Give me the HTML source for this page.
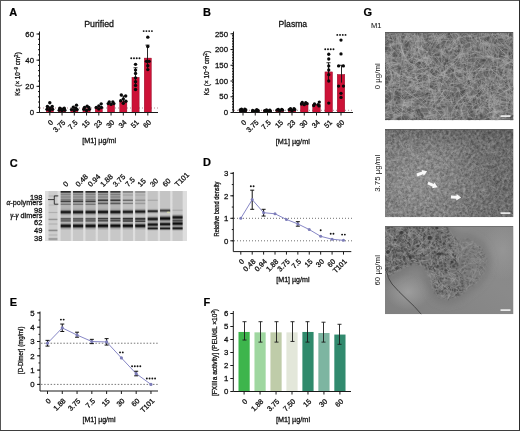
<!DOCTYPE html>
<html><head><meta charset="utf-8"><style>
html,body{margin:0;padding:0;background:#fff;}
svg{display:block;opacity:0.999;}
text{font-family:"Liberation Sans",sans-serif;}
</style></head><body>
<svg width="520" height="431" viewBox="0 0 520 431" font-family="Liberation Sans, sans-serif">
<defs>
<filter id="bl" x="-5%" y="-5%" width="110%" height="110%"><feGaussianBlur stdDeviation="0.65"/></filter>
<filter id="bl2"><feGaussianBlur stdDeviation="0.45"/></filter>
<filter id="turb1" x="0" y="0" width="100%" height="100%" color-interpolation-filters="sRGB"><feTurbulence type="fractalNoise" baseFrequency="0.12" numOctaves="2" seed="4"/><feColorMatrix type="matrix" values="1.6 0 0 0 -0.33  1.6 0 0 0 -0.33  1.6 0 0 0 -0.33  0 0 0 0 1"/></filter>
<filter id="turb2" x="0" y="0" width="100%" height="100%" color-interpolation-filters="sRGB"><feTurbulence type="fractalNoise" baseFrequency="0.35" numOctaves="2" seed="9"/><feColorMatrix type="matrix" values="1.6 0 0 0 -0.33  1.6 0 0 0 -0.33  1.6 0 0 0 -0.33  0 0 0 0 1"/></filter>
<filter id="bl5" x="-20%" y="-20%" width="140%" height="140%"><feGaussianBlur stdDeviation="3.5"/></filter>
<filter id="bl3"><feGaussianBlur stdDeviation="2"/></filter>
<filter id="bl4" x="-10%" y="-10%" width="120%" height="120%"><feGaussianBlur stdDeviation="1.3"/></filter>
</defs>
<rect width="520" height="431" fill="#fff"/>
<text x="9.30" y="15.80" font-size="11" text-anchor="start" fill="#000" stroke="#000" stroke-width="0.2" font-weight="bold">A</text>
<text x="203.00" y="15.60" font-size="11" text-anchor="start" fill="#000" stroke="#000" stroke-width="0.2" font-weight="bold">B</text>
<text x="9.70" y="166.70" font-size="11" text-anchor="start" fill="#000" stroke="#000" stroke-width="0.2" font-weight="bold">C</text>
<text x="203.00" y="166.40" font-size="11" text-anchor="start" fill="#000" stroke="#000" stroke-width="0.2" font-weight="bold">D</text>
<text x="9.70" y="305.80" font-size="11" text-anchor="start" fill="#000" stroke="#000" stroke-width="0.2" font-weight="bold">E</text>
<text x="203.40" y="305.80" font-size="11" text-anchor="start" fill="#000" stroke="#000" stroke-width="0.2" font-weight="bold">F</text>
<text x="363.50" y="15.80" font-size="11" text-anchor="start" fill="#000" stroke="#000" stroke-width="0.2" font-weight="bold">G</text>
<text x="99.10" y="26.50" font-size="8.8" text-anchor="middle" fill="#111" stroke="#111" stroke-width="0.28">Purified</text>
<line x1="40.00" y1="108.00" x2="159.00" y2="108.00" stroke="#a06a75" stroke-width="0.8" stroke-dasharray="1 2"/>
<rect x="46.20" y="107.92" width="7.20" height="4.58" fill="#cc1237" stroke="#8a0b25" stroke-width="0.4"/>
<circle cx="49.80" cy="102.82" r="1.7" fill="#0a0a0a" />
<circle cx="47.40" cy="106.48" r="1.7" fill="#0a0a0a" />
<circle cx="52.20" cy="106.48" r="1.7" fill="#0a0a0a" />
<circle cx="49.80" cy="107.92" r="1.7" fill="#0a0a0a" />
<circle cx="47.00" cy="109.36" r="1.7" fill="#0a0a0a" />
<circle cx="52.60" cy="109.36" r="1.7" fill="#0a0a0a" />
<circle cx="49.80" cy="110.41" r="1.7" fill="#0a0a0a" />
<rect x="58.45" y="109.23" width="7.20" height="3.27" fill="#cc1237" stroke="#8a0b25" stroke-width="0.4"/>
<circle cx="59.85" cy="108.18" r="1.7" fill="#0a0a0a" />
<circle cx="64.25" cy="108.18" r="1.7" fill="#0a0a0a" />
<circle cx="62.05" cy="109.10" r="1.7" fill="#0a0a0a" />
<circle cx="59.25" cy="110.14" r="1.7" fill="#0a0a0a" />
<circle cx="64.85" cy="110.14" r="1.7" fill="#0a0a0a" />
<circle cx="62.05" cy="110.54" r="1.7" fill="#0a0a0a" />
<rect x="70.70" y="109.23" width="7.20" height="3.27" fill="#cc1237" stroke="#8a0b25" stroke-width="0.4"/>
<circle cx="76.50" cy="105.17" r="1.7" fill="#0a0a0a" />
<circle cx="73.30" cy="107.27" r="1.7" fill="#0a0a0a" />
<circle cx="75.80" cy="108.31" r="1.7" fill="#0a0a0a" />
<circle cx="71.50" cy="109.62" r="1.7" fill="#0a0a0a" />
<circle cx="77.10" cy="109.62" r="1.7" fill="#0a0a0a" />
<circle cx="74.30" cy="110.54" r="1.7" fill="#0a0a0a" />
<rect x="82.95" y="108.58" width="7.20" height="3.92" fill="#cc1237" stroke="#8a0b25" stroke-width="0.4"/>
<circle cx="87.15" cy="106.22" r="1.7" fill="#0a0a0a" />
<circle cx="84.55" cy="107.53" r="1.7" fill="#0a0a0a" />
<circle cx="88.85" cy="107.53" r="1.7" fill="#0a0a0a" />
<circle cx="83.75" cy="109.36" r="1.7" fill="#0a0a0a" />
<circle cx="89.35" cy="109.36" r="1.7" fill="#0a0a0a" />
<circle cx="86.55" cy="110.41" r="1.7" fill="#0a0a0a" />
<rect x="95.20" y="107.27" width="7.20" height="5.23" fill="#cc1237" stroke="#8a0b25" stroke-width="0.4"/>
<circle cx="101.20" cy="103.86" r="1.7" fill="#0a0a0a" />
<circle cx="98.80" cy="105.96" r="1.7" fill="#0a0a0a" />
<circle cx="96.30" cy="107.53" r="1.7" fill="#0a0a0a" />
<circle cx="101.40" cy="107.53" r="1.7" fill="#0a0a0a" />
<circle cx="98.80" cy="109.10" r="1.7" fill="#0a0a0a" />
<rect x="107.45" y="104.65" width="7.20" height="7.85" fill="#cc1237" stroke="#8a0b25" stroke-width="0.4"/>
<circle cx="109.25" cy="102.03" r="1.7" fill="#0a0a0a" />
<circle cx="112.85" cy="102.03" r="1.7" fill="#0a0a0a" />
<circle cx="108.25" cy="103.60" r="1.7" fill="#0a0a0a" />
<circle cx="113.85" cy="103.60" r="1.7" fill="#0a0a0a" />
<circle cx="111.05" cy="104.39" r="1.7" fill="#0a0a0a" />
<rect x="119.70" y="101.25" width="7.20" height="11.25" fill="#cc1237" stroke="#8a0b25" stroke-width="0.4"/>
<line x1="123.50" y1="96.02" x2="123.50" y2="104.65" stroke="#111" stroke-width="0.9" />
<line x1="121.50" y1="96.02" x2="125.50" y2="96.02" stroke="#111" stroke-width="0.9" />
<circle cx="121.30" cy="94.97" r="1.7" fill="#0a0a0a" />
<circle cx="125.70" cy="96.02" r="1.7" fill="#0a0a0a" />
<circle cx="123.30" cy="99.02" r="1.7" fill="#0a0a0a" />
<circle cx="120.70" cy="100.72" r="1.7" fill="#0a0a0a" />
<circle cx="125.90" cy="101.25" r="1.7" fill="#0a0a0a" />
<circle cx="123.30" cy="103.34" r="1.7" fill="#0a0a0a" />
<rect x="131.95" y="77.31" width="7.20" height="35.19" fill="#cc1237" stroke="#8a0b25" stroke-width="0.4"/>
<line x1="135.50" y1="67.75" x2="135.50" y2="86.33" stroke="#111" stroke-width="0.9" />
<line x1="133.50" y1="67.75" x2="137.50" y2="67.75" stroke="#111" stroke-width="0.9" />
<circle cx="135.55" cy="64.35" r="1.7" fill="#0a0a0a" />
<circle cx="135.55" cy="70.11" r="1.7" fill="#0a0a0a" />
<circle cx="135.55" cy="73.38" r="1.7" fill="#0a0a0a" />
<circle cx="135.55" cy="77.83" r="1.7" fill="#0a0a0a" />
<circle cx="135.55" cy="81.75" r="1.7" fill="#0a0a0a" />
<circle cx="135.55" cy="85.42" r="1.7" fill="#0a0a0a" />
<circle cx="135.55" cy="89.47" r="1.7" fill="#0a0a0a" />
<rect x="144.20" y="58.07" width="7.20" height="54.43" fill="#cc1237" stroke="#8a0b25" stroke-width="0.4"/>
<line x1="147.50" y1="45.12" x2="147.50" y2="68.02" stroke="#111" stroke-width="0.9" />
<line x1="145.50" y1="45.12" x2="149.50" y2="45.12" stroke="#111" stroke-width="0.9" />
<circle cx="147.80" cy="37.14" r="1.7" fill="#0a0a0a" />
<circle cx="147.80" cy="46.43" r="1.7" fill="#0a0a0a" />
<circle cx="146.50" cy="61.34" r="1.7" fill="#0a0a0a" />
<circle cx="149.10" cy="61.34" r="1.7" fill="#0a0a0a" />
<circle cx="147.80" cy="65.79" r="1.7" fill="#0a0a0a" />
<circle cx="147.80" cy="69.59" r="1.7" fill="#0a0a0a" />
<line x1="39.50" y1="31.50" x2="39.50" y2="112.50" stroke="#1a1a1a" stroke-width="1" />
<line x1="36.50" y1="112.50" x2="39.50" y2="112.50" stroke="#1a1a1a" stroke-width="1" />
<text x="34.00" y="115.20" font-size="7.8" text-anchor="end" fill="#111" stroke="#111" stroke-width="0.28">0</text>
<line x1="36.50" y1="86.33" x2="39.50" y2="86.33" stroke="#1a1a1a" stroke-width="1" />
<text x="34.00" y="89.03" font-size="7.8" text-anchor="end" fill="#111" stroke="#111" stroke-width="0.28">20</text>
<line x1="36.50" y1="60.17" x2="39.50" y2="60.17" stroke="#1a1a1a" stroke-width="1" />
<text x="34.00" y="62.87" font-size="7.8" text-anchor="end" fill="#111" stroke="#111" stroke-width="0.28">40</text>
<line x1="36.50" y1="34.00" x2="39.50" y2="34.00" stroke="#1a1a1a" stroke-width="1" />
<text x="34.00" y="36.70" font-size="7.8" text-anchor="end" fill="#111" stroke="#111" stroke-width="0.28">60</text>
<line x1="38.00" y1="112.50" x2="39.50" y2="112.50" stroke="#1a1a1a" stroke-width="1" />
<line x1="38.00" y1="107.27" x2="39.50" y2="107.27" stroke="#1a1a1a" stroke-width="1" />
<line x1="38.00" y1="102.03" x2="39.50" y2="102.03" stroke="#1a1a1a" stroke-width="1" />
<line x1="38.00" y1="96.80" x2="39.50" y2="96.80" stroke="#1a1a1a" stroke-width="1" />
<line x1="38.00" y1="91.57" x2="39.50" y2="91.57" stroke="#1a1a1a" stroke-width="1" />
<line x1="38.00" y1="86.33" x2="39.50" y2="86.33" stroke="#1a1a1a" stroke-width="1" />
<line x1="38.00" y1="81.10" x2="39.50" y2="81.10" stroke="#1a1a1a" stroke-width="1" />
<line x1="38.00" y1="75.87" x2="39.50" y2="75.87" stroke="#1a1a1a" stroke-width="1" />
<line x1="38.00" y1="70.63" x2="39.50" y2="70.63" stroke="#1a1a1a" stroke-width="1" />
<line x1="38.00" y1="65.40" x2="39.50" y2="65.40" stroke="#1a1a1a" stroke-width="1" />
<line x1="38.00" y1="60.17" x2="39.50" y2="60.17" stroke="#1a1a1a" stroke-width="1" />
<line x1="38.00" y1="54.93" x2="39.50" y2="54.93" stroke="#1a1a1a" stroke-width="1" />
<line x1="38.00" y1="49.70" x2="39.50" y2="49.70" stroke="#1a1a1a" stroke-width="1" />
<line x1="38.00" y1="44.47" x2="39.50" y2="44.47" stroke="#1a1a1a" stroke-width="1" />
<line x1="38.00" y1="39.23" x2="39.50" y2="39.23" stroke="#1a1a1a" stroke-width="1" />
<line x1="38.00" y1="34.00" x2="39.50" y2="34.00" stroke="#1a1a1a" stroke-width="1" />
<line x1="39.50" y1="112.50" x2="158.00" y2="112.50" stroke="#1a1a1a" stroke-width="1" />
<line x1="49.80" y1="112.50" x2="49.80" y2="115.50" stroke="#1a1a1a" stroke-width="1" />
<text x="53.60" y="122.90" font-size="7.2" text-anchor="end" fill="#111" stroke="#111" stroke-width="0.28" transform="rotate(-45 53.60 122.90)">0</text>
<line x1="62.05" y1="112.50" x2="62.05" y2="115.50" stroke="#1a1a1a" stroke-width="1" />
<text x="65.85" y="122.90" font-size="7.2" text-anchor="end" fill="#111" stroke="#111" stroke-width="0.28" transform="rotate(-45 65.85 122.90)">3.75</text>
<line x1="74.30" y1="112.50" x2="74.30" y2="115.50" stroke="#1a1a1a" stroke-width="1" />
<text x="78.10" y="122.90" font-size="7.2" text-anchor="end" fill="#111" stroke="#111" stroke-width="0.28" transform="rotate(-45 78.10 122.90)">7.5</text>
<line x1="86.55" y1="112.50" x2="86.55" y2="115.50" stroke="#1a1a1a" stroke-width="1" />
<text x="90.35" y="122.90" font-size="7.2" text-anchor="end" fill="#111" stroke="#111" stroke-width="0.28" transform="rotate(-45 90.35 122.90)">15</text>
<line x1="98.80" y1="112.50" x2="98.80" y2="115.50" stroke="#1a1a1a" stroke-width="1" />
<text x="102.60" y="122.90" font-size="7.2" text-anchor="end" fill="#111" stroke="#111" stroke-width="0.28" transform="rotate(-45 102.60 122.90)">23</text>
<line x1="111.05" y1="112.50" x2="111.05" y2="115.50" stroke="#1a1a1a" stroke-width="1" />
<text x="114.85" y="122.90" font-size="7.2" text-anchor="end" fill="#111" stroke="#111" stroke-width="0.28" transform="rotate(-45 114.85 122.90)">30</text>
<line x1="123.30" y1="112.50" x2="123.30" y2="115.50" stroke="#1a1a1a" stroke-width="1" />
<text x="127.10" y="122.90" font-size="7.2" text-anchor="end" fill="#111" stroke="#111" stroke-width="0.28" transform="rotate(-45 127.10 122.90)">34</text>
<line x1="135.55" y1="112.50" x2="135.55" y2="115.50" stroke="#1a1a1a" stroke-width="1" />
<text x="139.35" y="122.90" font-size="7.2" text-anchor="end" fill="#111" stroke="#111" stroke-width="0.28" transform="rotate(-45 139.35 122.90)">51</text>
<line x1="147.80" y1="112.50" x2="147.80" y2="115.50" stroke="#1a1a1a" stroke-width="1" />
<text x="151.60" y="122.90" font-size="7.2" text-anchor="end" fill="#111" stroke="#111" stroke-width="0.28" transform="rotate(-45 151.60 122.90)">60</text>
<circle cx="131.23" cy="58.30" r="0.95" fill="#111" />
<circle cx="133.98" cy="58.30" r="0.95" fill="#111" />
<circle cx="136.73" cy="58.30" r="0.95" fill="#111" />
<circle cx="139.48" cy="58.30" r="0.95" fill="#111" />
<circle cx="143.68" cy="31.10" r="0.95" fill="#111" />
<circle cx="146.43" cy="31.10" r="0.95" fill="#111" />
<circle cx="149.18" cy="31.10" r="0.95" fill="#111" />
<circle cx="151.93" cy="31.10" r="0.95" fill="#111" />
<text x="20.30" y="74.00" font-size="6.8" text-anchor="middle" fill="#111" stroke="#111" stroke-width="0.28" textLength="43.5" lengthAdjust="spacingAndGlyphs" transform="rotate(-90 20.30 74.00)">Ks (× 10<tspan font-size="5" dy="-2.6">−9</tspan><tspan dy="2.6"> cm</tspan><tspan font-size="5" dy="-2.6">2</tspan><tspan dy="2.6">)</tspan></text>
<text x="99.20" y="143.30" font-size="7.6" text-anchor="middle" fill="#111" stroke="#111" stroke-width="0.28" textLength="34" lengthAdjust="spacingAndGlyphs">[M1] µg/ml</text>
<text x="292.80" y="26.50" font-size="8.6" text-anchor="middle" fill="#111" stroke="#111" stroke-width="0.28">Plasma</text>
<line x1="234.00" y1="110.30" x2="352.00" y2="110.30" stroke="#9a6a78" stroke-width="0.8" stroke-dasharray="1 2"/>
<rect x="239.20" y="109.98" width="7.60" height="2.52" fill="#cc1237" stroke="#8a0b25" stroke-width="0.4"/>
<circle cx="241.50" cy="109.04" r="1.65" fill="#0a0a0a" />
<circle cx="244.80" cy="109.04" r="1.65" fill="#0a0a0a" />
<circle cx="240.20" cy="109.98" r="1.65" fill="#0a0a0a" />
<circle cx="245.80" cy="109.98" r="1.65" fill="#0a0a0a" />
<circle cx="243.00" cy="110.61" r="1.65" fill="#0a0a0a" />
<circle cx="241.00" cy="110.93" r="1.65" fill="#0a0a0a" />
<circle cx="245.00" cy="110.93" r="1.65" fill="#0a0a0a" />
<rect x="251.45" y="110.61" width="7.60" height="1.89" fill="#cc1237" stroke="#8a0b25" stroke-width="0.4"/>
<circle cx="256.75" cy="109.67" r="1.65" fill="#0a0a0a" />
<circle cx="252.65" cy="110.30" r="1.65" fill="#0a0a0a" />
<circle cx="258.05" cy="110.45" r="1.65" fill="#0a0a0a" />
<circle cx="255.25" cy="110.93" r="1.65" fill="#0a0a0a" />
<circle cx="252.65" cy="111.24" r="1.65" fill="#0a0a0a" />
<circle cx="257.85" cy="111.24" r="1.65" fill="#0a0a0a" />
<rect x="263.70" y="110.61" width="7.60" height="1.89" fill="#cc1237" stroke="#8a0b25" stroke-width="0.4"/>
<circle cx="266.50" cy="109.82" r="1.65" fill="#0a0a0a" />
<circle cx="269.90" cy="110.14" r="1.65" fill="#0a0a0a" />
<circle cx="264.70" cy="110.61" r="1.65" fill="#0a0a0a" />
<circle cx="268.50" cy="110.93" r="1.65" fill="#0a0a0a" />
<circle cx="270.30" cy="111.24" r="1.65" fill="#0a0a0a" />
<circle cx="266.00" cy="111.40" r="1.65" fill="#0a0a0a" />
<rect x="275.95" y="110.30" width="7.60" height="2.20" fill="#cc1237" stroke="#8a0b25" stroke-width="0.4"/>
<circle cx="278.25" cy="109.35" r="1.65" fill="#0a0a0a" />
<circle cx="281.75" cy="109.35" r="1.65" fill="#0a0a0a" />
<circle cx="276.95" cy="110.14" r="1.65" fill="#0a0a0a" />
<circle cx="282.55" cy="110.14" r="1.65" fill="#0a0a0a" />
<circle cx="279.75" cy="110.61" r="1.65" fill="#0a0a0a" />
<circle cx="279.75" cy="111.08" r="1.65" fill="#0a0a0a" />
<rect x="288.20" y="109.67" width="7.60" height="2.83" fill="#cc1237" stroke="#8a0b25" stroke-width="0.4"/>
<circle cx="290.50" cy="108.56" r="1.65" fill="#0a0a0a" />
<circle cx="294.00" cy="108.72" r="1.65" fill="#0a0a0a" />
<circle cx="289.20" cy="109.67" r="1.65" fill="#0a0a0a" />
<circle cx="294.80" cy="109.67" r="1.65" fill="#0a0a0a" />
<circle cx="292.00" cy="110.30" r="1.65" fill="#0a0a0a" />
<circle cx="292.00" cy="110.93" r="1.65" fill="#0a0a0a" />
<rect x="300.45" y="103.06" width="7.60" height="9.44" fill="#cc1237" stroke="#8a0b25" stroke-width="0.4"/>
<circle cx="302.25" cy="102.43" r="1.65" fill="#0a0a0a" />
<circle cx="305.75" cy="102.74" r="1.65" fill="#0a0a0a" />
<circle cx="307.05" cy="103.69" r="1.65" fill="#0a0a0a" />
<circle cx="301.45" cy="104.00" r="1.65" fill="#0a0a0a" />
<circle cx="304.25" cy="104.63" r="1.65" fill="#0a0a0a" />
<rect x="312.70" y="104.32" width="7.60" height="8.18" fill="#cc1237" stroke="#8a0b25" stroke-width="0.4"/>
<circle cx="319.30" cy="102.11" r="1.65" fill="#0a0a0a" />
<circle cx="314.50" cy="104.00" r="1.65" fill="#0a0a0a" />
<circle cx="318.00" cy="104.63" r="1.65" fill="#0a0a0a" />
<circle cx="313.70" cy="105.57" r="1.65" fill="#0a0a0a" />
<circle cx="319.00" cy="105.89" r="1.65" fill="#0a0a0a" />
<rect x="324.95" y="71.89" width="7.60" height="40.61" fill="#cc1237" stroke="#8a0b25" stroke-width="0.4"/>
<line x1="328.50" y1="62.76" x2="328.50" y2="81.02" stroke="#111" stroke-width="0.9" />
<line x1="326.50" y1="62.76" x2="330.50" y2="62.76" stroke="#111" stroke-width="0.9" />
<circle cx="328.75" cy="54.26" r="1.65" fill="#0a0a0a" />
<circle cx="328.75" cy="58.98" r="1.65" fill="#0a0a0a" />
<circle cx="328.75" cy="65.91" r="1.65" fill="#0a0a0a" />
<circle cx="328.75" cy="70.00" r="1.65" fill="#0a0a0a" />
<circle cx="328.75" cy="74.72" r="1.65" fill="#0a0a0a" />
<circle cx="328.75" cy="81.02" r="1.65" fill="#0a0a0a" />
<circle cx="328.75" cy="103.06" r="1.65" fill="#0a0a0a" />
<rect x="337.20" y="74.41" width="7.60" height="38.09" fill="#cc1237" stroke="#8a0b25" stroke-width="0.4"/>
<line x1="341.50" y1="65.28" x2="341.50" y2="82.59" stroke="#111" stroke-width="0.9" />
<line x1="339.50" y1="65.28" x2="343.50" y2="65.28" stroke="#111" stroke-width="0.9" />
<circle cx="341.00" cy="40.10" r="1.65" fill="#0a0a0a" />
<circle cx="341.00" cy="53.95" r="1.65" fill="#0a0a0a" />
<circle cx="338.60" cy="65.91" r="1.65" fill="#0a0a0a" />
<circle cx="343.40" cy="65.91" r="1.65" fill="#0a0a0a" />
<circle cx="338.60" cy="86.06" r="1.65" fill="#0a0a0a" />
<circle cx="343.40" cy="86.06" r="1.65" fill="#0a0a0a" />
<circle cx="341.00" cy="93.30" r="1.65" fill="#0a0a0a" />
<circle cx="341.00" cy="97.39" r="1.65" fill="#0a0a0a" />
<line x1="233.50" y1="31.50" x2="233.50" y2="112.50" stroke="#1a1a1a" stroke-width="1" />
<line x1="230.50" y1="112.50" x2="233.50" y2="112.50" stroke="#1a1a1a" stroke-width="1" />
<text x="228.00" y="115.20" font-size="7.8" text-anchor="end" fill="#111" stroke="#111" stroke-width="0.28">0</text>
<line x1="230.50" y1="96.76" x2="233.50" y2="96.76" stroke="#1a1a1a" stroke-width="1" />
<text x="228.00" y="99.46" font-size="7.8" text-anchor="end" fill="#111" stroke="#111" stroke-width="0.28">50</text>
<line x1="230.50" y1="81.02" x2="233.50" y2="81.02" stroke="#1a1a1a" stroke-width="1" />
<text x="228.00" y="83.72" font-size="7.8" text-anchor="end" fill="#111" stroke="#111" stroke-width="0.28">100</text>
<line x1="230.50" y1="65.28" x2="233.50" y2="65.28" stroke="#1a1a1a" stroke-width="1" />
<text x="228.00" y="67.98" font-size="7.8" text-anchor="end" fill="#111" stroke="#111" stroke-width="0.28">150</text>
<line x1="230.50" y1="49.54" x2="233.50" y2="49.54" stroke="#1a1a1a" stroke-width="1" />
<text x="228.00" y="52.24" font-size="7.8" text-anchor="end" fill="#111" stroke="#111" stroke-width="0.28">200</text>
<line x1="230.50" y1="33.80" x2="233.50" y2="33.80" stroke="#1a1a1a" stroke-width="1" />
<text x="228.00" y="36.50" font-size="7.8" text-anchor="end" fill="#111" stroke="#111" stroke-width="0.28">250</text>
<line x1="232.00" y1="112.50" x2="233.50" y2="112.50" stroke="#1a1a1a" stroke-width="1" />
<line x1="232.00" y1="110.93" x2="233.50" y2="110.93" stroke="#1a1a1a" stroke-width="1" />
<line x1="232.00" y1="109.35" x2="233.50" y2="109.35" stroke="#1a1a1a" stroke-width="1" />
<line x1="232.00" y1="107.78" x2="233.50" y2="107.78" stroke="#1a1a1a" stroke-width="1" />
<line x1="232.00" y1="106.20" x2="233.50" y2="106.20" stroke="#1a1a1a" stroke-width="1" />
<line x1="232.00" y1="104.63" x2="233.50" y2="104.63" stroke="#1a1a1a" stroke-width="1" />
<line x1="232.00" y1="103.06" x2="233.50" y2="103.06" stroke="#1a1a1a" stroke-width="1" />
<line x1="232.00" y1="101.48" x2="233.50" y2="101.48" stroke="#1a1a1a" stroke-width="1" />
<line x1="232.00" y1="99.91" x2="233.50" y2="99.91" stroke="#1a1a1a" stroke-width="1" />
<line x1="232.00" y1="98.33" x2="233.50" y2="98.33" stroke="#1a1a1a" stroke-width="1" />
<line x1="232.00" y1="96.76" x2="233.50" y2="96.76" stroke="#1a1a1a" stroke-width="1" />
<line x1="232.00" y1="95.19" x2="233.50" y2="95.19" stroke="#1a1a1a" stroke-width="1" />
<line x1="232.00" y1="93.61" x2="233.50" y2="93.61" stroke="#1a1a1a" stroke-width="1" />
<line x1="232.00" y1="92.04" x2="233.50" y2="92.04" stroke="#1a1a1a" stroke-width="1" />
<line x1="232.00" y1="90.46" x2="233.50" y2="90.46" stroke="#1a1a1a" stroke-width="1" />
<line x1="232.00" y1="88.89" x2="233.50" y2="88.89" stroke="#1a1a1a" stroke-width="1" />
<line x1="232.00" y1="87.32" x2="233.50" y2="87.32" stroke="#1a1a1a" stroke-width="1" />
<line x1="232.00" y1="85.74" x2="233.50" y2="85.74" stroke="#1a1a1a" stroke-width="1" />
<line x1="232.00" y1="84.17" x2="233.50" y2="84.17" stroke="#1a1a1a" stroke-width="1" />
<line x1="232.00" y1="82.59" x2="233.50" y2="82.59" stroke="#1a1a1a" stroke-width="1" />
<line x1="232.00" y1="81.02" x2="233.50" y2="81.02" stroke="#1a1a1a" stroke-width="1" />
<line x1="232.00" y1="79.45" x2="233.50" y2="79.45" stroke="#1a1a1a" stroke-width="1" />
<line x1="232.00" y1="77.87" x2="233.50" y2="77.87" stroke="#1a1a1a" stroke-width="1" />
<line x1="232.00" y1="76.30" x2="233.50" y2="76.30" stroke="#1a1a1a" stroke-width="1" />
<line x1="232.00" y1="74.72" x2="233.50" y2="74.72" stroke="#1a1a1a" stroke-width="1" />
<line x1="232.00" y1="73.15" x2="233.50" y2="73.15" stroke="#1a1a1a" stroke-width="1" />
<line x1="232.00" y1="71.58" x2="233.50" y2="71.58" stroke="#1a1a1a" stroke-width="1" />
<line x1="232.00" y1="70.00" x2="233.50" y2="70.00" stroke="#1a1a1a" stroke-width="1" />
<line x1="232.00" y1="68.43" x2="233.50" y2="68.43" stroke="#1a1a1a" stroke-width="1" />
<line x1="232.00" y1="66.85" x2="233.50" y2="66.85" stroke="#1a1a1a" stroke-width="1" />
<line x1="232.00" y1="65.28" x2="233.50" y2="65.28" stroke="#1a1a1a" stroke-width="1" />
<line x1="232.00" y1="63.71" x2="233.50" y2="63.71" stroke="#1a1a1a" stroke-width="1" />
<line x1="232.00" y1="62.13" x2="233.50" y2="62.13" stroke="#1a1a1a" stroke-width="1" />
<line x1="232.00" y1="60.56" x2="233.50" y2="60.56" stroke="#1a1a1a" stroke-width="1" />
<line x1="232.00" y1="58.98" x2="233.50" y2="58.98" stroke="#1a1a1a" stroke-width="1" />
<line x1="232.00" y1="57.41" x2="233.50" y2="57.41" stroke="#1a1a1a" stroke-width="1" />
<line x1="232.00" y1="55.84" x2="233.50" y2="55.84" stroke="#1a1a1a" stroke-width="1" />
<line x1="232.00" y1="54.26" x2="233.50" y2="54.26" stroke="#1a1a1a" stroke-width="1" />
<line x1="232.00" y1="52.69" x2="233.50" y2="52.69" stroke="#1a1a1a" stroke-width="1" />
<line x1="232.00" y1="51.11" x2="233.50" y2="51.11" stroke="#1a1a1a" stroke-width="1" />
<line x1="232.00" y1="49.54" x2="233.50" y2="49.54" stroke="#1a1a1a" stroke-width="1" />
<line x1="232.00" y1="47.97" x2="233.50" y2="47.97" stroke="#1a1a1a" stroke-width="1" />
<line x1="232.00" y1="46.39" x2="233.50" y2="46.39" stroke="#1a1a1a" stroke-width="1" />
<line x1="232.00" y1="44.82" x2="233.50" y2="44.82" stroke="#1a1a1a" stroke-width="1" />
<line x1="232.00" y1="43.24" x2="233.50" y2="43.24" stroke="#1a1a1a" stroke-width="1" />
<line x1="232.00" y1="41.67" x2="233.50" y2="41.67" stroke="#1a1a1a" stroke-width="1" />
<line x1="232.00" y1="40.10" x2="233.50" y2="40.10" stroke="#1a1a1a" stroke-width="1" />
<line x1="232.00" y1="38.52" x2="233.50" y2="38.52" stroke="#1a1a1a" stroke-width="1" />
<line x1="232.00" y1="36.95" x2="233.50" y2="36.95" stroke="#1a1a1a" stroke-width="1" />
<line x1="232.00" y1="35.37" x2="233.50" y2="35.37" stroke="#1a1a1a" stroke-width="1" />
<line x1="232.00" y1="33.80" x2="233.50" y2="33.80" stroke="#1a1a1a" stroke-width="1" />
<line x1="233.50" y1="112.50" x2="353.00" y2="112.50" stroke="#1a1a1a" stroke-width="1" />
<line x1="243.00" y1="112.50" x2="243.00" y2="115.50" stroke="#1a1a1a" stroke-width="1" />
<text x="246.80" y="122.90" font-size="7.2" text-anchor="end" fill="#111" stroke="#111" stroke-width="0.28" transform="rotate(-45 246.80 122.90)">0</text>
<line x1="255.25" y1="112.50" x2="255.25" y2="115.50" stroke="#1a1a1a" stroke-width="1" />
<text x="259.05" y="122.90" font-size="7.2" text-anchor="end" fill="#111" stroke="#111" stroke-width="0.28" transform="rotate(-45 259.05 122.90)">3.75</text>
<line x1="267.50" y1="112.50" x2="267.50" y2="115.50" stroke="#1a1a1a" stroke-width="1" />
<text x="271.30" y="122.90" font-size="7.2" text-anchor="end" fill="#111" stroke="#111" stroke-width="0.28" transform="rotate(-45 271.30 122.90)">7.5</text>
<line x1="279.75" y1="112.50" x2="279.75" y2="115.50" stroke="#1a1a1a" stroke-width="1" />
<text x="283.55" y="122.90" font-size="7.2" text-anchor="end" fill="#111" stroke="#111" stroke-width="0.28" transform="rotate(-45 283.55 122.90)">15</text>
<line x1="292.00" y1="112.50" x2="292.00" y2="115.50" stroke="#1a1a1a" stroke-width="1" />
<text x="295.80" y="122.90" font-size="7.2" text-anchor="end" fill="#111" stroke="#111" stroke-width="0.28" transform="rotate(-45 295.80 122.90)">23</text>
<line x1="304.25" y1="112.50" x2="304.25" y2="115.50" stroke="#1a1a1a" stroke-width="1" />
<text x="308.05" y="122.90" font-size="7.2" text-anchor="end" fill="#111" stroke="#111" stroke-width="0.28" transform="rotate(-45 308.05 122.90)">30</text>
<line x1="316.50" y1="112.50" x2="316.50" y2="115.50" stroke="#1a1a1a" stroke-width="1" />
<text x="320.30" y="122.90" font-size="7.2" text-anchor="end" fill="#111" stroke="#111" stroke-width="0.28" transform="rotate(-45 320.30 122.90)">34</text>
<line x1="328.75" y1="112.50" x2="328.75" y2="115.50" stroke="#1a1a1a" stroke-width="1" />
<text x="332.55" y="122.90" font-size="7.2" text-anchor="end" fill="#111" stroke="#111" stroke-width="0.28" transform="rotate(-45 332.55 122.90)">51</text>
<line x1="341.00" y1="112.50" x2="341.00" y2="115.50" stroke="#1a1a1a" stroke-width="1" />
<text x="344.80" y="122.90" font-size="7.2" text-anchor="end" fill="#111" stroke="#111" stroke-width="0.28" transform="rotate(-45 344.80 122.90)">60</text>
<circle cx="325.23" cy="49.20" r="0.95" fill="#111" />
<circle cx="327.98" cy="49.20" r="0.95" fill="#111" />
<circle cx="330.73" cy="49.20" r="0.95" fill="#111" />
<circle cx="333.48" cy="49.20" r="0.95" fill="#111" />
<circle cx="337.27" cy="34.90" r="0.95" fill="#111" />
<circle cx="340.02" cy="34.90" r="0.95" fill="#111" />
<circle cx="342.77" cy="34.90" r="0.95" fill="#111" />
<circle cx="345.52" cy="34.90" r="0.95" fill="#111" />
<text x="209.50" y="73.20" font-size="6.8" text-anchor="middle" fill="#111" stroke="#111" stroke-width="0.28" textLength="44.5" lengthAdjust="spacingAndGlyphs" transform="rotate(-90 209.50 73.20)">Ks (× 10<tspan font-size="5" dy="-2.6">−9</tspan><tspan dy="2.6"> cm</tspan><tspan font-size="5" dy="-2.6">2</tspan><tspan dy="2.6">)</tspan></text>
<text x="292.80" y="143.60" font-size="7.6" text-anchor="middle" fill="#111" stroke="#111" stroke-width="0.28" textLength="34" lengthAdjust="spacingAndGlyphs">[M1] µg/ml</text>
<rect x="45.00" y="191.00" width="142.00" height="50.00" fill="#dedede" />
<linearGradient id="ln0" x1="0" y1="0" x2="0" y2="1"><stop offset="0.000" stop-color="#464646"/><stop offset="0.010" stop-color="#2b2b2b"/><stop offset="0.020" stop-color="#2e2e2e"/><stop offset="0.030" stop-color="#4d4d4d"/><stop offset="0.040" stop-color="#898989"/><stop offset="0.050" stop-color="#989898"/><stop offset="0.060" stop-color="#8f8f8f"/><stop offset="0.070" stop-color="#828282"/><stop offset="0.080" stop-color="#8f8f8f"/><stop offset="0.090" stop-color="#9d9d9d"/><stop offset="0.100" stop-color="#9d9d9d"/><stop offset="0.110" stop-color="#8f8f8f"/><stop offset="0.120" stop-color="#828282"/><stop offset="0.130" stop-color="#8f8f8f"/><stop offset="0.140" stop-color="#9d9d9d"/><stop offset="0.150" stop-color="#9c9c9c"/><stop offset="0.160" stop-color="#8d8d8d"/><stop offset="0.170" stop-color="#7d7d7d"/><stop offset="0.180" stop-color="#868686"/><stop offset="0.190" stop-color="#777777"/><stop offset="0.200" stop-color="#484848"/><stop offset="0.210" stop-color="#414141"/><stop offset="0.220" stop-color="#6f6f6f"/><stop offset="0.230" stop-color="#949494"/><stop offset="0.240" stop-color="#a0a0a0"/><stop offset="0.250" stop-color="#969696"/><stop offset="0.260" stop-color="#7b7b7b"/><stop offset="0.270" stop-color="#777777"/><stop offset="0.280" stop-color="#929292"/><stop offset="0.290" stop-color="#b2b2b2"/><stop offset="0.300" stop-color="#b4b4b4"/><stop offset="0.310" stop-color="#b4b4b4"/><stop offset="0.320" stop-color="#b4b4b4"/><stop offset="0.330" stop-color="#b4b4b4"/><stop offset="0.340" stop-color="#b4b4b4"/><stop offset="0.350" stop-color="#b0b0b0"/><stop offset="0.360" stop-color="#b4b4b4"/><stop offset="0.370" stop-color="#a7a7a7"/><stop offset="0.380" stop-color="#909090"/><stop offset="0.390" stop-color="#6f6f6f"/><stop offset="0.400" stop-color="#474747"/><stop offset="0.410" stop-color="#252525"/><stop offset="0.420" stop-color="#141414"/><stop offset="0.430" stop-color="#1b1b1b"/><stop offset="0.440" stop-color="#383838"/><stop offset="0.450" stop-color="#5f5f5f"/><stop offset="0.460" stop-color="#848484"/><stop offset="0.470" stop-color="#9f9f9f"/><stop offset="0.480" stop-color="#b0b0b0"/><stop offset="0.490" stop-color="#b8b8b8"/><stop offset="0.500" stop-color="#bebebe"/><stop offset="0.510" stop-color="#bebebe"/><stop offset="0.520" stop-color="#bababa"/><stop offset="0.530" stop-color="#adadad"/><stop offset="0.540" stop-color="#8a8a8a"/><stop offset="0.550" stop-color="#5b5b5b"/><stop offset="0.560" stop-color="#4c4c4c"/><stop offset="0.570" stop-color="#6b6b6b"/><stop offset="0.580" stop-color="#808080"/><stop offset="0.590" stop-color="#656565"/><stop offset="0.600" stop-color="#565656"/><stop offset="0.610" stop-color="#797979"/><stop offset="0.620" stop-color="#a5a5a5"/><stop offset="0.630" stop-color="#b1b1b1"/><stop offset="0.640" stop-color="#ababab"/><stop offset="0.650" stop-color="#989898"/><stop offset="0.660" stop-color="#7b7b7b"/><stop offset="0.670" stop-color="#555555"/><stop offset="0.680" stop-color="#2f2f2f"/><stop offset="0.690" stop-color="#131313"/><stop offset="0.700" stop-color="#0c0c0c"/><stop offset="0.710" stop-color="#1c1c1c"/><stop offset="0.720" stop-color="#3d3d3d"/><stop offset="0.730" stop-color="#656565"/><stop offset="0.740" stop-color="#888888"/><stop offset="0.750" stop-color="#a1a1a1"/><stop offset="0.760" stop-color="#b0b0b0"/><stop offset="0.770" stop-color="#b8b8b8"/><stop offset="0.780" stop-color="#c8c8c8"/><stop offset="0.790" stop-color="#c8c8c8"/><stop offset="0.800" stop-color="#c8c8c8"/><stop offset="0.810" stop-color="#c8c8c8"/><stop offset="0.820" stop-color="#c8c8c8"/><stop offset="0.830" stop-color="#c8c8c8"/><stop offset="0.840" stop-color="#c8c8c8"/><stop offset="0.850" stop-color="#c8c8c8"/><stop offset="0.860" stop-color="#c8c8c8"/><stop offset="0.870" stop-color="#c8c8c8"/><stop offset="0.880" stop-color="#c8c8c8"/><stop offset="0.890" stop-color="#c8c8c8"/><stop offset="0.900" stop-color="#c8c8c8"/><stop offset="0.910" stop-color="#c8c8c8"/><stop offset="0.920" stop-color="#c8c8c8"/><stop offset="0.930" stop-color="#c8c8c8"/><stop offset="0.940" stop-color="#c8c8c8"/><stop offset="0.950" stop-color="#c8c8c8"/><stop offset="0.960" stop-color="#c8c8c8"/><stop offset="0.970" stop-color="#c8c8c8"/><stop offset="0.980" stop-color="#c8c8c8"/><stop offset="0.990" stop-color="#c8c8c8"/><stop offset="1.000" stop-color="#c8c8c8"/></linearGradient>
<linearGradient id="ln1" x1="0" y1="0" x2="0" y2="1"><stop offset="0.000" stop-color="#464646"/><stop offset="0.010" stop-color="#2b2b2b"/><stop offset="0.020" stop-color="#2e2e2e"/><stop offset="0.030" stop-color="#4d4d4d"/><stop offset="0.040" stop-color="#898989"/><stop offset="0.050" stop-color="#989898"/><stop offset="0.060" stop-color="#8f8f8f"/><stop offset="0.070" stop-color="#828282"/><stop offset="0.080" stop-color="#8f8f8f"/><stop offset="0.090" stop-color="#9d9d9d"/><stop offset="0.100" stop-color="#9d9d9d"/><stop offset="0.110" stop-color="#8f8f8f"/><stop offset="0.120" stop-color="#828282"/><stop offset="0.130" stop-color="#8f8f8f"/><stop offset="0.140" stop-color="#9d9d9d"/><stop offset="0.150" stop-color="#9c9c9c"/><stop offset="0.160" stop-color="#8d8d8d"/><stop offset="0.170" stop-color="#7d7d7d"/><stop offset="0.180" stop-color="#868686"/><stop offset="0.190" stop-color="#777777"/><stop offset="0.200" stop-color="#484848"/><stop offset="0.210" stop-color="#414141"/><stop offset="0.220" stop-color="#6f6f6f"/><stop offset="0.230" stop-color="#949494"/><stop offset="0.240" stop-color="#a0a0a0"/><stop offset="0.250" stop-color="#969696"/><stop offset="0.260" stop-color="#7b7b7b"/><stop offset="0.270" stop-color="#777777"/><stop offset="0.280" stop-color="#929292"/><stop offset="0.290" stop-color="#b2b2b2"/><stop offset="0.300" stop-color="#b4b4b4"/><stop offset="0.310" stop-color="#b4b4b4"/><stop offset="0.320" stop-color="#b4b4b4"/><stop offset="0.330" stop-color="#b4b4b4"/><stop offset="0.340" stop-color="#b4b4b4"/><stop offset="0.350" stop-color="#b0b0b0"/><stop offset="0.360" stop-color="#b4b4b4"/><stop offset="0.370" stop-color="#a7a7a7"/><stop offset="0.380" stop-color="#909090"/><stop offset="0.390" stop-color="#6f6f6f"/><stop offset="0.400" stop-color="#474747"/><stop offset="0.410" stop-color="#252525"/><stop offset="0.420" stop-color="#141414"/><stop offset="0.430" stop-color="#1b1b1b"/><stop offset="0.440" stop-color="#383838"/><stop offset="0.450" stop-color="#5f5f5f"/><stop offset="0.460" stop-color="#848484"/><stop offset="0.470" stop-color="#9f9f9f"/><stop offset="0.480" stop-color="#b0b0b0"/><stop offset="0.490" stop-color="#b8b8b8"/><stop offset="0.500" stop-color="#bebebe"/><stop offset="0.510" stop-color="#bebebe"/><stop offset="0.520" stop-color="#bababa"/><stop offset="0.530" stop-color="#adadad"/><stop offset="0.540" stop-color="#8a8a8a"/><stop offset="0.550" stop-color="#5b5b5b"/><stop offset="0.560" stop-color="#4c4c4c"/><stop offset="0.570" stop-color="#6b6b6b"/><stop offset="0.580" stop-color="#808080"/><stop offset="0.590" stop-color="#656565"/><stop offset="0.600" stop-color="#565656"/><stop offset="0.610" stop-color="#797979"/><stop offset="0.620" stop-color="#a5a5a5"/><stop offset="0.630" stop-color="#b1b1b1"/><stop offset="0.640" stop-color="#ababab"/><stop offset="0.650" stop-color="#989898"/><stop offset="0.660" stop-color="#7b7b7b"/><stop offset="0.670" stop-color="#555555"/><stop offset="0.680" stop-color="#2f2f2f"/><stop offset="0.690" stop-color="#131313"/><stop offset="0.700" stop-color="#0c0c0c"/><stop offset="0.710" stop-color="#1c1c1c"/><stop offset="0.720" stop-color="#3d3d3d"/><stop offset="0.730" stop-color="#656565"/><stop offset="0.740" stop-color="#888888"/><stop offset="0.750" stop-color="#a1a1a1"/><stop offset="0.760" stop-color="#b0b0b0"/><stop offset="0.770" stop-color="#b8b8b8"/><stop offset="0.780" stop-color="#c8c8c8"/><stop offset="0.790" stop-color="#c8c8c8"/><stop offset="0.800" stop-color="#c8c8c8"/><stop offset="0.810" stop-color="#c8c8c8"/><stop offset="0.820" stop-color="#c8c8c8"/><stop offset="0.830" stop-color="#c8c8c8"/><stop offset="0.840" stop-color="#c8c8c8"/><stop offset="0.850" stop-color="#c8c8c8"/><stop offset="0.860" stop-color="#c8c8c8"/><stop offset="0.870" stop-color="#c8c8c8"/><stop offset="0.880" stop-color="#c8c8c8"/><stop offset="0.890" stop-color="#c8c8c8"/><stop offset="0.900" stop-color="#c8c8c8"/><stop offset="0.910" stop-color="#c8c8c8"/><stop offset="0.920" stop-color="#c8c8c8"/><stop offset="0.930" stop-color="#c8c8c8"/><stop offset="0.940" stop-color="#c8c8c8"/><stop offset="0.950" stop-color="#c8c8c8"/><stop offset="0.960" stop-color="#c8c8c8"/><stop offset="0.970" stop-color="#c8c8c8"/><stop offset="0.980" stop-color="#c8c8c8"/><stop offset="0.990" stop-color="#c8c8c8"/><stop offset="1.000" stop-color="#c8c8c8"/></linearGradient>
<linearGradient id="ln2" x1="0" y1="0" x2="0" y2="1"><stop offset="0.000" stop-color="#464646"/><stop offset="0.010" stop-color="#2b2b2b"/><stop offset="0.020" stop-color="#2e2e2e"/><stop offset="0.030" stop-color="#4d4d4d"/><stop offset="0.040" stop-color="#898989"/><stop offset="0.050" stop-color="#989898"/><stop offset="0.060" stop-color="#8f8f8f"/><stop offset="0.070" stop-color="#828282"/><stop offset="0.080" stop-color="#8f8f8f"/><stop offset="0.090" stop-color="#9d9d9d"/><stop offset="0.100" stop-color="#9d9d9d"/><stop offset="0.110" stop-color="#8f8f8f"/><stop offset="0.120" stop-color="#828282"/><stop offset="0.130" stop-color="#8f8f8f"/><stop offset="0.140" stop-color="#9d9d9d"/><stop offset="0.150" stop-color="#9c9c9c"/><stop offset="0.160" stop-color="#8d8d8d"/><stop offset="0.170" stop-color="#7d7d7d"/><stop offset="0.180" stop-color="#868686"/><stop offset="0.190" stop-color="#777777"/><stop offset="0.200" stop-color="#484848"/><stop offset="0.210" stop-color="#414141"/><stop offset="0.220" stop-color="#6f6f6f"/><stop offset="0.230" stop-color="#949494"/><stop offset="0.240" stop-color="#a0a0a0"/><stop offset="0.250" stop-color="#969696"/><stop offset="0.260" stop-color="#7b7b7b"/><stop offset="0.270" stop-color="#777777"/><stop offset="0.280" stop-color="#929292"/><stop offset="0.290" stop-color="#b2b2b2"/><stop offset="0.300" stop-color="#b4b4b4"/><stop offset="0.310" stop-color="#b4b4b4"/><stop offset="0.320" stop-color="#b4b4b4"/><stop offset="0.330" stop-color="#b4b4b4"/><stop offset="0.340" stop-color="#b4b4b4"/><stop offset="0.350" stop-color="#b0b0b0"/><stop offset="0.360" stop-color="#b4b4b4"/><stop offset="0.370" stop-color="#a7a7a7"/><stop offset="0.380" stop-color="#909090"/><stop offset="0.390" stop-color="#6f6f6f"/><stop offset="0.400" stop-color="#474747"/><stop offset="0.410" stop-color="#252525"/><stop offset="0.420" stop-color="#141414"/><stop offset="0.430" stop-color="#1b1b1b"/><stop offset="0.440" stop-color="#383838"/><stop offset="0.450" stop-color="#5f5f5f"/><stop offset="0.460" stop-color="#848484"/><stop offset="0.470" stop-color="#9f9f9f"/><stop offset="0.480" stop-color="#b0b0b0"/><stop offset="0.490" stop-color="#b8b8b8"/><stop offset="0.500" stop-color="#bebebe"/><stop offset="0.510" stop-color="#bebebe"/><stop offset="0.520" stop-color="#bababa"/><stop offset="0.530" stop-color="#adadad"/><stop offset="0.540" stop-color="#8a8a8a"/><stop offset="0.550" stop-color="#5b5b5b"/><stop offset="0.560" stop-color="#4c4c4c"/><stop offset="0.570" stop-color="#6b6b6b"/><stop offset="0.580" stop-color="#808080"/><stop offset="0.590" stop-color="#656565"/><stop offset="0.600" stop-color="#565656"/><stop offset="0.610" stop-color="#797979"/><stop offset="0.620" stop-color="#a5a5a5"/><stop offset="0.630" stop-color="#b1b1b1"/><stop offset="0.640" stop-color="#ababab"/><stop offset="0.650" stop-color="#989898"/><stop offset="0.660" stop-color="#7b7b7b"/><stop offset="0.670" stop-color="#555555"/><stop offset="0.680" stop-color="#2f2f2f"/><stop offset="0.690" stop-color="#131313"/><stop offset="0.700" stop-color="#0c0c0c"/><stop offset="0.710" stop-color="#1c1c1c"/><stop offset="0.720" stop-color="#3d3d3d"/><stop offset="0.730" stop-color="#656565"/><stop offset="0.740" stop-color="#888888"/><stop offset="0.750" stop-color="#a1a1a1"/><stop offset="0.760" stop-color="#b0b0b0"/><stop offset="0.770" stop-color="#b8b8b8"/><stop offset="0.780" stop-color="#c8c8c8"/><stop offset="0.790" stop-color="#c8c8c8"/><stop offset="0.800" stop-color="#c8c8c8"/><stop offset="0.810" stop-color="#c8c8c8"/><stop offset="0.820" stop-color="#c8c8c8"/><stop offset="0.830" stop-color="#c8c8c8"/><stop offset="0.840" stop-color="#c8c8c8"/><stop offset="0.850" stop-color="#c8c8c8"/><stop offset="0.860" stop-color="#c8c8c8"/><stop offset="0.870" stop-color="#c8c8c8"/><stop offset="0.880" stop-color="#c8c8c8"/><stop offset="0.890" stop-color="#c8c8c8"/><stop offset="0.900" stop-color="#c8c8c8"/><stop offset="0.910" stop-color="#c8c8c8"/><stop offset="0.920" stop-color="#c8c8c8"/><stop offset="0.930" stop-color="#c8c8c8"/><stop offset="0.940" stop-color="#c8c8c8"/><stop offset="0.950" stop-color="#c8c8c8"/><stop offset="0.960" stop-color="#c8c8c8"/><stop offset="0.970" stop-color="#c8c8c8"/><stop offset="0.980" stop-color="#c8c8c8"/><stop offset="0.990" stop-color="#c8c8c8"/><stop offset="1.000" stop-color="#c8c8c8"/></linearGradient>
<linearGradient id="ln3" x1="0" y1="0" x2="0" y2="1"><stop offset="0.000" stop-color="#464646"/><stop offset="0.010" stop-color="#2b2b2b"/><stop offset="0.020" stop-color="#2e2e2e"/><stop offset="0.030" stop-color="#4d4d4d"/><stop offset="0.040" stop-color="#898989"/><stop offset="0.050" stop-color="#989898"/><stop offset="0.060" stop-color="#8d8d8d"/><stop offset="0.070" stop-color="#7d7d7d"/><stop offset="0.080" stop-color="#8d8d8d"/><stop offset="0.090" stop-color="#9c9c9c"/><stop offset="0.100" stop-color="#9c9c9c"/><stop offset="0.110" stop-color="#8d8d8d"/><stop offset="0.120" stop-color="#7d7d7d"/><stop offset="0.130" stop-color="#8d8d8d"/><stop offset="0.140" stop-color="#9c9c9c"/><stop offset="0.150" stop-color="#a0a0a0"/><stop offset="0.160" stop-color="#929292"/><stop offset="0.170" stop-color="#686868"/><stop offset="0.180" stop-color="#333333"/><stop offset="0.190" stop-color="#3b3b3b"/><stop offset="0.200" stop-color="#737373"/><stop offset="0.210" stop-color="#969696"/><stop offset="0.220" stop-color="#9c9c9c"/><stop offset="0.230" stop-color="#898989"/><stop offset="0.240" stop-color="#606060"/><stop offset="0.250" stop-color="#5a5a5a"/><stop offset="0.260" stop-color="#828282"/><stop offset="0.270" stop-color="#9a9a9a"/><stop offset="0.280" stop-color="#a0a0a0"/><stop offset="0.290" stop-color="#b4b4b4"/><stop offset="0.300" stop-color="#b4b4b4"/><stop offset="0.310" stop-color="#b4b4b4"/><stop offset="0.320" stop-color="#b4b4b4"/><stop offset="0.330" stop-color="#b4b4b4"/><stop offset="0.340" stop-color="#b4b4b4"/><stop offset="0.350" stop-color="#afafaf"/><stop offset="0.360" stop-color="#b2b2b2"/><stop offset="0.370" stop-color="#a3a3a3"/><stop offset="0.380" stop-color="#8a8a8a"/><stop offset="0.390" stop-color="#666666"/><stop offset="0.400" stop-color="#3e3e3e"/><stop offset="0.410" stop-color="#1e1e1e"/><stop offset="0.420" stop-color="#121212"/><stop offset="0.430" stop-color="#1e1e1e"/><stop offset="0.440" stop-color="#3e3e3e"/><stop offset="0.450" stop-color="#666666"/><stop offset="0.460" stop-color="#8a8a8a"/><stop offset="0.470" stop-color="#a3a3a3"/><stop offset="0.480" stop-color="#b2b2b2"/><stop offset="0.490" stop-color="#b9b9b9"/><stop offset="0.500" stop-color="#bebebe"/><stop offset="0.510" stop-color="#bebebe"/><stop offset="0.520" stop-color="#b6b6b6"/><stop offset="0.530" stop-color="#9d9d9d"/><stop offset="0.540" stop-color="#6a6a6a"/><stop offset="0.550" stop-color="#3c3c3c"/><stop offset="0.560" stop-color="#424242"/><stop offset="0.570" stop-color="#6f6f6f"/><stop offset="0.580" stop-color="#767676"/><stop offset="0.590" stop-color="#4d4d4d"/><stop offset="0.600" stop-color="#464646"/><stop offset="0.610" stop-color="#787878"/><stop offset="0.620" stop-color="#a7a7a7"/><stop offset="0.630" stop-color="#b1b1b1"/><stop offset="0.640" stop-color="#a8a8a8"/><stop offset="0.650" stop-color="#939393"/><stop offset="0.660" stop-color="#737373"/><stop offset="0.670" stop-color="#4c4c4c"/><stop offset="0.680" stop-color="#262626"/><stop offset="0.690" stop-color="#0e0e0e"/><stop offset="0.700" stop-color="#0b0b0b"/><stop offset="0.710" stop-color="#202020"/><stop offset="0.720" stop-color="#444444"/><stop offset="0.730" stop-color="#6c6c6c"/><stop offset="0.740" stop-color="#8d8d8d"/><stop offset="0.750" stop-color="#a5a5a5"/><stop offset="0.760" stop-color="#b2b2b2"/><stop offset="0.770" stop-color="#b9b9b9"/><stop offset="0.780" stop-color="#c8c8c8"/><stop offset="0.790" stop-color="#c8c8c8"/><stop offset="0.800" stop-color="#c8c8c8"/><stop offset="0.810" stop-color="#c8c8c8"/><stop offset="0.820" stop-color="#c8c8c8"/><stop offset="0.830" stop-color="#c8c8c8"/><stop offset="0.840" stop-color="#c8c8c8"/><stop offset="0.850" stop-color="#c8c8c8"/><stop offset="0.860" stop-color="#c8c8c8"/><stop offset="0.870" stop-color="#c8c8c8"/><stop offset="0.880" stop-color="#c8c8c8"/><stop offset="0.890" stop-color="#c8c8c8"/><stop offset="0.900" stop-color="#c8c8c8"/><stop offset="0.910" stop-color="#c8c8c8"/><stop offset="0.920" stop-color="#c8c8c8"/><stop offset="0.930" stop-color="#c8c8c8"/><stop offset="0.940" stop-color="#c8c8c8"/><stop offset="0.950" stop-color="#c8c8c8"/><stop offset="0.960" stop-color="#c8c8c8"/><stop offset="0.970" stop-color="#c8c8c8"/><stop offset="0.980" stop-color="#c8c8c8"/><stop offset="0.990" stop-color="#c8c8c8"/><stop offset="1.000" stop-color="#c8c8c8"/></linearGradient>
<linearGradient id="ln4" x1="0" y1="0" x2="0" y2="1"><stop offset="0.000" stop-color="#565656"/><stop offset="0.010" stop-color="#3e3e3e"/><stop offset="0.020" stop-color="#424242"/><stop offset="0.030" stop-color="#5c5c5c"/><stop offset="0.040" stop-color="#929292"/><stop offset="0.050" stop-color="#9c9c9c"/><stop offset="0.060" stop-color="#8d8d8d"/><stop offset="0.070" stop-color="#7d7d7d"/><stop offset="0.080" stop-color="#8d8d8d"/><stop offset="0.090" stop-color="#9c9c9c"/><stop offset="0.100" stop-color="#9c9c9c"/><stop offset="0.110" stop-color="#8d8d8d"/><stop offset="0.120" stop-color="#7d7d7d"/><stop offset="0.130" stop-color="#8d8d8d"/><stop offset="0.140" stop-color="#9c9c9c"/><stop offset="0.150" stop-color="#a0a0a0"/><stop offset="0.160" stop-color="#929292"/><stop offset="0.170" stop-color="#686868"/><stop offset="0.180" stop-color="#333333"/><stop offset="0.190" stop-color="#3b3b3b"/><stop offset="0.200" stop-color="#737373"/><stop offset="0.210" stop-color="#969696"/><stop offset="0.220" stop-color="#9c9c9c"/><stop offset="0.230" stop-color="#898989"/><stop offset="0.240" stop-color="#606060"/><stop offset="0.250" stop-color="#5a5a5a"/><stop offset="0.260" stop-color="#828282"/><stop offset="0.270" stop-color="#9a9a9a"/><stop offset="0.280" stop-color="#a0a0a0"/><stop offset="0.290" stop-color="#b4b4b4"/><stop offset="0.300" stop-color="#b4b4b4"/><stop offset="0.310" stop-color="#b4b4b4"/><stop offset="0.320" stop-color="#b4b4b4"/><stop offset="0.330" stop-color="#b4b4b4"/><stop offset="0.340" stop-color="#b4b4b4"/><stop offset="0.350" stop-color="#afafaf"/><stop offset="0.360" stop-color="#b2b2b2"/><stop offset="0.370" stop-color="#a3a3a3"/><stop offset="0.380" stop-color="#8a8a8a"/><stop offset="0.390" stop-color="#666666"/><stop offset="0.400" stop-color="#3e3e3e"/><stop offset="0.410" stop-color="#1e1e1e"/><stop offset="0.420" stop-color="#121212"/><stop offset="0.430" stop-color="#1e1e1e"/><stop offset="0.440" stop-color="#3e3e3e"/><stop offset="0.450" stop-color="#666666"/><stop offset="0.460" stop-color="#8a8a8a"/><stop offset="0.470" stop-color="#a3a3a3"/><stop offset="0.480" stop-color="#b2b2b2"/><stop offset="0.490" stop-color="#b9b9b9"/><stop offset="0.500" stop-color="#bebebe"/><stop offset="0.510" stop-color="#bebebe"/><stop offset="0.520" stop-color="#b6b6b6"/><stop offset="0.530" stop-color="#9d9d9d"/><stop offset="0.540" stop-color="#6a6a6a"/><stop offset="0.550" stop-color="#3c3c3c"/><stop offset="0.560" stop-color="#424242"/><stop offset="0.570" stop-color="#6f6f6f"/><stop offset="0.580" stop-color="#767676"/><stop offset="0.590" stop-color="#4d4d4d"/><stop offset="0.600" stop-color="#464646"/><stop offset="0.610" stop-color="#787878"/><stop offset="0.620" stop-color="#a7a7a7"/><stop offset="0.630" stop-color="#b1b1b1"/><stop offset="0.640" stop-color="#a8a8a8"/><stop offset="0.650" stop-color="#939393"/><stop offset="0.660" stop-color="#737373"/><stop offset="0.670" stop-color="#4c4c4c"/><stop offset="0.680" stop-color="#262626"/><stop offset="0.690" stop-color="#0e0e0e"/><stop offset="0.700" stop-color="#0b0b0b"/><stop offset="0.710" stop-color="#202020"/><stop offset="0.720" stop-color="#444444"/><stop offset="0.730" stop-color="#6c6c6c"/><stop offset="0.740" stop-color="#8d8d8d"/><stop offset="0.750" stop-color="#a5a5a5"/><stop offset="0.760" stop-color="#b2b2b2"/><stop offset="0.770" stop-color="#b9b9b9"/><stop offset="0.780" stop-color="#c8c8c8"/><stop offset="0.790" stop-color="#c8c8c8"/><stop offset="0.800" stop-color="#c8c8c8"/><stop offset="0.810" stop-color="#c8c8c8"/><stop offset="0.820" stop-color="#c8c8c8"/><stop offset="0.830" stop-color="#c8c8c8"/><stop offset="0.840" stop-color="#c8c8c8"/><stop offset="0.850" stop-color="#c8c8c8"/><stop offset="0.860" stop-color="#c8c8c8"/><stop offset="0.870" stop-color="#c8c8c8"/><stop offset="0.880" stop-color="#c8c8c8"/><stop offset="0.890" stop-color="#c8c8c8"/><stop offset="0.900" stop-color="#c8c8c8"/><stop offset="0.910" stop-color="#c8c8c8"/><stop offset="0.920" stop-color="#c8c8c8"/><stop offset="0.930" stop-color="#c8c8c8"/><stop offset="0.940" stop-color="#c8c8c8"/><stop offset="0.950" stop-color="#c8c8c8"/><stop offset="0.960" stop-color="#c8c8c8"/><stop offset="0.970" stop-color="#c8c8c8"/><stop offset="0.980" stop-color="#c8c8c8"/><stop offset="0.990" stop-color="#c8c8c8"/><stop offset="1.000" stop-color="#c8c8c8"/></linearGradient>
<linearGradient id="ln5" x1="0" y1="0" x2="0" y2="1"><stop offset="0.000" stop-color="#979797"/><stop offset="0.010" stop-color="#828282"/><stop offset="0.020" stop-color="#787878"/><stop offset="0.030" stop-color="#8b8b8b"/><stop offset="0.040" stop-color="#b2b2b2"/><stop offset="0.050" stop-color="#b9b9b9"/><stop offset="0.060" stop-color="#b6b6b6"/><stop offset="0.070" stop-color="#ababab"/><stop offset="0.080" stop-color="#a0a0a0"/><stop offset="0.090" stop-color="#ababab"/><stop offset="0.100" stop-color="#b6b6b6"/><stop offset="0.110" stop-color="#b9b9b9"/><stop offset="0.120" stop-color="#b9b9b9"/><stop offset="0.130" stop-color="#b9b9b9"/><stop offset="0.140" stop-color="#b9b9b9"/><stop offset="0.150" stop-color="#b9b9b9"/><stop offset="0.160" stop-color="#b2b2b2"/><stop offset="0.170" stop-color="#959595"/><stop offset="0.180" stop-color="#656565"/><stop offset="0.190" stop-color="#6c6c6c"/><stop offset="0.200" stop-color="#9d9d9d"/><stop offset="0.210" stop-color="#b5b5b5"/><stop offset="0.220" stop-color="#b9b9b9"/><stop offset="0.230" stop-color="#acacac"/><stop offset="0.240" stop-color="#888888"/><stop offset="0.250" stop-color="#828282"/><stop offset="0.260" stop-color="#a6a6a6"/><stop offset="0.270" stop-color="#b7b7b7"/><stop offset="0.280" stop-color="#b9b9b9"/><stop offset="0.290" stop-color="#c0c0c0"/><stop offset="0.300" stop-color="#c0c0c0"/><stop offset="0.310" stop-color="#c0c0c0"/><stop offset="0.320" stop-color="#c0c0c0"/><stop offset="0.330" stop-color="#c0c0c0"/><stop offset="0.340" stop-color="#c0c0c0"/><stop offset="0.350" stop-color="#bcbcbc"/><stop offset="0.360" stop-color="#b5b5b5"/><stop offset="0.370" stop-color="#a7a7a7"/><stop offset="0.380" stop-color="#8e8e8e"/><stop offset="0.390" stop-color="#696969"/><stop offset="0.400" stop-color="#414141"/><stop offset="0.410" stop-color="#222222"/><stop offset="0.420" stop-color="#1a1a1a"/><stop offset="0.430" stop-color="#2c2c2c"/><stop offset="0.440" stop-color="#505050"/><stop offset="0.450" stop-color="#797979"/><stop offset="0.460" stop-color="#999999"/><stop offset="0.470" stop-color="#aeaeae"/><stop offset="0.480" stop-color="#b9b9b9"/><stop offset="0.490" stop-color="#c0c0c0"/><stop offset="0.500" stop-color="#c0c0c0"/><stop offset="0.510" stop-color="#c0c0c0"/><stop offset="0.520" stop-color="#b5b5b5"/><stop offset="0.530" stop-color="#9a9a9a"/><stop offset="0.540" stop-color="#656565"/><stop offset="0.550" stop-color="#313131"/><stop offset="0.560" stop-color="#2b2b2b"/><stop offset="0.570" stop-color="#565656"/><stop offset="0.580" stop-color="#747474"/><stop offset="0.590" stop-color="#515151"/><stop offset="0.600" stop-color="#303030"/><stop offset="0.610" stop-color="#555555"/><stop offset="0.620" stop-color="#949494"/><stop offset="0.630" stop-color="#adadad"/><stop offset="0.640" stop-color="#aaaaaa"/><stop offset="0.650" stop-color="#959595"/><stop offset="0.660" stop-color="#757575"/><stop offset="0.670" stop-color="#4e4e4e"/><stop offset="0.680" stop-color="#282828"/><stop offset="0.690" stop-color="#101010"/><stop offset="0.700" stop-color="#0d0d0d"/><stop offset="0.710" stop-color="#222222"/><stop offset="0.720" stop-color="#464646"/><stop offset="0.730" stop-color="#6e6e6e"/><stop offset="0.740" stop-color="#8f8f8f"/><stop offset="0.750" stop-color="#a7a7a7"/><stop offset="0.760" stop-color="#b4b4b4"/><stop offset="0.770" stop-color="#bbbbbb"/><stop offset="0.780" stop-color="#c8c8c8"/><stop offset="0.790" stop-color="#c8c8c8"/><stop offset="0.800" stop-color="#c8c8c8"/><stop offset="0.810" stop-color="#c8c8c8"/><stop offset="0.820" stop-color="#c8c8c8"/><stop offset="0.830" stop-color="#c8c8c8"/><stop offset="0.840" stop-color="#c8c8c8"/><stop offset="0.850" stop-color="#c8c8c8"/><stop offset="0.860" stop-color="#c8c8c8"/><stop offset="0.870" stop-color="#c8c8c8"/><stop offset="0.880" stop-color="#c8c8c8"/><stop offset="0.890" stop-color="#c8c8c8"/><stop offset="0.900" stop-color="#c8c8c8"/><stop offset="0.910" stop-color="#c8c8c8"/><stop offset="0.920" stop-color="#c8c8c8"/><stop offset="0.930" stop-color="#c8c8c8"/><stop offset="0.940" stop-color="#c8c8c8"/><stop offset="0.950" stop-color="#c8c8c8"/><stop offset="0.960" stop-color="#c8c8c8"/><stop offset="0.970" stop-color="#c8c8c8"/><stop offset="0.980" stop-color="#c8c8c8"/><stop offset="0.990" stop-color="#c8c8c8"/><stop offset="1.000" stop-color="#c8c8c8"/></linearGradient>
<linearGradient id="ln6" x1="0" y1="0" x2="0" y2="1"><stop offset="0.000" stop-color="#9b9b9b"/><stop offset="0.010" stop-color="#919191"/><stop offset="0.020" stop-color="#8c8c8c"/><stop offset="0.030" stop-color="#959595"/><stop offset="0.040" stop-color="#b4b4b4"/><stop offset="0.050" stop-color="#b9b9b9"/><stop offset="0.060" stop-color="#b7b7b7"/><stop offset="0.070" stop-color="#b0b0b0"/><stop offset="0.080" stop-color="#aaaaaa"/><stop offset="0.090" stop-color="#b0b0b0"/><stop offset="0.100" stop-color="#b7b7b7"/><stop offset="0.110" stop-color="#b9b9b9"/><stop offset="0.120" stop-color="#b9b9b9"/><stop offset="0.130" stop-color="#b9b9b9"/><stop offset="0.140" stop-color="#b9b9b9"/><stop offset="0.150" stop-color="#b9b9b9"/><stop offset="0.160" stop-color="#b5b5b5"/><stop offset="0.170" stop-color="#a7a7a7"/><stop offset="0.180" stop-color="#8f8f8f"/><stop offset="0.190" stop-color="#929292"/><stop offset="0.200" stop-color="#ababab"/><stop offset="0.210" stop-color="#b7b7b7"/><stop offset="0.220" stop-color="#b9b9b9"/><stop offset="0.230" stop-color="#b2b2b2"/><stop offset="0.240" stop-color="#a0a0a0"/><stop offset="0.250" stop-color="#9d9d9d"/><stop offset="0.260" stop-color="#afafaf"/><stop offset="0.270" stop-color="#b8b8b8"/><stop offset="0.280" stop-color="#b9b9b9"/><stop offset="0.290" stop-color="#c0c0c0"/><stop offset="0.300" stop-color="#c0c0c0"/><stop offset="0.310" stop-color="#c0c0c0"/><stop offset="0.320" stop-color="#c0c0c0"/><stop offset="0.330" stop-color="#c0c0c0"/><stop offset="0.340" stop-color="#c0c0c0"/><stop offset="0.350" stop-color="#b9b9b9"/><stop offset="0.360" stop-color="#aeaeae"/><stop offset="0.370" stop-color="#9a9a9a"/><stop offset="0.380" stop-color="#797979"/><stop offset="0.390" stop-color="#525252"/><stop offset="0.400" stop-color="#2e2e2e"/><stop offset="0.410" stop-color="#1c1c1c"/><stop offset="0.420" stop-color="#242424"/><stop offset="0.430" stop-color="#424242"/><stop offset="0.440" stop-color="#6a6a6a"/><stop offset="0.450" stop-color="#8e8e8e"/><stop offset="0.460" stop-color="#a7a7a7"/><stop offset="0.470" stop-color="#b5b5b5"/><stop offset="0.480" stop-color="#bcbcbc"/><stop offset="0.490" stop-color="#c0c0c0"/><stop offset="0.500" stop-color="#c0c0c0"/><stop offset="0.510" stop-color="#c0c0c0"/><stop offset="0.520" stop-color="#b4b4b4"/><stop offset="0.530" stop-color="#999999"/><stop offset="0.540" stop-color="#696969"/><stop offset="0.550" stop-color="#363636"/><stop offset="0.560" stop-color="#272727"/><stop offset="0.570" stop-color="#484848"/><stop offset="0.580" stop-color="#717171"/><stop offset="0.590" stop-color="#676767"/><stop offset="0.600" stop-color="#3a3a3a"/><stop offset="0.610" stop-color="#424242"/><stop offset="0.620" stop-color="#7f7f7f"/><stop offset="0.630" stop-color="#a5a5a5"/><stop offset="0.640" stop-color="#aaaaaa"/><stop offset="0.650" stop-color="#959595"/><stop offset="0.660" stop-color="#767676"/><stop offset="0.670" stop-color="#4f4f4f"/><stop offset="0.680" stop-color="#2a2a2a"/><stop offset="0.690" stop-color="#121212"/><stop offset="0.700" stop-color="#0f0f0f"/><stop offset="0.710" stop-color="#242424"/><stop offset="0.720" stop-color="#474747"/><stop offset="0.730" stop-color="#6e6e6e"/><stop offset="0.740" stop-color="#909090"/><stop offset="0.750" stop-color="#a7a7a7"/><stop offset="0.760" stop-color="#b5b5b5"/><stop offset="0.770" stop-color="#bbbbbb"/><stop offset="0.780" stop-color="#c8c8c8"/><stop offset="0.790" stop-color="#c8c8c8"/><stop offset="0.800" stop-color="#c8c8c8"/><stop offset="0.810" stop-color="#c8c8c8"/><stop offset="0.820" stop-color="#c8c8c8"/><stop offset="0.830" stop-color="#c8c8c8"/><stop offset="0.840" stop-color="#c8c8c8"/><stop offset="0.850" stop-color="#c8c8c8"/><stop offset="0.860" stop-color="#c8c8c8"/><stop offset="0.870" stop-color="#c8c8c8"/><stop offset="0.880" stop-color="#c8c8c8"/><stop offset="0.890" stop-color="#c8c8c8"/><stop offset="0.900" stop-color="#c8c8c8"/><stop offset="0.910" stop-color="#c8c8c8"/><stop offset="0.920" stop-color="#c8c8c8"/><stop offset="0.930" stop-color="#c8c8c8"/><stop offset="0.940" stop-color="#c8c8c8"/><stop offset="0.950" stop-color="#c8c8c8"/><stop offset="0.960" stop-color="#c8c8c8"/><stop offset="0.970" stop-color="#c8c8c8"/><stop offset="0.980" stop-color="#c8c8c8"/><stop offset="0.990" stop-color="#c8c8c8"/><stop offset="1.000" stop-color="#c8c8c8"/></linearGradient>
<linearGradient id="ln7" x1="0" y1="0" x2="0" y2="1"><stop offset="0.000" stop-color="#c4c4c4"/><stop offset="0.010" stop-color="#c4c4c4"/><stop offset="0.020" stop-color="#c4c4c4"/><stop offset="0.030" stop-color="#c4c4c4"/><stop offset="0.040" stop-color="#c4c4c4"/><stop offset="0.050" stop-color="#c4c4c4"/><stop offset="0.060" stop-color="#c4c4c4"/><stop offset="0.070" stop-color="#c4c4c4"/><stop offset="0.080" stop-color="#c4c4c4"/><stop offset="0.090" stop-color="#c4c4c4"/><stop offset="0.100" stop-color="#c4c4c4"/><stop offset="0.110" stop-color="#c4c4c4"/><stop offset="0.120" stop-color="#c4c4c4"/><stop offset="0.130" stop-color="#c4c4c4"/><stop offset="0.140" stop-color="#c4c4c4"/><stop offset="0.150" stop-color="#c4c4c4"/><stop offset="0.160" stop-color="#c3c3c3"/><stop offset="0.170" stop-color="#bababa"/><stop offset="0.180" stop-color="#a7a7a7"/><stop offset="0.190" stop-color="#ababab"/><stop offset="0.200" stop-color="#bdbdbd"/><stop offset="0.210" stop-color="#c4c4c4"/><stop offset="0.220" stop-color="#c4c4c4"/><stop offset="0.230" stop-color="#c4c4c4"/><stop offset="0.240" stop-color="#c4c4c4"/><stop offset="0.250" stop-color="#c4c4c4"/><stop offset="0.260" stop-color="#c4c4c4"/><stop offset="0.270" stop-color="#c4c4c4"/><stop offset="0.280" stop-color="#c4c4c4"/><stop offset="0.290" stop-color="#c4c4c4"/><stop offset="0.300" stop-color="#c4c4c4"/><stop offset="0.310" stop-color="#c4c4c4"/><stop offset="0.320" stop-color="#c4c4c4"/><stop offset="0.330" stop-color="#c4c4c4"/><stop offset="0.340" stop-color="#c4c4c4"/><stop offset="0.350" stop-color="#c0c0c0"/><stop offset="0.360" stop-color="#b8b8b8"/><stop offset="0.370" stop-color="#a2a2a2"/><stop offset="0.380" stop-color="#7a7a7a"/><stop offset="0.390" stop-color="#4a4a4a"/><stop offset="0.400" stop-color="#292929"/><stop offset="0.410" stop-color="#2d2d2d"/><stop offset="0.420" stop-color="#535353"/><stop offset="0.430" stop-color="#838383"/><stop offset="0.440" stop-color="#a7a7a7"/><stop offset="0.450" stop-color="#bababa"/><stop offset="0.460" stop-color="#c4c4c4"/><stop offset="0.470" stop-color="#c4c4c4"/><stop offset="0.480" stop-color="#c4c4c4"/><stop offset="0.490" stop-color="#bfbfbf"/><stop offset="0.500" stop-color="#b8b8b8"/><stop offset="0.510" stop-color="#a9a9a9"/><stop offset="0.520" stop-color="#8e8e8e"/><stop offset="0.530" stop-color="#6a6a6a"/><stop offset="0.540" stop-color="#414141"/><stop offset="0.550" stop-color="#202020"/><stop offset="0.560" stop-color="#141414"/><stop offset="0.570" stop-color="#202020"/><stop offset="0.580" stop-color="#414141"/><stop offset="0.590" stop-color="#6a6a6a"/><stop offset="0.600" stop-color="#8e8e8e"/><stop offset="0.610" stop-color="#a2a2a2"/><stop offset="0.620" stop-color="#a6a6a6"/><stop offset="0.630" stop-color="#979797"/><stop offset="0.640" stop-color="#777777"/><stop offset="0.650" stop-color="#4c4c4c"/><stop offset="0.660" stop-color="#262626"/><stop offset="0.670" stop-color="#121212"/><stop offset="0.680" stop-color="#1b1b1b"/><stop offset="0.690" stop-color="#3c3c3c"/><stop offset="0.700" stop-color="#656565"/><stop offset="0.710" stop-color="#818181"/><stop offset="0.720" stop-color="#7f7f7f"/><stop offset="0.730" stop-color="#595959"/><stop offset="0.740" stop-color="#2b2b2b"/><stop offset="0.750" stop-color="#1d1d1d"/><stop offset="0.760" stop-color="#3d3d3d"/><stop offset="0.770" stop-color="#737373"/><stop offset="0.780" stop-color="#a5a5a5"/><stop offset="0.790" stop-color="#bebebe"/><stop offset="0.800" stop-color="#cacaca"/><stop offset="0.810" stop-color="#cacaca"/><stop offset="0.820" stop-color="#cacaca"/><stop offset="0.830" stop-color="#cacaca"/><stop offset="0.840" stop-color="#cacaca"/><stop offset="0.850" stop-color="#cacaca"/><stop offset="0.860" stop-color="#cacaca"/><stop offset="0.870" stop-color="#cacaca"/><stop offset="0.880" stop-color="#cacaca"/><stop offset="0.890" stop-color="#cacaca"/><stop offset="0.900" stop-color="#cacaca"/><stop offset="0.910" stop-color="#cacaca"/><stop offset="0.920" stop-color="#cacaca"/><stop offset="0.930" stop-color="#cacaca"/><stop offset="0.940" stop-color="#cacaca"/><stop offset="0.950" stop-color="#cacaca"/><stop offset="0.960" stop-color="#cacaca"/><stop offset="0.970" stop-color="#cacaca"/><stop offset="0.980" stop-color="#cacaca"/><stop offset="0.990" stop-color="#cacaca"/><stop offset="1.000" stop-color="#cacaca"/></linearGradient>
<linearGradient id="ln8" x1="0" y1="0" x2="0" y2="1"><stop offset="0.000" stop-color="#c4c4c4"/><stop offset="0.010" stop-color="#c4c4c4"/><stop offset="0.020" stop-color="#c4c4c4"/><stop offset="0.030" stop-color="#c4c4c4"/><stop offset="0.040" stop-color="#c4c4c4"/><stop offset="0.050" stop-color="#c4c4c4"/><stop offset="0.060" stop-color="#c4c4c4"/><stop offset="0.070" stop-color="#c4c4c4"/><stop offset="0.080" stop-color="#c4c4c4"/><stop offset="0.090" stop-color="#c4c4c4"/><stop offset="0.100" stop-color="#c4c4c4"/><stop offset="0.110" stop-color="#c4c4c4"/><stop offset="0.120" stop-color="#c4c4c4"/><stop offset="0.130" stop-color="#c4c4c4"/><stop offset="0.140" stop-color="#c4c4c4"/><stop offset="0.150" stop-color="#c4c4c4"/><stop offset="0.160" stop-color="#c4c4c4"/><stop offset="0.170" stop-color="#c4c4c4"/><stop offset="0.180" stop-color="#c4c4c4"/><stop offset="0.190" stop-color="#c4c4c4"/><stop offset="0.200" stop-color="#c4c4c4"/><stop offset="0.210" stop-color="#c4c4c4"/><stop offset="0.220" stop-color="#c4c4c4"/><stop offset="0.230" stop-color="#c4c4c4"/><stop offset="0.240" stop-color="#c4c4c4"/><stop offset="0.250" stop-color="#c4c4c4"/><stop offset="0.260" stop-color="#c4c4c4"/><stop offset="0.270" stop-color="#c4c4c4"/><stop offset="0.280" stop-color="#c4c4c4"/><stop offset="0.290" stop-color="#c4c4c4"/><stop offset="0.300" stop-color="#c4c4c4"/><stop offset="0.310" stop-color="#c4c4c4"/><stop offset="0.320" stop-color="#c4c4c4"/><stop offset="0.330" stop-color="#c4c4c4"/><stop offset="0.340" stop-color="#bebebe"/><stop offset="0.350" stop-color="#b3b3b3"/><stop offset="0.360" stop-color="#9c9c9c"/><stop offset="0.370" stop-color="#797979"/><stop offset="0.380" stop-color="#555555"/><stop offset="0.390" stop-color="#414141"/><stop offset="0.400" stop-color="#4a4a4a"/><stop offset="0.410" stop-color="#6a6a6a"/><stop offset="0.420" stop-color="#8f8f8f"/><stop offset="0.430" stop-color="#ababab"/><stop offset="0.440" stop-color="#bbbbbb"/><stop offset="0.450" stop-color="#c4c4c4"/><stop offset="0.460" stop-color="#c4c4c4"/><stop offset="0.470" stop-color="#c4c4c4"/><stop offset="0.480" stop-color="#bbbbbb"/><stop offset="0.490" stop-color="#b0b0b0"/><stop offset="0.500" stop-color="#9c9c9c"/><stop offset="0.510" stop-color="#7f7f7f"/><stop offset="0.520" stop-color="#5a5a5a"/><stop offset="0.530" stop-color="#343434"/><stop offset="0.540" stop-color="#171717"/><stop offset="0.550" stop-color="#0c0c0c"/><stop offset="0.560" stop-color="#171717"/><stop offset="0.570" stop-color="#343434"/><stop offset="0.580" stop-color="#5a5a5a"/><stop offset="0.590" stop-color="#7f7f7f"/><stop offset="0.600" stop-color="#989898"/><stop offset="0.610" stop-color="#a2a2a2"/><stop offset="0.620" stop-color="#989898"/><stop offset="0.630" stop-color="#7f7f7f"/><stop offset="0.640" stop-color="#545454"/><stop offset="0.650" stop-color="#2b2b2b"/><stop offset="0.660" stop-color="#121212"/><stop offset="0.670" stop-color="#151515"/><stop offset="0.680" stop-color="#323232"/><stop offset="0.690" stop-color="#5d5d5d"/><stop offset="0.700" stop-color="#838383"/><stop offset="0.710" stop-color="#959595"/><stop offset="0.720" stop-color="#878787"/><stop offset="0.730" stop-color="#5a5a5a"/><stop offset="0.740" stop-color="#292929"/><stop offset="0.750" stop-color="#1b1b1b"/><stop offset="0.760" stop-color="#3b3b3b"/><stop offset="0.770" stop-color="#727272"/><stop offset="0.780" stop-color="#a5a5a5"/><stop offset="0.790" stop-color="#bebebe"/><stop offset="0.800" stop-color="#cacaca"/><stop offset="0.810" stop-color="#cacaca"/><stop offset="0.820" stop-color="#cacaca"/><stop offset="0.830" stop-color="#cacaca"/><stop offset="0.840" stop-color="#cacaca"/><stop offset="0.850" stop-color="#cacaca"/><stop offset="0.860" stop-color="#cacaca"/><stop offset="0.870" stop-color="#cacaca"/><stop offset="0.880" stop-color="#cacaca"/><stop offset="0.890" stop-color="#cacaca"/><stop offset="0.900" stop-color="#cacaca"/><stop offset="0.910" stop-color="#cacaca"/><stop offset="0.920" stop-color="#cacaca"/><stop offset="0.930" stop-color="#cacaca"/><stop offset="0.940" stop-color="#cacaca"/><stop offset="0.950" stop-color="#cacaca"/><stop offset="0.960" stop-color="#cacaca"/><stop offset="0.970" stop-color="#cacaca"/><stop offset="0.980" stop-color="#cacaca"/><stop offset="0.990" stop-color="#cacaca"/><stop offset="1.000" stop-color="#cacaca"/></linearGradient>
<linearGradient id="ln9" x1="0" y1="0" x2="0" y2="1"><stop offset="0.000" stop-color="#c4c4c4"/><stop offset="0.010" stop-color="#c4c4c4"/><stop offset="0.020" stop-color="#c4c4c4"/><stop offset="0.030" stop-color="#c4c4c4"/><stop offset="0.040" stop-color="#c4c4c4"/><stop offset="0.050" stop-color="#c4c4c4"/><stop offset="0.060" stop-color="#c4c4c4"/><stop offset="0.070" stop-color="#c4c4c4"/><stop offset="0.080" stop-color="#c4c4c4"/><stop offset="0.090" stop-color="#c4c4c4"/><stop offset="0.100" stop-color="#c4c4c4"/><stop offset="0.110" stop-color="#c4c4c4"/><stop offset="0.120" stop-color="#c4c4c4"/><stop offset="0.130" stop-color="#c4c4c4"/><stop offset="0.140" stop-color="#c4c4c4"/><stop offset="0.150" stop-color="#c4c4c4"/><stop offset="0.160" stop-color="#c4c4c4"/><stop offset="0.170" stop-color="#c4c4c4"/><stop offset="0.180" stop-color="#c4c4c4"/><stop offset="0.190" stop-color="#c4c4c4"/><stop offset="0.200" stop-color="#c4c4c4"/><stop offset="0.210" stop-color="#c4c4c4"/><stop offset="0.220" stop-color="#c4c4c4"/><stop offset="0.230" stop-color="#c4c4c4"/><stop offset="0.240" stop-color="#c4c4c4"/><stop offset="0.250" stop-color="#c4c4c4"/><stop offset="0.260" stop-color="#c4c4c4"/><stop offset="0.270" stop-color="#c4c4c4"/><stop offset="0.280" stop-color="#c4c4c4"/><stop offset="0.290" stop-color="#c4c4c4"/><stop offset="0.300" stop-color="#c4c4c4"/><stop offset="0.310" stop-color="#c4c4c4"/><stop offset="0.320" stop-color="#c4c4c4"/><stop offset="0.330" stop-color="#c4c4c4"/><stop offset="0.340" stop-color="#c4c4c4"/><stop offset="0.350" stop-color="#c4c4c4"/><stop offset="0.360" stop-color="#c2c2c2"/><stop offset="0.370" stop-color="#b9b9b9"/><stop offset="0.380" stop-color="#ababab"/><stop offset="0.390" stop-color="#aeaeae"/><stop offset="0.400" stop-color="#bcbcbc"/><stop offset="0.410" stop-color="#c2c2c2"/><stop offset="0.420" stop-color="#c4c4c4"/><stop offset="0.430" stop-color="#c4c4c4"/><stop offset="0.440" stop-color="#c4c4c4"/><stop offset="0.450" stop-color="#c4c4c4"/><stop offset="0.460" stop-color="#bcbcbc"/><stop offset="0.470" stop-color="#b1b1b1"/><stop offset="0.480" stop-color="#9e9e9e"/><stop offset="0.490" stop-color="#818181"/><stop offset="0.500" stop-color="#5b5b5b"/><stop offset="0.510" stop-color="#353535"/><stop offset="0.520" stop-color="#191919"/><stop offset="0.530" stop-color="#121212"/><stop offset="0.540" stop-color="#222222"/><stop offset="0.550" stop-color="#434343"/><stop offset="0.560" stop-color="#686868"/><stop offset="0.570" stop-color="#777777"/><stop offset="0.580" stop-color="#646464"/><stop offset="0.590" stop-color="#4c4c4c"/><stop offset="0.600" stop-color="#515151"/><stop offset="0.610" stop-color="#646464"/><stop offset="0.620" stop-color="#5e5e5e"/><stop offset="0.630" stop-color="#404040"/><stop offset="0.640" stop-color="#202020"/><stop offset="0.650" stop-color="#101010"/><stop offset="0.660" stop-color="#171717"/><stop offset="0.670" stop-color="#333333"/><stop offset="0.680" stop-color="#5a5a5a"/><stop offset="0.690" stop-color="#7d7d7d"/><stop offset="0.700" stop-color="#939393"/><stop offset="0.710" stop-color="#909090"/><stop offset="0.720" stop-color="#717171"/><stop offset="0.730" stop-color="#444444"/><stop offset="0.740" stop-color="#1f1f1f"/><stop offset="0.750" stop-color="#1b1b1b"/><stop offset="0.760" stop-color="#3b3b3b"/><stop offset="0.770" stop-color="#6c6c6c"/><stop offset="0.780" stop-color="#9c9c9c"/><stop offset="0.790" stop-color="#b7b7b7"/><stop offset="0.800" stop-color="#c4c4c4"/><stop offset="0.810" stop-color="#cacaca"/><stop offset="0.820" stop-color="#cacaca"/><stop offset="0.830" stop-color="#cacaca"/><stop offset="0.840" stop-color="#cacaca"/><stop offset="0.850" stop-color="#cacaca"/><stop offset="0.860" stop-color="#cacaca"/><stop offset="0.870" stop-color="#cacaca"/><stop offset="0.880" stop-color="#cacaca"/><stop offset="0.890" stop-color="#cacaca"/><stop offset="0.900" stop-color="#cacaca"/><stop offset="0.910" stop-color="#cacaca"/><stop offset="0.920" stop-color="#cacaca"/><stop offset="0.930" stop-color="#cacaca"/><stop offset="0.940" stop-color="#cacaca"/><stop offset="0.950" stop-color="#cacaca"/><stop offset="0.960" stop-color="#cacaca"/><stop offset="0.970" stop-color="#cacaca"/><stop offset="0.980" stop-color="#cacaca"/><stop offset="0.990" stop-color="#cacaca"/><stop offset="1.000" stop-color="#cacaca"/></linearGradient>
<g filter="url(#bl)">
<rect x="60.60" y="191.00" width="10.20" height="50.00" fill="url(#ln0)" />
<rect x="73.03" y="191.00" width="10.20" height="50.00" fill="url(#ln1)" />
<rect x="85.46" y="191.00" width="10.20" height="50.00" fill="url(#ln2)" />
<rect x="97.89" y="191.00" width="10.20" height="50.00" fill="url(#ln3)" />
<rect x="110.32" y="191.00" width="10.20" height="50.00" fill="url(#ln4)" />
<rect x="122.75" y="191.00" width="10.20" height="50.00" fill="url(#ln5)" />
<rect x="135.18" y="191.00" width="10.20" height="50.00" fill="url(#ln6)" />
<rect x="147.61" y="191.00" width="10.20" height="50.00" fill="url(#ln7)" />
<rect x="160.04" y="191.00" width="10.20" height="50.00" fill="url(#ln8)" />
<rect x="172.47" y="191.00" width="10.20" height="50.00" fill="url(#ln9)" />
<linearGradient id="lnm" x1="0" y1="0" x2="0" y2="1"><stop offset="0.000" stop-color="#cdcdcd"/><stop offset="0.010" stop-color="#cdcdcd"/><stop offset="0.020" stop-color="#cdcdcd"/><stop offset="0.030" stop-color="#cdcdcd"/><stop offset="0.040" stop-color="#cdcdcd"/><stop offset="0.050" stop-color="#cdcdcd"/><stop offset="0.060" stop-color="#cdcdcd"/><stop offset="0.070" stop-color="#cdcdcd"/><stop offset="0.080" stop-color="#cbcbcb"/><stop offset="0.090" stop-color="#bfbfbf"/><stop offset="0.100" stop-color="#afafaf"/><stop offset="0.110" stop-color="#bfbfbf"/><stop offset="0.120" stop-color="#cbcbcb"/><stop offset="0.130" stop-color="#cdcdcd"/><stop offset="0.140" stop-color="#cdcdcd"/><stop offset="0.150" stop-color="#cdcdcd"/><stop offset="0.160" stop-color="#cdcdcd"/><stop offset="0.170" stop-color="#cdcdcd"/><stop offset="0.180" stop-color="#cdcdcd"/><stop offset="0.190" stop-color="#cdcdcd"/><stop offset="0.200" stop-color="#cdcdcd"/><stop offset="0.210" stop-color="#cdcdcd"/><stop offset="0.220" stop-color="#cdcdcd"/><stop offset="0.230" stop-color="#cdcdcd"/><stop offset="0.240" stop-color="#cdcdcd"/><stop offset="0.250" stop-color="#cdcdcd"/><stop offset="0.260" stop-color="#cccccc"/><stop offset="0.270" stop-color="#c2c2c2"/><stop offset="0.280" stop-color="#b4b4b4"/><stop offset="0.290" stop-color="#c2c2c2"/><stop offset="0.300" stop-color="#cccccc"/><stop offset="0.310" stop-color="#cdcdcd"/><stop offset="0.320" stop-color="#cdcdcd"/><stop offset="0.330" stop-color="#cdcdcd"/><stop offset="0.340" stop-color="#cdcdcd"/><stop offset="0.350" stop-color="#cdcdcd"/><stop offset="0.360" stop-color="#cdcdcd"/><stop offset="0.370" stop-color="#cdcdcd"/><stop offset="0.380" stop-color="#cdcdcd"/><stop offset="0.390" stop-color="#cdcdcd"/><stop offset="0.400" stop-color="#cdcdcd"/><stop offset="0.410" stop-color="#cacaca"/><stop offset="0.420" stop-color="#bcbcbc"/><stop offset="0.430" stop-color="#afafaf"/><stop offset="0.440" stop-color="#bcbcbc"/><stop offset="0.450" stop-color="#cacaca"/><stop offset="0.460" stop-color="#cdcdcd"/><stop offset="0.470" stop-color="#cdcdcd"/><stop offset="0.480" stop-color="#cdcdcd"/><stop offset="0.490" stop-color="#cdcdcd"/><stop offset="0.500" stop-color="#cdcdcd"/><stop offset="0.510" stop-color="#cdcdcd"/><stop offset="0.520" stop-color="#cdcdcd"/><stop offset="0.530" stop-color="#cdcdcd"/><stop offset="0.540" stop-color="#c9c9c9"/><stop offset="0.550" stop-color="#bcbcbc"/><stop offset="0.560" stop-color="#a1a1a1"/><stop offset="0.570" stop-color="#969696"/><stop offset="0.580" stop-color="#acacac"/><stop offset="0.590" stop-color="#c3c3c3"/><stop offset="0.600" stop-color="#cbcbcb"/><stop offset="0.610" stop-color="#cdcdcd"/><stop offset="0.620" stop-color="#cdcdcd"/><stop offset="0.630" stop-color="#cdcdcd"/><stop offset="0.640" stop-color="#cbcbcb"/><stop offset="0.650" stop-color="#bdbdbd"/><stop offset="0.660" stop-color="#aaaaaa"/><stop offset="0.670" stop-color="#bdbdbd"/><stop offset="0.680" stop-color="#cbcbcb"/><stop offset="0.690" stop-color="#cdcdcd"/><stop offset="0.700" stop-color="#cdcdcd"/><stop offset="0.710" stop-color="#cdcdcd"/><stop offset="0.720" stop-color="#cdcdcd"/><stop offset="0.730" stop-color="#cdcdcd"/><stop offset="0.740" stop-color="#cdcdcd"/><stop offset="0.750" stop-color="#cdcdcd"/><stop offset="0.760" stop-color="#c6c6c6"/><stop offset="0.770" stop-color="#b4b4b4"/><stop offset="0.780" stop-color="#979797"/><stop offset="0.790" stop-color="#8c8c8c"/><stop offset="0.800" stop-color="#a2a2a2"/><stop offset="0.810" stop-color="#bdbdbd"/><stop offset="0.820" stop-color="#c9c9c9"/><stop offset="0.830" stop-color="#cdcdcd"/><stop offset="0.840" stop-color="#cdcdcd"/><stop offset="0.850" stop-color="#cdcdcd"/><stop offset="0.860" stop-color="#cbcbcb"/><stop offset="0.870" stop-color="#bfbfbf"/><stop offset="0.880" stop-color="#afafaf"/><stop offset="0.890" stop-color="#bfbfbf"/><stop offset="0.900" stop-color="#cbcbcb"/><stop offset="0.910" stop-color="#cdcdcd"/><stop offset="0.920" stop-color="#cdcdcd"/><stop offset="0.930" stop-color="#c8c8c8"/><stop offset="0.940" stop-color="#bababa"/><stop offset="0.950" stop-color="#a0a0a0"/><stop offset="0.960" stop-color="#919191"/><stop offset="0.970" stop-color="#a0a0a0"/><stop offset="0.980" stop-color="#bababa"/><stop offset="0.990" stop-color="#c8c8c8"/><stop offset="1.000" stop-color="#cdcdcd"/></linearGradient>
<rect x="48.50" y="191.00" width="9.00" height="50.00" fill="url(#lnm)" />
</g>
<ellipse cx="168.5" cy="212.3" rx="1.8" ry="0.9" fill="#e8f0b0" fill-opacity="0.6" filter="url(#bl)"/>
<line x1="48.00" y1="199.60" x2="54.00" y2="199.60" stroke="#111" stroke-width="0.8" />
<path d="M58.3,195.9 H54.3 V204.2 H58.3" fill="none" stroke="#111" stroke-width="0.8"/>
<text x="42.40" y="200.00" font-size="7.5" text-anchor="end" fill="#111" stroke="#111" stroke-width="0.28">198</text>
<text x="42.40" y="205.40" font-size="7.3" text-anchor="end" fill="#111" stroke="#111" stroke-width="0.28"><tspan font-family="Liberation Serif" font-style="italic">α</tspan>-polymers</text>
<text x="42.40" y="212.50" font-size="7.5" text-anchor="end" fill="#111" stroke="#111" stroke-width="0.28">98</text>
<text x="42.40" y="217.60" font-size="7.3" text-anchor="end" fill="#111" stroke="#111" stroke-width="0.28"><tspan font-family="Liberation Serif" font-style="italic">γ</tspan>-<tspan font-family="Liberation Serif" font-style="italic">γ</tspan> dimers</text>
<text x="42.40" y="225.00" font-size="7.5" text-anchor="end" fill="#111" stroke="#111" stroke-width="0.28">62</text>
<text x="42.40" y="233.00" font-size="7.5" text-anchor="end" fill="#111" stroke="#111" stroke-width="0.28">49</text>
<text x="42.40" y="241.10" font-size="7.5" text-anchor="end" fill="#111" stroke="#111" stroke-width="0.28">38</text>
<text x="66.00" y="187.20" font-size="7.3" text-anchor="start" fill="#111" stroke="#111" stroke-width="0.28" transform="rotate(-45 66.00 187.20)">0</text>
<text x="78.43" y="187.20" font-size="7.3" text-anchor="start" fill="#111" stroke="#111" stroke-width="0.28" transform="rotate(-45 78.43 187.20)">0.48</text>
<text x="90.86" y="187.20" font-size="7.3" text-anchor="start" fill="#111" stroke="#111" stroke-width="0.28" transform="rotate(-45 90.86 187.20)">0.94</text>
<text x="103.29" y="187.20" font-size="7.3" text-anchor="start" fill="#111" stroke="#111" stroke-width="0.28" transform="rotate(-45 103.29 187.20)">1.88</text>
<text x="115.72" y="187.20" font-size="7.3" text-anchor="start" fill="#111" stroke="#111" stroke-width="0.28" transform="rotate(-45 115.72 187.20)">3.75</text>
<text x="128.15" y="187.20" font-size="7.3" text-anchor="start" fill="#111" stroke="#111" stroke-width="0.28" transform="rotate(-45 128.15 187.20)">7.5</text>
<text x="140.58" y="187.20" font-size="7.3" text-anchor="start" fill="#111" stroke="#111" stroke-width="0.28" transform="rotate(-45 140.58 187.20)">15</text>
<text x="153.01" y="187.20" font-size="7.3" text-anchor="start" fill="#111" stroke="#111" stroke-width="0.28" transform="rotate(-45 153.01 187.20)">30</text>
<text x="165.44" y="187.20" font-size="7.3" text-anchor="start" fill="#111" stroke="#111" stroke-width="0.28" transform="rotate(-45 165.44 187.20)">60</text>
<text x="177.87" y="187.20" font-size="7.3" text-anchor="start" fill="#111" stroke="#111" stroke-width="0.28" transform="rotate(-45 177.87 187.20)">T101</text>
<line x1="234.00" y1="240.80" x2="352.00" y2="240.80" stroke="#333" stroke-width="0.8" stroke-dasharray="0.9 2.1"/>
<line x1="234.00" y1="218.30" x2="352.00" y2="218.30" stroke="#333" stroke-width="0.8" stroke-dasharray="0.9 2.1"/>
<polyline points="240.80,218.30 252.21,199.62 263.62,212.68 275.03,213.80 286.44,219.43 297.85,223.93 309.26,229.55 320.67,236.30 332.08,239.23 343.49,240.35" fill="none" stroke="#8787c6" stroke-width="1"/>
<line x1="252.21" y1="190.18" x2="252.21" y2="209.30" stroke="#111" stroke-width="1.0" />
<line x1="250.21" y1="190.18" x2="254.21" y2="190.18" stroke="#111" stroke-width="1.0" />
<line x1="250.21" y1="209.30" x2="254.21" y2="209.30" stroke="#111" stroke-width="1.0" />
<line x1="263.62" y1="209.30" x2="263.62" y2="216.05" stroke="#111" stroke-width="1.0" />
<line x1="261.62" y1="209.30" x2="265.62" y2="209.30" stroke="#111" stroke-width="1.0" />
<line x1="261.62" y1="216.05" x2="265.62" y2="216.05" stroke="#111" stroke-width="1.0" />
<line x1="297.85" y1="221.68" x2="297.85" y2="226.18" stroke="#111" stroke-width="1.0" />
<line x1="295.85" y1="221.68" x2="299.85" y2="221.68" stroke="#111" stroke-width="1.0" />
<line x1="295.85" y1="226.18" x2="299.85" y2="226.18" stroke="#111" stroke-width="1.0" />
<circle cx="240.80" cy="218.30" r="1.5" fill="#7d7db8" />
<circle cx="252.21" cy="199.62" r="1.5" fill="#7d7db8" />
<circle cx="263.62" cy="212.68" r="1.5" fill="#7d7db8" />
<circle cx="275.03" cy="213.80" r="1.5" fill="#7d7db8" />
<circle cx="286.44" cy="219.43" r="1.5" fill="#7d7db8" />
<circle cx="297.85" cy="223.93" r="1.5" fill="#7d7db8" />
<circle cx="309.26" cy="229.55" r="1.5" fill="#7d7db8" />
<circle cx="320.67" cy="236.30" r="1.5" fill="#7d7db8" />
<circle cx="332.08" cy="239.23" r="1.5" fill="#7d7db8" />
<circle cx="343.49" cy="240.35" r="1.5" fill="#7d7db8" />
<line x1="233.30" y1="172.00" x2="233.30" y2="251.60" stroke="#1a1a1a" stroke-width="1" />
<line x1="230.30" y1="240.80" x2="233.30" y2="240.80" stroke="#1a1a1a" stroke-width="1" />
<text x="228.30" y="243.50" font-size="7.8" text-anchor="end" fill="#111" stroke="#111" stroke-width="0.28">0</text>
<line x1="230.30" y1="218.30" x2="233.30" y2="218.30" stroke="#1a1a1a" stroke-width="1" />
<text x="228.30" y="221.00" font-size="7.8" text-anchor="end" fill="#111" stroke="#111" stroke-width="0.28">1</text>
<line x1="230.30" y1="195.80" x2="233.30" y2="195.80" stroke="#1a1a1a" stroke-width="1" />
<text x="228.30" y="198.50" font-size="7.8" text-anchor="end" fill="#111" stroke="#111" stroke-width="0.28">2</text>
<line x1="230.30" y1="173.30" x2="233.30" y2="173.30" stroke="#1a1a1a" stroke-width="1" />
<text x="228.30" y="176.00" font-size="7.8" text-anchor="end" fill="#111" stroke="#111" stroke-width="0.28">3</text>
<line x1="231.80" y1="240.80" x2="233.30" y2="240.80" stroke="#1a1a1a" stroke-width="1" />
<line x1="231.80" y1="229.55" x2="233.30" y2="229.55" stroke="#1a1a1a" stroke-width="1" />
<line x1="231.80" y1="218.30" x2="233.30" y2="218.30" stroke="#1a1a1a" stroke-width="1" />
<line x1="231.80" y1="207.05" x2="233.30" y2="207.05" stroke="#1a1a1a" stroke-width="1" />
<line x1="231.80" y1="195.80" x2="233.30" y2="195.80" stroke="#1a1a1a" stroke-width="1" />
<line x1="231.80" y1="184.55" x2="233.30" y2="184.55" stroke="#1a1a1a" stroke-width="1" />
<line x1="231.80" y1="173.30" x2="233.30" y2="173.30" stroke="#1a1a1a" stroke-width="1" />
<line x1="233.30" y1="251.60" x2="351.30" y2="251.60" stroke="#1a1a1a" stroke-width="1" />
<line x1="240.80" y1="251.60" x2="240.80" y2="254.60" stroke="#1a1a1a" stroke-width="1" />
<text x="244.60" y="262.00" font-size="7.2" text-anchor="end" fill="#111" stroke="#111" stroke-width="0.28" transform="rotate(-45 244.60 262.00)">0</text>
<line x1="252.21" y1="251.60" x2="252.21" y2="254.60" stroke="#1a1a1a" stroke-width="1" />
<text x="256.01" y="262.00" font-size="7.2" text-anchor="end" fill="#111" stroke="#111" stroke-width="0.28" transform="rotate(-45 256.01 262.00)">0.48</text>
<line x1="263.62" y1="251.60" x2="263.62" y2="254.60" stroke="#1a1a1a" stroke-width="1" />
<text x="267.42" y="262.00" font-size="7.2" text-anchor="end" fill="#111" stroke="#111" stroke-width="0.28" transform="rotate(-45 267.42 262.00)">0.94</text>
<line x1="275.03" y1="251.60" x2="275.03" y2="254.60" stroke="#1a1a1a" stroke-width="1" />
<text x="278.83" y="262.00" font-size="7.2" text-anchor="end" fill="#111" stroke="#111" stroke-width="0.28" transform="rotate(-45 278.83 262.00)">1.88</text>
<line x1="286.44" y1="251.60" x2="286.44" y2="254.60" stroke="#1a1a1a" stroke-width="1" />
<text x="290.24" y="262.00" font-size="7.2" text-anchor="end" fill="#111" stroke="#111" stroke-width="0.28" transform="rotate(-45 290.24 262.00)">3.75</text>
<line x1="297.85" y1="251.60" x2="297.85" y2="254.60" stroke="#1a1a1a" stroke-width="1" />
<text x="301.65" y="262.00" font-size="7.2" text-anchor="end" fill="#111" stroke="#111" stroke-width="0.28" transform="rotate(-45 301.65 262.00)">7.5</text>
<line x1="309.26" y1="251.60" x2="309.26" y2="254.60" stroke="#1a1a1a" stroke-width="1" />
<text x="313.06" y="262.00" font-size="7.2" text-anchor="end" fill="#111" stroke="#111" stroke-width="0.28" transform="rotate(-45 313.06 262.00)">15</text>
<line x1="320.67" y1="251.60" x2="320.67" y2="254.60" stroke="#1a1a1a" stroke-width="1" />
<text x="324.47" y="262.00" font-size="7.2" text-anchor="end" fill="#111" stroke="#111" stroke-width="0.28" transform="rotate(-45 324.47 262.00)">30</text>
<line x1="332.08" y1="251.60" x2="332.08" y2="254.60" stroke="#1a1a1a" stroke-width="1" />
<text x="335.88" y="262.00" font-size="7.2" text-anchor="end" fill="#111" stroke="#111" stroke-width="0.28" transform="rotate(-45 335.88 262.00)">60</text>
<line x1="343.49" y1="251.60" x2="343.49" y2="254.60" stroke="#1a1a1a" stroke-width="1" />
<text x="347.29" y="262.00" font-size="7.2" text-anchor="end" fill="#111" stroke="#111" stroke-width="0.28" transform="rotate(-45 347.29 262.00)">T101</text>
<circle cx="250.84" cy="186.20" r="0.95" fill="#111" />
<circle cx="253.59" cy="186.20" r="0.95" fill="#111" />
<circle cx="320.67" cy="230.20" r="0.95" fill="#111" />
<circle cx="330.71" cy="233.70" r="0.95" fill="#111" />
<circle cx="333.46" cy="233.70" r="0.95" fill="#111" />
<circle cx="342.12" cy="234.60" r="0.95" fill="#111" />
<circle cx="344.87" cy="234.60" r="0.95" fill="#111" />
<text x="218.60" y="209.00" font-size="6.5" text-anchor="middle" fill="#111" stroke="#111" stroke-width="0.28" textLength="55" lengthAdjust="spacingAndGlyphs" transform="rotate(-90 218.60 209.00)">Relative band density</text>
<text x="292.90" y="282.00" font-size="7.3" text-anchor="middle" fill="#111" stroke="#111" stroke-width="0.28" textLength="33.3" lengthAdjust="spacingAndGlyphs">[M1] µg/ml</text>
<line x1="41.00" y1="384.40" x2="159.00" y2="384.40" stroke="#6a6a6a" stroke-width="0.9" stroke-dasharray="1.5 1.7"/>
<line x1="41.00" y1="343.22" x2="159.00" y2="343.22" stroke="#6a6a6a" stroke-width="0.9" stroke-dasharray="1.5 1.7"/>
<polyline points="47.50,343.22 62.28,327.91 77.06,335.06 91.84,341.50 106.62,341.93 121.40,357.94 136.18,373.67 150.96,384.40" fill="none" stroke="#8787c6" stroke-width="1"/>
<line x1="47.50" y1="340.36" x2="47.50" y2="346.08" stroke="#111" stroke-width="1.0" />
<line x1="45.50" y1="340.36" x2="49.50" y2="340.36" stroke="#111" stroke-width="1.0" />
<line x1="45.50" y1="346.08" x2="49.50" y2="346.08" stroke="#111" stroke-width="1.0" />
<line x1="62.28" y1="324.05" x2="62.28" y2="331.49" stroke="#111" stroke-width="1.0" />
<line x1="60.28" y1="324.05" x2="64.28" y2="324.05" stroke="#111" stroke-width="1.0" />
<line x1="60.28" y1="331.49" x2="64.28" y2="331.49" stroke="#111" stroke-width="1.0" />
<line x1="77.06" y1="332.20" x2="77.06" y2="337.21" stroke="#111" stroke-width="1.0" />
<line x1="75.06" y1="332.20" x2="79.06" y2="332.20" stroke="#111" stroke-width="1.0" />
<line x1="75.06" y1="337.21" x2="79.06" y2="337.21" stroke="#111" stroke-width="1.0" />
<line x1="91.84" y1="339.35" x2="91.84" y2="343.64" stroke="#111" stroke-width="1.0" />
<line x1="89.84" y1="339.35" x2="93.84" y2="339.35" stroke="#111" stroke-width="1.0" />
<line x1="89.84" y1="343.64" x2="93.84" y2="343.64" stroke="#111" stroke-width="1.0" />
<line x1="106.62" y1="338.64" x2="106.62" y2="345.07" stroke="#111" stroke-width="1.0" />
<line x1="104.62" y1="338.64" x2="108.62" y2="338.64" stroke="#111" stroke-width="1.0" />
<line x1="104.62" y1="345.07" x2="108.62" y2="345.07" stroke="#111" stroke-width="1.0" />
<line x1="136.18" y1="371.24" x2="136.18" y2="375.82" stroke="#111" stroke-width="1.0" />
<line x1="134.18" y1="371.24" x2="138.18" y2="371.24" stroke="#111" stroke-width="1.0" />
<line x1="134.18" y1="375.82" x2="138.18" y2="375.82" stroke="#111" stroke-width="1.0" />
<circle cx="47.50" cy="343.22" r="1.6" fill="#7d7db8" />
<circle cx="62.28" cy="327.91" r="1.6" fill="#7d7db8" />
<circle cx="77.06" cy="335.06" r="1.6" fill="#7d7db8" />
<circle cx="91.84" cy="341.50" r="1.6" fill="#7d7db8" />
<circle cx="106.62" cy="341.93" r="1.6" fill="#7d7db8" />
<circle cx="121.40" cy="357.94" r="1.6" fill="#7d7db8" />
<circle cx="136.18" cy="373.67" r="1.6" fill="#7d7db8" />
<circle cx="150.96" cy="384.40" r="1.6" fill="#7d7db8" />
<line x1="40.00" y1="311.50" x2="40.00" y2="391.00" stroke="#1a1a1a" stroke-width="1" />
<line x1="37.00" y1="384.40" x2="40.00" y2="384.40" stroke="#1a1a1a" stroke-width="1" />
<text x="34.50" y="387.10" font-size="7.8" text-anchor="end" fill="#111" stroke="#111" stroke-width="0.28">0</text>
<line x1="37.00" y1="370.10" x2="40.00" y2="370.10" stroke="#1a1a1a" stroke-width="1" />
<text x="34.50" y="372.80" font-size="7.8" text-anchor="end" fill="#111" stroke="#111" stroke-width="0.28">1</text>
<line x1="37.00" y1="355.80" x2="40.00" y2="355.80" stroke="#1a1a1a" stroke-width="1" />
<text x="34.50" y="358.50" font-size="7.8" text-anchor="end" fill="#111" stroke="#111" stroke-width="0.28">2</text>
<line x1="37.00" y1="341.50" x2="40.00" y2="341.50" stroke="#1a1a1a" stroke-width="1" />
<text x="34.50" y="344.20" font-size="7.8" text-anchor="end" fill="#111" stroke="#111" stroke-width="0.28">3</text>
<line x1="37.00" y1="327.20" x2="40.00" y2="327.20" stroke="#1a1a1a" stroke-width="1" />
<text x="34.50" y="329.90" font-size="7.8" text-anchor="end" fill="#111" stroke="#111" stroke-width="0.28">4</text>
<line x1="37.00" y1="312.90" x2="40.00" y2="312.90" stroke="#1a1a1a" stroke-width="1" />
<text x="34.50" y="315.60" font-size="7.8" text-anchor="end" fill="#111" stroke="#111" stroke-width="0.28">5</text>
<line x1="38.50" y1="384.40" x2="40.00" y2="384.40" stroke="#1a1a1a" stroke-width="1" />
<line x1="38.50" y1="377.25" x2="40.00" y2="377.25" stroke="#1a1a1a" stroke-width="1" />
<line x1="38.50" y1="370.10" x2="40.00" y2="370.10" stroke="#1a1a1a" stroke-width="1" />
<line x1="38.50" y1="362.95" x2="40.00" y2="362.95" stroke="#1a1a1a" stroke-width="1" />
<line x1="38.50" y1="355.80" x2="40.00" y2="355.80" stroke="#1a1a1a" stroke-width="1" />
<line x1="38.50" y1="348.65" x2="40.00" y2="348.65" stroke="#1a1a1a" stroke-width="1" />
<line x1="38.50" y1="341.50" x2="40.00" y2="341.50" stroke="#1a1a1a" stroke-width="1" />
<line x1="38.50" y1="334.35" x2="40.00" y2="334.35" stroke="#1a1a1a" stroke-width="1" />
<line x1="38.50" y1="327.20" x2="40.00" y2="327.20" stroke="#1a1a1a" stroke-width="1" />
<line x1="38.50" y1="320.05" x2="40.00" y2="320.05" stroke="#1a1a1a" stroke-width="1" />
<line x1="38.50" y1="312.90" x2="40.00" y2="312.90" stroke="#1a1a1a" stroke-width="1" />
<line x1="40.00" y1="391.00" x2="158.00" y2="391.00" stroke="#1a1a1a" stroke-width="1" />
<line x1="47.50" y1="391.00" x2="47.50" y2="394.00" stroke="#1a1a1a" stroke-width="1" />
<text x="51.30" y="401.40" font-size="7.2" text-anchor="end" fill="#111" stroke="#111" stroke-width="0.28" transform="rotate(-45 51.30 401.40)">0</text>
<line x1="62.28" y1="391.00" x2="62.28" y2="394.00" stroke="#1a1a1a" stroke-width="1" />
<text x="66.08" y="401.40" font-size="7.2" text-anchor="end" fill="#111" stroke="#111" stroke-width="0.28" transform="rotate(-45 66.08 401.40)">1.88</text>
<line x1="77.06" y1="391.00" x2="77.06" y2="394.00" stroke="#1a1a1a" stroke-width="1" />
<text x="80.86" y="401.40" font-size="7.2" text-anchor="end" fill="#111" stroke="#111" stroke-width="0.28" transform="rotate(-45 80.86 401.40)">3.75</text>
<line x1="91.84" y1="391.00" x2="91.84" y2="394.00" stroke="#1a1a1a" stroke-width="1" />
<text x="95.64" y="401.40" font-size="7.2" text-anchor="end" fill="#111" stroke="#111" stroke-width="0.28" transform="rotate(-45 95.64 401.40)">7.5</text>
<line x1="106.62" y1="391.00" x2="106.62" y2="394.00" stroke="#1a1a1a" stroke-width="1" />
<text x="110.42" y="401.40" font-size="7.2" text-anchor="end" fill="#111" stroke="#111" stroke-width="0.28" transform="rotate(-45 110.42 401.40)">15</text>
<line x1="121.40" y1="391.00" x2="121.40" y2="394.00" stroke="#1a1a1a" stroke-width="1" />
<text x="125.20" y="401.40" font-size="7.2" text-anchor="end" fill="#111" stroke="#111" stroke-width="0.28" transform="rotate(-45 125.20 401.40)">30</text>
<line x1="136.18" y1="391.00" x2="136.18" y2="394.00" stroke="#1a1a1a" stroke-width="1" />
<text x="139.98" y="401.40" font-size="7.2" text-anchor="end" fill="#111" stroke="#111" stroke-width="0.28" transform="rotate(-45 139.98 401.40)">60</text>
<line x1="150.96" y1="391.00" x2="150.96" y2="394.00" stroke="#1a1a1a" stroke-width="1" />
<text x="154.76" y="401.40" font-size="7.2" text-anchor="end" fill="#111" stroke="#111" stroke-width="0.28" transform="rotate(-45 154.76 401.40)">T101</text>
<circle cx="60.91" cy="319.60" r="0.95" fill="#111" />
<circle cx="63.66" cy="319.60" r="0.95" fill="#111" />
<circle cx="120.02" cy="352.40" r="0.95" fill="#111" />
<circle cx="122.77" cy="352.40" r="0.95" fill="#111" />
<circle cx="132.06" cy="366.20" r="0.95" fill="#111" />
<circle cx="134.81" cy="366.20" r="0.95" fill="#111" />
<circle cx="137.56" cy="366.20" r="0.95" fill="#111" />
<circle cx="140.31" cy="366.20" r="0.95" fill="#111" />
<circle cx="146.83" cy="378.50" r="0.95" fill="#111" />
<circle cx="149.58" cy="378.50" r="0.95" fill="#111" />
<circle cx="152.33" cy="378.50" r="0.95" fill="#111" />
<circle cx="155.08" cy="378.50" r="0.95" fill="#111" />
<text x="23.20" y="350.30" font-size="6.8" text-anchor="middle" fill="#111" stroke="#111" stroke-width="0.28" textLength="47.4" lengthAdjust="spacingAndGlyphs" transform="rotate(-90 23.20 350.30)">[D-Dimer] (mg/ml)</text>
<text x="99.00" y="421.50" font-size="7.3" text-anchor="middle" fill="#111" stroke="#111" stroke-width="0.28" textLength="33" lengthAdjust="spacingAndGlyphs">[M1] µg/ml</text>
<rect x="238.50" y="331.96" width="11.20" height="59.54" fill="#3db54c" />
<line x1="244.50" y1="321.69" x2="244.50" y2="340.02" stroke="#1a1a1a" stroke-width="0.9" />
<line x1="242.50" y1="321.69" x2="246.50" y2="321.69" stroke="#1a1a1a" stroke-width="0.9" />
<line x1="242.50" y1="340.02" x2="246.50" y2="340.02" stroke="#1a1a1a" stroke-width="0.9" />
<rect x="254.47" y="332.35" width="11.20" height="59.15" fill="#9fd7a0" />
<line x1="260.50" y1="321.69" x2="260.50" y2="342.10" stroke="#1a1a1a" stroke-width="0.9" />
<line x1="258.50" y1="321.69" x2="262.50" y2="321.69" stroke="#1a1a1a" stroke-width="0.9" />
<line x1="258.50" y1="342.10" x2="262.50" y2="342.10" stroke="#1a1a1a" stroke-width="0.9" />
<rect x="270.44" y="332.35" width="11.20" height="59.15" fill="#bfcca9" />
<line x1="276.50" y1="321.69" x2="276.50" y2="342.10" stroke="#1a1a1a" stroke-width="0.9" />
<line x1="274.50" y1="321.69" x2="278.50" y2="321.69" stroke="#1a1a1a" stroke-width="0.9" />
<line x1="274.50" y1="342.10" x2="278.50" y2="342.10" stroke="#1a1a1a" stroke-width="0.9" />
<rect x="286.41" y="332.35" width="11.20" height="59.15" fill="#e3e7da" />
<line x1="292.50" y1="321.69" x2="292.50" y2="341.45" stroke="#1a1a1a" stroke-width="0.9" />
<line x1="290.50" y1="321.69" x2="294.50" y2="321.69" stroke="#1a1a1a" stroke-width="0.9" />
<line x1="290.50" y1="341.45" x2="294.50" y2="341.45" stroke="#1a1a1a" stroke-width="0.9" />
<rect x="302.38" y="331.96" width="11.20" height="59.54" fill="#2f8a6c" />
<line x1="307.50" y1="321.69" x2="307.50" y2="342.10" stroke="#1a1a1a" stroke-width="0.9" />
<line x1="305.50" y1="321.69" x2="309.50" y2="321.69" stroke="#1a1a1a" stroke-width="0.9" />
<line x1="305.50" y1="342.10" x2="309.50" y2="342.10" stroke="#1a1a1a" stroke-width="0.9" />
<rect x="318.35" y="333.00" width="11.20" height="58.50" fill="#7db5a1" />
<line x1="323.50" y1="322.21" x2="323.50" y2="342.10" stroke="#1a1a1a" stroke-width="0.9" />
<line x1="321.50" y1="322.21" x2="325.50" y2="322.21" stroke="#1a1a1a" stroke-width="0.9" />
<line x1="321.50" y1="342.10" x2="325.50" y2="342.10" stroke="#1a1a1a" stroke-width="0.9" />
<rect x="334.32" y="334.56" width="11.20" height="56.94" fill="#318a6e" />
<line x1="339.50" y1="324.29" x2="339.50" y2="344.31" stroke="#1a1a1a" stroke-width="0.9" />
<line x1="337.50" y1="324.29" x2="341.50" y2="324.29" stroke="#1a1a1a" stroke-width="0.9" />
<line x1="337.50" y1="344.31" x2="341.50" y2="344.31" stroke="#1a1a1a" stroke-width="0.9" />
<line x1="233.30" y1="311.00" x2="233.30" y2="391.50" stroke="#1a1a1a" stroke-width="1" />
<line x1="230.30" y1="391.50" x2="233.30" y2="391.50" stroke="#1a1a1a" stroke-width="1" />
<text x="228.30" y="394.20" font-size="7.8" text-anchor="end" fill="#111" stroke="#111" stroke-width="0.28">0</text>
<line x1="230.30" y1="378.50" x2="233.30" y2="378.50" stroke="#1a1a1a" stroke-width="1" />
<text x="228.30" y="381.20" font-size="7.8" text-anchor="end" fill="#111" stroke="#111" stroke-width="0.28">1</text>
<line x1="230.30" y1="365.50" x2="233.30" y2="365.50" stroke="#1a1a1a" stroke-width="1" />
<text x="228.30" y="368.20" font-size="7.8" text-anchor="end" fill="#111" stroke="#111" stroke-width="0.28">2</text>
<line x1="230.30" y1="352.50" x2="233.30" y2="352.50" stroke="#1a1a1a" stroke-width="1" />
<text x="228.30" y="355.20" font-size="7.8" text-anchor="end" fill="#111" stroke="#111" stroke-width="0.28">3</text>
<line x1="230.30" y1="339.50" x2="233.30" y2="339.50" stroke="#1a1a1a" stroke-width="1" />
<text x="228.30" y="342.20" font-size="7.8" text-anchor="end" fill="#111" stroke="#111" stroke-width="0.28">4</text>
<line x1="230.30" y1="326.50" x2="233.30" y2="326.50" stroke="#1a1a1a" stroke-width="1" />
<text x="228.30" y="329.20" font-size="7.8" text-anchor="end" fill="#111" stroke="#111" stroke-width="0.28">5</text>
<line x1="230.30" y1="313.50" x2="233.30" y2="313.50" stroke="#1a1a1a" stroke-width="1" />
<text x="228.30" y="316.20" font-size="7.8" text-anchor="end" fill="#111" stroke="#111" stroke-width="0.28">6</text>
<line x1="233.30" y1="391.50" x2="351.00" y2="391.50" stroke="#1a1a1a" stroke-width="1" />
<line x1="244.10" y1="391.50" x2="244.10" y2="394.50" stroke="#1a1a1a" stroke-width="1" />
<text x="247.90" y="401.90" font-size="7.2" text-anchor="end" fill="#111" stroke="#111" stroke-width="0.28" transform="rotate(-45 247.90 401.90)">0</text>
<line x1="260.07" y1="391.50" x2="260.07" y2="394.50" stroke="#1a1a1a" stroke-width="1" />
<text x="263.87" y="401.90" font-size="7.2" text-anchor="end" fill="#111" stroke="#111" stroke-width="0.28" transform="rotate(-45 263.87 401.90)">1.88</text>
<line x1="276.04" y1="391.50" x2="276.04" y2="394.50" stroke="#1a1a1a" stroke-width="1" />
<text x="279.84" y="401.90" font-size="7.2" text-anchor="end" fill="#111" stroke="#111" stroke-width="0.28" transform="rotate(-45 279.84 401.90)">3.75</text>
<line x1="292.01" y1="391.50" x2="292.01" y2="394.50" stroke="#1a1a1a" stroke-width="1" />
<text x="295.81" y="401.90" font-size="7.2" text-anchor="end" fill="#111" stroke="#111" stroke-width="0.28" transform="rotate(-45 295.81 401.90)">7.50</text>
<line x1="307.98" y1="391.50" x2="307.98" y2="394.50" stroke="#1a1a1a" stroke-width="1" />
<text x="311.78" y="401.90" font-size="7.2" text-anchor="end" fill="#111" stroke="#111" stroke-width="0.28" transform="rotate(-45 311.78 401.90)">15</text>
<line x1="323.95" y1="391.50" x2="323.95" y2="394.50" stroke="#1a1a1a" stroke-width="1" />
<text x="327.75" y="401.90" font-size="7.2" text-anchor="end" fill="#111" stroke="#111" stroke-width="0.28" transform="rotate(-45 327.75 401.90)">30</text>
<line x1="339.92" y1="391.50" x2="339.92" y2="394.50" stroke="#1a1a1a" stroke-width="1" />
<text x="343.72" y="401.90" font-size="7.2" text-anchor="end" fill="#111" stroke="#111" stroke-width="0.28" transform="rotate(-45 343.72 401.90)">60</text>
<text x="217.00" y="352.50" font-size="6.8" text-anchor="middle" fill="#111" stroke="#111" stroke-width="0.28" textLength="87" lengthAdjust="spacingAndGlyphs" transform="rotate(-90 217.00 352.50)">[FXIIIa activity] (PEU/dL ×10<tspan font-size="4.5" dy="-2.5">3</tspan><tspan dy="2.5">)</tspan></text>
<text x="293.00" y="421.50" font-size="7.3" text-anchor="middle" fill="#111" stroke="#111" stroke-width="0.28" textLength="34" lengthAdjust="spacingAndGlyphs">[M1] µg/ml</text>
<text x="371.00" y="27.60" font-size="7.5" text-anchor="start" fill="#111" stroke="#111" stroke-width="0.05">M1</text>
<text x="380.20" y="76.30" font-size="7.9" text-anchor="middle" fill="#111" transform="rotate(-90 380.20 76.30)">0 µg/ml</text>
<text x="380.20" y="173.30" font-size="7.9" text-anchor="middle" fill="#111" transform="rotate(-90 380.20 173.30)">3.75 µg/ml</text>
<text x="380.20" y="270.30" font-size="7.9" text-anchor="middle" fill="#111" transform="rotate(-90 380.20 270.30)">60 µg/ml</text>
<clipPath id="c1"><rect x="385" y="32" width="128.5" height="88.2"/></clipPath>
<g clip-path="url(#c1)">
<rect x="385.00" y="32.00" width="128.50" height="88.20" fill="#6a6a6a" />
<rect x="385" y="32" width="128" height="88" filter="url(#turb1)" opacity="0.2"/>
<g filter="url(#bl2)">
<path d="M442.9 81.3l-1.1 0.3M450.0 83.7l1.1 0.7M465.6 101.8l0.7 0.2M396.6 103.2l-0.1 0.1M510.7 116.9l-0.7 1.4M405.2 33.3l-0.0 0.1M409.3 53.3l1.2 0.1M441.4 106.1l-0.1 1.6M449.0 90.3l0.1 0.7M512.7 119.6l-1.6 0.9M425.4 52.2l0.1 0.1M483.1 67.2l-0.9 0.4M507.6 106.6l0.5 0.0M501.5 73.4l-1.0 0.1M394.3 87.4l-0.5 0.4M396.2 61.3l-1.9 0.2M400.1 53.7l0.1 0.0M487.0 47.6l-0.2 1.1M409.4 96.4l1.5 0.6M399.9 69.0l0.5 0.4M509.3 102.7l1.3 1.8M412.0 66.7l-1.4 0.7M397.8 119.1l0.5 0.4M483.9 60.9l0.1 0.1M396.5 83.3l1.1 1.0M432.6 71.9l-1.2 0.2M458.5 108.3l0.3 0.2M501.3 104.0l0.3 0.3M479.6 114.8l1.9 1.4M497.9 85.1l0.1 0.3M390.0 116.7l1.3 1.2M417.9 104.5l-0.2 0.7M407.5 95.4l0.6 0.1M456.6 107.0l-0.2 0.7M502.4 50.0l0.7 0.0M442.1 37.3l0.8 0.5M458.2 43.6l0.9 2.0M510.5 89.8l-0.8 1.2M403.0 35.1l2.3 0.1M474.7 116.7l1.6 0.1M446.7 96.3l1.3 2.1M394.6 80.1l-1.5 1.7M479.3 93.9l-1.8 1.4M430.0 92.3l-2.1 0.7M438.4 101.6l-1.3 0.6M465.0 65.6l-0.4 1.5M395.3 88.3l-2.2 0.0M478.2 66.2l-1.0 1.1M441.4 105.8l1.8 0.5M388.8 84.9l0.0 0.6M474.4 75.8l-0.8 2.2M417.7 33.0l1.0 1.4M410.9 46.9l-1.6 0.5M441.6 110.5l0.9 1.4M410.4 69.9l-1.9 1.3M497.7 65.8l-0.2 0.8M402.4 75.7l-1.8 1.0M476.0 115.6l0.3 0.3M442.7 56.2l0.8 0.6M465.1 75.5l1.1 1.8M510.7 71.8l0.1 0.0M496.7 35.7l-0.9 1.1M424.6 101.7l0.3 0.0M443.2 34.2l-0.5 0.3M403.0 36.1l-0.4 1.0M465.6 89.6l-2.0 1.4M472.6 49.5l0.0 0.4M386.4 73.6l-0.3 0.4M419.9 62.4l-0.8 1.1M463.6 98.5l0.7 1.9M501.0 39.7l-1.8 0.4M401.6 71.9l-0.9 2.1M433.2 82.1l-1.9 0.7M505.9 72.8l-0.2 0.5M477.4 104.0l-0.8 1.6M412.3 111.2l-2.4 0.1M453.7 101.6l1.2 1.9M494.5 62.7l1.1 0.3M455.4 99.6l0.0 0.1M488.6 37.6l-0.3 0.3M427.9 101.3l0.3 0.2M451.1 95.7l-1.5 0.8M506.1 75.3l-0.2 0.0M413.3 78.3l1.1 1.4M466.8 78.0l-1.2 0.7M424.9 65.5l-2.0 1.1M411.7 106.9l-1.3 0.1M458.3 49.7l-0.1 1.2M462.5 34.4l-1.3 0.1M436.3 102.5l-0.2 1.2M473.4 37.8l-0.1 1.0M507.5 113.3l0.8 0.9M401.3 70.2l-1.9 1.2M446.0 59.9l1.3 0.9M503.4 43.4l-0.0 0.0M409.8 52.0l-0.4 0.7M430.5 86.5l1.7 0.6M400.7 76.9l0.3 0.4M452.9 70.4l0.4 1.0M452.8 46.1l1.3 0.9M466.7 78.6l-1.4 0.7M494.7 52.5l-1.4 1.5M500.5 59.8l1.3 1.9M412.9 119.9l-0.3 0.1M415.6 95.9l0.2 0.2M491.5 69.1l-0.2 0.2M436.6 92.3l0.5 0.0M472.3 112.2l-0.3 0.0M449.7 98.7l-0.0 1.7M409.2 38.2l0.1 0.0M455.6 77.3l-0.1 0.4M408.6 49.9l-2.2 1.2M503.6 40.4l2.3 0.5M444.1 99.3l0.6 1.0M451.0 69.8l-0.0 0.0M474.7 106.3l1.0 0.6M479.6 67.7l0.3 0.2M450.6 33.4l-1.9 0.7M475.2 107.7l-0.4 0.9M461.7 76.4l-2.0 0.1M418.1 112.2l-1.4 1.4M489.3 67.7l-2.1 0.7M473.9 99.5l-0.8 0.7M477.5 38.2l0.6 1.0M386.4 63.3l-0.7 1.4M414.7 115.1l-0.4 0.7M469.4 82.1l-0.1 1.0M513.0 88.5l-1.1 1.5M510.5 34.0l-0.7 1.7M417.8 67.3l0.5 0.1M433.1 40.7l1.6 1.6M455.4 76.7l-1.4 0.1M512.4 88.1l-0.2 0.1M461.5 98.8l2.3 0.3M405.5 73.5l1.1 0.6M463.2 37.2l-1.0 0.2M452.4 84.6l0.3 0.7M468.9 81.3l1.1 1.4M422.9 33.2l0.1 0.1M405.0 98.4l0.8 2.1M480.8 36.4l-2.4 0.1M394.4 111.7l0.3 1.2M509.6 53.4l-0.2 2.3M477.5 73.2l-2.0 0.1M462.3 42.1l-0.4 1.1M411.1 36.6l-0.0 0.3M441.7 90.8l0.1 0.6M459.5 68.9l-1.0 0.9M512.7 115.8l-0.4 0.4M399.6 110.6l-1.2 1.0M431.0 55.9l-0.8 1.2M460.7 87.7l-0.3 0.3M416.9 118.2l-2.1 0.6M390.1 37.3l0.7 0.8M464.8 41.0l-0.0 0.2M396.1 91.5l-0.2 1.6M432.8 74.1l0.7 0.5M480.3 105.8l0.3 0.1M488.6 86.9l-0.4 0.4M439.3 54.7l-0.8 0.5M468.7 119.0l0.7 1.2M480.5 113.0l0.2 0.9M397.4 109.0l0.2 0.1M457.2 74.7l-0.4 0.6M484.3 38.7l1.3 1.0M395.5 58.7l-1.1 1.3M421.2 44.6l0.8 1.6M431.9 42.3l-0.9 1.1M502.6 114.7l-1.1 0.3M487.8 58.8l0.5 0.8M504.6 110.7l0.6 0.6M431.8 64.0l0.3 0.9M410.0 81.6l-1.1 0.8M492.1 81.5l1.6 1.0M497.8 56.8l1.3 0.1M454.7 81.9l-1.6 0.2M488.0 37.6l-0.3 1.9M395.8 39.2l-1.5 1.7M395.8 87.8l1.7 0.8M468.1 53.6l1.5 1.2M451.8 99.3l0.3 0.8M508.9 91.2l0.0 1.3M477.3 94.3l-1.0 0.3M490.8 90.7l-1.8 0.9M491.7 110.2l-1.6 0.2M452.1 94.5l-0.9 0.6M438.8 44.9l-1.7 1.8M433.1 46.8l0.9 0.6M422.4 117.3l0.8 0.1M399.7 89.0l-0.3 0.3M393.0 72.4l-0.6 2.2M389.7 41.6l0.5 0.3M415.1 95.1l-0.2 0.5M408.7 56.7l1.6 1.0M424.9 80.2l-1.0 0.7M418.3 110.1l-0.8 0.2M455.1 116.2l0.0 0.6M391.4 115.4l-0.8 0.6M452.5 77.4l1.6 1.9M469.2 52.9l1.2 0.0M432.6 102.1l-0.9 1.2M405.1 45.8l0.3 0.5M496.3 77.4l-1.0 2.3M419.1 79.0l1.7 0.9M385.2 104.3l-1.8 1.0M395.6 55.8l-0.2 0.2M446.5 73.2l-1.5 0.2M494.7 58.7l-0.8 0.6M502.3 40.0l-0.4 0.3M454.6 78.3l1.8 1.0M424.9 59.3l0.7 0.2M444.8 94.9l0.7 1.6M398.5 66.7l0.3 2.4M491.2 89.5l0.9 0.0M475.9 52.9l-0.2 1.1M386.3 119.3l-0.4 0.3M463.9 57.6l0.5 1.2M423.2 61.7l0.6 1.6M417.8 49.6l-0.5 0.6M506.0 81.5l-0.5 0.6" fill="none" stroke="#3a3a3a" stroke-opacity="0.5" stroke-width="2.2" stroke-linecap="round"/>
<path d="M490.8 40.1l0.1 0.1M471.7 94.3l0.5 0.3M492.1 84.2l0.3 0.1M405.1 42.9l0.0 0.1M502.8 69.6l-0.0 1.0M483.2 104.3l0.2 0.5M437.8 33.4l0.3 1.0M510.7 101.5l-0.4 0.8M387.4 61.1l0.5 0.9M398.6 65.2l-0.0 1.2M490.6 85.8l1.0 0.5M500.6 80.2l0.3 0.7M403.1 94.8l-0.8 0.0M476.6 105.5l1.2 0.8M465.3 49.4l0.4 0.1M458.8 93.3l0.7 1.2M431.2 72.7l1.4 0.6M402.4 111.6l-0.1 0.8M456.7 55.3l-1.4 0.4M489.6 84.9l1.1 0.5M421.9 110.9l0.6 0.6M491.3 48.3l-0.0 0.1M389.1 47.8l-1.4 0.1M469.3 59.1l-0.6 1.0M433.9 84.1l-0.0 0.0M410.5 73.2l0.5 0.3M457.9 47.3l-0.0 0.4M457.7 61.2l-0.0 0.1M470.9 44.7l-0.9 0.1M445.1 68.2l-0.4 1.0M482.0 98.2l0.1 1.5M492.3 107.2l0.2 0.6M457.4 111.7l-0.1 0.8M440.3 111.6l0.0 0.1M477.9 111.2l-0.6 0.7M481.2 58.8l-0.0 0.1M400.9 71.3l-0.0 0.6M391.7 93.2l-0.0 0.4M424.2 66.8l0.1 0.1M501.6 117.0l-0.6 1.1M438.9 102.9l0.9 0.7M457.6 111.5l1.1 0.4M400.8 79.3l-0.0 0.0M416.2 58.3l0.0 0.1M499.6 103.8l0.2 0.5M459.9 36.0l1.3 0.1M424.4 75.9l-1.4 0.3M445.5 50.2l0.8 1.1M499.8 49.2l-0.5 0.3M445.5 47.1l-1.4 0.6M410.9 87.7l1.1 0.7M391.4 41.3l-0.3 0.4M500.2 108.5l-0.1 0.2M474.1 114.5l0.0 0.1M413.6 59.0l-0.2 0.2M408.2 52.7l-0.6 1.0M432.7 90.3l-0.8 0.3M414.3 58.5l-1.0 0.2M420.4 88.3l1.4 0.4M441.4 78.5l-0.0 0.1M461.8 57.0l0.8 0.9M396.2 57.1l-0.3 0.3M420.7 80.2l1.1 0.7M511.4 35.0l0.1 1.1M434.2 113.8l0.0 0.3M456.2 88.8l0.4 0.9M485.2 77.5l-0.0 1.3M472.6 77.8l-0.3 0.0M484.8 46.5l-0.1 0.3M441.4 100.0l-0.9 0.7M415.2 75.0l0.7 0.6M448.9 35.1l-0.3 1.0M458.3 108.8l0.2 0.1M387.3 75.7l0.1 0.6M418.7 102.3l1.3 0.3M457.8 79.8l-0.3 0.2M403.7 59.4l0.5 0.1M464.5 78.2l0.6 0.7M396.3 104.2l0.3 0.2M405.5 92.8l-1.0 0.6M392.8 68.1l0.1 0.3M509.2 35.7l0.0 1.1M511.2 44.7l0.2 1.1M390.0 53.2l-0.2 0.1M435.3 58.2l0.0 0.1M389.4 119.7l-0.8 0.7M414.4 54.3l-0.1 0.4M444.1 114.1l0.2 0.5M510.6 85.8l0.6 0.1M468.2 37.1l0.5 0.9M495.6 84.0l-0.7 0.2M435.3 106.2l0.4 1.1M412.6 62.6l0.7 0.4M406.0 49.9l0.5 0.4M424.5 71.3l-1.0 0.0M495.4 50.0l0.0 0.1M473.5 63.9l0.0 0.0M408.3 55.1l0.5 1.3M476.5 55.6l0.1 0.2M504.9 63.7l-0.8 0.7M501.1 33.8l0.3 0.5M395.6 109.7l0.6 1.0M451.5 36.8l0.1 0.3M390.2 45.3l-0.0 0.0M425.0 69.3l-0.0 0.2M475.4 54.9l-0.7 0.8M403.8 50.0l0.7 0.8M436.9 66.0l-0.3 0.1M422.4 62.4l0.0 0.0M388.1 87.5l-0.2 1.2M509.9 58.2l-0.7 1.2M412.7 92.7l-0.7 1.2M496.2 52.6l-0.1 0.1M439.7 66.5l0.6 0.1M427.0 75.7l0.2 0.2M436.5 73.8l0.9 0.5M415.7 40.2l0.3 0.6M404.3 83.3l-0.5 0.7M474.6 34.0l0.2 0.5M393.1 67.6l0.7 0.1M460.0 73.3l0.2 0.3M388.0 62.5l-0.8 0.3M418.5 90.8l0.6 0.4M463.8 116.0l0.4 0.8M505.6 99.9l-0.4 0.9M437.6 68.6l0.8 0.9M497.6 65.6l-0.1 0.0M402.4 76.6l0.3 0.4M510.1 45.2l0.3 0.2M472.1 52.6l0.8 0.0M435.4 53.1l0.0 1.0M455.2 86.9l-0.2 1.2M509.0 61.3l0.6 1.2M425.1 95.0l-0.6 0.8M508.4 104.5l0.8 0.4M447.8 81.6l0.2 0.4M480.9 79.0l0.3 0.3M426.6 47.6l-0.0 0.2M393.1 38.0l1.0 0.3M399.4 71.7l-0.5 0.5M405.8 108.2l-0.1 0.0M417.5 76.7l-0.5 0.4M476.6 54.2l-0.3 0.4M427.7 98.8l-1.1 0.6M457.6 69.0l-0.6 0.7M491.4 102.5l0.5 0.2M470.7 52.3l0.0 0.0M459.9 114.8l-0.2 0.0M473.0 68.9l-0.2 0.5M504.5 119.0l1.1 0.2M400.2 35.7l0.7 0.9M512.2 42.6l0.0 0.0M454.4 74.5l0.2 0.4M487.5 105.8l0.4 0.5M464.1 99.4l-0.6 0.0M473.8 80.0l-0.2 0.1M407.4 41.4l-0.4 0.1M447.5 42.6l0.0 0.0M457.4 44.6l-0.2 0.4M414.1 74.4l0.2 0.4M391.6 37.7l-0.4 0.2M395.0 48.1l0.1 1.5M410.9 108.3l0.0 0.6M488.3 66.8l0.8 0.1M469.1 86.8l0.9 1.1M495.7 119.5l0.2 1.2M477.8 47.5l0.3 0.0M400.2 38.6l0.5 1.0M424.7 77.3l0.3 0.0M507.8 33.0l-0.1 1.2M486.4 96.7l0.4 1.1M490.9 99.6l-0.2 0.0M506.6 67.4l-0.2 0.3M501.4 34.1l-0.1 0.3M434.7 64.5l-0.6 1.1M431.7 88.1l0.2 0.4M500.9 60.3l0.5 0.1M479.9 50.6l-0.6 0.6M472.1 47.6l0.2 0.1M429.8 69.9l0.8 0.0M436.6 60.3l-0.2 1.4M411.2 109.5l0.6 1.0M398.9 118.9l0.3 1.4M413.1 67.9l-0.2 0.2M420.0 91.6l-0.5 0.1M408.5 63.4l-0.2 0.0M466.2 65.3l-0.1 0.3M463.9 110.1l-0.8 0.4M449.6 82.0l1.2 0.4M473.3 71.9l-0.3 0.5M434.2 52.2l-0.3 0.8M450.9 34.8l-0.3 0.6M461.0 84.3l-0.2 0.0M445.0 119.4l-0.3 0.3M479.3 119.1l0.4 1.2M401.2 119.1l0.0 0.4M492.5 89.1l-1.2 0.2M487.1 77.0l-0.1 0.0M496.4 94.6l0.9 0.9M443.1 79.2l-0.3 0.1M420.8 88.6l0.8 0.2M485.8 75.2l0.9 0.8M494.4 99.8l-0.2 1.3M487.0 45.4l0.1 0.1M389.7 62.4l-1.1 0.5M400.0 48.0l0.4 1.2M464.0 111.4l1.4 0.3M411.5 87.4l-1.0 0.4M410.2 90.8l0.0 0.0M428.5 59.7l-0.2 0.4M462.2 93.1l0.2 0.1M473.8 73.0l0.2 0.1M505.5 85.7l0.1 0.3M512.3 92.9l-0.4 0.4M424.7 67.9l0.8 0.4M439.4 104.2l0.2 0.7M449.8 114.9l0.5 0.9M415.1 83.0l0.8 1.0M421.7 107.2l-0.4 0.6M504.5 66.1l-0.6 0.7M442.4 37.6l0.1 0.4M441.4 116.0l0.6 0.8M471.0 53.5l0.1 0.2M499.6 54.1l0.1 0.5M490.0 106.8l-0.2 0.8M397.7 110.9l0.5 0.1M432.9 95.6l-0.3 0.4M499.9 115.6l0.9 0.1M445.1 63.8l0.1 0.5M470.9 85.3l-1.5 0.1M512.1 66.8l-0.8 0.5M474.7 119.8l0.7 0.1M436.4 89.7l1.1 0.9M411.8 64.6l0.5 0.3M480.0 39.4l0.8 0.5M464.7 97.3l0.9 0.9M478.6 100.3l0.7 0.3M387.0 107.7l-1.3 0.2M388.1 62.9l-0.1 0.8M399.2 101.5l0.4 0.6M400.9 82.0l0.1 0.1M450.6 57.9l-0.3 0.2M438.0 36.8l0.5 0.4M456.4 72.4l-0.1 0.1M493.8 45.6l-0.8 0.1M437.0 85.9l-1.3 0.6M437.9 32.9l1.1 0.6M479.0 94.7l0.7 0.4M388.7 41.7l0.8 1.2M467.3 106.6l0.6 0.1M395.0 55.0l1.3 0.5M427.1 75.0l-0.6 1.2M506.1 82.0l-0.0 1.4M435.5 58.3l-0.3 0.3M432.1 69.8l0.0 0.5M440.1 71.7l1.2 0.2M392.9 78.5l-0.1 0.6M413.5 40.7l0.2 0.4M447.0 52.3l-0.5 0.5M386.1 67.8l-0.0 0.0M461.0 116.6l0.4 0.8M432.2 58.5l-0.3 0.8M425.3 75.8l-0.1 1.1M391.8 40.2l0.3 0.3M486.8 69.4l-0.5 0.3M421.6 91.8l1.4 0.4M491.4 60.9l0.7 1.0M485.9 88.5l1.1 0.2M391.1 87.0l-0.2 1.4M466.8 34.0l-1.1 0.2M459.2 32.5l-0.4 0.5M472.0 118.6l-0.1 0.0M485.0 70.8l-0.4 0.4M442.3 70.4l0.4 0.2M479.0 38.3l1.2 0.4M470.3 80.2l0.2 0.1M424.7 115.9l-0.3 1.4M412.0 68.5l-0.1 1.3M400.8 108.9l0.0 0.0M440.3 65.2l-0.7 1.2M448.2 92.7l0.4 1.1M398.5 97.3l0.8 0.4M410.9 62.5l0.5 0.3M460.7 77.8l0.3 0.8M492.8 63.5l-0.2 0.7M510.5 60.9l-0.2 0.3M418.4 96.3l-0.1 0.4M393.2 104.6l0.4 1.0M440.4 86.4l-0.3 1.4M501.4 72.1l0.0 0.3M481.4 41.0l0.7 1.0M389.5 93.5l-0.2 0.8M427.6 45.3l-1.1 0.2M488.1 40.6l-0.3 0.2M410.5 79.1l-0.1 0.2M482.9 83.3l-1.3 0.4M473.2 64.0l-1.1 0.2M422.2 107.5l-0.3 0.3M416.9 33.8l-0.0 0.4M422.5 54.3l0.7 0.3M419.9 57.1l0.5 0.6M496.8 46.1l-1.2 0.5M463.0 79.9l-0.5 0.6M469.5 112.9l-0.3 0.3M392.0 114.4l0.5 1.1M414.9 71.8l0.4 1.0M505.8 76.5l-0.1 0.5M414.7 115.6l1.3 0.5M469.1 38.3l-0.1 0.0M457.4 42.5l-0.5 0.0M496.6 37.4l-0.1 0.1M388.8 82.2l-1.0 0.1M494.5 101.1l-0.0 0.1M452.5 48.2l-0.0 0.5M448.9 49.4l-0.4 0.5M447.2 38.9l0.0 0.8M509.5 81.4l0.4 0.2M428.0 93.8l-1.4 0.3M506.6 113.4l-1.3 0.6M387.6 75.1l-0.3 1.0M463.4 86.0l-0.1 0.0M451.5 116.4l0.2 0.0M496.2 116.2l0.0 0.0M491.2 92.6l-0.1 0.9M481.9 103.1l0.1 0.0M486.7 117.8l-0.5 0.3M427.9 62.5l1.2 0.1M418.6 83.5l-0.0 0.5M471.4 72.0l1.0 0.9M407.5 45.2l0.5 0.5M485.3 61.3l0.7 0.7M418.3 78.0l0.9 0.9M408.6 52.4l0.3 0.4M478.0 91.3l-0.6 0.5M395.1 99.2l0.2 0.2M438.0 119.1l0.2 0.5M501.6 119.2l0.1 0.2M486.1 100.8l0.6 1.0M433.6 57.3l-0.3 1.1M445.9 104.0l0.7 0.0M433.7 37.7l-0.2 0.1M411.3 109.3l-1.4 0.2M428.8 113.9l1.0 0.5M506.0 49.0l0.9 0.4M498.0 95.9l-0.7 0.1M432.7 42.6l0.9 1.1M394.2 48.3l0.0 0.1M424.3 48.1l0.7 0.3M454.2 82.0l-0.6 0.5M506.2 39.2l0.1 0.1M424.6 98.9l-0.7 0.2M405.5 61.1l-0.1 0.4M486.5 117.6l0.1 0.9M493.3 72.9l1.2 0.8M510.2 34.1l-0.4 0.4M391.6 46.3l0.9 0.6M412.1 33.7l0.9 0.8M448.9 89.4l0.0 0.3M386.9 58.8l0.4 0.1M464.2 64.5l0.1 0.9M425.6 63.4l-0.8 0.3M438.4 79.5l0.1 0.5M502.0 52.5l-1.3 0.3M497.9 46.3l-0.0 1.5M421.9 47.0l-0.2 0.3M459.7 45.9l-0.4 0.1M397.4 92.5l0.4 0.7M448.6 113.2l-0.0 0.6M385.2 75.7l0.6 0.6M465.9 72.7l0.7 0.2M446.7 88.4l-0.4 0.0M441.7 39.4l-0.3 0.2M491.1 102.2l0.9 1.0M449.5 69.5l-0.2 1.4M447.7 74.4l0.8 1.0M449.4 62.1l0.3 0.2M491.8 102.7l-1.4 0.1M472.7 102.2l-0.7 1.0M487.6 47.5l-0.4 0.3M416.2 112.9l0.8 0.1M428.9 101.7l-0.5 1.3M504.4 88.7l1.0 0.2M399.0 118.4l-0.4 0.2M408.8 93.1l-1.1 1.0M464.7 43.0l-0.1 0.1M496.1 99.6l-1.0 0.8M457.9 115.0l-0.3 0.7M434.2 63.1l0.2 0.0M486.8 52.1l-0.5 1.0M473.9 77.4l0.2 0.3M409.0 89.0l-0.8 1.2M427.3 113.6l-0.4 0.1M506.9 86.5l-1.2 0.1M427.7 56.6l-0.1 0.7M389.5 107.9l-0.1 0.7M480.3 54.0l0.7 0.5M415.9 60.8l0.1 0.0M430.5 78.4l-0.9 0.2M438.0 67.8l0.5 0.5M507.8 42.7l0.2 1.0M482.6 80.8l-0.6 1.3M500.5 54.1l-0.2 1.5M452.5 48.7l-0.1 0.1M404.2 80.5l0.7 0.8M478.0 60.1l-0.7 0.6M475.4 72.2l0.0 0.2M445.8 116.0l-0.1 0.0M394.1 55.7l-0.4 0.5M401.4 69.5l-0.3 1.1M436.6 89.2l-0.5 0.8M390.9 94.5l0.1 0.0M445.6 33.5l0.6 0.1M445.0 41.3l-1.3 0.2M447.3 83.7l0.8 1.2M400.3 58.8l1.0 0.8M450.1 68.1l0.4 1.3M417.9 101.6l-0.4 0.5M431.8 70.4l0.1 0.5M464.9 68.2l0.7 0.9M443.3 73.7l-0.6 0.3M433.1 111.0l-1.2 0.1M436.4 91.1l-0.3 0.3M477.7 115.6l-0.5 0.9M440.7 89.5l0.9 0.8M454.0 118.2l0.5 0.9M387.1 68.6l-0.3 0.3M463.5 51.4l0.5 1.4M410.2 112.3l0.9 0.2M490.1 105.7l0.3 0.8M476.2 99.0l-0.6 0.6M417.2 94.1l-0.2 0.8M511.3 44.0l-0.4 0.3M478.0 115.6l0.6 0.6M452.6 75.6l0.8 0.5M499.4 90.4l0.7 1.0M438.8 44.8l-0.2 0.7M452.8 119.2l-0.3 1.4M430.1 98.8l0.4 0.1M473.6 92.7l-0.5 0.3M420.0 63.5l-0.0 0.0M432.9 89.8l0.4 0.2M496.7 114.2l0.2 0.2M400.1 39.5l-0.9 0.7M418.8 75.0l-0.0 0.0M489.8 107.6l0.8 0.7M474.5 61.7l-0.3 0.1M445.7 59.6l0.2 1.2M458.0 85.6l-0.3 0.0M413.5 86.5l1.3 0.7M428.7 70.7l0.3 1.2M502.2 91.6l0.5 0.3M475.4 51.0l-1.2 0.5M414.0 64.1l0.8 0.7M391.0 93.2l1.2 0.2M454.5 83.3l0.1 0.0M430.2 118.7l-0.4 1.2M393.0 41.0l1.0 0.1M407.6 56.0l-0.5 0.9M426.3 73.1l0.5 0.7M430.6 63.7l0.3 0.3M418.4 33.4l0.5 0.7M419.4 41.9l-0.6 0.3M450.5 59.4l-1.1 0.4M464.7 90.0l-0.4 0.6M437.9 66.3l-0.0 0.7M452.7 78.9l-1.1 0.8M413.7 34.0l0.0 0.0M486.9 86.6l0.2 0.2M496.2 105.6l-0.6 0.9M480.3 72.0l0.3 0.8M497.7 119.2l-1.2 0.3M394.5 53.7l-0.8 0.1M450.9 59.3l-0.7 0.3M511.8 38.6l-0.0 0.0M404.0 66.3l-0.1 0.2M457.0 114.7l0.2 1.1M460.8 83.3l0.6 0.4M500.2 91.3l0.5 0.4M454.6 61.6l-0.2 0.9M387.3 51.4l-0.2 0.3M394.3 99.0l0.7 1.2M456.5 40.9l-0.2 0.4M489.2 95.7l-0.1 0.1M389.4 102.2l0.3 0.1M388.8 46.4l0.1 1.4M426.1 54.8l-0.2 0.1M466.3 86.1l-0.1 0.0M457.1 65.7l-0.3 0.2M476.5 48.3l0.0 1.5M415.7 56.5l-1.0 0.3M393.4 48.4l0.3 0.3M493.1 93.6l-1.0 0.1M465.4 65.7l-0.5 0.6M392.5 75.3l0.3 0.7M391.2 34.5l-0.6 0.0M427.2 45.1l-0.4 1.3M408.1 76.0l0.0 1.1M457.3 53.0l0.9 0.6M395.0 108.1l0.3 0.0M444.9 106.3l-0.4 1.0" fill="none" stroke="#454545" stroke-opacity="0.5" stroke-width="1.3" stroke-linecap="round"/>
<path d="M476.3 94.6Q481.4 94.6 488.5 96.6M393.7 32.9Q388.6 33.1 385.9 36.1M495.9 84.2Q492.2 84.3 490.8 85.6M405.1 38.7Q408.5 40.9 413.8 45.0M449.0 62.8Q453.6 64.7 458.1 67.3M446.9 32.3Q445.2 34.0 444.5 38.7M497.0 79.1Q499.9 82.6 500.3 88.4M431.9 89.1Q435.3 92.9 436.3 99.5M425.7 53.5Q422.0 59.0 417.2 62.0M414.1 64.0Q407.6 68.1 403.4 69.3M477.6 103.5Q481.2 109.4 482.0 112.9M465.1 110.3Q459.3 111.7 452.6 110.3M404.0 64.5Q404.2 66.2 402.8 70.6M462.7 52.2Q464.6 56.5 468.2 61.1M491.9 115.8Q495.3 117.9 497.5 121.9M494.4 45.5Q492.2 48.0 493.0 53.4M380.7 55.6Q385.7 59.6 389.8 66.2M476.3 46.7Q477.7 53.8 477.0 58.2M437.6 56.3Q439.6 59.8 440.1 63.7M478.1 41.1Q471.9 45.7 467.4 49.7M404.9 31.9Q406.4 35.3 406.6 38.3M468.4 116.6Q469.9 117.1 474.2 117.7M491.5 85.9Q490.1 91.0 489.6 98.5M465.1 32.5Q466.1 32.9 469.1 36.0M455.0 37.4Q452.6 42.1 451.1 49.2M475.6 94.3Q471.2 97.2 466.3 97.9M468.0 113.1Q472.1 117.7 475.4 122.5M382.9 70.1Q386.4 74.0 389.9 77.8M394.4 38.3Q394.0 44.5 390.7 48.8M422.2 66.0Q421.8 73.4 422.0 78.2M446.7 62.9Q448.4 65.7 447.2 71.1M437.8 36.3Q435.1 38.8 434.5 41.7M461.4 95.4Q461.7 100.4 462.7 103.0M416.7 31.4Q411.2 31.9 407.9 34.6M493.5 96.8Q498.1 97.8 504.4 99.0M466.4 35.7Q461.4 37.3 458.5 37.3M401.1 31.2Q400.2 36.1 396.8 39.4M412.9 31.6Q410.8 37.2 410.0 40.4M405.2 87.1Q413.0 89.0 418.2 90.1M431.8 93.9Q424.6 95.7 420.2 97.5M409.2 79.1Q402.2 80.2 396.6 81.1M429.7 42.6Q425.1 46.6 421.5 51.1M473.8 93.0Q472.9 95.0 474.5 99.0M492.6 72.0Q490.4 74.7 489.0 79.4M504.5 83.1Q510.0 85.6 515.0 87.5M489.9 82.9Q483.3 86.0 477.2 88.1M430.7 63.2Q432.5 67.7 435.1 73.1M496.7 97.0Q493.0 102.8 490.1 107.7M411.4 57.9Q418.4 59.2 422.9 61.6M428.6 40.0Q434.6 41.1 438.3 44.6M412.7 94.6Q417.1 98.7 422.5 103.0M409.9 53.9Q411.5 56.2 411.7 61.2M465.0 99.8Q465.6 101.4 468.5 105.5M481.9 84.9Q486.7 84.5 490.9 85.3M386.4 62.9Q389.0 70.3 392.5 75.2M490.4 80.2Q494.9 82.7 501.8 84.9M396.6 37.1Q398.9 40.4 398.3 43.2M503.8 112.4Q499.8 117.0 495.9 119.9M471.1 41.6Q470.7 46.5 470.3 50.2M478.1 78.3Q472.0 81.1 468.3 86.0M394.9 45.6Q390.9 46.0 387.2 46.6M460.3 54.0Q458.3 57.5 454.2 59.2M378.9 78.3Q383.9 79.5 391.3 82.1M485.6 80.2Q483.5 83.1 481.2 87.8M445.7 52.1Q443.1 53.7 442.6 57.2M446.3 83.1Q454.2 82.8 460.2 83.3M408.6 104.4Q406.1 105.6 402.0 104.9M502.0 49.2Q504.2 51.6 508.0 51.6M497.7 72.1Q500.7 74.1 505.2 75.3M476.3 95.8Q477.1 99.9 478.1 104.8M445.7 89.2Q443.5 91.2 440.8 95.4M389.7 63.7Q389.5 65.8 391.9 68.4M501.7 105.3Q505.2 105.1 509.5 106.1M406.2 81.9Q401.6 82.8 398.9 86.0M382.6 95.5Q387.8 98.1 391.2 103.2M413.5 55.9Q408.6 59.6 404.8 63.6M433.4 71.3Q431.4 74.8 427.5 75.7M465.1 115.8Q463.4 115.5 458.7 117.0M485.4 39.0Q489.0 43.2 490.6 46.3M415.5 109.0Q409.7 110.4 406.7 113.0M427.5 67.9Q423.4 67.6 417.3 69.8M414.7 93.3Q415.1 95.0 418.1 99.4M436.2 75.3Q437.2 78.6 439.3 84.9M471.2 57.3Q470.6 60.2 471.4 65.7M420.5 57.3Q422.9 56.8 425.4 59.2M496.6 58.9Q496.1 62.5 498.4 68.5M485.4 76.9Q486.3 81.0 485.6 85.0M491.9 103.7Q486.9 105.4 481.0 107.4M453.8 76.8Q454.3 81.6 452.8 89.1M483.3 80.0Q479.9 86.2 479.3 92.5M428.7 113.0Q432.0 116.2 437.4 117.9M443.9 91.4Q446.1 95.9 451.3 102.0M481.7 106.9Q477.6 110.0 476.0 111.7M483.4 36.3Q477.2 37.3 473.9 38.3M434.6 38.8Q427.2 41.0 422.0 43.5M416.2 89.8Q419.7 91.1 423.8 92.5M447.3 83.2Q441.9 85.4 434.1 85.7M413.5 48.2Q414.5 53.1 414.9 58.9M509.0 59.3Q511.1 60.2 514.9 59.7M490.0 33.2Q493.5 36.9 495.3 38.1M425.5 40.3Q419.4 40.9 411.9 41.7M480.7 95.8Q480.7 100.0 480.5 103.2M420.4 85.2Q425.6 87.4 432.7 91.3M514.0 114.1Q509.0 116.6 501.8 117.1M461.7 33.9Q458.5 37.2 453.4 43.2M392.6 89.8Q394.3 96.1 393.1 102.8M473.8 87.1Q471.9 89.2 469.1 93.9M503.9 93.0Q499.3 95.5 496.5 98.3M469.7 79.4Q471.8 79.5 474.5 81.1M412.6 46.1Q415.3 52.0 415.5 56.9M389.6 102.9Q388.0 107.9 385.7 113.8M429.8 35.9Q429.0 39.5 427.1 40.7M476.1 81.5Q471.4 86.8 464.9 89.2M445.7 28.3Q444.9 33.6 441.9 38.3M436.1 29.7Q433.0 32.7 426.9 35.1M498.7 99.8Q495.3 99.7 489.6 100.1M383.3 54.5Q386.1 60.0 389.6 66.9M471.0 37.1Q472.3 40.9 475.9 44.1M435.8 96.5Q438.2 102.7 442.5 108.6M410.2 28.0Q413.3 33.2 417.8 38.6M452.4 52.6Q451.6 54.8 451.8 58.2M492.4 95.6Q490.5 100.5 486.3 103.9M396.5 39.0Q393.5 44.3 387.7 47.9M407.2 77.1Q404.1 83.3 403.2 86.7M454.6 55.4Q449.0 56.2 446.1 55.9M415.2 46.9Q417.7 51.7 421.3 55.5M507.1 116.9Q500.1 120.2 494.6 121.5M393.6 82.5Q397.8 82.1 399.4 83.9M470.7 78.4Q475.5 79.5 482.9 78.4M489.3 73.1Q490.4 74.3 490.2 78.3M453.9 110.9Q453.0 114.0 450.7 116.0M428.2 95.7Q427.2 99.2 426.1 104.1M419.0 104.9Q421.4 109.3 424.5 115.5M390.1 111.9Q385.4 115.5 380.3 121.7M407.7 31.4Q407.3 35.7 404.1 41.3M412.5 50.3Q414.8 51.2 417.2 52.6M428.7 110.5Q432.2 114.5 435.5 120.9M391.3 84.6Q389.4 84.8 386.3 86.7M475.3 102.6Q471.9 106.7 470.6 108.0M502.6 110.6Q501.8 114.5 501.9 116.0M387.2 57.1Q393.1 56.7 400.0 58.8M429.5 44.8Q431.1 48.7 431.7 55.1M452.3 30.9Q452.7 37.9 454.5 43.0M418.2 65.1Q416.4 66.7 414.2 68.1M478.5 112.5Q475.6 115.4 474.5 118.3M415.6 79.1Q420.8 79.3 426.4 82.2M406.2 111.3Q400.1 115.7 394.7 117.2M410.1 95.3Q405.3 94.8 403.4 96.5M397.2 98.3Q394.5 103.1 394.2 107.1M404.1 38.6Q403.4 44.7 401.0 48.9M398.3 56.7Q401.1 59.9 406.8 60.8M472.0 96.5Q473.3 104.1 472.5 109.7M486.9 48.6Q488.9 50.9 489.4 53.4M509.9 51.2Q512.7 58.3 512.6 63.7M494.5 109.3Q496.7 113.8 501.4 117.3M502.4 74.3Q505.6 76.4 511.5 78.7M400.2 65.6Q396.3 68.6 390.4 71.9M445.5 33.7Q441.2 35.8 437.5 40.0M441.0 36.5Q443.5 36.4 446.3 38.6M495.5 83.7Q489.9 85.0 486.3 87.7M494.8 78.7Q491.1 82.6 490.1 88.3M445.3 105.4Q439.5 104.9 435.2 107.2M459.9 67.3Q455.6 66.5 453.2 68.7M391.6 101.8Q387.2 103.3 385.7 104.3M422.2 84.5Q415.9 86.4 410.9 87.7M417.6 94.2Q422.6 100.0 426.5 103.5M430.2 112.4Q429.7 115.4 428.3 119.5M400.7 32.1Q398.3 36.3 398.3 38.9M400.5 95.3Q404.5 99.4 405.9 101.6M494.0 111.9Q492.2 118.5 489.7 124.6M427.2 61.8Q426.9 66.5 425.7 68.9M473.1 51.4Q477.0 52.8 481.3 52.2M456.6 72.9Q455.6 77.7 453.4 82.3M451.6 51.1Q456.9 54.1 459.9 54.5M422.8 78.0Q421.6 83.4 422.3 87.1M393.7 49.4Q395.0 50.8 398.1 54.7M454.3 42.4Q452.4 47.1 449.8 51.8M462.8 52.5Q462.5 58.7 464.0 63.6M461.7 113.1Q460.7 117.1 458.2 122.4M436.5 65.8Q431.7 71.4 428.8 74.3M516.0 75.5Q510.4 74.4 505.4 75.7M390.6 80.0Q388.1 83.8 383.9 88.1M482.0 80.6Q480.5 85.3 477.9 89.7M399.2 87.8Q398.0 91.3 393.9 94.9M404.9 74.1Q407.5 76.0 407.7 79.9M476.5 40.0Q474.9 48.0 475.8 53.9M390.1 116.7Q386.2 117.9 381.4 119.3M404.8 57.0Q404.8 63.4 407.1 69.6M449.5 77.5Q444.8 82.0 441.2 83.8M462.6 49.5Q460.3 56.3 460.7 62.2M444.3 55.6Q447.2 57.1 450.5 59.0M463.7 51.5Q462.9 56.7 460.3 60.1M415.9 114.0Q414.6 118.6 414.8 121.9M436.5 87.6Q440.2 93.3 445.3 96.8M442.3 62.6Q441.3 67.5 440.0 72.0M499.9 95.4Q505.1 96.0 513.3 99.4M486.5 55.9Q489.7 57.3 493.0 56.6M384.8 46.4Q387.0 46.5 390.3 46.7M513.6 86.8Q510.2 89.6 504.4 91.3M415.5 61.8Q417.0 64.7 415.9 67.8M413.7 73.1Q410.9 74.0 407.6 77.4M416.0 42.9Q415.1 49.1 415.8 54.1M464.0 98.0Q461.5 97.9 456.0 98.1M445.0 46.2Q449.0 46.2 455.4 49.1M392.8 77.6Q396.6 79.6 398.8 81.9M409.1 91.7Q403.7 91.9 398.5 91.9M477.8 103.5Q475.8 104.6 472.1 108.0M397.2 73.9Q400.8 78.0 405.6 79.4M444.9 103.0Q441.3 103.8 436.0 104.6M439.3 37.1Q436.7 42.4 432.9 48.8M450.2 57.7Q450.7 63.3 454.2 69.0M452.9 42.2Q450.2 44.2 448.1 47.7M463.9 66.2Q462.3 70.1 459.1 73.6M395.7 72.6Q399.8 75.2 401.1 78.0M480.8 42.9Q478.7 44.6 478.4 48.5M392.3 111.4Q386.7 112.6 384.0 112.3M471.9 34.1Q469.0 36.8 467.8 37.9M483.4 46.5Q483.5 52.7 483.0 58.7M404.6 35.3Q409.0 37.9 412.7 40.7M468.3 77.7Q467.4 81.7 464.5 85.5M502.8 115.7Q498.3 118.9 492.6 121.8M418.4 37.8Q417.0 41.2 414.9 44.2M459.9 67.1Q463.3 70.9 465.5 72.4M425.1 55.2Q426.2 60.4 426.5 64.0M487.7 98.0Q483.1 103.0 478.8 108.4M472.1 57.4Q468.6 59.7 464.6 61.9M428.6 29.4Q433.0 31.8 434.6 36.5M503.5 115.3Q499.1 118.7 497.6 119.9M399.2 57.2Q394.7 59.3 388.3 59.3M403.8 75.2Q407.8 77.3 411.8 77.6M418.7 89.1Q420.7 90.9 425.3 92.2M458.4 88.2Q460.7 94.9 461.7 101.2M493.8 43.9Q497.1 49.2 499.8 51.8M476.5 35.3Q471.0 36.9 467.4 36.9M466.0 103.6Q465.3 107.1 464.8 110.8M426.8 81.5Q428.9 81.7 433.3 84.7M450.3 90.6Q452.6 97.4 454.2 103.2M418.7 105.5Q420.9 112.5 424.5 116.7M474.6 45.3Q472.1 47.3 470.3 50.1M424.1 61.8Q426.6 64.7 431.6 65.9M428.7 88.0Q431.4 95.3 431.8 101.4M496.9 111.4Q492.9 111.1 488.4 113.3M432.6 58.5Q432.4 59.6 430.7 63.2M443.8 72.1Q438.1 75.2 434.4 77.2M413.3 79.8Q414.9 85.6 416.9 92.9M423.0 113.1Q424.8 116.8 426.3 119.5M502.5 34.1Q505.4 39.6 508.3 44.0M468.1 39.6Q470.7 39.2 474.6 40.6M416.9 41.7Q422.5 41.0 426.6 42.5M394.0 95.3Q397.0 95.5 400.1 96.9M485.8 72.4Q484.1 77.5 485.2 80.7M430.7 103.3Q435.0 103.7 439.1 106.2M401.4 113.0Q394.6 115.0 387.6 115.7M457.3 71.3Q461.8 74.6 466.6 76.8M384.8 55.8Q390.3 57.2 395.9 59.9M482.4 74.4Q483.5 76.5 487.6 81.2M394.3 114.8Q391.0 116.8 385.1 118.5M471.2 36.1Q472.0 41.7 473.3 46.4M425.2 86.8Q428.7 89.7 432.7 92.5M394.1 50.8Q392.0 54.8 390.0 55.9M468.2 92.1Q462.7 96.3 457.9 101.1M481.3 30.5Q481.8 34.9 482.0 37.9M496.8 74.3Q495.7 77.9 493.6 79.0M463.9 70.8Q462.8 74.2 463.6 79.5M481.5 76.8Q487.7 77.8 491.9 78.0M404.0 113.2Q408.0 114.8 412.1 118.4M416.8 47.0Q419.6 48.9 421.5 49.7M416.1 111.3Q418.5 116.2 418.3 120.2M447.3 94.9Q443.3 98.4 442.0 100.6M475.3 82.7Q479.8 85.7 486.2 86.9M460.6 87.1Q465.3 86.9 468.6 89.0M394.7 66.0Q389.1 67.1 385.2 70.8M494.1 103.4Q492.9 104.7 490.1 108.9M409.7 59.8Q406.0 60.9 404.4 60.5M476.4 54.1Q484.0 56.8 488.7 57.1M461.2 35.5Q458.4 40.3 453.7 43.4M448.8 113.5Q449.8 118.8 449.9 122.4M455.9 109.9Q461.3 114.3 464.5 119.7M391.2 78.6Q388.8 85.6 386.2 91.3M484.5 43.0Q481.4 46.2 480.0 50.7M432.1 92.8Q430.1 97.5 430.8 100.5M483.7 103.9Q480.8 105.5 479.3 107.3M421.0 103.0Q422.9 103.2 425.1 106.0M390.3 80.7Q387.4 85.5 387.1 90.0M449.5 56.7Q451.9 58.4 454.4 60.9M456.6 87.3Q459.2 92.1 463.3 95.3M415.2 79.8Q411.2 85.5 407.0 88.8M509.6 98.4Q511.6 100.6 512.8 105.1M409.6 36.5Q408.9 41.2 405.7 44.1M451.6 59.7Q451.9 63.1 454.5 64.3M427.4 32.5Q424.0 32.6 419.0 33.0M508.5 33.7Q507.5 40.3 509.4 44.5M425.5 91.0Q427.1 92.5 431.1 92.4M505.9 109.7Q506.4 112.6 505.3 115.5M485.8 84.6Q484.1 86.6 484.5 91.0M443.0 57.0Q441.1 56.3 437.6 57.8M394.2 109.9Q398.5 112.9 402.2 116.5M432.2 41.0Q430.1 45.3 427.4 47.8M391.7 63.3Q395.1 68.3 397.7 75.2M443.8 30.5Q442.6 33.3 443.6 36.1M454.9 47.0Q454.5 49.4 452.9 54.5M489.4 69.5Q493.1 70.3 496.0 73.5M501.0 48.7Q501.6 52.8 502.6 54.2M409.7 42.4Q407.8 46.8 408.1 53.0M456.7 52.6Q463.4 54.0 467.9 53.6M491.5 46.4Q494.8 51.1 497.4 55.0M453.7 50.6Q454.5 52.8 457.9 54.5M399.2 108.7Q397.4 109.5 392.9 109.5M384.1 62.2Q384.4 65.0 387.4 69.3M387.0 67.9Q388.5 72.6 387.4 75.0M446.3 97.3Q449.8 102.1 451.6 107.8M476.0 60.6Q478.6 63.6 483.5 65.2M421.5 72.9Q418.4 76.5 412.9 78.7M477.4 91.7Q473.9 97.7 469.9 102.7M459.2 78.3Q454.5 79.0 451.6 79.7M425.9 92.6Q424.0 95.2 423.9 97.1M435.4 88.9Q436.3 93.3 436.0 94.8M398.6 81.3Q396.8 86.2 394.9 91.1M510.4 102.7Q512.1 109.7 512.9 114.8M510.0 36.1Q513.7 39.6 515.5 40.5M419.4 72.8Q414.2 75.9 408.6 76.7M507.0 39.6Q503.6 40.8 499.4 40.4M428.4 57.2Q424.0 57.7 416.8 60.7M470.9 96.3Q464.5 95.9 459.5 97.9M408.0 50.9Q406.1 53.6 406.3 58.6M468.3 101.9Q474.2 103.3 477.2 105.5M447.0 102.9Q454.3 104.1 459.8 103.8M431.6 74.8Q427.7 75.7 426.2 75.8M503.1 42.6Q507.8 45.3 510.7 47.7M465.3 33.6Q470.1 35.3 473.6 39.6M395.5 55.8Q395.6 58.4 397.7 63.5M470.3 109.9Q466.5 116.3 464.9 122.0M433.3 101.5Q432.9 107.9 430.1 111.6M397.7 69.2Q401.7 71.1 407.4 71.8M433.4 31.6Q429.8 32.7 427.6 33.7M394.2 97.6Q392.7 98.8 390.4 102.3M450.0 36.7Q453.0 40.7 455.8 43.7M502.1 58.4Q504.4 61.1 505.2 64.6M410.6 42.8Q411.9 49.9 413.7 55.0M442.3 80.1Q446.0 81.9 448.4 86.3M440.7 51.1Q442.2 54.5 445.6 57.4M387.9 50.5Q391.2 53.5 392.4 55.4M495.4 41.5Q498.7 44.7 501.9 45.9M489.2 107.5Q491.3 107.5 494.4 107.8M379.9 60.3Q384.9 62.3 391.7 65.3M403.2 105.1Q406.5 105.9 411.6 108.2M515.1 91.8Q513.7 96.3 509.5 97.9M461.5 51.2Q466.3 53.1 471.2 52.7M507.8 99.1Q513.1 102.5 517.8 108.7M416.3 112.9Q412.1 114.9 406.9 119.9M508.6 55.0Q504.9 58.3 501.2 61.5M500.5 99.5Q501.6 105.0 504.6 111.5M425.3 33.8Q427.5 37.1 426.8 38.5M442.3 33.0Q445.7 36.2 450.4 41.8M435.8 81.3Q439.8 83.6 443.5 84.5M433.0 115.0Q435.8 120.5 441.2 123.5M460.2 43.7Q453.6 48.4 449.3 50.8M512.3 59.8Q507.9 63.0 503.2 66.8M430.3 99.5Q423.8 104.0 419.8 108.1M468.8 50.7Q476.2 51.8 481.8 51.6M430.0 68.9Q428.2 71.2 425.2 72.2M446.9 109.9Q443.3 115.6 441.7 121.8M427.4 71.0Q423.6 76.9 417.4 80.7M511.8 94.4Q509.6 96.5 507.9 98.7M397.1 108.0Q397.2 111.4 399.9 114.6M429.9 111.4Q427.1 114.1 426.3 119.5M473.0 81.1Q472.8 87.1 473.2 90.6M395.2 50.0Q391.6 52.2 389.0 54.7M418.1 97.4Q423.5 98.4 427.7 100.3M479.5 60.5Q477.8 63.4 477.3 66.0M458.4 72.2Q464.4 72.1 468.2 73.4M409.5 84.7Q410.4 87.0 413.9 88.6M499.7 93.7Q498.9 99.2 496.1 106.1M439.1 116.7Q434.2 117.2 428.5 118.7M392.6 57.4Q397.1 61.4 400.6 64.5M499.3 30.3Q501.2 33.3 504.0 33.8M441.4 100.1Q445.8 101.7 448.3 104.6M479.7 82.4Q478.1 86.2 477.2 87.1M438.2 56.5Q433.6 56.5 427.9 56.5M462.3 63.4Q464.0 66.9 467.3 69.2M396.4 35.4Q397.1 42.8 396.1 49.3M480.0 47.6Q480.0 48.8 479.8 52.7M397.6 38.5Q398.9 41.4 402.0 46.7M407.2 115.3Q399.5 114.7 394.0 115.9M492.7 30.9Q498.9 34.6 502.3 35.8M497.6 55.0Q494.3 61.4 488.6 64.9M485.2 97.7Q482.8 102.5 479.9 104.8M457.1 27.9Q458.8 34.2 459.2 40.6M500.3 94.9Q505.7 97.1 508.9 102.2M507.2 68.8Q504.4 69.4 502.7 71.2M417.2 86.6Q414.1 88.7 408.5 93.1M426.3 63.8Q423.2 68.4 417.1 70.8M457.0 94.5Q453.4 98.1 448.8 99.7M485.8 45.3Q492.4 44.9 497.1 46.4M491.1 97.0Q494.4 99.0 496.7 100.2M400.6 108.0Q406.8 110.8 410.3 115.8M479.0 79.2Q474.4 79.6 470.4 81.6M495.9 59.4Q494.5 58.7 490.8 60.9M474.9 111.2Q477.3 114.3 480.4 120.0M494.6 73.9Q491.4 74.6 490.2 77.0M485.3 33.8Q489.2 35.1 493.7 34.3M497.8 50.1Q495.7 53.6 492.1 56.1M392.9 68.9Q394.2 73.9 395.1 77.8M441.2 74.8Q435.6 76.6 431.7 80.6M417.5 109.7Q421.2 116.3 422.0 121.8M432.3 90.8Q432.2 98.0 432.2 104.3M468.4 84.7Q472.4 88.0 476.9 90.1M482.7 46.8Q485.5 50.1 485.6 53.5M447.5 112.9Q442.6 115.8 437.7 120.9M431.2 35.1Q432.6 40.8 434.0 43.7M448.5 43.6Q453.2 46.3 457.9 49.6M450.9 63.7Q446.8 68.0 445.4 72.4M416.3 77.4Q418.4 84.0 417.7 89.2M458.7 74.7Q463.2 76.3 469.5 78.7M464.3 53.2Q461.2 53.9 455.2 57.4M445.7 55.1Q444.7 61.7 443.2 65.7M445.0 61.1Q440.7 65.9 437.9 68.1M414.7 32.0Q414.9 39.5 413.1 45.1M461.2 74.4Q463.0 78.0 465.1 79.5M459.9 115.5Q456.2 118.1 451.9 121.3M495.5 101.8Q501.6 104.9 506.7 108.8M483.1 65.2Q480.7 70.4 477.6 73.0M497.0 68.9Q499.5 73.1 501.0 79.6M451.7 53.7Q449.6 55.8 448.8 59.5M425.8 79.5Q421.3 82.6 416.0 84.0M436.6 66.6Q435.8 70.9 433.5 72.7M501.1 36.8Q496.6 38.1 494.4 38.7M431.0 43.1Q429.5 47.8 427.7 52.4M467.6 96.0Q464.9 100.3 460.3 104.8M462.5 40.8Q467.4 41.1 471.3 43.1M507.7 52.9Q509.2 56.4 507.9 62.1M415.5 84.1Q416.1 89.1 418.9 91.5M436.8 78.2Q440.4 83.5 446.4 87.6M389.9 73.0Q393.2 79.8 396.9 84.5M392.9 52.6Q387.4 52.0 384.6 52.9M430.0 74.8Q431.4 78.3 432.8 82.0M409.6 72.7Q409.1 77.5 407.2 82.5M408.7 113.6Q412.0 114.7 415.9 116.4M409.1 103.7Q412.3 106.6 414.9 111.8M441.0 37.9Q441.3 45.0 439.4 49.4M401.6 68.7Q400.8 72.4 397.4 76.0M494.4 32.6Q497.3 37.9 498.2 43.2M493.4 93.4Q494.9 97.7 496.4 104.3M503.5 105.1Q501.0 104.9 496.8 107.5M449.0 54.4Q449.1 58.4 448.9 62.8M480.0 87.3Q481.4 89.4 484.3 92.5M444.5 71.7Q438.7 75.8 434.3 81.0M452.4 30.2Q451.6 32.9 450.2 35.0M432.6 117.0Q432.8 118.4 435.4 121.3M476.6 91.3Q478.4 96.3 482.3 102.9M461.2 76.5Q459.3 79.3 455.0 81.3M469.3 79.4Q474.6 81.1 477.2 85.6M423.1 54.8Q427.7 58.0 431.4 63.4M472.7 108.8Q475.5 110.4 477.7 109.8M454.0 71.7Q456.7 76.8 456.9 81.4M486.1 70.9Q480.5 72.4 474.9 75.1M424.7 115.6Q423.5 117.9 422.3 120.7M466.1 55.6Q462.6 56.2 457.2 58.3M499.2 75.7Q499.9 80.3 498.0 84.5M452.9 60.3Q453.3 63.3 453.9 67.7M389.4 63.7Q393.6 65.4 400.3 64.6M426.2 52.1Q426.2 55.3 425.0 59.7M496.5 34.5Q503.5 35.0 509.3 36.8M467.4 60.0Q467.4 64.2 467.2 67.4M494.4 49.6Q494.4 54.5 492.2 59.5M494.4 109.2Q497.1 113.6 496.9 117.5M454.5 95.9Q453.4 99.7 451.4 105.0M437.3 28.0Q434.1 34.2 429.4 37.5M478.2 35.8Q480.5 42.6 485.3 47.1M482.4 41.4Q487.4 43.6 491.6 48.5M457.2 46.5Q451.3 48.3 448.4 50.7M391.7 109.7Q384.8 113.0 380.9 113.7M422.5 85.9Q417.6 88.5 415.1 92.7M476.0 36.7Q478.3 41.8 481.1 49.1M471.5 60.2Q469.2 63.7 465.0 65.3M407.3 77.1Q409.0 79.6 408.3 83.1M470.1 36.2Q463.8 36.2 456.5 38.4M469.6 69.8Q468.8 74.3 470.1 76.7M465.3 94.6Q462.5 97.1 459.4 100.9M471.8 67.5Q468.5 68.7 465.9 72.3M385.6 50.6Q389.6 52.0 394.4 51.1M384.5 116.9Q390.0 117.9 396.4 120.5M460.1 63.2Q463.7 64.0 466.2 63.5M515.2 51.6Q512.2 53.6 509.1 56.9M434.6 109.3Q438.9 112.3 440.8 115.6M486.5 73.9Q489.5 78.6 491.7 84.1M517.9 37.5Q513.4 40.0 507.6 42.7M484.1 30.4Q480.6 36.6 477.6 41.4M477.6 73.1Q472.9 76.2 470.5 79.2M480.6 40.2Q479.9 47.5 482.2 52.7M432.9 59.8Q429.3 62.9 427.0 68.1M444.6 110.2Q439.4 110.9 433.1 110.4M496.3 43.4Q500.5 46.2 507.6 48.9M437.9 109.6Q435.3 112.7 435.2 116.1M456.3 70.4Q455.2 74.1 454.9 75.8M416.3 45.0Q423.1 48.3 427.7 52.2M433.3 62.0Q428.5 65.5 421.0 66.8M475.2 41.7Q472.8 41.9 468.8 42.9M385.2 85.2Q388.7 90.4 394.2 94.6M438.4 33.2Q441.7 37.0 443.3 39.2M501.4 44.0Q504.2 45.7 508.0 49.2M481.7 29.4Q480.8 31.9 481.0 35.6M447.2 111.4Q445.7 113.9 441.2 117.9M413.4 84.2Q409.1 88.7 404.8 91.8M431.8 111.0Q427.7 116.7 423.4 119.9M443.9 109.0Q444.6 115.7 446.3 122.4M462.3 77.4Q455.8 81.0 451.2 83.4M446.1 65.2Q453.8 68.3 458.5 69.9M456.0 35.9Q456.9 38.9 460.2 42.7M428.9 67.7Q433.3 68.5 434.9 69.0M412.8 67.3Q413.8 72.3 416.8 75.8M510.5 86.5Q504.5 87.4 498.3 88.1M469.0 63.2Q474.4 64.8 477.8 65.4M385.3 104.0Q389.1 104.1 394.9 105.4M418.6 81.0Q414.6 84.8 410.6 91.2M386.8 38.2Q389.3 38.4 392.9 40.8M493.5 57.6Q492.9 63.6 494.3 69.7M395.2 73.5Q389.7 75.1 385.3 75.8M451.6 70.6Q450.4 77.2 446.9 81.0M511.4 98.2Q507.1 102.4 504.7 108.4M487.0 70.0Q491.8 69.7 498.7 70.7M506.1 46.8Q503.8 48.3 499.8 50.6M459.1 89.5Q457.5 91.2 454.8 94.8M412.5 98.5Q415.2 100.7 420.2 102.5M411.9 63.5Q407.5 62.4 403.0 64.1M419.8 38.4Q417.7 40.3 417.5 44.3M477.4 86.3Q479.1 89.5 482.2 92.5M453.2 41.2Q457.3 44.2 462.6 46.1M401.3 39.2Q407.6 39.2 413.7 42.0M425.8 83.6Q429.1 87.6 435.4 91.5M463.5 48.4Q457.4 49.4 453.6 48.8M393.3 89.3Q387.2 90.7 383.9 94.7M486.8 101.5Q492.2 105.3 495.7 111.5M496.5 30.3Q497.4 33.2 500.1 36.1M386.5 113.6Q390.4 118.2 395.3 120.4M460.4 72.2Q456.6 74.7 453.1 79.1M486.6 80.4Q487.3 88.0 488.2 94.2M407.4 60.3Q407.4 65.1 404.5 67.0M463.6 90.8Q468.7 95.2 471.5 99.8M455.5 87.7Q456.4 89.7 459.3 91.5M464.3 104.9Q466.3 106.3 468.7 109.7M419.8 72.5Q417.2 74.9 416.5 77.5M454.1 43.1Q453.1 48.8 449.3 51.9M465.6 36.1Q464.7 38.5 465.1 43.5M471.2 87.1Q474.9 89.9 475.8 92.5M479.9 52.6Q474.3 52.5 468.6 54.7M436.1 30.5Q439.7 33.3 445.6 37.9M424.9 115.0Q428.8 115.8 432.5 119.3M455.0 34.8Q458.6 38.0 459.2 41.5M421.4 58.4Q422.7 61.5 425.2 63.6M424.1 51.5Q429.5 51.5 436.1 52.9M494.0 114.5Q494.6 118.1 493.1 120.1M391.3 55.0Q386.3 58.8 383.2 59.6M416.1 42.2Q412.8 46.4 408.2 53.6M391.0 45.0Q386.5 51.4 384.2 56.8M475.1 33.4Q471.0 35.5 467.7 35.8M449.3 86.1Q453.5 88.1 459.8 88.1M487.1 82.9Q485.1 89.8 481.1 95.3M433.9 33.1Q429.7 33.4 428.3 33.1M510.0 69.6Q511.0 70.8 514.1 72.8M436.2 53.1Q431.1 54.8 423.2 58.3M473.7 41.7Q473.7 47.3 474.8 51.1M417.1 99.1Q411.8 101.5 409.2 106.2M484.2 112.6Q489.0 117.5 492.2 120.1M396.9 48.9Q402.0 50.6 407.9 51.1M403.2 84.8Q406.4 89.5 409.0 91.6M406.3 100.4Q410.1 99.7 412.8 101.4M488.3 106.6Q493.1 111.6 497.0 113.8M451.8 63.0Q449.7 64.0 445.0 65.8M439.5 103.2Q437.6 107.0 434.7 107.8M438.9 76.0Q435.9 80.7 433.5 86.2M404.6 81.9Q406.3 87.9 410.7 92.3M409.0 106.3Q404.3 107.6 402.0 110.6M413.7 116.6Q410.1 118.3 409.4 119.6M448.7 77.6Q442.1 82.0 437.7 83.6M440.6 71.7Q442.8 72.7 446.9 75.0M452.7 52.4Q453.4 55.9 456.6 56.9M434.8 69.0Q439.7 72.7 447.5 74.6M390.4 52.8Q391.2 57.6 390.8 61.9M472.6 34.9Q474.8 37.6 477.1 40.9M396.1 42.8Q399.3 44.7 401.5 43.8M462.6 44.9Q460.3 50.3 459.4 53.8M415.1 58.4Q419.9 58.9 422.2 59.4M475.6 72.1Q478.3 74.5 481.1 78.1M449.9 31.4Q450.9 34.3 452.0 37.0M505.9 107.3Q501.0 109.8 497.4 110.3M394.2 64.2Q401.0 66.7 406.3 66.6M411.7 101.6Q408.6 106.5 405.9 109.6M449.6 114.3Q445.6 115.0 441.5 116.2M499.1 103.2Q499.8 107.6 501.7 111.1M470.5 81.1Q468.7 86.6 469.8 92.1M476.7 94.3Q475.0 97.6 470.8 98.1M461.7 102.3Q463.6 104.3 467.1 106.2M505.4 61.5Q498.0 61.4 493.2 64.1M517.6 71.9Q512.1 74.5 507.8 80.1M494.2 108.8Q494.5 115.3 497.6 119.2M465.5 114.6Q462.3 118.1 461.0 121.5M496.1 75.5Q494.6 78.2 495.2 82.5M427.6 72.9Q423.1 74.2 420.3 74.2M502.5 49.2Q503.7 51.5 507.6 56.3M451.0 49.5Q455.5 53.8 460.1 57.7M475.6 95.7Q467.8 98.1 462.3 99.0M386.0 40.3Q387.1 41.7 390.3 44.7M489.0 96.2Q489.7 101.5 489.0 106.2M391.2 69.7Q396.3 71.5 398.6 75.2M428.2 79.8Q426.0 83.2 424.4 86.6M508.7 34.7Q505.3 36.0 499.3 38.1M464.1 30.6Q467.7 34.1 472.4 37.5M513.4 77.0Q510.1 82.8 508.3 85.7M432.7 29.9Q432.8 33.9 434.7 38.3M394.6 111.0Q394.4 115.1 394.1 118.6M433.9 96.6Q435.6 103.8 435.8 109.8M412.0 93.6Q404.5 93.3 399.7 94.4M390.5 88.6Q385.7 90.6 380.0 92.5M481.0 78.2Q478.4 80.5 475.9 82.0M396.6 80.7Q394.5 82.1 391.0 82.2M501.1 112.3Q498.8 116.9 496.7 121.8M466.0 58.8Q461.8 61.8 458.0 64.7M480.5 102.5Q475.0 104.1 471.0 108.7M400.5 36.6Q400.4 40.2 400.4 42.3M439.4 104.6Q440.7 107.7 443.4 113.1M455.6 41.2Q459.6 44.3 462.4 44.6M417.9 52.7Q413.7 54.7 407.7 53.7M475.9 53.4Q467.9 55.2 462.9 54.1M467.7 48.6Q468.8 52.1 468.3 56.3M394.3 107.4Q396.6 109.2 397.6 113.1M456.1 68.6Q463.0 69.8 468.8 73.6M505.2 85.6Q499.2 88.2 495.1 91.9M412.1 102.5Q407.6 104.8 402.1 104.2M447.3 65.4Q450.5 69.9 456.1 76.1M490.0 31.5Q493.2 34.0 497.9 37.2M384.5 90.0Q387.0 91.4 391.9 91.7M407.8 80.3Q412.4 82.0 417.8 81.3M412.3 57.0Q409.8 58.0 407.3 59.2M422.2 44.2Q420.8 46.2 422.3 49.4M436.0 51.3Q433.7 55.0 430.7 58.2M477.1 108.5Q476.2 112.7 474.9 119.5M486.0 77.8Q491.8 79.9 497.6 79.3M444.7 71.3Q439.2 73.3 432.1 75.6M444.5 95.3Q440.8 96.9 435.9 98.2M453.3 48.0Q457.1 49.4 457.9 53.6M417.7 46.9Q412.5 48.7 408.4 52.9M473.6 92.5Q471.4 96.3 468.7 102.9M483.1 106.5Q488.2 110.1 490.4 110.8M483.9 103.1Q490.5 105.3 495.2 109.2M508.1 101.9Q500.5 102.6 495.4 105.3M485.4 41.9Q489.1 46.9 490.9 52.6M443.2 93.2Q437.4 92.5 432.5 93.3M411.2 83.1Q409.7 86.1 406.7 88.5M457.6 75.8Q458.4 78.8 459.0 80.8M500.0 114.7Q499.7 117.4 497.2 120.5M505.7 114.3Q507.0 115.6 510.9 115.9M445.3 82.5Q446.8 86.0 450.7 91.3M473.8 50.2Q480.4 53.4 484.0 54.0M494.7 94.7Q498.1 94.9 501.1 94.9M493.2 32.1Q492.9 33.5 491.1 37.3M453.4 99.7Q448.2 99.3 441.2 100.2M466.7 74.5Q466.6 79.3 466.8 84.8M489.3 88.4Q483.6 87.7 476.0 89.4M454.7 71.7Q448.5 74.3 444.2 79.8M493.8 113.3Q496.0 117.5 498.9 122.4M470.5 91.6Q466.5 92.7 462.6 94.2M517.8 75.8Q509.8 78.3 504.6 79.3M400.4 73.2Q399.6 76.4 398.2 78.4M428.5 76.4Q428.8 80.8 430.6 82.5M471.6 76.0Q467.3 79.3 461.4 83.2M447.6 59.0Q452.9 60.0 460.7 61.7M496.5 58.6Q493.0 59.1 491.5 60.0M472.2 99.8Q465.4 103.3 460.5 103.8M389.7 70.7Q390.0 74.5 392.1 75.4M515.0 62.3Q507.8 62.6 503.3 62.3M413.4 53.8Q410.8 55.0 409.1 59.1M423.4 57.7Q425.8 57.5 428.9 59.7M503.7 52.1Q505.8 53.8 506.0 57.2M401.2 62.8Q394.7 64.9 388.4 66.4M396.9 109.0Q395.4 110.4 391.8 114.0M447.6 53.7Q446.9 56.5 446.0 60.7M390.6 39.2Q387.0 42.5 383.4 44.8M416.0 42.9Q418.4 48.4 419.4 54.2M468.0 53.6Q463.6 54.0 457.4 55.3M459.7 88.6Q458.4 95.4 458.5 100.4M421.8 75.5Q426.9 75.9 429.6 79.2M411.7 74.8Q409.7 80.4 406.4 84.6M462.7 41.8Q460.6 45.5 461.6 49.2M513.6 69.4Q508.4 73.2 505.9 76.7M507.6 84.2Q512.0 90.8 515.4 94.8M493.1 78.5Q493.0 84.4 494.1 88.2M399.2 115.1Q401.6 118.5 403.5 123.0M465.6 35.6Q463.9 37.9 460.1 38.0M481.5 95.2Q484.4 98.8 489.9 100.8M485.3 47.7Q486.4 51.1 486.4 53.4M395.7 84.7Q393.9 85.2 389.6 87.1M389.5 37.0Q388.2 39.2 384.7 41.7M394.0 101.2Q394.1 103.3 397.2 106.5M444.8 72.9Q442.6 76.8 443.4 78.4M444.3 94.0Q440.1 94.8 434.5 97.3M419.0 76.9Q411.3 77.6 405.2 77.5M417.7 58.2Q421.8 63.5 426.5 69.0M390.0 105.0Q395.3 105.8 402.1 108.3M394.5 62.5Q389.9 63.9 386.3 63.7M420.8 98.0Q413.1 99.5 408.1 99.3M486.7 99.0Q486.5 102.2 485.3 104.8M443.6 97.2Q447.6 100.7 450.7 101.8M508.8 106.8Q511.9 109.9 514.8 113.3M399.2 63.3Q396.3 65.4 391.0 65.1M453.4 112.5Q451.1 114.0 448.3 112.9M419.0 61.0Q424.9 64.2 430.5 66.9M461.7 106.0Q461.2 110.5 461.1 115.9M509.0 86.0Q509.5 87.5 509.1 91.8M444.2 47.3Q444.5 50.4 446.5 53.9M402.2 51.9Q401.4 53.9 398.5 56.4M410.6 96.1Q410.7 99.0 413.7 103.8M503.9 70.4Q503.7 74.4 506.0 80.5M491.9 82.2Q494.7 87.4 498.8 92.9M481.1 101.6Q484.6 106.3 489.9 112.3M451.4 76.9Q451.7 80.7 450.2 86.0M444.1 90.2Q440.3 91.4 437.3 92.7M422.8 76.4Q420.3 78.2 415.8 77.7M443.0 61.1Q448.6 62.5 452.2 64.7M413.2 102.5Q418.4 105.0 422.1 107.3M419.8 79.9Q423.4 85.6 425.2 89.5M480.4 38.8Q484.4 44.1 487.7 47.0M438.7 36.7Q441.5 36.8 444.0 37.9M385.8 111.1Q390.6 112.5 393.8 112.8M412.0 110.6Q412.7 117.1 414.0 122.8M508.5 32.2Q508.8 37.5 506.3 42.2M419.1 41.0Q418.1 45.6 418.0 47.4M410.8 45.9Q409.6 49.5 406.0 54.1M488.7 68.4Q481.1 68.1 475.4 68.6M447.3 68.0Q444.6 73.8 444.1 78.8M488.0 65.4Q490.7 67.0 492.8 70.9M415.3 53.7Q412.2 57.4 408.8 63.3M434.9 37.3Q431.3 36.6 425.7 37.4M418.4 39.4Q420.5 44.1 422.3 49.9M403.9 53.8Q402.9 57.0 399.0 58.2M408.9 30.8Q407.2 32.3 404.3 33.7M431.9 82.9Q438.8 81.8 443.6 83.5M418.5 104.1Q422.0 107.4 423.6 107.7M509.1 48.0Q510.3 48.5 513.8 50.1M504.3 96.2Q508.1 97.5 511.5 100.8M390.8 46.7Q393.8 50.2 394.0 51.0M446.5 64.0Q445.2 71.4 444.4 76.3M509.1 49.8Q506.9 57.9 505.8 63.0M445.0 89.8Q449.6 90.2 453.2 92.3M510.5 61.0Q508.7 67.5 508.0 72.8M476.6 96.9Q479.0 100.1 481.0 103.6M447.8 79.7Q444.6 80.7 443.2 84.0M454.7 49.4Q451.2 51.0 448.0 50.9M417.0 35.3Q420.8 40.4 425.5 42.8M404.8 54.7Q404.3 57.5 404.9 62.7M446.9 91.5Q450.1 97.5 452.5 104.3M427.4 55.1Q431.9 57.4 436.3 57.8M399.0 33.5Q395.7 35.8 391.1 35.8M423.9 45.2Q420.9 46.1 417.9 50.1M456.9 68.7Q460.9 72.0 462.3 72.8M422.8 56.4Q424.4 61.3 426.7 63.5M387.9 58.8Q386.6 64.6 386.3 69.1M443.1 44.3Q440.4 46.5 436.5 46.2M409.8 95.9Q408.0 97.5 403.6 101.1M451.9 111.7Q451.1 118.6 450.9 124.6M451.0 90.2Q448.0 93.6 443.3 98.7M470.9 99.5Q468.7 100.4 466.3 104.3M505.5 85.4Q508.7 89.2 513.0 92.7M491.1 107.2Q485.8 107.6 480.2 107.8M410.9 32.6Q405.4 34.0 397.9 37.3M461.9 44.1Q466.4 47.7 468.3 54.3M486.6 92.0Q484.3 95.3 482.9 97.1M410.9 43.7Q410.4 45.9 411.3 50.2M411.0 37.1Q411.1 40.0 413.2 44.8M435.0 36.1Q437.3 37.1 438.2 40.4M448.8 38.2Q445.7 42.8 441.3 49.8M412.7 45.5Q410.8 47.4 407.3 47.6M490.7 65.5Q492.2 69.4 492.8 73.4M479.9 68.0Q474.7 70.3 470.8 73.0M410.5 112.0Q414.5 113.0 419.0 113.3M394.8 89.6Q397.7 89.8 401.6 92.6M518.2 35.7Q514.1 37.6 507.5 39.0M455.7 67.3Q454.1 71.5 454.5 75.2M491.6 116.5Q485.7 118.2 481.6 119.5M408.8 104.7Q405.3 108.8 402.8 110.6M443.0 35.0Q439.7 39.9 438.6 42.6M412.2 45.2Q411.4 48.7 411.5 52.4M502.7 77.9Q505.3 85.2 505.4 90.1M392.6 99.2Q388.9 103.3 383.9 106.6M414.4 111.8Q411.6 113.0 408.6 116.1M412.8 86.0Q415.5 87.4 417.4 88.2M499.5 31.9Q502.5 35.3 502.9 36.9M407.5 69.1Q404.5 73.6 401.6 77.9M407.7 35.2Q410.9 38.6 416.1 39.7M424.9 28.2Q423.2 33.0 420.0 38.1M508.1 90.3Q501.5 91.3 496.2 92.8M409.9 83.3Q411.0 86.6 413.0 91.9M459.1 93.1Q460.8 96.2 461.9 98.6M461.1 103.8Q455.5 106.2 449.4 106.0M454.0 75.2Q456.7 76.8 460.3 79.9M415.3 46.5Q419.9 49.0 424.8 49.7M480.7 113.0Q478.3 115.1 474.9 114.6M392.3 43.9Q396.9 45.3 398.9 44.4M397.2 30.3Q402.7 32.6 409.3 34.5M433.8 62.9Q429.7 68.8 428.2 75.2M477.8 97.8Q474.9 100.4 474.9 104.7M458.1 105.7Q456.3 111.5 455.3 115.7M511.3 69.3Q508.4 75.0 507.0 78.1M399.5 67.8Q394.2 68.1 389.6 70.2M435.5 93.4Q434.0 97.4 429.8 102.3M426.9 85.5Q422.5 87.7 415.9 88.0M383.9 84.3Q388.7 89.1 391.8 92.0M404.0 61.8Q410.0 64.9 414.9 67.7M454.7 93.5Q456.6 97.6 455.7 100.1M445.6 79.3Q447.1 82.0 451.2 83.6M485.4 52.5Q488.4 55.8 492.7 57.6M414.8 48.8Q417.3 53.7 418.5 60.9M405.7 31.8Q401.9 35.9 400.2 41.2M498.2 31.7Q494.5 35.8 489.9 41.0M480.6 107.9Q480.0 114.4 478.7 118.4M509.5 87.4Q509.6 90.2 509.8 93.5M469.5 72.4Q472.7 75.0 474.5 77.1M483.0 46.0Q482.5 48.5 484.0 52.0M415.6 114.3Q418.9 117.1 424.7 117.5M396.0 103.9Q397.0 107.7 400.5 110.8M394.6 87.1Q394.7 91.4 393.9 94.5M399.0 110.0Q394.6 111.9 387.7 114.7M406.9 68.5Q400.3 70.7 396.1 71.4M491.3 66.8Q488.2 73.4 485.5 78.3M460.8 99.7Q457.0 101.4 455.2 102.6M425.0 58.2Q431.0 57.9 434.0 58.2M413.4 62.3Q411.6 64.9 411.7 67.3M429.1 92.1Q432.9 93.9 434.2 94.3M464.8 83.3Q467.2 85.6 470.0 86.9M437.7 74.4Q443.4 75.7 450.8 77.7M486.2 111.2Q489.1 115.3 489.9 119.4M399.0 48.9Q398.9 52.3 401.4 53.3M489.4 101.6Q493.0 103.6 494.1 108.2M444.3 60.0Q441.9 65.4 436.5 68.0M463.7 109.5Q462.7 112.1 461.6 116.0M496.2 100.8Q501.8 103.3 506.5 104.2M399.6 81.8Q403.3 82.8 407.9 84.7M432.7 75.6Q436.0 77.9 441.9 79.0M383.6 74.5Q390.9 75.3 395.6 74.7M445.4 70.7Q442.9 72.6 441.3 74.7M405.7 69.5Q407.4 72.1 408.6 75.1M397.2 75.8Q400.5 79.7 404.9 82.4M458.7 27.1Q461.1 33.0 464.5 37.4M498.5 110.4Q495.3 112.2 492.2 116.6M427.5 51.5Q423.1 55.8 417.8 58.6M439.0 86.0Q440.2 89.4 441.2 90.6M447.4 108.0Q447.7 111.2 449.9 114.8M420.9 36.0Q425.5 41.4 428.4 47.3M412.4 71.1Q414.4 76.1 417.7 80.3M479.3 53.4Q483.4 57.8 487.0 59.9M488.9 66.6Q489.3 71.5 489.1 78.7M436.9 37.0Q434.3 40.8 430.8 47.3M440.1 28.6Q436.0 34.2 433.7 38.5M394.7 43.9Q391.8 46.0 387.9 45.5M482.2 67.9Q482.1 73.0 484.1 76.3M451.4 95.6Q450.9 98.1 451.8 102.8M474.7 69.6Q476.7 75.6 479.5 82.5M410.1 53.1Q413.2 56.4 416.9 59.8M493.5 58.3Q493.3 63.2 490.4 67.4M501.3 61.8Q505.1 62.6 507.0 65.7M416.6 105.5Q421.9 105.8 427.7 107.7M503.6 105.7Q506.2 106.4 508.5 109.6M504.6 58.5Q506.0 61.0 507.6 63.1M401.5 87.5Q402.5 94.8 401.0 99.8M443.0 58.6Q441.0 61.8 439.4 66.5M406.8 35.0Q405.5 40.3 401.4 47.1M405.4 37.6Q410.8 39.2 417.1 41.6M404.5 89.8Q408.6 94.9 415.7 97.5M437.5 67.5Q438.7 71.1 437.4 74.6M457.7 103.2Q453.6 108.1 451.7 114.2M407.7 72.3Q411.3 76.7 416.6 81.9M439.7 56.2Q437.7 59.5 433.9 63.7M490.0 99.0Q493.3 104.6 494.1 111.8M450.7 104.4Q454.9 109.6 460.4 112.9M437.2 113.5Q431.8 115.4 429.4 116.7M461.7 56.9Q457.6 57.2 453.3 59.2M472.5 76.1Q477.9 78.0 484.6 82.1M481.1 66.4Q477.7 69.6 473.9 71.5M492.5 44.8Q495.9 47.3 501.3 48.0M425.0 62.4Q428.2 62.7 432.2 64.3M414.0 54.5Q412.0 57.2 410.1 59.1M390.4 101.6Q386.5 102.8 385.2 106.6M498.6 30.9Q497.4 35.5 495.2 40.5M444.9 70.8Q442.0 72.8 440.6 74.9M435.9 79.4Q437.3 87.1 440.5 92.3M383.5 102.4Q386.9 104.8 390.8 104.8M405.7 73.9Q402.6 78.3 398.2 79.7M485.1 49.8Q488.5 55.5 490.3 58.3M495.4 95.3Q494.6 101.6 491.6 106.1M405.0 45.3Q406.4 52.8 408.9 58.4M429.1 91.6Q422.9 94.6 416.3 97.0M404.1 105.0Q407.6 106.9 409.0 108.8M449.5 47.5Q445.2 48.5 438.7 50.2M444.1 76.3Q446.8 76.6 449.0 77.7M495.4 94.8Q492.0 99.4 490.2 103.5M470.0 51.8Q470.8 54.4 470.6 57.4M415.7 92.4Q411.4 94.7 410.1 96.6M511.1 36.7Q507.5 38.2 502.6 42.7M442.6 34.6Q436.4 36.1 428.9 36.9M488.4 43.3Q483.9 42.1 479.9 43.7M391.4 110.8Q396.0 114.2 399.2 116.3M444.5 91.1Q441.2 93.1 438.6 94.5M470.1 81.6Q473.2 83.1 477.2 82.3M464.7 52.1Q465.3 56.4 463.1 59.6M492.0 64.0Q496.6 67.5 503.1 68.8M484.5 102.8Q481.9 107.4 482.1 113.3M400.7 34.8Q400.4 36.5 400.1 40.3M414.4 102.3Q409.4 101.5 403.8 102.7M435.3 109.4Q438.6 109.5 443.4 111.3M400.9 90.4Q403.7 97.1 407.6 102.6M424.8 98.5Q430.9 100.5 438.4 101.1M426.7 30.5Q427.2 32.7 426.0 36.6M392.8 74.2Q392.0 78.1 389.9 84.6M502.6 101.3Q500.2 102.2 499.1 104.9M496.8 52.5Q498.6 54.6 499.0 59.0M443.1 95.1Q444.6 97.4 446.1 101.5M476.1 101.8Q477.7 102.1 480.1 105.4M495.1 111.2Q493.9 115.5 492.3 120.5M457.6 84.3Q453.1 85.9 450.8 87.8M391.5 53.1Q391.5 60.9 391.1 65.8M489.2 117.2Q484.5 119.3 481.8 120.1M484.2 65.0Q480.6 66.4 475.1 70.7M487.8 105.1Q491.7 110.4 497.1 113.6M488.4 104.1Q491.8 104.3 494.9 106.1M436.8 115.5Q432.7 117.3 430.6 117.3M461.1 32.4Q456.5 33.9 454.5 33.2M492.4 34.3Q492.3 42.1 489.2 47.4M490.6 109.0Q493.5 115.4 494.2 119.8M466.3 101.3Q462.7 107.0 456.6 110.5M408.7 59.4Q408.1 63.0 408.8 64.4M510.0 72.2Q510.0 76.5 509.7 78.2M428.3 87.3Q424.3 90.4 420.7 92.2M405.6 59.9Q406.9 62.8 409.8 63.6M476.3 65.8Q480.2 67.9 485.3 69.2M491.4 58.4Q495.7 64.3 497.8 69.1M421.1 112.1Q428.6 112.2 434.7 114.9M409.6 101.5Q407.0 103.1 403.8 102.7M473.4 112.4Q469.1 114.8 467.3 114.9M420.7 108.5Q417.3 108.3 412.3 109.7M451.7 39.9Q450.2 41.4 449.2 45.7M508.5 83.1Q511.0 86.1 511.9 89.2M455.6 31.5Q458.5 34.8 459.4 39.9M389.2 77.7Q390.1 79.3 393.4 81.0M441.3 53.1Q439.1 55.3 438.0 57.5M414.1 113.1Q417.6 117.1 418.5 121.0M421.1 73.7Q414.3 72.6 408.6 74.1M499.2 57.3Q504.2 58.0 507.7 59.5M491.1 109.0Q488.1 113.3 484.5 120.1M477.1 50.8Q471.6 55.1 466.3 58.2M394.4 76.8Q390.0 81.7 388.1 88.4M481.3 79.1Q481.1 87.0 483.5 92.7M400.7 50.9Q400.2 52.7 398.1 55.7M482.7 80.5Q488.2 85.7 491.1 89.2M392.6 70.0Q396.3 71.0 401.4 71.9M498.3 95.9Q496.0 97.3 493.9 99.2M471.5 109.9Q477.4 108.6 484.2 110.2M470.4 78.3Q464.2 79.9 458.2 79.8M496.0 72.9Q500.0 78.1 501.9 82.0M467.6 42.5Q464.8 46.3 460.7 50.3M390.8 51.3Q389.4 54.1 389.0 57.5M402.2 50.2Q403.9 55.6 404.3 63.3M429.4 103.2Q435.7 102.5 440.8 103.2M383.9 54.5Q385.5 58.2 389.6 63.9M478.6 31.5Q476.9 35.2 476.1 39.5M433.5 100.6Q429.2 102.9 423.7 103.2M393.0 72.7Q400.1 72.2 404.8 73.7M439.4 84.0Q438.8 86.2 438.8 89.4M457.3 109.4Q462.0 110.2 466.9 111.8M404.5 69.7Q409.0 72.8 414.8 73.7M411.4 47.4Q417.2 51.7 420.9 53.8M448.9 83.7Q449.9 89.3 453.2 92.6M434.9 72.8Q438.5 75.7 444.0 75.8M391.2 62.3Q394.5 61.9 397.8 64.0M469.1 82.1Q466.5 84.3 463.1 87.5M468.3 115.9Q473.9 118.1 477.7 121.9M391.5 71.8Q392.2 76.5 391.2 82.3M485.7 92.2Q488.1 95.8 490.8 97.2M497.4 74.1Q497.7 77.3 496.6 83.5M476.9 71.2Q474.5 77.4 474.4 83.6M508.1 50.1Q507.6 54.0 505.4 57.1M400.7 40.2Q403.7 45.6 404.9 48.2M454.9 33.2Q454.5 39.8 456.6 46.6M417.0 87.2Q418.2 88.9 421.2 90.5M434.7 102.9Q440.2 104.8 443.2 109.6M446.6 46.9Q448.7 49.6 449.2 53.7M507.6 45.9Q509.7 49.2 514.1 54.5M432.1 87.6Q427.1 90.6 423.4 93.1M508.2 63.5Q510.6 65.8 513.2 65.4M502.3 90.4Q504.6 93.0 508.6 96.0M483.9 31.3Q484.1 35.6 483.5 38.2M485.4 61.7Q482.4 61.5 480.6 63.4M473.4 71.9Q471.3 75.3 471.6 77.2M466.9 107.9Q467.8 114.1 469.1 118.0M426.1 72.7Q422.6 74.1 419.5 77.9M507.8 72.9Q507.8 75.7 508.4 79.3M406.5 59.1Q407.6 65.4 411.2 68.7M492.1 27.2Q491.6 34.1 493.8 38.6M505.3 32.3Q508.3 38.8 512.6 43.9M487.4 28.4Q488.6 31.1 487.9 36.3M472.3 29.8Q472.0 35.6 469.2 38.5M488.3 88.7Q490.1 94.2 492.2 98.3M505.5 87.8Q510.0 91.2 514.4 92.2M429.1 62.6Q426.1 67.2 423.1 71.2M413.3 35.1Q415.0 39.6 415.3 44.7M431.2 115.4Q429.0 115.9 424.6 117.3M392.2 95.4Q391.4 100.7 391.0 108.8M431.1 89.6Q434.3 93.8 439.2 96.9M383.1 91.8Q387.9 93.1 389.9 96.8M398.9 114.5Q394.7 117.2 390.5 120.1M463.7 102.2Q467.4 102.9 471.2 105.6M405.0 88.4Q398.3 88.2 392.7 89.0M512.3 101.6Q510.3 105.0 510.6 107.0M427.2 87.4Q432.1 89.0 436.9 92.9M399.8 49.3Q402.8 53.0 403.0 58.6M407.9 77.1Q409.9 78.4 411.8 80.3M464.0 75.8Q467.2 75.6 472.7 77.9M500.6 111.0Q495.2 111.8 489.1 112.6M456.2 58.2Q453.2 59.6 447.8 61.8M419.8 84.4Q416.1 86.9 414.1 91.9M469.9 41.7Q466.5 43.1 461.8 46.0M503.9 53.1Q501.8 52.6 498.3 53.3M508.5 81.5Q506.0 84.5 501.8 88.8M429.7 89.6Q432.5 89.4 437.2 91.1M418.2 29.9Q418.2 35.6 416.7 38.6M467.9 87.7Q461.3 91.0 455.0 92.1M435.5 68.3Q438.8 72.0 443.6 76.7M444.0 32.1Q440.8 34.6 439.8 34.8M480.7 31.1Q482.7 33.1 487.5 36.7M423.6 117.4Q428.3 118.7 434.7 119.2M389.2 97.6Q387.9 99.4 383.8 98.9M421.2 74.5Q423.2 74.1 427.8 74.6M413.8 37.4Q415.8 37.0 420.3 38.8M486.1 67.7Q491.2 68.6 498.4 71.2M389.7 100.7Q390.6 106.8 391.4 110.7M501.0 96.9Q499.6 103.6 499.9 108.1M447.7 28.4Q450.6 33.1 454.6 40.1M512.1 65.6Q510.4 69.1 510.2 73.7M507.7 70.9Q503.7 76.2 501.2 79.2M496.7 43.4Q501.4 45.4 508.1 45.1M444.1 73.6Q446.8 76.0 450.6 81.2M455.8 104.8Q454.5 107.4 451.2 112.8M409.4 64.2Q413.2 64.3 415.2 64.6M475.2 46.3Q468.3 47.3 462.4 50.1M427.2 51.8Q430.0 58.2 431.2 62.3M465.0 101.8Q462.7 103.5 462.4 106.9M401.7 49.8Q398.6 55.0 395.8 59.9M466.2 88.2Q467.2 92.5 468.0 96.2M402.5 66.5Q401.8 73.8 402.4 78.4M477.5 83.5Q477.1 86.2 477.5 90.0M439.0 38.0Q444.5 37.8 452.9 38.9M434.8 115.5Q436.6 119.3 438.4 122.2M490.7 91.1Q498.3 91.5 503.5 94.2M495.8 109.2Q489.4 112.9 484.1 115.6M486.7 99.1Q485.1 104.9 482.6 111.4M499.9 66.0Q505.7 69.0 512.4 70.3M500.7 97.5Q498.5 100.5 496.3 104.1M487.4 53.7Q487.3 60.5 489.6 65.5M457.8 88.6Q457.1 92.0 454.0 94.7M428.6 39.8Q430.1 40.3 432.8 43.0M385.6 35.5Q387.7 36.1 392.2 37.7M399.7 41.8Q399.2 45.1 397.6 49.9M467.6 53.2Q467.1 58.2 469.2 60.3M419.0 29.7Q416.9 31.4 417.1 34.8M409.0 61.5Q411.7 64.5 412.8 68.2M504.3 92.2Q499.7 94.0 496.0 95.3M516.2 33.7Q513.0 37.8 509.5 44.2M517.3 59.7Q511.6 60.9 508.3 61.9M428.9 57.0Q423.0 59.7 416.6 61.4M474.0 68.0Q471.6 72.4 466.2 75.0M498.2 32.1Q497.9 34.0 498.8 38.4M497.3 66.0Q497.0 73.2 495.1 78.2M389.2 35.8Q391.1 40.5 390.1 46.0M397.3 51.3Q402.8 52.8 408.1 55.8M479.5 64.0Q482.7 66.7 484.1 67.3M478.4 116.1Q474.8 116.4 473.4 116.7M448.2 60.8Q452.5 63.1 454.0 65.4M443.0 92.6Q439.8 96.6 434.8 101.7M418.9 73.5Q417.6 75.0 413.8 78.9M412.2 64.3Q414.2 64.4 417.4 67.5M456.7 77.7Q461.7 80.4 467.2 82.8M494.4 74.7Q497.2 77.2 502.0 77.4M414.8 34.3Q416.3 36.8 416.0 42.2M409.0 58.1Q414.7 61.0 418.1 61.3M461.4 30.1Q460.1 33.3 458.7 35.8M504.1 79.9Q506.9 81.5 508.2 84.0M427.7 75.3Q423.6 80.7 422.4 84.2M472.4 103.8Q469.0 108.1 466.9 113.2M508.0 58.7Q504.4 61.1 501.0 60.7M462.7 77.7Q465.8 78.0 471.2 77.9M516.7 53.4Q509.2 56.1 503.7 56.4M471.3 44.4Q477.1 46.1 480.7 49.0M478.4 86.2Q483.0 87.4 488.8 90.6M446.1 34.1Q445.1 36.5 441.2 36.1M501.7 84.3Q498.6 84.4 496.3 84.5M409.6 90.0Q404.4 92.0 402.0 94.9M493.9 116.5Q495.9 119.5 495.7 121.3M387.3 69.8Q390.4 77.4 393.1 82.4M438.7 59.6Q438.1 61.9 438.2 65.4M408.9 100.1Q407.9 104.8 406.3 111.2M422.2 44.7Q419.6 49.2 419.1 51.8" fill="none" stroke="#adadad" stroke-opacity="0.5" stroke-width="0.65" stroke-linecap="round"/>
<path d="M395.4 107.5Q405.5 115.8 407.8 128.2M498.6 51.2Q497.8 62.7 496.4 71.2M491.2 54.0Q483.3 65.1 475.2 76.8M447.1 40.2Q443.3 51.6 441.6 56.0M427.4 51.2Q424.7 58.3 416.5 71.4M409.9 43.3Q420.6 50.1 427.1 51.6M401.9 88.8Q407.3 92.3 418.7 100.0M489.0 81.2Q486.1 93.5 489.5 109.2M469.8 33.7Q468.8 41.6 473.0 53.1M413.0 70.1Q417.1 81.6 423.8 89.5M506.2 81.2Q494.0 89.4 488.5 91.3M415.1 33.7Q410.4 38.0 405.6 43.5M380.1 67.6Q394.4 71.3 403.1 76.2M461.0 52.5Q454.4 67.3 452.1 80.6M377.0 110.9Q385.7 113.0 396.4 114.4M418.2 34.6Q420.8 47.2 415.9 61.2M403.3 55.3Q418.7 57.4 429.2 65.3M505.0 64.5Q503.7 73.4 498.3 86.9M435.4 68.9Q428.3 78.0 425.5 91.9M485.9 68.3Q475.1 73.3 456.8 70.6M485.4 99.8Q501.1 99.3 511.4 104.1M393.7 108.1Q398.0 110.2 404.7 114.8M421.9 35.0Q420.0 48.3 425.6 61.9M494.1 102.2Q502.8 100.4 516.3 104.1M502.0 112.4Q492.0 111.2 489.7 112.6M442.7 38.8Q436.7 37.9 423.0 44.2M458.9 40.0Q441.8 40.0 430.9 42.5M505.9 73.4Q509.2 87.0 513.0 95.2M402.6 80.9Q395.1 81.9 390.6 84.3M462.5 98.5Q465.2 102.7 460.7 111.9M477.0 37.9Q487.5 44.6 499.6 45.7M383.0 38.8Q390.0 38.6 402.4 43.9M450.7 94.5Q441.9 98.5 435.5 106.3M477.7 59.1Q471.3 65.1 469.3 70.4M394.4 106.2Q382.5 110.0 377.0 115.7M427.9 56.0Q425.8 59.8 430.7 70.3M401.3 42.2Q400.3 49.9 405.1 56.3M463.9 47.9Q455.1 59.4 451.0 65.1M457.9 38.0Q456.4 47.5 457.9 50.8M425.3 74.9Q438.2 79.2 445.1 77.0M450.9 118.2Q446.5 116.7 436.9 119.2M456.4 69.0Q466.2 76.9 468.3 78.9M443.2 96.3Q440.3 106.7 432.3 111.5M425.1 105.4Q431.6 115.0 432.0 119.8M401.8 72.2Q410.1 82.3 424.6 84.5M510.5 61.2Q501.7 67.2 491.1 66.7M381.8 23.6Q389.7 30.2 393.9 41.6M386.1 32.1Q397.6 31.6 401.9 32.3M417.4 40.1Q416.6 47.8 420.5 56.2M437.0 111.5Q435.1 119.4 440.1 123.9M461.1 83.0Q450.0 83.5 443.9 85.3M509.7 98.1Q505.6 110.2 504.5 123.0M420.6 77.8Q414.9 82.7 403.4 91.7M496.1 89.8Q484.5 93.4 476.1 98.8M489.3 56.6Q481.0 57.0 464.7 58.7M457.4 99.4Q453.6 103.5 443.6 100.7M421.0 60.1Q431.9 62.9 443.9 67.8M396.6 104.5Q407.9 105.7 425.0 108.0M412.1 35.8Q415.1 35.2 425.8 38.8M435.2 78.0Q428.0 80.3 414.9 84.1M489.5 45.4Q491.5 52.9 495.4 60.4M508.4 90.2Q512.8 99.4 513.4 106.5M495.6 109.9Q506.0 111.6 523.0 116.3M421.3 45.3Q423.9 50.9 426.9 60.1M445.6 117.2Q449.7 116.0 459.2 119.5M506.9 88.8Q504.5 100.1 509.4 118.7M415.4 97.7Q411.0 101.8 400.2 107.6M469.3 92.8Q459.9 97.8 453.2 108.0M452.2 116.2Q440.1 112.6 424.4 116.8M447.6 106.8Q448.1 119.1 446.9 130.5M464.9 61.4Q467.7 76.5 472.4 89.5M501.4 55.3Q503.9 55.6 512.6 60.2M457.9 30.8Q448.5 37.9 436.7 37.5M437.1 67.3Q425.4 67.2 409.0 70.7M490.0 29.9Q496.5 30.6 510.4 37.6M497.4 57.0Q507.4 65.4 522.6 68.3M440.2 50.9Q437.1 51.8 426.5 59.5M401.0 43.3Q390.6 43.5 384.4 45.9M385.0 71.5Q391.2 84.7 391.9 97.7M456.5 102.1Q462.8 111.8 468.6 128.3M413.4 99.0Q404.3 101.3 401.0 99.2M488.8 34.6Q493.5 44.5 496.9 55.8M467.3 111.9Q463.0 113.0 451.0 117.5M432.2 67.6Q429.9 73.0 420.9 73.6M456.8 61.3Q448.2 66.9 438.1 79.8M441.2 45.2Q440.3 62.8 444.4 73.1M442.2 84.2Q437.4 93.1 428.5 106.1M475.5 63.2Q465.2 61.1 461.4 64.9M386.0 30.5Q388.7 38.0 392.2 52.5M404.1 26.6Q401.5 33.4 398.2 42.7M485.8 64.5Q495.7 73.8 505.9 81.4M498.7 30.4Q501.4 34.8 507.3 46.5M445.1 96.7Q434.3 95.1 417.7 98.3M398.7 83.4Q392.0 82.9 386.1 84.5M495.2 93.2Q481.7 103.8 475.9 111.0M480.7 58.4Q497.2 56.1 507.5 61.5M463.1 50.2Q459.5 61.0 450.2 66.7M404.0 82.0Q411.7 84.5 416.5 88.4M508.1 107.3Q496.6 111.5 490.9 118.5M391.3 73.1Q389.9 72.9 381.2 80.7M499.9 48.9Q509.5 59.1 519.5 69.9M491.8 117.1Q500.4 118.7 515.6 119.2M444.3 90.1Q439.4 98.8 429.2 108.4M421.3 25.6Q420.8 36.0 427.9 50.0M524.5 62.2Q509.7 61.7 499.8 65.2M481.2 85.4Q489.5 95.0 494.5 101.9M502.3 65.5Q491.5 71.7 479.5 70.4M454.0 76.7Q463.6 77.8 466.9 78.7M426.0 41.8Q434.1 47.7 442.6 51.2M400.3 45.0Q403.5 53.9 405.4 57.3M489.6 78.1Q501.1 89.9 511.2 96.6M401.8 34.7Q407.9 37.3 413.3 39.7M496.6 82.1Q499.8 87.9 496.5 94.4M395.9 83.3Q391.0 85.7 383.4 87.1M375.4 50.7Q384.8 52.9 394.6 58.1M464.7 105.1Q472.0 105.9 483.6 106.3M430.0 88.0Q434.6 93.3 434.8 102.1M433.1 93.9Q435.2 97.6 438.7 107.4M443.8 26.3Q455.8 32.9 466.6 40.3M493.6 36.4Q501.4 41.6 505.1 48.7M382.4 59.7Q388.6 64.2 396.3 62.2M427.7 74.0Q430.9 81.9 428.7 95.0M399.0 44.1Q400.6 49.4 406.6 59.5M465.2 56.7Q460.9 61.3 459.1 70.7M486.8 50.2Q491.5 54.1 495.1 61.7M475.5 56.4Q475.6 64.6 468.8 76.8M496.2 36.6Q490.3 47.0 492.1 60.5M442.2 40.8Q436.6 43.2 432.3 50.6M484.2 86.6Q476.5 96.4 467.2 99.7M432.3 107.7Q441.3 112.1 444.2 123.1M443.6 89.4Q441.0 98.0 440.3 101.4M432.1 51.8Q437.5 62.9 450.1 69.8M432.6 67.8Q423.4 71.8 409.8 81.1M404.6 100.3Q402.1 107.8 401.3 117.1M490.1 86.6Q495.0 97.3 495.1 111.6M397.3 75.3Q408.4 76.8 421.9 79.8M485.4 47.0Q494.4 55.5 511.3 57.3M465.3 31.1Q457.7 39.8 452.4 41.9M406.2 59.8Q396.7 58.4 386.0 64.4M518.5 85.1Q509.3 86.2 505.8 90.9M498.5 33.9Q483.8 36.0 471.2 39.8M456.2 77.3Q461.5 86.3 473.0 87.5M412.2 97.2Q410.7 110.5 411.2 117.9M437.8 39.0Q438.5 43.5 442.3 51.8M511.9 68.2Q506.0 74.9 503.0 76.8M459.7 103.5Q461.5 117.0 468.7 129.8M464.8 67.7Q451.6 75.1 436.8 75.5M431.7 61.5Q426.7 58.7 414.0 62.8M428.1 85.1Q420.0 83.6 416.6 89.8M403.1 72.9Q409.7 74.8 413.5 82.5M522.8 103.0Q512.6 110.7 495.7 112.3M413.7 31.0Q418.3 32.2 425.2 34.5M466.8 64.5Q477.5 67.9 485.4 69.6M393.1 63.2Q387.1 71.3 383.5 74.9M485.1 55.2Q495.1 59.0 500.8 58.9M400.8 51.3Q402.1 57.8 405.9 71.5M440.8 78.4Q437.4 79.2 429.1 81.5M403.4 102.2Q410.9 100.9 419.2 102.6M481.5 27.8Q477.3 32.4 480.7 41.6M392.3 29.0Q402.0 40.8 403.9 56.6M405.4 59.5Q415.7 67.6 426.3 73.8M433.5 47.9Q439.3 50.9 447.0 54.2M380.2 60.9Q392.8 68.5 398.4 77.2M395.9 73.1Q393.6 85.1 390.3 91.8M420.1 59.2Q417.0 61.3 410.9 68.7M428.6 96.5Q423.2 100.3 413.9 109.3M476.0 78.6Q462.8 79.4 449.2 84.4M399.4 112.9Q407.9 112.0 415.4 118.3M513.6 88.5Q505.9 88.9 495.5 97.2M490.5 95.4Q488.5 105.7 490.9 119.3M443.6 98.3Q439.6 100.5 428.4 100.1M399.2 96.4Q402.3 98.3 406.8 106.5M495.0 44.3Q499.7 49.0 504.7 53.5M421.7 93.0Q412.6 92.2 407.3 96.3M433.7 60.2Q441.9 70.6 443.5 79.8M402.0 65.7Q398.8 75.1 399.5 86.5M436.7 83.3Q425.5 80.1 416.7 83.9M404.8 42.2Q401.9 56.3 400.8 65.3M520.5 58.6Q508.9 60.6 501.6 68.4M443.0 80.4Q449.1 87.9 451.7 102.7M438.2 84.1Q433.6 86.8 426.5 92.3M520.0 78.7Q507.2 78.4 493.8 81.0M404.9 50.6Q421.7 56.7 433.2 60.2M403.4 103.8Q400.5 118.6 402.1 126.9M386.5 54.0Q390.3 68.5 393.0 82.3M426.6 89.6Q443.7 90.3 454.2 91.6M445.7 64.8Q444.9 76.5 439.8 90.6M401.2 108.1Q412.6 112.4 423.6 120.5M419.7 34.0Q413.6 44.9 414.0 55.0M407.5 112.1Q401.5 115.0 392.9 119.2M414.7 85.3Q406.0 87.9 390.2 88.7M477.3 40.9Q486.5 45.7 491.5 44.2M418.8 66.5Q407.1 75.1 396.8 76.7M487.4 26.4Q485.1 37.2 481.4 47.0M473.2 96.0Q486.4 102.6 500.0 104.9M409.7 49.6Q416.2 66.0 415.6 79.0M414.4 60.3Q425.7 70.8 435.0 77.1M433.3 26.1Q436.2 32.3 440.9 41.3M420.2 106.9Q429.6 106.4 438.1 109.1M463.8 86.5Q467.5 97.0 474.4 108.6" fill="none" stroke="#b8b8b8" stroke-opacity="0.4" stroke-width="0.8" stroke-linecap="round"/>
</g>
<rect x="385.00" y="32.00" width="128.00" height="0.80" fill="#555" />
<rect x="500.50" y="115.30" width="10.00" height="1.60" fill="#f4f4f4" />
</g>
<clipPath id="c2"><rect x="385" y="129" width="128.5" height="88.2"/></clipPath>
<g clip-path="url(#c2)">
<rect x="385.00" y="129.00" width="128.50" height="88.20" fill="#777" />
<radialGradient id="g2" cx="0.25" cy="0.6" r="0.6"><stop offset="0" stop-color="#fff" stop-opacity="0.16"/><stop offset="1" stop-color="#fff" stop-opacity="0"/></radialGradient>
<linearGradient id="g2b" x1="0" y1="0" x2="1" y2="0"><stop offset="0.4" stop-color="#000" stop-opacity="0"/><stop offset="1" stop-color="#000" stop-opacity="0.12"/></linearGradient>
<linearGradient id="g2c" x1="0" y1="0" x2="0" y2="1"><stop offset="0" stop-color="#000" stop-opacity="0.12"/><stop offset="0.2" stop-color="#000" stop-opacity="0"/></linearGradient>
<rect x="385" y="129" width="128" height="88" filter="url(#turb2)" opacity="0.22"/>
<g filter="url(#bl2)">
<path d="M488.8 138.3l-0.1 0.4M482.6 149.0l-0.2 0.4M496.3 206.2l-0.4 0.2M421.0 201.3l0.1 0.2M428.2 207.4l0.6 0.3M471.8 196.6l-0.3 0.6M389.8 174.2l-0.1 0.2M501.9 139.5l0.0 0.1M468.3 199.3l0.6 0.3M443.4 205.5l-0.1 0.6M425.0 164.8l0.3 0.7M417.3 195.3l-0.4 0.6M493.7 179.4l0.8 0.1M496.8 187.4l0.0 0.0M462.0 211.0l0.1 0.1M422.0 206.4l-0.7 0.3M470.9 180.6l-0.1 0.4M445.5 205.7l0.6 0.3M445.8 198.0l-0.1 0.1M392.5 201.9l0.5 0.0M403.4 164.5l-0.3 0.6M481.5 163.9l-0.5 0.2M488.1 183.4l0.7 0.0M449.1 176.0l-0.6 0.5M443.2 174.9l-0.1 0.3M399.4 202.6l0.1 0.0M389.8 194.7l0.0 0.6M460.3 189.1l-0.0 0.0M420.2 152.1l0.0 0.0M500.5 156.8l-0.0 0.1M461.4 186.5l0.1 0.0M439.9 195.3l0.4 0.2M387.2 175.8l-0.1 0.0M450.7 167.2l0.1 0.0M465.6 162.1l-0.1 0.2M428.5 144.7l-0.5 0.5M501.1 155.9l0.7 0.3M508.6 164.1l-0.4 0.4M506.6 189.1l0.3 0.1M387.1 202.6l-0.1 0.1M443.8 198.6l0.2 0.4M389.8 176.0l0.7 0.1M498.3 169.1l-0.2 0.0M512.3 186.4l0.1 0.7M496.5 194.7l0.0 0.0M495.5 175.3l-0.1 0.3M466.6 151.8l-0.4 0.3M488.9 165.7l-0.1 0.2M389.4 153.4l0.0 0.2M444.6 167.2l0.0 0.0M443.5 182.3l0.2 0.0M426.0 170.7l0.7 0.2M413.7 196.5l-0.4 0.6M462.1 169.0l-0.0 0.2M496.9 136.7l-0.1 0.4M490.1 168.2l-0.1 0.5M419.3 216.6l-0.1 0.1M470.7 149.0l0.6 0.4M494.4 148.6l0.6 0.5M461.3 169.5l-0.1 0.1M457.4 213.9l0.1 0.2M465.9 189.6l-0.3 0.4M448.7 203.7l-0.1 0.0M403.3 146.1l-0.2 0.0M495.8 150.7l0.2 0.2M390.0 198.3l-0.1 0.2M437.1 184.6l-0.5 0.1M455.7 138.9l-0.2 0.6M494.4 155.2l0.2 0.0M503.9 189.6l-0.5 0.1M416.8 178.3l-0.2 0.4M504.2 150.6l0.2 0.7M431.9 166.3l-0.1 0.2M482.4 182.5l-0.5 0.2M416.7 212.2l-0.0 0.0M431.7 206.3l0.0 0.0M454.4 189.3l-0.0 0.1M474.9 210.8l0.4 0.6M409.0 158.6l0.2 0.6M461.0 145.1l-0.0 0.0M491.8 176.1l-0.3 0.3M501.1 215.2l0.6 0.2M460.7 132.8l0.1 0.1M398.9 148.9l0.2 0.0M436.8 168.0l-0.2 0.4M501.5 136.0l0.1 0.8M417.4 137.1l-0.0 0.5M451.4 145.6l-0.5 0.2M464.6 141.8l-0.5 0.4M497.5 157.0l0.6 0.2M471.0 148.9l-0.1 0.2M407.7 208.1l-0.2 0.5M406.5 131.6l-0.4 0.3M504.5 155.8l-0.1 0.0M437.6 195.5l-0.1 0.1M454.9 186.3l0.6 0.2M498.9 157.8l0.0 0.0M460.1 149.0l-0.2 0.2M476.0 171.5l-0.1 0.2M405.1 146.3l0.0 0.2M493.0 214.1l-0.4 0.4M392.5 179.1l0.1 0.0M436.6 205.8l-0.0 0.0M448.2 188.7l-0.3 0.7M510.8 211.5l0.7 0.2M492.6 211.6l0.6 0.0M422.7 208.6l0.4 0.2M454.8 170.6l-0.1 0.0M447.2 204.3l-0.0 0.0M491.9 143.8l-0.7 0.3M436.1 159.7l0.6 0.3M495.4 191.2l-0.3 0.1M397.4 196.4l-0.0 0.3M483.8 174.8l-0.1 0.6M407.3 191.9l0.1 0.0M423.2 184.8l0.1 0.5M403.7 198.2l-0.2 0.4M426.3 157.2l-0.1 0.0M512.2 158.8l0.4 0.5M435.3 138.9l0.1 0.2M431.4 160.6l-0.0 0.0M390.7 212.2l-0.3 0.1M425.1 156.4l0.3 0.1M490.8 212.3l0.3 0.3M406.6 180.7l0.1 0.3M471.4 198.5l0.7 0.1M504.8 195.5l-0.1 0.1M504.6 182.2l-0.0 0.2M467.5 153.5l-0.7 0.2M469.1 192.9l-0.5 0.2M407.2 193.0l0.5 0.4M421.8 213.7l-0.5 0.3M502.1 149.1l-0.6 0.2M492.6 199.0l-0.5 0.4M445.4 213.5l0.2 0.6M484.0 145.3l0.6 0.4M469.6 154.2l-0.3 0.3M473.5 169.6l-0.6 0.2M398.7 197.5l-0.0 0.0M428.4 201.3l0.0 0.1M448.5 138.2l0.2 0.1M385.6 169.0l-0.5 0.3M476.7 202.4l-0.3 0.0M458.1 186.7l0.4 0.3M437.0 146.2l0.4 0.7M437.2 185.7l-0.1 0.2M405.7 211.4l0.3 0.0M501.9 174.1l-0.2 0.3M461.3 141.2l-0.2 0.1M476.9 214.7l0.6 0.2M391.1 140.7l-0.2 0.6M467.9 146.2l-0.2 0.1M443.2 213.3l0.1 0.2M422.2 148.9l-0.2 0.1M389.7 131.8l-0.3 0.3M449.7 147.3l-0.5 0.5M512.6 151.4l-0.2 0.2M449.1 152.7l0.6 0.2M416.4 129.3l0.2 0.1M398.7 181.5l0.2 0.2M459.5 210.1l0.2 0.1M431.4 175.9l-0.0 0.0M477.1 138.5l-0.4 0.1M432.7 165.7l-0.0 0.4M452.4 155.2l-0.1 0.6M446.4 196.7l-0.2 0.2M460.0 196.6l0.3 0.5M496.7 165.8l0.2 0.0M467.9 206.6l-0.3 0.5M462.3 164.3l-0.5 0.4M507.5 205.0l-0.2 0.5M432.6 189.0l-0.4 0.6M438.0 162.1l-0.0 0.4M396.3 190.2l0.1 0.5M479.4 135.9l-0.7 0.1M500.5 153.6l-0.3 0.5M394.1 139.6l-0.6 0.2M504.9 183.1l0.0 0.5M505.9 158.9l0.6 0.3M387.6 190.8l0.3 0.6M492.8 139.9l0.1 0.4M390.7 202.5l0.0 0.3M432.5 142.7l-0.7 0.3M493.3 138.7l-0.1 0.0M429.7 195.9l-0.1 0.1M397.4 179.4l-0.4 0.1M426.0 151.0l-0.2 0.4M460.8 174.2l-0.1 0.6M428.6 163.6l-0.0 0.4M470.6 164.7l-0.0 0.4M512.0 144.0l0.2 0.6M485.8 130.0l-0.1 0.6M387.8 200.5l0.5 0.5M507.5 175.3l-0.2 0.5M475.6 148.7l-0.3 0.2M494.5 192.6l0.2 0.7M445.3 165.3l0.1 0.0M395.3 181.4l-0.0 0.0M512.6 181.0l0.4 0.1M434.9 154.0l-0.8 0.1M489.2 209.7l-0.1 0.1M390.7 140.1l-0.2 0.6M477.6 148.8l0.0 0.0M417.5 183.9l0.1 0.0M428.0 191.8l0.4 0.0M426.0 137.3l0.5 0.2M430.2 167.0l-0.1 0.1M425.3 154.1l-0.7 0.1M445.6 140.5l-0.3 0.4M499.1 191.7l0.0 0.0M423.2 151.2l-0.3 0.6M503.7 132.5l0.1 0.5M483.8 194.8l0.1 0.1M496.2 164.9l-0.0 0.0M492.5 159.5l-0.0 0.0M477.2 154.6l0.3 0.2M511.1 181.3l0.0 0.0M487.5 171.7l0.2 0.7M507.4 214.6l0.3 0.0M499.0 196.0l0.5 0.5M503.5 213.0l-0.0 0.0M393.1 208.0l0.1 0.3M479.1 181.4l0.2 0.3M436.2 213.8l0.3 0.2M443.2 205.5l-0.3 0.5M442.1 154.9l0.5 0.6M403.2 200.9l0.2 0.0M416.2 213.6l-0.2 0.3M510.4 138.5l-0.3 0.3M452.8 153.3l0.0 0.1M390.1 187.6l-0.1 0.0M444.3 184.9l-0.1 0.1M433.3 167.5l-0.1 0.0M490.9 197.7l0.3 0.4M436.2 136.4l0.0 0.1M468.8 198.7l0.3 0.1M497.2 181.7l-0.0 0.0M460.8 213.4l0.5 0.4M423.1 197.2l0.1 0.4M475.3 174.7l-0.3 0.1M407.0 163.2l-0.1 0.3M463.9 130.1l0.7 0.1M444.8 145.9l-0.0 0.0M395.5 167.9l0.1 0.2M395.3 170.5l0.3 0.5M502.5 196.8l0.4 0.1M404.1 157.5l-0.0 0.0M400.2 217.0l0.4 0.7M387.0 151.0l0.5 0.3M411.4 139.1l-0.6 0.2M442.3 189.7l-0.6 0.1M496.8 144.4l-0.0 0.0M499.8 214.8l-0.3 0.4M413.8 207.2l-0.4 0.7M509.1 144.9l0.0 0.0M480.5 133.8l0.0 0.1M462.2 148.0l0.3 0.1M402.2 188.5l0.5 0.4M393.2 142.3l0.2 0.7M507.0 138.0l-0.1 0.6M451.5 164.1l-0.0 0.0M465.8 131.2l-0.7 0.2M493.2 167.2l0.2 0.3M450.4 164.5l0.3 0.6M408.1 154.0l0.2 0.3M440.7 183.7l0.2 0.7M462.5 151.2l-0.5 0.0M498.2 151.2l0.2 0.3M463.3 155.8l-0.2 0.0M451.7 189.7l-0.6 0.1M438.4 197.9l-0.1 0.2M386.3 207.7l0.1 0.4M420.0 215.2l-0.1 0.0M453.5 139.0l0.1 0.3M497.5 215.1l0.1 0.1M417.1 165.3l0.3 0.0M428.3 173.4l-0.1 0.3M434.3 132.9l-0.0 0.1M413.1 171.1l-0.2 0.3M453.0 182.6l0.1 0.1M474.3 180.4l0.2 0.5M402.5 165.1l0.3 0.0M472.2 172.9l-0.0 0.0M459.3 178.6l0.1 0.5M415.1 181.7l-0.0 0.0M392.8 153.3l-0.0 0.7M464.6 203.5l0.2 0.5M508.1 198.9l0.3 0.1M413.7 203.7l-0.1 0.1M460.9 193.2l-0.5 0.5M492.1 205.6l-0.1 0.5M463.8 144.8l0.4 0.5M428.8 154.3l0.3 0.6M431.8 132.6l-0.2 0.5M480.8 183.9l0.1 0.0M447.8 216.1l-0.4 0.2M412.7 195.8l-0.0 0.0M389.4 193.3l-0.6 0.2M422.6 140.8l0.3 0.2M506.3 160.8l-0.0 0.1M402.3 169.4l0.1 0.2M470.9 147.5l0.2 0.2M473.4 161.7l0.7 0.3M458.0 159.9l0.0 0.0M460.9 134.1l-0.4 0.3M426.3 193.2l0.2 0.3M470.2 144.6l0.1 0.4M482.9 215.7l0.3 0.5M397.2 169.4l0.0 0.3M451.3 155.3l0.4 0.2M437.2 204.4l-0.7 0.2M416.3 161.2l0.2 0.2M414.7 149.9l0.8 0.2M476.6 151.0l-0.3 0.2M457.5 187.2l-0.1 0.0M484.8 163.4l0.3 0.0M477.4 159.3l-0.0 0.1M477.6 185.2l0.2 0.0M396.2 204.1l-0.1 0.5M397.5 142.5l-0.0 0.0M407.6 182.8l-0.0 0.4M466.6 199.5l0.2 0.4M401.9 207.8l-0.0 0.0M419.5 137.6l-0.0 0.1M458.9 162.1l0.0 0.0M409.5 181.1l0.3 0.1M430.3 174.1l-0.7 0.1M463.5 215.5l0.5 0.2M488.6 130.5l-0.5 0.1M506.1 149.9l0.5 0.3M405.4 179.9l0.1 0.1M410.1 206.7l0.1 0.0M436.1 148.3l-0.0 0.6M504.3 188.2l0.1 0.2M440.8 154.5l-0.1 0.3M496.5 197.4l-0.3 0.7M499.6 153.1l-0.7 0.3M483.9 209.3l0.7 0.1M469.0 145.4l-0.5 0.5M460.3 212.5l-0.3 0.4M492.3 214.2l-0.4 0.2M473.3 150.8l0.1 0.0M432.7 197.6l-0.3 0.6M421.5 156.8l-0.1 0.0M499.7 201.3l0.3 0.6M505.7 180.0l-0.1 0.1M506.7 132.6l-0.3 0.5M478.0 150.4l-0.1 0.2M418.8 195.3l-0.1 0.1M487.5 179.7l0.0 0.3M465.9 180.8l0.7 0.3M495.1 186.1l-0.2 0.7M460.9 189.9l0.0 0.1M504.4 212.1l-0.4 0.4M396.5 196.9l-0.2 0.1M427.9 133.5l0.0 0.7M490.6 171.3l-0.5 0.1M405.8 163.7l-0.4 0.3M407.3 147.3l-0.2 0.4M414.7 147.7l0.6 0.3M485.8 200.2l-0.0 0.0M394.7 191.6l-0.3 0.6M483.8 166.5l-0.3 0.7M390.7 183.6l-0.0 0.4M469.0 164.8l0.5 0.3M505.7 171.4l-0.6 0.3M456.4 205.4l0.1 0.3M447.7 169.6l0.1 0.0M462.7 147.6l-0.0 0.3M437.8 160.5l-0.0 0.0M400.3 130.1l0.4 0.2M437.1 210.4l0.2 0.2M505.3 172.5l0.2 0.4M507.2 201.9l0.2 0.6M509.7 159.1l0.3 0.6M437.1 135.5l0.3 0.5M411.7 178.6l0.3 0.1M469.7 135.7l-0.0 0.2M441.1 188.9l0.4 0.0M454.9 215.5l-0.1 0.7M497.9 205.5l-0.0 0.1M420.7 137.0l0.3 0.1M476.4 191.1l-0.1 0.1M402.5 131.8l-0.0 0.2M480.3 195.6l0.1 0.2M449.5 204.7l-0.6 0.2M476.0 187.7l0.6 0.0M386.7 130.7l0.2 0.2M483.0 190.7l0.6 0.5M387.8 175.4l-0.1 0.0M466.7 153.2l-0.0 0.0M480.0 180.4l0.0 0.1M401.3 162.3l0.1 0.3M416.4 169.5l0.3 0.4M434.2 130.9l0.0 0.0M436.8 170.0l0.3 0.4M478.6 169.6l-0.2 0.7M385.4 151.8l0.4 0.1M490.5 182.0l-0.2 0.2M505.4 189.4l-0.1 0.1M412.1 191.1l0.4 0.4M455.5 214.8l0.0 0.4M428.9 207.0l0.1 0.0M506.6 213.7l0.1 0.1M435.8 149.3l0.1 0.5M441.3 178.6l0.2 0.5M436.7 153.5l0.1 0.4M469.4 217.0l0.2 0.4M407.2 197.2l-0.3 0.3M415.7 140.1l0.1 0.2M495.2 166.7l-0.6 0.2M453.8 137.3l-0.2 0.2M512.9 184.9l-0.2 0.3M393.3 139.6l0.0 0.2M385.1 203.0l0.1 0.5M511.2 192.5l0.1 0.3M423.1 161.9l0.1 0.0M426.3 158.9l-0.1 0.1M494.1 148.2l0.5 0.0M419.6 148.5l-0.1 0.2M407.2 197.3l-0.6 0.4M418.6 163.3l0.0 0.2M421.5 173.0l0.4 0.1M435.3 215.8l0.0 0.0M458.8 183.8l-0.5 0.2M412.4 156.9l0.4 0.4M455.4 166.1l-0.5 0.4M436.7 143.5l0.2 0.2M427.3 147.9l0.5 0.1M443.2 177.6l-0.7 0.1M434.2 159.5l-0.2 0.2M414.0 182.0l0.3 0.3M480.7 153.0l0.3 0.0M398.5 188.7l0.1 0.0M478.5 212.7l-0.0 0.0M425.0 156.0l-0.2 0.2M493.5 179.2l0.3 0.1M406.6 198.7l0.5 0.1M417.1 207.2l0.0 0.0M470.3 143.0l0.6 0.3M494.6 200.0l-0.5 0.3M433.3 207.3l0.5 0.5M498.2 210.0l0.3 0.7M454.9 161.0l0.4 0.3M492.0 186.3l0.0 0.0M506.0 189.9l0.6 0.2M481.2 131.6l0.7 0.3M469.6 208.3l0.1 0.1M476.8 192.1l0.1 0.3M432.7 187.9l-0.0 0.0M464.8 215.5l0.1 0.1M408.0 197.0l-0.0 0.0M411.0 188.9l0.3 0.4M487.9 216.7l0.5 0.4M415.6 179.2l0.1 0.1M436.4 131.6l-0.2 0.6M430.9 188.3l0.4 0.1M494.0 180.0l0.1 0.2M470.1 204.9l0.2 0.7M431.5 129.4l0.4 0.3M461.5 193.3l0.5 0.6M464.7 204.2l-0.1 0.1M388.7 173.8l0.4 0.4M462.5 211.4l-0.6 0.3M463.3 145.7l0.7 0.1M409.9 169.0l0.2 0.5M484.4 212.1l-0.2 0.5M396.9 153.9l0.6 0.1M465.9 212.7l0.0 0.3M461.4 210.7l-0.3 0.3M413.1 129.5l0.1 0.6M508.6 165.1l0.0 0.0M486.1 199.8l-0.2 0.2M473.5 191.3l-0.3 0.4M503.8 196.7l0.1 0.4M507.0 177.5l-0.1 0.0M438.0 132.4l0.2 0.0M481.2 136.8l0.6 0.2M445.7 160.6l-0.3 0.0M416.6 200.3l-0.3 0.2M470.1 161.8l0.0 0.0M495.5 136.1l-0.2 0.6M512.6 147.4l-0.0 0.0M511.3 195.5l-0.1 0.1M494.1 177.6l0.2 0.1M464.2 136.5l0.6 0.5M511.9 187.2l-0.6 0.2M413.6 178.6l0.1 0.1M507.5 167.3l-0.6 0.4M421.6 134.2l-0.2 0.4M438.3 131.7l0.0 0.0M451.7 216.4l0.2 0.1M402.8 179.8l-0.7 0.0M388.5 217.0l-0.3 0.3M417.5 175.3l0.7 0.1M433.1 167.9l-0.3 0.6M505.9 198.8l-0.6 0.1M486.0 172.2l0.6 0.3M484.4 134.3l-0.3 0.6M505.0 184.9l0.2 0.4M428.6 135.1l0.1 0.4M447.4 197.0l0.1 0.1M447.2 167.2l0.8 0.1M462.7 210.9l-0.4 0.1M422.8 134.6l0.1 0.1M437.4 176.1l-0.6 0.2M463.3 172.9l-0.7 0.3M475.7 183.6l0.2 0.1M498.6 189.2l0.3 0.5M401.5 133.2l-0.1 0.7M449.7 215.1l0.1 0.1M419.0 164.5l-0.4 0.0M407.8 196.8l-0.7 0.2M406.4 193.8l-0.5 0.2M386.1 133.0l-0.0 0.0M451.7 176.6l0.2 0.1M387.2 173.1l-0.2 0.1M420.8 129.2l0.2 0.6M425.9 205.2l0.5 0.0M390.0 139.7l-0.5 0.5M478.8 173.3l-0.2 0.0M438.4 169.5l-0.4 0.0M440.4 194.3l0.5 0.1M506.6 212.3l0.1 0.4M443.2 169.0l0.2 0.2M386.5 143.3l-0.1 0.3M392.5 149.7l-0.0 0.0M428.0 170.8l0.2 0.3M387.0 193.6l0.0 0.1M467.5 200.6l0.5 0.1M417.9 180.1l-0.4 0.3M477.8 138.3l-0.4 0.1M419.0 157.0l-0.0 0.2M392.7 170.5l-0.1 0.0M447.0 174.0l-0.6 0.3M419.0 142.6l0.0 0.0M408.0 194.0l-0.1 0.2M498.0 176.6l0.5 0.6M497.3 195.0l0.2 0.2M396.7 191.6l-0.1 0.3M386.9 163.8l0.1 0.3M489.1 163.6l0.0 0.1M390.2 155.0l-0.4 0.6M469.7 189.5l-0.2 0.3M486.2 186.6l0.4 0.3M477.4 164.7l0.5 0.5M474.4 179.1l-0.4 0.0M458.3 191.8l-0.6 0.3M428.5 187.7l-0.3 0.4M418.7 169.3l0.2 0.7M406.5 139.7l-0.2 0.0M449.5 203.2l0.6 0.4M471.4 176.3l-0.5 0.2M471.3 153.0l-0.1 0.2M479.4 193.0l0.1 0.3M480.3 165.0l0.1 0.3M484.6 211.3l0.4 0.2M430.6 146.2l0.6 0.5M478.5 216.1l0.0 0.0M450.4 214.9l0.2 0.0M473.0 144.1l0.1 0.2M385.4 165.7l-0.0 0.2M450.9 171.4l-0.3 0.0M489.3 204.5l0.8 0.1M453.3 152.4l0.0 0.4M428.3 194.2l0.3 0.1M470.9 163.4l0.3 0.5M446.0 180.4l0.0 0.1M405.2 163.0l0.2 0.0M466.9 174.3l0.0 0.2M390.7 157.7l0.3 0.0M464.6 174.9l0.5 0.1M494.6 133.9l0.1 0.0M448.5 140.9l-0.1 0.2M483.2 166.4l-0.2 0.1M496.1 182.9l0.4 0.6M388.9 188.8l0.6 0.1M398.0 142.6l0.6 0.2M446.4 173.5l-0.1 0.6M423.0 151.5l-0.3 0.1M416.4 173.9l-0.1 0.1M419.9 188.2l0.0 0.0M416.4 139.7l0.3 0.3M389.5 187.1l0.2 0.6M391.8 131.7l0.1 0.7M483.9 216.2l0.6 0.5M390.1 193.8l-0.1 0.1M393.3 199.4l-0.3 0.4M502.5 150.0l0.7 0.2M410.6 146.3l-0.3 0.2M407.7 178.0l-0.0 0.1M505.4 138.1l0.5 0.2M390.5 170.7l0.3 0.4M400.9 150.3l-0.6 0.1M452.9 191.0l0.3 0.2M472.8 137.5l-0.0 0.1M422.8 184.2l-0.8 0.0M488.5 132.6l-0.2 0.1M478.0 145.0l-0.1 0.1M494.0 180.0l0.5 0.0M466.2 199.0l-0.3 0.5M417.2 207.4l0.1 0.1M499.1 132.1l0.7 0.1M447.5 177.0l-0.0 0.4M414.2 180.4l-0.1 0.1M407.4 138.8l-0.0 0.2M408.2 215.3l-0.2 0.1M500.4 170.7l-0.0 0.2M425.8 217.0l0.1 0.0M492.2 181.5l0.1 0.8M511.3 149.9l0.1 0.2M425.9 182.1l0.1 0.1M457.8 202.9l0.1 0.2M461.6 170.3l-0.1 0.5M461.4 205.7l0.2 0.1M397.4 206.2l0.5 0.1M467.0 169.1l0.4 0.2M431.7 182.7l0.1 0.0M472.4 209.9l-0.1 0.5M506.6 153.4l-0.6 0.2M388.6 196.5l-0.1 0.2M496.6 183.1l0.0 0.4M507.0 146.4l0.2 0.3M419.0 129.0l0.7 0.3M465.8 181.1l0.1 0.4M504.4 146.9l-0.1 0.1M411.6 164.1l-0.1 0.5M392.1 154.9l-0.0 0.0M457.8 215.7l-0.0 0.1M455.7 155.1l-0.3 0.3M429.1 129.0l0.0 0.0M409.9 208.5l0.3 0.7M413.7 148.8l0.0 0.1M451.3 135.7l0.7 0.1M431.0 190.9l-0.2 0.3M438.0 190.9l0.1 0.1M463.5 206.0l0.1 0.1M423.7 181.6l-0.2 0.2M402.8 156.4l0.1 0.0M442.3 188.9l-0.4 0.4M480.0 129.4l0.1 0.3M468.9 175.3l0.5 0.1M401.3 191.0l0.4 0.3M451.2 204.3l-0.7 0.2M454.4 202.4l-0.1 0.2M472.3 145.0l-0.0 0.0M506.1 147.7l0.0 0.1M453.9 169.8l-0.1 0.1M506.8 160.5l0.0 0.0M388.8 130.2l0.0 0.7M500.1 216.1l-0.1 0.2M489.3 163.7l-0.0 0.1M449.0 188.3l0.4 0.0M472.8 131.4l-0.3 0.5M417.2 147.6l-0.3 0.7M414.6 196.4l0.5 0.1M427.4 207.9l-0.2 0.2M431.2 194.8l0.2 0.2M440.4 172.1l0.2 0.4M437.6 203.0l-0.0 0.3M431.0 202.8l0.0 0.0M459.6 156.1l-0.0 0.0M431.3 134.9l0.4 0.1M395.0 130.6l0.1 0.4M457.8 183.2l-0.7 0.3M445.0 134.2l0.3 0.2M415.3 216.2l-0.1 0.3M439.9 161.4l0.5 0.1M421.1 147.7l0.5 0.3M446.7 194.4l0.4 0.0M437.9 182.7l0.0 0.1M509.3 211.0l0.1 0.2M437.8 158.0l0.1 0.3M433.2 215.5l0.4 0.0M388.9 201.8l-0.2 0.1M489.1 142.0l-0.5 0.6M405.0 143.1l-0.4 0.2M480.8 196.8l-0.3 0.1M465.2 176.8l0.1 0.3M467.3 188.4l-0.6 0.3M447.8 133.5l0.1 0.2M440.4 139.7l0.4 0.5M410.3 183.1l-0.3 0.1M427.4 132.9l-0.4 0.5M483.6 139.0l-0.1 0.0M489.2 170.9l-0.0 0.4M496.3 160.4l-0.2 0.4M443.6 214.1l-0.4 0.5M392.6 136.8l0.7 0.1M392.9 167.4l0.6 0.0M391.8 152.9l-0.3 0.5M395.4 183.7l-0.6 0.2M443.2 214.5l-0.1 0.8M461.9 181.0l-0.1 0.7M449.1 189.6l0.0 0.2M430.6 215.6l0.6 0.1M408.6 190.8l0.0 0.3M494.4 216.1l0.2 0.1M427.4 149.5l-0.1 0.1M504.2 141.9l0.4 0.1M423.5 207.7l0.0 0.1M421.4 174.7l-0.1 0.3M487.5 193.7l0.1 0.1M498.4 210.0l-0.1 0.6M406.0 163.9l0.3 0.4M435.8 153.6l0.4 0.5M399.3 200.7l-0.3 0.5M466.7 146.6l-0.1 0.3M431.1 145.9l0.6 0.2M494.2 214.1l0.6 0.5M398.6 183.9l-0.3 0.0M470.8 141.5l-0.0 0.1M425.2 197.0l0.4 0.2M388.8 198.9l-0.4 0.1M406.8 156.3l0.1 0.5M484.7 137.9l0.5 0.0M417.6 159.6l-0.3 0.4M403.4 186.4l0.0 0.1M412.6 134.0l0.4 0.0M402.7 174.3l0.0 0.1M453.4 134.3l-0.5 0.1M510.6 154.0l0.0 0.1M474.1 194.2l0.5 0.2M474.1 178.1l0.4 0.6M461.2 169.3l-0.7 0.3M463.1 186.1l-0.4 0.6M484.1 179.0l0.1 0.5M439.3 165.7l0.4 0.6M443.2 174.8l0.3 0.6M452.0 201.7l-0.1 0.0M474.9 138.3l0.0 0.1M390.5 206.1l-0.2 0.1M445.7 156.5l0.4 0.5M416.7 195.2l0.3 0.3M430.7 211.7l0.1 0.4M459.2 129.8l-0.4 0.2M488.1 193.0l0.2 0.6M500.8 196.6l-0.2 0.0M390.2 198.0l-0.7 0.1M507.5 206.3l0.7 0.1M435.2 201.3l0.3 0.2M456.6 158.5l0.3 0.6M481.2 211.5l0.3 0.0M511.5 215.2l-0.2 0.0M442.2 216.6l0.1 0.3M482.0 210.2l0.2 0.2M400.9 188.8l-0.3 0.4M489.5 170.4l-0.5 0.0M394.6 160.9l0.3 0.1M395.1 142.5l-0.3 0.5M435.6 207.3l0.1 0.2M452.5 203.3l0.7 0.3M393.4 154.7l0.6 0.4M446.9 172.8l-0.5 0.6M413.8 172.1l-0.2 0.3M506.0 191.3l-0.0 0.1M429.8 134.0l0.4 0.1M503.9 213.5l-0.1 0.0M501.3 215.9l0.2 0.2M445.7 151.2l0.1 0.1M486.0 170.8l-0.6 0.4M463.6 176.3l0.0 0.0M393.6 217.0l0.0 0.0M393.4 195.3l-0.5 0.5M443.4 209.5l-0.4 0.0M388.0 214.9l0.1 0.4M430.6 197.2l-0.0 0.1M417.1 192.5l0.3 0.6M395.5 204.9l0.3 0.3M469.4 157.6l-0.6 0.3M497.2 145.8l0.0 0.0M423.8 188.6l-0.2 0.4M447.2 182.4l0.0 0.0M484.6 169.4l0.3 0.2M451.8 188.8l-0.0 0.0M461.9 163.6l0.3 0.6M462.6 193.8l0.0 0.6M436.8 175.4l0.1 0.0M386.0 153.9l0.0 0.1M499.1 181.3l0.4 0.5M411.1 186.2l-0.5 0.4M475.2 180.5l-0.0 0.0M393.0 155.9l0.3 0.4M467.3 208.6l0.4 0.1M494.8 171.4l0.3 0.1M402.9 129.6l0.1 0.1M432.7 205.9l-0.2 0.5M512.9 179.7l0.0 0.6M434.4 149.5l-0.0 0.4M421.6 199.9l0.2 0.5M393.7 168.4l0.1 0.1M429.6 184.4l0.3 0.7M468.1 146.6l0.5 0.4M417.4 208.8l0.1 0.1M448.3 182.8l-0.1 0.1M456.0 188.2l0.2 0.1M496.1 215.2l0.7 0.2M417.2 183.5l-0.5 0.4M491.1 191.6l-0.5 0.3M438.0 205.5l-0.1 0.2M385.9 202.4l-0.6 0.0M480.1 206.5l-0.5 0.1M501.8 175.5l0.1 0.7M490.2 213.9l0.3 0.6M508.9 196.7l0.2 0.1M488.7 175.0l0.6 0.3M402.2 131.9l0.1 0.2M499.8 158.0l-0.3 0.7M392.2 143.9l-0.5 0.6M431.6 211.2l-0.2 0.5M403.5 196.3l0.0 0.1M402.2 149.2l0.0 0.1M409.7 197.4l-0.5 0.4M464.4 183.3l0.5 0.3M489.1 181.0l-0.0 0.1M390.1 160.0l-0.3 0.1M501.3 211.7l0.2 0.3M493.7 185.7l-0.0 0.2M401.4 178.2l-0.0 0.6M413.1 169.5l0.5 0.3M469.3 154.1l0.0 0.0M385.4 213.0l-0.2 0.3M490.9 140.2l-0.2 0.0M466.1 178.8l-0.0 0.2M454.4 215.8l-0.3 0.4M502.9 149.5l0.2 0.0M423.2 182.6l-0.5 0.3M477.6 185.1l-0.0 0.2M457.1 144.0l0.4 0.2M406.2 170.8l-0.1 0.2M502.3 171.8l0.1 0.0M407.6 181.2l-0.1 0.1M425.4 205.2l-0.5 0.3M469.8 215.6l-0.1 0.1M447.3 213.9l0.5 0.5M482.3 187.5l0.0 0.0M466.8 199.5l-0.0 0.2M500.0 179.9l0.5 0.4M466.4 189.1l0.1 0.2M432.7 187.7l-0.1 0.3M408.2 160.0l-0.0 0.1M407.7 205.4l0.2 0.3M396.3 175.3l0.0 0.0M452.3 171.3l-0.1 0.3M414.9 205.8l-0.1 0.0M499.1 191.7l-0.4 0.2M413.6 205.9l-0.1 0.1M422.8 144.2l0.3 0.7M441.1 173.7l-0.3 0.1M422.3 171.3l0.1 0.2M464.0 129.4l0.0 0.0M422.2 170.7l0.0 0.0M461.8 215.6l0.3 0.1M412.1 177.2l-0.0 0.7M402.7 169.0l0.5 0.1M418.8 184.9l-0.1 0.2M509.3 198.1l-0.6 0.2M417.5 163.3l-0.0 0.6M455.6 212.0l-0.0 0.0M496.6 185.3l-0.6 0.1M442.9 170.9l0.3 0.2M492.6 165.0l0.3 0.7M408.6 136.5l0.5 0.2M468.6 206.3l-0.3 0.7M387.4 143.7l-0.2 0.2M484.7 136.5l0.1 0.1M416.5 145.2l0.3 0.4M510.1 200.4l-0.0 0.0M424.7 176.1l-0.6 0.5M395.3 184.7l0.0 0.5M436.2 136.3l0.5 0.5M407.9 212.6l-0.4 0.0M403.8 208.7l0.1 0.2M400.5 161.8l-0.6 0.4M401.3 190.8l0.4 0.5M415.2 207.8l0.1 0.1M398.1 158.5l-0.5 0.1M465.2 164.8l-0.3 0.1M497.1 142.9l-0.1 0.3M478.6 141.6l0.5 0.1M391.1 152.5l-0.4 0.5M480.9 150.2l-0.2 0.0M483.7 194.5l0.2 0.1M453.0 212.0l0.1 0.2M508.7 214.8l0.7 0.2M474.1 175.0l0.1 0.2M420.6 149.4l0.0 0.0M418.0 140.9l0.0 0.1M439.3 155.5l0.3 0.2M479.2 152.5l0.1 0.2M439.8 146.0l0.2 0.2M428.0 196.0l0.2 0.6M411.0 183.3l0.0 0.1M459.0 157.1l0.1 0.6M423.5 181.1l-0.7 0.2M391.8 188.5l-0.3 0.6M484.9 134.7l-0.4 0.1M498.5 209.5l0.1 0.0M394.9 204.0l0.1 0.2M401.4 146.8l-0.1 0.2M465.1 192.6l0.2 0.1M428.6 168.7l-0.1 0.4M471.9 171.8l0.1 0.4M447.9 134.3l-0.2 0.2M509.0 179.7l0.7 0.4M505.6 180.6l0.8 0.0M497.3 167.8l-0.0 0.7M388.5 140.4l0.6 0.2M409.3 211.6l0.1 0.2M508.6 168.4l0.4 0.3M444.1 187.2l0.3 0.2M406.2 144.4l0.6 0.4M417.5 136.6l0.2 0.3M473.9 192.7l-0.1 0.4M455.8 168.8l0.0 0.0M426.4 188.2l0.3 0.0M511.9 166.0l0.3 0.3M390.0 143.1l-0.1 0.5M432.1 164.8l0.1 0.0M442.5 194.4l0.5 0.3M491.0 211.4l0.7 0.3M391.5 176.1l-0.2 0.3M417.7 184.8l0.1 0.0M487.0 159.3l0.1 0.7M448.0 171.2l-0.4 0.1M446.6 165.7l-0.0 0.1M512.3 134.6l0.6 0.4M471.4 216.4l-0.4 0.5M431.5 197.5l0.0 0.0M422.9 167.9l-0.7 0.3M512.2 171.7l-0.2 0.7M409.2 135.2l0.2 0.4M425.4 140.0l-0.0 0.4M499.2 212.2l-0.0 0.0M399.9 165.6l0.3 0.1M435.8 209.5l-0.7 0.1M430.2 147.2l0.0 0.5M388.8 134.6l0.2 0.2M419.3 185.0l-0.1 0.2M399.3 177.9l-0.2 0.6M419.0 157.0l-0.0 0.1M419.2 183.4l-0.1 0.7M437.8 163.0l0.7 0.2M500.3 134.0l-0.4 0.0M431.9 163.0l0.4 0.2M453.1 189.8l0.0 0.1M484.3 172.5l-0.2 0.6M431.0 211.4l-0.5 0.5M445.5 162.0l0.6 0.3M495.9 181.2l-0.3 0.2M509.1 136.4l-0.6 0.1M396.9 192.3l-0.3 0.6M405.8 142.1l0.1 0.5M434.6 211.6l0.1 0.3M427.0 158.2l-0.5 0.3M392.5 141.3l0.1 0.3M406.7 172.8l0.1 0.7M446.5 133.1l0.7 0.1M504.0 186.6l-0.1 0.2M460.3 131.6l-0.5 0.1M505.7 187.7l-0.7 0.1M437.9 145.0l-0.1 0.1M398.0 174.7l-0.6 0.2M492.7 209.1l-0.1 0.0M435.2 155.0l-0.1 0.3M429.9 183.8l0.4 0.0M489.5 140.0l0.5 0.2M471.0 166.2l-0.6 0.2M405.8 185.8l0.1 0.5M405.4 182.6l-0.6 0.1M399.8 155.6l0.6 0.1M492.5 178.9l0.1 0.0M490.1 178.8l0.0 0.1M426.5 181.5l-0.3 0.0M392.1 194.1l0.2 0.1M506.6 208.1l0.5 0.1M431.1 167.9l-0.1 0.1M427.7 134.0l-0.1 0.2M394.0 130.8l-0.1 0.3M458.9 167.4l0.4 0.1M446.3 152.7l0.0 0.1M487.0 198.8l0.1 0.4M421.4 159.9l-0.4 0.6M397.1 216.6l0.4 0.4M470.4 156.1l-0.6 0.4M467.0 196.5l-0.7 0.2M399.6 132.3l0.1 0.0M392.7 176.3l0.0 0.1M404.5 151.7l-0.5 0.0M476.8 209.1l-0.2 0.0M497.6 182.7l-0.1 0.1M467.9 183.9l-0.1 0.1M395.8 169.4l-0.2 0.0M510.4 148.7l-0.2 0.5M417.4 149.7l0.4 0.7M482.7 145.8l-0.1 0.0M484.7 190.5l0.2 0.1M512.3 213.3l0.5 0.4M428.4 172.5l-0.1 0.1M423.4 213.8l0.2 0.2M487.1 205.2l-0.0 0.0M396.5 202.4l0.0 0.4M446.8 211.1l0.3 0.3M498.9 188.9l-0.1 0.0M410.8 129.1l0.3 0.3M418.3 214.2l-0.1 0.7M477.0 148.0l-0.2 0.7M484.2 157.8l-0.7 0.1M488.6 168.4l0.3 0.6M447.9 167.6l0.1 0.0M403.4 192.0l0.2 0.2M390.7 185.3l-0.7 0.1M505.7 201.3l0.2 0.1M410.3 216.7l0.3 0.3M443.8 202.0l-0.4 0.7M431.7 187.7l-0.0 0.0M476.8 164.4l0.0 0.3M442.7 215.3l-0.0 0.0M425.4 182.1l0.2 0.3M443.0 175.1l0.2 0.1M478.3 172.4l-0.7 0.3M403.4 215.2l0.1 0.3M498.3 202.6l0.4 0.6M402.4 199.9l-0.0 0.1M474.5 208.9l0.5 0.5M409.8 180.9l-0.2 0.3M474.3 206.1l-0.4 0.6M415.3 195.8l0.0 0.1M490.3 129.1l0.0 0.1M446.7 206.4l0.1 0.7M444.0 185.2l0.1 0.1M454.5 149.0l-0.1 0.1M431.2 181.9l0.0 0.1M471.3 154.5l-0.7 0.1M403.4 133.6l0.2 0.1M443.6 187.3l-0.0 0.4M488.5 209.2l0.3 0.1M431.7 204.3l-0.4 0.1M435.8 180.4l-0.4 0.6M437.8 150.5l-0.5 0.1M455.6 129.8l-0.0 0.0M393.5 165.6l-0.6 0.3M500.5 185.1l0.0 0.3M407.3 177.6l0.1 0.3M496.5 196.5l-0.7 0.0M454.8 203.4l-0.3 0.0M397.5 163.8l-0.4 0.4M487.6 178.5l0.2 0.1M416.4 140.0l-0.2 0.1M467.0 214.1l0.5 0.5M466.4 155.6l0.0 0.3M432.0 129.5l-0.5 0.5M444.8 210.5l-0.2 0.1M412.9 151.7l0.0 0.6M468.0 140.5l-0.5 0.6M405.0 139.6l0.0 0.2M461.5 143.8l-0.2 0.1M389.4 214.0l0.1 0.5M488.9 213.2l-0.3 0.1M470.1 137.7l-0.1 0.6M476.7 131.0l-0.0 0.4M481.3 167.7l0.3 0.0M508.1 166.2l0.4 0.3M506.3 140.9l0.1 0.2M486.1 146.0l0.1 0.2M449.2 154.1l-0.5 0.4M508.0 170.2l0.2 0.3M424.4 129.5l0.4 0.2M407.8 145.3l-0.1 0.4M509.7 163.2l0.3 0.4M392.3 185.8l0.4 0.4M474.9 162.5l-0.0 0.0M491.8 155.1l-0.6 0.0M402.9 171.2l-0.8 0.1M426.5 143.4l0.2 0.1M409.8 185.6l0.6 0.2M452.2 210.3l-0.1 0.3M421.2 207.2l-0.4 0.2M410.2 161.8l0.6 0.0M476.9 160.8l-0.0 0.0M461.3 192.9l0.7 0.2M432.7 207.2l-0.6 0.3M420.2 134.8l-0.1 0.8M425.3 170.5l0.0 0.1M489.2 180.4l0.1 0.5M404.0 171.6l-0.1 0.2M432.3 214.9l0.0 0.7M482.8 198.8l0.1 0.1M493.3 157.7l-0.0 0.2M511.2 131.3l-0.1 0.8M459.7 153.2l-0.3 0.2M449.5 202.2l0.2 0.1M394.7 182.5l0.3 0.3M488.4 206.6l0.7 0.0M477.1 139.9l-0.2 0.3M497.3 151.8l-0.4 0.3M397.9 175.3l0.4 0.1M388.2 154.2l0.3 0.2M484.7 179.9l0.0 0.0M388.5 208.8l-0.1 0.4" fill="none" stroke="#454545" stroke-opacity="0.45" stroke-width="1.0" stroke-linecap="round"/>
<path d="M419.2 208.0Q417.5 208.3 416.2 208.5M410.0 136.9Q409.5 138.8 410.2 139.3M492.9 143.3Q492.1 144.9 490.3 146.3M495.5 136.4Q496.6 136.9 498.8 138.3M479.7 192.6Q480.3 193.6 482.5 194.9M498.5 205.1Q499.8 204.8 502.1 205.6M501.9 206.0Q504.0 205.6 505.7 206.7M449.4 159.8Q450.6 160.5 452.5 160.9M446.3 135.3Q443.9 135.5 442.4 136.2M395.8 191.1Q396.4 193.3 397.6 195.4M428.5 136.2Q429.3 138.8 430.8 140.5M401.7 164.4Q400.6 166.4 400.9 168.7M416.3 197.6Q415.6 197.8 414.2 198.6M405.4 140.3Q404.7 140.5 404.8 142.3M512.6 155.3Q512.2 156.0 511.3 158.0M490.5 147.8Q492.1 149.6 493.2 151.0M453.6 143.9Q453.9 144.4 455.4 145.7M431.3 199.9Q430.6 200.5 430.6 202.4M483.8 178.7Q481.9 179.3 480.0 180.2M405.3 127.9Q404.9 129.0 404.3 130.8M403.9 156.3Q405.8 157.7 407.5 157.6M442.1 166.1Q443.0 168.1 442.6 169.5M418.2 163.0Q418.5 164.3 417.4 165.9M493.9 188.1Q495.2 188.9 496.3 189.0M432.9 150.8Q432.8 152.7 433.1 153.3M392.8 164.8Q393.0 166.2 393.3 167.0M454.1 210.4Q455.1 212.1 457.2 213.4M387.8 202.6Q385.6 202.3 384.9 203.1M452.3 210.5Q449.6 211.4 447.9 211.7M428.2 133.2Q428.1 134.4 426.6 135.9M425.4 163.3Q427.7 164.7 428.5 164.7M487.0 142.1Q487.1 142.9 488.7 144.6M501.2 169.6Q502.0 171.6 501.9 172.0M410.7 161.2Q408.6 163.1 408.1 164.7M403.4 134.3Q402.1 134.6 401.3 135.9M460.9 148.5Q460.0 148.1 458.4 148.8M504.6 178.4Q504.3 179.8 502.9 182.7M404.2 133.0Q406.4 133.6 407.9 135.3M430.6 188.0Q431.2 191.2 430.5 193.0M443.7 149.7Q445.2 149.9 447.0 151.2M505.6 137.1Q504.2 136.9 503.5 138.2M501.4 161.4Q502.1 161.5 503.0 162.7M426.5 143.9Q427.3 144.1 427.9 145.6M464.7 207.6Q466.7 208.1 469.1 209.3M446.0 210.2Q444.4 211.7 443.9 212.9M437.6 135.0Q436.6 136.9 435.0 137.5M460.0 159.4Q458.7 160.2 458.5 162.5M476.5 129.5Q476.5 131.2 474.9 132.0M410.1 162.7Q410.6 164.2 409.7 166.5M401.0 166.7Q403.1 168.0 403.6 169.2M401.4 188.7Q399.7 189.6 399.0 191.3M465.2 194.1Q465.9 194.0 467.9 195.5M463.7 144.0Q461.3 145.1 459.3 146.0M384.7 146.7Q385.9 147.0 385.6 148.8M460.3 159.6Q458.6 160.5 455.4 159.9M406.4 143.1Q407.2 144.5 406.9 145.8M472.1 166.5Q470.0 166.8 469.1 167.1M458.4 149.1Q459.6 150.9 459.9 153.6M404.2 144.2Q401.9 144.7 401.1 146.1M393.1 180.3Q392.7 182.7 392.5 184.6M428.0 134.5Q425.3 135.6 423.6 136.3M480.0 131.7Q478.2 132.8 477.4 133.7M496.1 170.6Q495.3 170.3 493.5 171.1M502.5 207.7Q503.5 208.6 505.3 210.9M387.4 190.3Q389.2 189.9 391.0 190.6M457.5 153.2Q456.4 154.4 455.2 154.4M488.7 147.8Q488.6 148.3 487.2 149.9M393.6 169.0Q393.5 169.9 393.7 172.4M479.1 183.1Q480.2 184.3 481.9 186.7M401.4 131.1Q400.2 132.4 400.2 132.8M474.3 135.0Q476.0 137.2 476.4 139.4M469.2 207.7Q469.8 209.2 469.6 211.3M509.6 175.5Q509.2 178.2 509.5 179.4M402.4 202.3Q404.5 203.5 405.4 204.0M457.0 149.4Q457.4 150.9 457.9 151.9M392.5 147.3Q389.8 148.0 387.8 148.0M489.6 199.1Q489.9 200.2 489.8 201.3M439.2 191.6Q440.7 193.3 441.0 194.3M487.9 147.8Q489.0 149.4 488.7 151.1M414.6 207.1Q415.1 207.7 416.5 208.7M439.2 151.2Q437.2 153.1 436.2 153.9M502.4 132.5Q500.6 134.1 499.4 134.5M509.6 137.8Q508.6 137.6 507.8 138.6M392.2 183.3Q393.3 183.6 394.5 184.0M478.3 131.6Q477.8 133.7 476.2 135.7M416.1 208.6Q414.5 209.1 413.3 210.6M486.6 200.7Q487.4 200.6 488.6 201.1M488.4 141.8Q486.6 143.6 485.2 144.9M406.7 199.8Q404.1 201.0 402.8 201.4M468.4 208.7Q466.0 210.1 465.0 211.9M424.2 172.6Q424.9 174.4 425.5 175.0M460.9 205.6Q461.5 206.9 461.9 207.7M486.3 163.0Q485.8 164.8 486.2 167.7M411.4 171.4Q409.2 172.6 407.9 174.3M413.9 181.9Q413.1 182.7 411.8 182.7M406.9 185.8Q406.2 185.8 405.0 187.1M479.5 149.9Q479.7 151.1 481.4 151.1M478.5 133.2Q478.3 135.0 478.6 136.3M440.0 172.5Q437.6 173.6 435.6 173.8M418.8 206.5Q418.3 207.9 416.4 208.8M399.6 186.6Q402.1 187.0 403.9 186.9M442.0 165.6Q440.1 165.7 437.9 167.5M474.8 210.6Q474.6 211.8 475.7 213.9M492.4 179.6Q492.4 182.5 491.2 184.0M478.9 155.5Q477.4 156.8 475.2 157.4M389.2 135.2Q389.0 135.8 388.2 137.3M393.0 212.5Q394.2 212.9 395.8 212.7M395.1 140.0Q397.3 141.8 398.0 142.3M385.7 138.1Q385.1 138.8 384.9 140.1M410.8 207.8Q410.5 210.8 410.9 212.2M499.5 129.0Q498.7 131.5 497.6 132.7M406.8 200.5Q406.5 202.5 406.6 205.4M457.7 207.4Q459.5 209.1 460.7 209.4M424.3 157.1Q422.9 157.6 423.1 159.5M436.6 200.4Q434.6 201.6 433.9 201.9M396.9 215.7Q395.3 216.0 394.8 217.5M496.8 151.7Q495.6 153.4 495.4 155.8M421.2 166.2Q420.6 166.3 419.0 167.4M454.6 156.9Q455.9 158.5 456.4 158.7M406.6 146.3Q406.7 147.9 406.4 148.5M391.9 162.6Q389.8 162.9 389.2 163.5M454.6 191.8Q454.9 193.1 454.8 194.0M448.5 166.2Q449.4 167.4 451.5 167.4M482.2 151.7Q481.6 152.7 480.6 154.2M478.1 182.7Q479.4 185.4 480.9 186.5M444.6 133.1Q444.8 133.8 443.7 135.2M449.8 146.2Q449.1 146.9 449.7 148.6M481.0 189.6Q482.4 190.1 484.1 191.6M404.2 178.1Q406.1 178.4 407.0 178.6M505.9 151.9Q504.8 153.8 503.7 155.8M454.2 200.2Q454.1 201.6 454.1 202.9M447.0 157.3Q444.6 157.5 443.7 159.1M490.1 215.7Q489.5 215.8 487.3 216.8M489.3 136.2Q491.1 137.2 493.0 139.2M411.8 198.4Q412.4 199.6 413.3 200.5M474.6 192.0Q475.5 192.9 476.1 193.9M473.3 145.7Q472.5 146.4 470.6 147.5M505.0 212.3Q503.8 212.3 501.6 213.6M473.0 164.3Q474.6 165.7 475.7 166.1M501.0 202.7Q500.8 204.6 501.5 205.9M414.6 190.3Q415.7 190.8 416.9 190.8M438.6 206.7Q440.1 206.9 443.1 207.4M443.9 161.2Q444.5 163.0 444.9 165.4M426.7 204.7Q427.5 204.9 428.4 206.4M467.7 165.2Q468.7 166.2 469.7 168.4M391.4 204.5Q389.3 204.6 388.3 204.8M424.1 174.4Q421.3 176.3 419.9 176.9M403.1 214.1Q405.3 214.5 406.2 214.5M452.9 192.5Q452.1 193.6 450.1 193.8M421.1 202.9Q422.1 204.3 422.9 205.5M496.1 205.9Q495.2 207.7 493.6 209.0M463.6 151.1Q464.5 152.6 463.8 154.5M426.4 202.7Q425.0 202.4 422.6 203.3M463.4 133.5Q461.8 135.4 460.3 136.7M437.2 148.2Q438.4 149.8 438.7 152.3M423.8 146.3Q423.1 147.2 424.0 148.5M493.9 166.2Q492.3 167.0 491.6 166.2M503.2 135.1Q504.2 136.9 505.1 138.4M494.4 195.8Q493.5 197.5 493.9 199.0M489.3 151.3Q490.6 152.4 493.3 152.5M433.6 147.6Q435.2 150.1 436.1 151.6M435.3 154.6Q436.4 155.1 437.2 156.7M504.9 145.9Q503.2 147.0 502.5 147.8M416.3 210.7Q415.8 213.1 414.6 214.7M445.2 143.8Q444.9 145.6 445.0 146.8M486.1 195.7Q484.9 196.7 482.7 196.5M433.9 193.9Q435.5 194.2 437.3 195.0M511.4 204.4Q509.8 204.2 508.8 205.1M434.0 182.8Q432.7 183.2 430.7 183.1M406.9 149.1Q406.3 149.5 405.4 151.1M386.4 213.7Q387.5 216.1 387.8 217.6M504.2 212.3Q505.3 213.6 504.9 214.4M508.2 191.9Q507.7 192.7 506.9 194.2M507.4 198.4Q508.8 198.0 509.6 199.0M509.7 134.1Q509.3 137.1 509.1 138.8M468.3 140.6Q466.6 141.4 464.4 142.0M391.5 141.4Q392.9 143.0 393.1 143.5M485.1 148.6Q485.9 150.2 486.2 150.5M507.2 166.4Q504.8 166.8 504.0 167.8M506.2 172.0Q505.0 173.3 504.5 175.7M440.6 166.8Q439.0 167.2 437.5 168.8M398.7 150.0Q397.8 151.1 398.1 152.2M418.1 177.9Q416.0 178.3 415.4 179.2M401.9 176.4Q402.9 177.5 405.4 177.7M465.7 188.0Q465.0 189.8 464.0 192.6M417.0 166.8Q419.2 167.6 420.3 169.1M403.0 164.8Q403.5 166.1 402.9 168.3M392.2 199.8Q391.0 200.5 389.1 200.2M428.8 152.4Q428.7 154.2 428.4 154.7M480.4 128.1Q479.5 129.4 479.8 130.7M406.2 180.6Q407.6 181.7 407.4 184.1M409.2 148.3Q410.0 150.5 411.7 152.2M449.4 155.2Q448.6 157.2 446.8 158.1M511.8 149.4Q510.0 149.5 509.1 150.9M446.5 150.3Q444.9 150.7 444.2 152.1M479.1 181.2Q479.0 182.6 478.0 183.9M494.9 177.2Q493.0 177.7 491.8 179.4M421.6 202.2Q419.8 204.1 418.8 205.5M442.6 151.5Q443.3 152.3 444.8 153.2M448.6 165.0Q448.4 167.0 448.1 168.4M423.7 201.5Q425.1 202.3 427.2 204.6M406.2 172.0Q406.5 173.5 405.5 174.7M481.5 183.4Q481.2 184.7 480.9 187.2M496.4 199.7Q495.3 199.8 494.8 201.6M460.6 170.7Q461.2 173.4 462.3 175.3M460.1 179.0Q460.5 180.2 461.2 183.0M450.2 213.0Q449.9 213.0 448.1 214.2M395.5 183.7Q395.6 185.4 394.7 187.4M409.7 144.6Q409.7 145.3 410.1 147.0M450.6 214.3Q450.3 215.9 449.0 216.2M486.1 167.9Q485.9 170.4 485.7 171.9M392.2 211.5Q390.7 213.5 389.0 214.1M444.6 173.3Q444.9 175.9 443.9 177.1M399.3 159.4Q397.0 159.5 394.5 160.6M506.6 138.2Q508.4 138.3 510.4 138.7M387.0 192.4Q387.9 193.2 389.2 194.8M388.2 180.4Q388.7 181.9 390.7 182.6M508.6 210.1Q508.4 211.7 509.0 214.0M389.7 209.6Q391.0 210.8 392.1 211.5M417.2 176.6Q419.1 176.5 420.0 177.3M451.6 164.4Q453.1 165.0 453.2 166.2M485.6 175.0Q483.8 175.5 481.4 177.3M427.2 164.9Q429.3 166.5 430.7 167.9M507.3 181.5Q508.4 183.2 510.8 184.0M435.1 155.4Q433.4 156.3 431.7 158.0M505.8 161.3Q504.8 163.8 502.4 164.8M412.8 195.2Q413.6 196.9 414.3 199.1M450.2 179.9Q450.4 180.4 452.1 181.3M453.9 172.7Q452.8 174.5 452.2 177.2M452.0 147.3Q450.5 147.2 449.5 147.7M409.8 148.6Q410.3 149.9 409.7 151.8M405.2 163.0Q405.2 164.9 406.2 166.3M450.2 195.1Q451.1 195.2 453.5 196.9M420.6 195.2Q422.6 195.7 423.5 196.6M392.4 191.4Q390.2 192.6 389.3 193.1M502.9 182.2Q503.1 184.3 502.5 186.9M477.1 189.1Q476.1 189.8 475.2 190.9M431.5 181.8Q430.8 183.4 430.9 184.0M404.5 136.3Q403.9 137.8 403.3 138.2M386.8 187.3Q388.6 188.0 389.3 188.4M508.8 144.6Q510.4 144.7 510.9 146.0M464.2 188.4Q467.1 189.8 468.9 189.7M454.6 135.7Q455.4 137.2 455.7 138.5M493.0 183.7Q492.1 184.8 492.6 186.8M475.8 135.5Q477.2 137.0 477.3 137.2M485.6 189.6Q483.0 190.2 481.2 191.7M387.8 135.6Q387.3 136.8 386.8 137.4M423.4 193.9Q424.1 194.2 425.5 195.2M475.2 153.9Q474.0 154.5 473.8 155.8M490.4 154.6Q491.6 154.4 492.5 155.3M472.2 138.0Q473.5 139.2 474.4 141.9M463.5 199.0Q463.8 200.8 464.8 202.7M458.9 142.4Q460.1 143.8 461.7 146.0M429.1 202.2Q430.4 203.4 430.5 203.9M416.0 176.8Q414.5 177.2 413.5 176.8M492.8 192.0Q493.3 192.4 494.8 193.1M489.9 180.1Q489.2 182.0 487.9 183.1M489.2 184.3Q488.8 185.7 489.7 188.0M480.7 190.0Q483.1 190.5 484.1 190.9M475.7 162.6Q473.5 163.5 472.1 164.0M443.5 212.0Q444.5 212.4 445.6 214.1M459.8 189.6Q462.5 189.4 464.7 190.1M388.1 147.4Q386.9 149.3 386.4 150.2M497.8 191.6Q495.9 193.0 493.7 193.8M411.8 144.3Q411.3 146.0 411.7 148.7M445.2 157.8Q447.1 157.6 448.7 158.8M500.8 209.2Q500.5 210.4 501.5 211.6M399.7 140.3Q400.5 142.5 400.9 143.7M443.5 144.4Q442.8 146.4 442.2 148.9M466.1 202.7Q468.2 202.4 469.7 203.4M508.4 151.3Q507.5 152.8 507.6 155.1M391.2 177.8Q388.7 178.8 386.7 178.9M420.5 175.7Q420.5 178.7 421.4 180.4M501.6 196.4Q500.0 198.9 499.8 199.9M416.7 177.6Q415.2 179.1 412.6 180.0M388.7 166.5Q387.6 167.6 387.2 168.8M496.2 138.4Q494.5 138.8 492.2 138.6M461.4 166.9Q462.1 169.5 463.5 170.8M415.6 187.8Q414.5 188.9 412.5 190.0M425.1 207.9Q427.6 208.5 429.4 210.2M465.1 130.6Q466.6 130.6 469.1 131.9M456.4 214.0Q456.3 215.6 457.2 218.2M384.1 132.8Q385.9 132.6 386.4 133.4M387.1 127.6Q387.4 130.2 387.5 132.0M415.9 187.8Q416.9 189.0 416.5 190.2M506.2 208.4Q504.4 209.2 503.8 209.1M508.9 134.9Q507.7 135.8 506.3 135.8M454.0 164.6Q456.3 164.4 458.3 165.0M385.1 167.7Q386.7 167.8 389.7 169.3M476.3 210.7Q476.3 212.3 477.0 213.1M423.2 149.8Q421.8 149.6 420.6 150.5M411.1 138.0Q409.9 140.6 410.3 142.3M460.0 211.8Q458.1 212.0 457.4 212.6M462.4 209.9Q461.5 210.5 459.4 212.3M487.7 161.0Q487.8 162.6 488.4 165.8M417.2 137.8Q416.9 139.1 416.6 141.1M485.7 206.2Q486.9 205.9 489.5 206.7M457.7 160.7Q458.5 163.0 458.0 164.2M443.8 132.7Q443.8 134.1 445.0 134.6M484.9 158.0Q482.9 159.4 482.4 159.9M462.8 208.1Q464.0 208.9 464.0 209.9M466.4 196.1Q464.6 196.3 463.7 196.5M428.5 199.3Q427.5 200.0 425.5 201.0M496.2 152.5Q493.7 153.1 491.4 152.7M402.0 210.6Q400.4 211.8 398.9 213.5M511.2 147.3Q510.2 148.4 508.1 149.6M403.4 170.2Q405.6 171.5 406.9 173.6M435.7 144.1Q437.5 143.7 439.2 144.6M423.5 158.0Q423.3 159.5 422.1 159.9M444.5 166.6Q445.1 168.1 446.3 168.6M481.2 198.0Q479.5 198.6 478.1 200.5M472.4 193.4Q474.4 193.4 475.8 195.0M483.6 165.2Q485.5 165.8 485.8 165.9M505.0 211.6Q503.9 212.7 502.8 212.4M481.4 191.7Q482.6 191.6 483.0 193.1M458.0 175.2Q458.4 177.1 457.3 179.0M501.7 193.9Q500.7 195.9 500.9 197.1M392.4 130.6Q391.0 131.8 390.4 131.8M481.3 164.1Q481.4 166.1 480.4 167.5M390.6 184.8Q389.7 185.4 389.3 186.8M421.5 152.3Q423.5 153.2 424.6 155.0M407.4 142.2Q410.0 143.7 411.0 144.9M472.8 196.5Q471.0 198.0 470.4 200.7M441.2 196.9Q440.4 198.5 440.3 200.4M478.2 176.2Q476.4 177.3 475.0 176.8M490.1 209.1Q490.3 210.7 490.6 213.5M437.3 136.0Q436.9 138.1 436.1 140.5M458.4 180.4Q458.6 182.0 460.2 184.3M452.1 211.1Q452.4 212.4 452.0 214.6M435.8 162.2Q438.0 162.7 440.2 163.5M438.5 185.2Q438.2 187.3 438.0 189.3M440.7 168.2Q438.9 169.0 436.0 169.5M485.3 189.4Q483.1 191.5 482.0 192.0M447.4 181.0Q446.9 182.8 446.1 184.6M423.7 206.1Q425.1 207.2 425.6 207.7M461.7 158.7Q460.0 159.3 457.5 159.6M408.8 147.0Q407.9 149.0 408.0 150.9M463.0 184.1Q465.0 185.0 465.9 185.9M429.0 161.4Q428.0 161.8 425.5 161.9M479.5 136.6Q479.0 138.2 477.7 141.1M455.4 135.6Q457.4 136.5 459.1 137.6M484.2 198.7Q485.8 199.5 487.0 201.9M442.5 190.5Q441.1 191.2 438.7 192.1M433.7 207.9Q432.3 209.2 430.7 209.5M455.9 194.5Q455.7 196.3 454.1 196.9M409.9 185.8Q409.3 186.2 407.4 187.3M435.4 177.4Q436.8 178.8 439.2 180.4M436.9 167.6Q438.7 169.2 439.6 169.6M445.8 189.9Q447.0 191.1 446.8 193.2M428.1 146.2Q425.5 148.4 424.6 149.4M473.9 164.4Q475.7 164.7 475.9 165.0M390.0 136.4Q390.4 137.2 392.0 137.5M395.5 205.4Q395.1 208.1 395.8 210.2M461.1 179.5Q460.4 181.5 461.2 182.9M410.7 163.1Q410.9 164.0 410.8 165.8M508.6 155.1Q507.8 155.0 506.8 156.3M482.8 192.6Q480.7 193.8 480.1 194.8M493.4 212.2Q491.9 213.4 491.6 215.0M414.1 155.8Q415.5 155.6 417.3 156.4M488.4 197.8Q486.7 197.2 484.5 198.0M469.9 197.0Q467.5 197.0 466.3 198.6M483.6 210.5Q485.5 210.4 486.3 210.9M454.0 154.2Q453.6 155.9 454.8 158.6M446.3 192.2Q445.9 192.8 445.9 194.4M461.8 147.8Q463.2 150.0 465.5 150.8M409.8 132.2Q411.0 132.7 410.6 134.1M446.3 167.9Q443.9 169.0 441.7 169.1M492.1 194.1Q492.4 196.2 493.8 198.3M434.3 162.1Q432.1 164.3 430.8 165.2M399.1 140.7Q401.1 143.2 401.8 144.7M388.3 144.1Q390.3 144.4 392.9 145.7M449.4 131.6Q449.5 133.7 448.8 136.3M455.3 181.0Q455.0 181.2 453.4 183.0M464.0 151.4Q465.3 151.2 467.1 152.5M474.3 193.7Q471.8 195.0 470.2 195.2M404.2 166.4Q402.7 166.6 402.2 167.6M429.5 174.6Q428.4 176.5 428.6 179.1M503.5 131.9Q503.4 133.4 503.7 135.1M430.6 158.8Q433.6 159.4 435.5 159.0M472.3 170.4Q471.6 173.1 471.3 174.7M435.7 164.3Q435.9 165.3 437.2 166.7M431.8 183.3Q434.6 185.2 435.8 185.9M445.7 156.7Q446.2 158.4 445.7 159.9M494.7 171.6Q496.9 172.5 498.2 172.3M489.5 142.7Q489.3 143.7 488.2 146.1M406.2 170.3Q407.9 172.7 408.8 174.2M432.3 183.7Q431.3 184.7 430.9 186.3M487.2 184.3Q486.4 185.9 486.2 186.9M416.5 136.6Q416.7 138.4 415.3 141.2M407.3 130.5Q408.7 131.5 408.6 133.6M493.6 201.5Q491.2 203.1 489.3 203.9M513.6 157.7Q511.3 157.6 509.5 157.8M444.6 163.2Q443.2 164.4 443.0 166.1M398.1 160.2Q398.3 161.9 397.8 162.2M406.9 179.4Q407.8 178.7 409.3 179.6M385.0 157.2Q386.0 159.0 386.4 161.1M445.0 164.0Q446.1 165.3 447.6 165.3M509.6 196.2Q509.2 197.9 510.3 200.9M422.2 155.5Q420.1 157.6 418.3 158.5M428.3 198.8Q428.5 199.9 428.6 202.2M461.5 202.5Q460.7 203.1 460.4 205.1M392.4 191.2Q391.3 192.4 390.8 192.8M478.3 185.1Q477.2 186.3 476.9 187.8M501.6 147.4Q502.1 149.0 502.4 150.1M507.7 184.2Q507.9 185.9 507.8 186.4M492.2 211.5Q493.8 212.2 494.6 211.8M471.5 149.4Q471.1 150.7 469.3 151.3M436.2 196.5Q436.5 196.5 438.5 197.7M396.2 209.4Q395.7 210.4 396.7 212.6M422.9 172.8Q422.5 173.1 420.4 175.0M425.1 141.1Q423.6 143.2 423.2 144.3M454.7 130.7Q455.7 131.9 455.5 132.9M474.5 140.8Q475.5 141.6 476.4 141.8M470.1 174.4Q471.0 175.7 470.7 176.6M477.0 149.9Q476.3 152.6 475.3 154.5M448.2 129.7Q450.2 130.3 451.4 130.2M401.4 196.9Q403.7 197.5 405.5 198.4M407.2 150.3Q406.7 151.0 405.2 151.4M482.9 166.2Q482.4 166.6 481.8 168.2M389.1 214.1Q387.7 215.7 387.9 217.1M404.1 161.9Q402.3 162.9 400.0 163.1M475.8 127.2Q474.9 128.4 474.1 131.0M505.9 160.2Q506.5 160.7 507.6 162.0M442.1 160.5Q444.4 161.0 445.5 162.9M505.2 163.9Q507.1 164.4 508.3 165.8M416.9 182.3Q418.6 182.4 419.3 183.9M487.6 215.0Q488.9 216.4 490.4 217.7M441.0 215.3Q440.4 216.3 438.6 217.0M473.0 152.6Q471.0 153.3 470.6 154.2M483.7 197.3Q485.2 197.7 486.4 199.5M411.8 148.8Q409.7 148.3 407.5 149.0M447.3 199.7Q445.6 201.8 444.2 203.7M436.7 180.6Q437.8 182.9 437.4 184.8M391.9 129.2Q392.4 132.0 392.6 134.1M506.3 174.5Q505.0 176.1 505.1 178.1M446.6 205.2Q448.2 205.4 449.6 205.6M451.1 162.3Q452.7 162.8 454.1 164.7M450.0 187.6Q448.2 188.8 445.6 189.1M450.9 183.7Q450.2 184.7 448.2 187.2M502.8 140.3Q502.4 141.0 502.1 142.7M512.9 135.8Q510.8 137.1 508.7 138.4M411.5 195.8Q409.5 198.2 408.5 199.3M423.7 174.4Q422.8 176.1 420.4 176.3M485.1 141.5Q485.6 142.0 485.8 144.0M464.8 146.7Q464.4 148.5 464.2 149.4M419.1 131.2Q417.3 131.2 414.4 132.4M478.7 204.1Q480.6 204.2 483.1 204.6M419.4 153.7Q417.5 154.6 414.9 155.4M391.8 134.2Q393.6 134.9 395.1 136.2M399.2 187.0Q399.3 188.6 399.4 190.1M413.9 153.7Q413.1 155.6 412.8 156.0M498.9 190.4Q498.1 191.7 497.6 192.7M485.9 181.2Q488.0 181.1 490.4 182.4M463.5 188.3Q461.8 188.8 460.6 188.8M459.7 152.6Q458.6 152.4 456.1 153.6M430.0 142.0Q427.4 143.1 425.1 142.7M481.9 208.4Q480.6 209.0 480.2 209.6M444.4 211.1Q442.9 211.0 441.1 211.5M495.6 150.0Q496.0 151.8 497.2 154.7M456.2 191.0Q454.7 191.4 453.7 192.4M507.3 199.6Q507.1 202.1 507.6 204.5M483.9 164.4Q482.3 164.0 481.7 164.7M463.1 135.8Q464.7 136.8 465.3 136.3M501.3 179.2Q503.1 180.6 504.1 182.7M429.0 137.8Q428.2 139.6 428.1 142.0M430.7 170.1Q427.9 169.5 426.4 170.1M447.5 154.5Q448.6 155.2 449.9 155.5M456.7 179.8Q455.9 181.1 456.4 183.9M385.1 130.8Q387.3 131.0 387.9 131.8M484.7 151.6Q487.5 152.7 489.2 153.7M446.5 201.2Q446.6 203.8 447.5 205.9M389.9 208.6Q389.7 210.9 390.7 213.2M439.3 177.3Q439.5 179.7 438.7 181.3M422.8 144.6Q423.4 144.9 423.1 146.7M467.0 144.2Q465.5 145.9 465.3 147.2M429.3 160.3Q427.4 161.3 426.1 161.2M441.5 173.9Q440.9 174.9 440.6 175.7M408.5 200.4Q409.4 202.3 409.1 203.7M451.8 213.9Q453.4 215.0 455.0 216.1M474.0 215.0Q473.7 216.3 474.6 217.1M474.1 178.3Q476.1 179.9 476.5 182.4M490.8 136.8Q492.2 139.3 492.3 141.4M390.4 140.8Q390.6 142.1 390.1 142.9M464.2 205.9Q465.4 206.0 466.1 207.4M413.2 153.7Q414.3 156.2 415.4 158.1M490.8 142.6Q490.6 144.0 488.9 144.2M420.0 146.4Q418.1 146.5 417.8 147.5M399.8 165.7Q399.1 167.3 397.9 167.4M428.3 140.9Q429.6 142.7 431.3 144.2M460.2 169.5Q459.4 169.3 457.6 170.0M425.6 155.0Q425.0 156.0 425.1 157.3M453.4 147.9Q452.2 148.0 450.8 148.9M399.6 191.2Q400.6 192.0 402.5 193.6M480.0 165.4Q478.7 166.4 476.5 167.5M425.0 183.3Q424.6 184.1 425.8 185.9M441.7 156.2Q439.7 157.0 439.1 158.9M390.1 153.7Q388.7 154.9 386.9 156.2M407.5 207.7Q406.3 207.7 404.9 208.9M438.7 133.0Q439.9 133.6 440.9 133.8M437.1 212.9Q439.9 213.3 441.6 214.2M502.8 141.5Q504.2 141.6 505.2 142.0M494.6 175.1Q492.5 175.3 491.3 175.6M424.0 164.5Q422.8 166.4 420.2 167.2M474.1 134.4Q475.7 134.9 476.2 136.0M461.1 209.8Q462.6 211.1 463.9 213.1M433.1 205.4Q433.1 206.7 434.6 208.6M456.7 142.7Q455.5 144.4 455.0 144.4M492.3 164.1Q489.2 163.6 487.6 164.7M388.2 206.0Q389.3 206.5 390.2 206.2M489.9 214.4Q489.6 216.6 489.9 217.8M393.7 138.0Q396.0 138.9 397.3 140.1M415.5 171.0Q416.2 172.0 418.1 171.5M437.7 212.4Q439.1 213.9 440.4 213.9M406.5 215.0Q404.0 216.1 402.2 217.0M493.0 192.2Q491.9 193.9 491.5 195.1M445.0 139.6Q443.9 140.4 442.9 140.4M510.1 186.7Q512.0 188.1 514.3 188.7M501.9 184.3Q502.1 185.1 503.7 185.9M414.4 202.9Q413.5 202.7 412.4 203.9M407.5 175.0Q407.8 176.0 408.6 177.6M433.5 172.3Q431.8 171.6 428.9 172.4M493.6 203.2Q490.8 202.8 488.9 203.9M500.1 135.2Q500.0 136.2 498.9 137.5M407.8 148.6Q408.7 148.6 410.6 150.2M506.3 171.2Q504.7 172.9 504.3 173.4M439.0 191.3Q439.7 192.0 441.6 193.1M495.2 214.8Q495.9 216.3 497.6 218.1M407.2 186.5Q407.9 188.4 409.4 189.5M414.2 154.1Q414.9 156.5 416.2 157.6M400.8 211.3Q399.1 213.6 397.5 214.5M502.4 207.0Q501.2 208.1 499.5 208.3M454.3 135.7Q452.9 137.3 451.5 139.9M436.3 155.8Q435.6 157.8 435.3 158.9M471.0 136.4Q473.2 137.1 475.0 139.0M501.8 198.9Q501.2 200.8 501.0 202.2M448.2 213.0Q446.4 213.4 445.4 214.4M475.6 180.5Q477.0 181.4 478.2 182.6M397.6 149.9Q398.4 152.1 398.6 154.5M502.7 196.4Q502.4 197.8 503.3 198.6M431.1 173.5Q432.4 176.1 433.2 177.4M486.2 187.9Q484.6 188.8 481.7 188.3M510.7 163.2Q508.9 163.5 508.3 165.2M386.5 215.4Q385.9 215.7 384.0 216.1M509.6 129.9Q510.8 130.6 511.3 131.2M504.8 162.4Q503.6 163.4 503.4 165.9M502.5 167.2Q502.5 169.0 503.7 170.1M444.1 209.3Q442.8 210.0 442.1 209.6M411.2 164.6Q410.4 166.7 410.7 168.6M387.6 171.7Q385.6 171.4 383.4 172.1M509.0 188.4Q508.9 190.4 509.3 192.1M411.7 133.2Q410.1 134.6 408.4 135.9M438.0 168.1Q436.2 167.8 435.9 169.0M447.4 193.5Q445.9 193.6 444.2 194.6M392.9 151.3Q393.2 153.0 392.9 154.0M453.7 197.3Q455.5 198.9 457.8 199.0M471.4 179.6Q469.9 181.7 469.9 184.1M485.2 167.0Q483.6 168.4 481.8 168.5M414.0 179.2Q415.9 181.7 416.3 183.2M491.6 171.7Q490.6 173.4 489.6 173.5M399.2 150.4Q401.2 151.5 403.4 151.5M511.1 128.8Q510.3 129.8 508.8 130.5M491.1 185.9Q492.0 186.3 493.4 187.3M419.9 158.4Q420.9 158.6 422.7 160.4M434.6 164.3Q437.1 164.4 438.2 164.7M464.1 188.4Q464.1 190.0 464.0 191.7M495.5 130.6Q496.2 132.3 496.0 133.8M397.0 212.6Q395.2 213.6 393.9 214.5M507.6 205.4Q508.1 207.4 509.1 209.7M455.0 153.9Q454.5 155.8 452.9 156.9M421.6 142.0Q420.8 143.0 420.9 144.4M445.2 151.9Q443.3 152.1 441.5 152.0M448.5 214.2Q450.2 214.8 450.8 215.7M400.4 176.1Q401.8 176.1 402.5 176.4M480.9 142.6Q482.4 144.0 484.5 144.3M411.1 210.6Q413.1 212.0 415.1 212.7M508.7 198.5Q508.4 200.3 507.4 202.8M474.3 202.3Q473.0 204.1 472.7 204.9M413.4 156.2Q414.0 156.8 414.5 157.8M501.1 164.7Q500.1 165.3 497.5 166.9M494.0 150.4Q495.4 152.0 495.3 152.2M410.7 212.8Q412.4 213.7 412.8 213.4M463.0 184.4Q461.0 184.5 458.3 185.4M391.6 137.4Q392.1 138.4 391.2 140.1M473.1 173.9Q470.8 174.1 468.5 175.8M430.1 147.9Q430.0 150.2 429.9 152.5M431.6 135.3Q431.9 136.8 431.6 139.6M462.5 151.0Q464.3 150.9 466.9 152.1M503.5 165.1Q503.7 166.6 504.4 168.8M486.5 189.9Q484.0 190.1 483.0 190.4M509.6 177.0Q508.7 179.5 508.6 180.5M479.0 192.7Q479.7 192.6 481.4 193.7M452.5 142.9Q452.0 144.1 450.7 145.9M437.9 189.9Q436.6 192.3 436.7 194.6M420.3 167.3Q418.3 167.6 416.2 169.3M471.8 191.8Q470.4 193.0 468.6 194.9M420.3 149.2Q420.6 150.4 422.1 151.5M463.0 190.4Q463.6 192.1 465.5 193.5M448.9 164.2Q450.1 166.0 450.3 166.5M450.8 170.7Q450.8 172.5 450.4 175.6M490.4 164.6Q492.4 164.4 494.6 165.3M392.5 130.9Q393.9 132.2 394.4 134.5M414.4 151.1Q413.0 152.7 411.7 154.0M414.0 139.1Q412.4 140.8 412.3 141.9M419.6 183.6Q420.4 186.1 421.4 187.4M463.6 142.9Q464.8 142.9 467.4 143.1M407.1 210.5Q408.8 211.3 409.3 213.0M443.0 131.5Q444.4 132.9 446.3 134.9M493.4 152.7Q493.2 153.9 493.6 156.0M419.0 166.1Q419.2 167.8 420.0 170.2M423.9 153.1Q423.5 153.1 422.0 153.8M508.4 131.0Q507.4 133.2 506.4 133.9M505.9 209.2Q507.6 210.1 508.1 211.0M474.0 171.5Q473.9 173.4 472.9 175.4M392.1 146.9Q390.2 148.1 388.0 149.5M425.3 179.6Q424.7 180.9 425.4 182.9M472.2 160.0Q471.7 161.3 470.2 162.2M404.0 208.8Q404.7 211.8 405.8 213.3M500.7 174.4Q499.2 175.3 497.1 176.6M506.3 196.1Q504.7 197.2 503.9 199.6M506.3 155.6Q508.3 156.4 509.9 158.6M436.9 134.8Q435.5 135.3 434.7 135.2M459.7 144.5Q460.4 145.2 460.8 147.5M447.4 182.3Q446.5 183.6 445.1 185.4M426.7 195.7Q428.0 198.1 428.9 199.0M397.2 180.7Q398.3 181.9 400.4 182.9M429.0 144.0Q428.2 145.5 427.2 146.6M400.6 203.1Q399.6 204.0 400.0 206.3M436.4 179.9Q435.5 181.5 434.8 182.5M482.1 205.2Q481.1 206.0 479.6 206.7M446.4 212.1Q445.1 211.7 442.8 212.8M414.8 202.4Q413.4 203.5 410.5 203.3M390.2 133.2Q387.9 134.2 386.0 135.7M468.1 163.6Q467.9 165.3 466.7 165.8M402.2 204.1Q400.7 204.3 398.1 205.0M504.0 177.6Q505.6 178.7 507.8 180.8M507.4 149.3Q508.0 150.1 508.3 151.9M443.7 165.4Q445.1 166.4 446.2 166.1M489.4 130.3Q491.4 131.0 492.1 132.1M440.3 158.2Q441.0 158.8 442.8 160.0M447.9 210.8Q447.7 213.8 447.1 215.7M486.4 189.6Q484.0 189.1 481.9 190.1M499.0 153.8Q497.4 154.6 494.4 154.8M439.8 172.7Q437.9 173.9 435.0 174.0M446.6 211.7Q446.3 211.6 444.5 213.0M441.4 131.2Q441.8 133.1 441.2 133.6M413.7 197.3Q415.0 198.5 417.7 198.9M473.9 212.8Q473.3 213.9 473.6 215.6M448.4 159.9Q449.6 161.7 449.3 164.8M419.5 160.1Q419.5 161.2 419.8 162.9M494.9 197.6Q494.5 199.0 494.4 201.4M483.9 144.2Q485.8 144.2 487.6 145.1M411.0 187.2Q409.2 187.9 408.1 188.7M409.7 167.0Q408.5 167.6 408.3 169.8M499.2 151.5Q497.3 151.6 495.3 151.5M422.1 202.7Q420.6 203.7 420.3 205.9M469.2 139.2Q470.7 139.7 470.8 141.7M455.7 210.3Q455.7 212.7 455.4 214.9M435.1 153.8Q433.2 154.2 431.5 154.5M483.9 189.3Q485.1 191.4 485.4 193.4M509.8 159.2Q511.9 160.5 513.5 160.3M475.3 182.8Q476.2 183.6 478.2 184.8M418.0 193.8Q415.3 194.7 413.2 194.8M469.1 188.7Q470.3 190.2 472.4 191.3M444.8 190.9Q445.4 193.1 446.8 194.9M422.6 167.1Q421.7 167.3 419.8 168.5M407.7 135.7Q408.3 136.5 410.4 137.9M429.0 193.3Q429.7 195.4 429.7 197.4M458.0 179.0Q460.4 179.4 461.3 179.6M447.4 136.8Q448.8 137.8 450.8 138.6M408.3 207.8Q406.8 208.1 406.2 209.1M507.7 145.4Q507.4 147.0 505.8 149.6M498.1 188.9Q500.3 189.7 501.0 191.7M409.2 213.9Q408.4 214.4 406.7 214.4M488.6 214.4Q489.9 215.4 489.6 217.7M457.3 194.6Q458.6 196.2 459.1 196.7M401.3 195.7Q399.7 196.1 397.7 198.1M470.9 170.8Q471.2 171.3 472.5 172.2M495.0 160.7Q494.3 162.0 493.5 164.8M421.6 174.8Q421.1 176.2 419.7 176.5M461.9 166.7Q460.1 167.8 459.8 169.0M418.4 160.5Q420.8 159.7 423.1 160.6M456.7 202.1Q456.9 202.5 458.5 203.5M492.9 145.1Q493.4 146.3 492.6 147.2M446.0 148.6Q445.4 149.4 445.5 151.2M467.2 177.3Q466.5 178.3 464.9 179.1M390.5 199.8Q389.8 202.1 389.7 204.7M509.3 178.2Q508.2 179.9 508.6 183.0M431.7 141.9Q433.2 143.6 433.5 146.3M494.4 213.9Q497.0 214.8 498.0 215.3M502.1 155.2Q500.4 154.8 499.9 155.5M407.4 179.5Q406.8 181.1 405.3 182.9M508.8 157.1Q509.3 159.1 510.8 160.2M484.7 128.8Q485.1 130.0 487.0 131.9M407.5 177.2Q404.5 177.0 403.1 177.7M474.9 156.1Q472.7 156.3 471.2 157.6M481.0 138.6Q479.0 139.6 478.4 139.2M408.8 139.6Q406.5 140.6 404.5 142.0M411.5 159.4Q413.5 159.7 414.2 159.7M403.9 143.8Q402.1 144.4 401.1 144.1M387.2 184.2Q387.4 186.0 388.2 187.0M494.6 167.6Q496.0 168.0 498.6 168.2M511.7 150.9Q511.1 153.4 509.1 155.0M405.6 173.1Q406.5 173.9 408.5 174.6M487.2 157.0Q487.2 159.4 485.9 161.5M471.4 155.3Q472.6 157.1 472.6 159.4M428.7 174.4Q429.4 174.0 430.8 174.5M472.6 166.3Q472.9 167.5 472.7 168.8M453.0 160.1Q453.9 161.0 455.8 161.2M452.2 170.0Q452.8 172.8 452.5 174.3M490.3 177.4Q489.1 178.9 488.9 179.2M421.1 203.0Q421.0 205.1 419.6 206.6M494.6 204.2Q496.0 205.4 497.5 205.5M452.9 134.5Q453.2 135.6 454.9 136.6M419.1 134.9Q419.5 137.1 419.9 139.7M411.2 151.5Q411.2 154.0 412.6 155.1M445.0 191.5Q445.9 193.7 445.9 196.1M425.0 135.3Q425.3 137.2 424.9 138.7M417.7 128.9Q418.3 129.8 420.5 130.9M453.8 195.9Q455.5 197.4 457.6 198.8M474.7 179.1Q477.1 179.3 478.9 179.9M415.7 214.4Q416.3 215.8 416.6 216.6M407.8 149.9Q409.8 149.7 410.3 151.1M431.2 154.2Q429.2 154.4 428.5 154.7M481.7 170.3Q481.7 171.8 480.4 173.4M388.3 145.3Q387.2 146.3 387.6 147.2M500.9 189.3Q500.9 191.8 500.3 194.0M456.6 165.4Q457.4 166.9 457.7 168.2M472.2 190.8Q472.4 192.0 473.1 193.1M452.0 146.7Q453.3 147.8 453.1 150.0M425.9 204.2Q427.4 205.8 428.8 206.3M502.5 177.5Q502.0 179.7 502.7 182.2M463.2 159.3Q463.7 159.9 462.7 161.7M482.0 134.0Q481.1 134.4 479.9 135.2M456.7 157.4Q454.1 157.1 452.8 158.2M467.1 170.8Q465.2 170.4 463.5 171.4M477.7 154.8Q476.0 154.6 473.2 155.3M457.7 143.6Q457.2 144.0 455.8 146.0M405.5 206.8Q404.3 207.9 404.7 209.9M425.7 171.6Q425.6 171.9 424.7 173.7M500.9 164.6Q499.4 166.5 498.4 167.7M499.5 205.5Q498.7 206.4 497.1 207.4M478.4 132.7Q478.1 134.5 477.6 135.5M414.0 153.4Q413.1 154.2 411.8 155.6M474.5 183.5Q474.3 185.4 474.4 186.5M485.5 155.1Q486.5 157.1 486.9 157.7M399.6 196.5Q401.6 197.8 403.1 199.1M497.7 150.1Q497.5 151.2 497.5 152.6M467.6 188.8Q468.4 188.8 469.7 189.6M420.6 183.4Q419.7 184.9 418.0 186.4M453.7 136.1Q451.9 136.3 451.1 137.9M403.4 156.4Q401.7 156.6 398.6 157.3M409.9 140.8Q411.3 141.6 412.8 143.1M492.5 172.8Q490.4 173.5 488.2 174.6M506.3 165.3Q506.9 166.7 507.5 167.8M468.2 162.4Q470.3 162.2 472.5 163.5M475.2 194.4Q475.1 196.5 475.3 197.3M453.0 173.1Q451.0 173.6 450.1 173.4M456.5 150.7Q453.7 151.2 452.3 151.2M395.9 141.4Q395.4 143.0 396.2 146.0M479.0 137.3Q478.9 139.5 479.8 141.7M393.7 153.8Q394.7 154.2 396.1 155.5M484.4 182.7Q485.8 182.7 488.2 183.9M490.6 186.5Q492.4 186.6 495.2 188.2M453.2 143.8Q454.1 145.0 453.7 146.8M449.1 200.1Q447.7 201.6 446.5 203.4M467.8 189.2Q468.4 190.0 470.5 192.1M429.3 132.1Q431.1 132.2 432.6 133.2M386.7 156.8Q389.1 156.9 391.0 158.3M440.5 149.3Q442.4 151.4 443.3 152.4M484.5 170.7Q483.6 171.7 481.3 173.4M493.9 185.8Q492.9 187.0 493.5 189.6M489.5 152.6Q489.4 152.7 487.9 154.1M454.0 191.8Q452.3 192.5 449.4 193.2M482.6 145.2Q481.4 147.2 480.9 149.1M503.7 206.7Q504.2 209.6 503.7 211.5M492.8 211.6Q492.4 212.1 490.6 213.1M401.4 167.5Q402.4 168.1 404.0 169.8M421.5 187.1Q420.5 189.2 419.8 191.5M409.3 191.2Q407.6 192.7 405.9 194.0M406.1 143.8Q406.0 144.2 404.7 145.6M433.2 161.9Q432.7 163.5 432.6 163.9M431.1 150.1Q432.0 150.6 433.1 152.3M512.1 128.9Q512.4 130.9 512.0 132.2M444.7 160.6Q442.4 161.1 439.7 160.8M510.5 192.3Q512.2 193.1 514.9 192.4M396.5 172.1Q397.9 174.6 398.7 176.1M398.6 159.2Q396.0 159.4 394.0 159.4M387.1 165.3Q389.2 165.7 391.1 166.0M498.3 167.8Q499.2 170.1 501.0 171.0M390.1 148.1Q389.6 150.0 389.2 151.3M395.6 183.0Q396.7 184.0 399.0 184.0M440.0 155.6Q439.1 157.6 438.0 159.7M487.4 205.1Q486.5 206.5 485.2 207.3M387.5 201.7Q385.6 204.0 384.5 205.7M498.6 212.3Q499.5 212.6 501.7 212.4M447.4 189.2Q448.9 189.7 450.7 191.6M440.6 179.5Q438.7 180.9 438.3 183.4M455.2 150.0Q453.1 152.3 451.7 153.2M389.8 183.2Q388.5 184.7 387.0 187.0M450.0 187.6Q448.9 188.1 448.3 189.8M429.5 173.1Q427.3 173.7 424.6 173.1M468.7 172.4Q470.5 174.5 470.8 175.8M407.8 203.5Q406.6 203.5 405.2 204.7M433.1 157.0Q435.3 157.4 437.0 157.8M478.1 172.2Q478.4 174.8 479.0 176.6M467.6 146.3Q468.6 147.7 469.3 149.2M449.8 165.4Q449.2 167.9 449.8 170.0M440.2 215.3Q441.9 216.5 442.3 217.8M429.4 165.8Q426.8 166.0 424.9 167.5M406.2 164.9Q407.0 167.7 408.2 169.1M411.4 187.0Q411.0 188.7 410.8 189.7M485.9 173.6Q486.6 175.1 486.9 175.7M391.0 207.1Q392.4 208.6 393.8 210.3M432.1 207.8Q434.6 207.9 435.8 209.5M433.7 127.5Q433.5 129.5 432.3 131.3M431.3 180.1Q430.7 182.1 431.6 183.8M476.6 165.5Q477.1 166.0 479.1 166.8M408.9 184.5Q407.3 185.5 405.8 186.5M419.9 187.6Q418.2 188.1 415.9 189.4M470.3 203.7Q471.7 204.9 472.2 205.6M399.6 156.2Q400.8 156.9 400.5 158.0M468.5 147.9Q469.9 150.2 470.7 151.9M454.5 204.2Q457.3 204.8 459.1 204.4M395.4 189.1Q394.4 188.7 392.9 189.6M396.5 140.9Q393.3 140.6 391.6 141.3M440.3 149.8Q441.0 150.7 442.0 151.3M456.7 140.8Q456.1 143.4 455.7 144.8M504.9 146.6Q505.2 147.5 504.7 148.9M462.1 142.3Q463.8 143.7 464.4 144.3M390.7 193.5Q392.1 194.1 394.6 195.7M464.2 141.9Q465.2 143.2 466.2 144.2M419.5 146.2Q417.9 148.3 415.6 149.0M429.7 160.0Q431.3 161.0 432.1 161.2M395.3 206.8Q393.3 206.2 390.8 207.2M399.3 135.5Q400.2 135.6 402.5 136.7M397.3 185.3Q397.7 187.8 399.0 189.5M412.1 139.8Q411.9 141.3 411.0 142.4M397.5 209.5Q396.3 209.3 394.5 209.9M427.2 208.8Q428.0 210.9 427.9 211.5M415.6 157.4Q417.5 159.2 419.9 159.4M487.7 193.2Q487.7 194.7 489.1 197.0M506.8 172.5Q508.3 173.1 510.4 173.3M490.0 205.0Q492.8 204.9 494.7 206.3M464.1 147.8Q464.4 149.5 463.8 150.0M436.3 148.2Q435.3 149.2 433.1 150.3M392.0 155.8Q391.9 157.2 393.2 158.7M492.4 138.3Q490.8 139.2 489.4 139.8M502.1 139.0Q500.1 138.7 499.3 139.2M403.3 185.1Q402.9 185.5 401.3 185.8M427.6 132.0Q426.6 132.9 426.2 134.9M463.6 129.4Q463.4 130.8 462.0 130.8M385.5 191.4Q386.4 192.1 387.2 194.3M506.8 148.6Q505.6 147.9 504.5 148.7M503.7 194.5Q505.5 196.0 507.5 196.3M482.0 204.3Q482.6 205.3 483.8 206.5M403.3 157.4Q404.9 159.2 405.6 159.3M447.5 135.6Q445.5 136.3 444.2 137.3M437.2 131.8Q437.2 133.0 437.4 134.2M389.3 135.5Q387.4 137.1 385.6 137.6M444.5 182.6Q442.2 183.2 440.4 183.4M481.4 208.4Q483.6 208.0 484.6 209.0M512.8 189.1Q510.5 189.0 508.2 189.3M506.0 164.3Q507.0 165.8 507.6 166.2M503.2 184.8Q502.7 186.9 501.1 188.3M456.8 168.7Q456.6 170.5 457.3 171.1M499.5 194.8Q500.6 194.9 503.2 196.3M501.3 195.9Q504.1 196.6 505.6 197.2M456.7 156.0Q456.9 157.6 455.8 159.4M498.0 188.4Q496.6 190.5 496.8 192.0M510.2 134.0Q509.7 135.2 508.5 135.9M398.9 189.8Q398.9 191.3 398.4 193.9M497.3 138.3Q496.6 141.0 495.2 142.2M423.9 213.4Q425.0 214.5 425.3 216.2M410.1 147.7Q408.8 148.3 406.1 149.5M430.0 148.0Q430.6 148.3 432.8 149.6M509.5 146.8Q510.0 149.6 509.6 151.5M422.8 134.6Q424.8 136.9 425.6 138.5M490.0 134.5Q491.5 136.1 491.5 136.7M393.5 133.6Q391.5 134.3 390.4 134.2M425.8 170.4Q424.8 172.0 425.0 174.6M480.3 158.7Q479.6 160.7 478.4 162.7M437.1 214.8Q438.0 214.8 439.7 216.1M428.7 152.4Q430.8 152.5 433.4 154.0M499.4 168.3Q498.0 170.3 497.2 171.7M421.8 216.5Q420.4 216.6 417.4 217.1M493.2 141.7Q491.2 142.5 489.6 143.4M387.0 198.6Q385.9 200.5 384.9 202.9M393.1 133.4Q391.2 133.1 388.7 134.2M477.4 139.4Q476.3 140.6 475.1 140.8M400.1 135.0Q400.9 135.9 401.0 137.1M447.9 208.8Q446.7 211.3 446.4 213.3M411.4 181.8Q411.1 183.0 410.9 185.4M491.0 185.8Q489.8 187.2 489.5 187.2M466.6 137.0Q464.6 137.8 462.1 138.7M426.7 133.5Q428.0 135.5 428.8 138.1M440.0 176.1Q441.9 178.0 444.3 178.6M440.4 159.8Q439.7 162.0 440.4 163.5M505.6 178.0Q507.1 177.5 507.7 178.5M443.6 202.5Q443.9 204.1 444.1 205.3M418.7 207.5Q420.0 207.7 421.0 208.0M489.4 146.3Q488.2 147.8 487.8 149.1M491.1 185.7Q493.4 187.3 495.2 187.9M421.4 177.4Q423.6 177.3 425.5 177.4M440.2 182.4Q439.9 182.9 438.0 183.8M456.7 167.4Q455.1 167.8 454.0 169.6M459.9 209.3Q458.9 210.2 457.4 209.7M503.8 135.7Q501.5 137.0 500.8 139.1M439.4 131.6Q438.0 133.0 436.3 133.9M433.9 155.8Q435.0 155.5 437.4 156.0M489.1 162.1Q490.6 163.5 492.3 163.8M399.5 138.7Q398.9 140.4 399.4 141.8M492.6 207.8Q494.2 209.0 497.0 208.9M418.6 155.1Q417.5 156.4 418.0 158.9M489.5 170.5Q490.7 171.8 490.8 174.1M399.3 193.5Q401.4 194.9 402.5 196.8M500.9 211.2Q501.2 212.3 502.2 213.0M415.4 168.8Q414.2 169.4 413.7 170.6M393.7 160.3Q395.6 161.1 398.2 160.7M407.3 194.6Q407.2 196.0 408.6 196.9M416.8 176.0Q417.1 176.4 417.0 178.3M430.8 195.6Q431.5 197.2 431.7 199.7M458.7 202.4Q457.5 204.3 455.4 205.5M401.1 149.5Q403.0 150.2 405.4 150.9M477.2 185.6Q475.1 185.2 473.9 185.9M431.5 177.9Q430.3 178.6 428.5 179.5M484.0 168.4Q486.0 168.4 488.7 169.3M412.2 136.9Q412.5 138.2 412.2 141.0M427.4 150.5Q428.2 153.2 429.5 154.8M478.4 189.8Q479.6 192.4 479.7 193.7M431.5 172.3Q429.8 173.8 429.7 175.0M464.6 205.6Q463.9 206.9 461.9 207.3M408.3 145.1Q407.0 145.1 405.8 145.5M439.2 216.1Q441.6 217.0 442.7 217.7M422.3 194.9Q421.5 196.0 419.6 195.6M414.4 177.0Q414.0 177.9 412.2 177.7M411.8 157.5Q411.7 159.2 410.3 161.4M481.7 165.6Q481.8 167.7 483.4 170.2M438.2 189.9Q440.5 189.7 442.5 190.9M459.8 136.3Q460.5 136.9 461.8 137.4M473.2 209.8Q472.6 210.6 470.9 212.9M409.1 177.6Q410.1 178.0 412.6 178.7M471.3 212.0Q473.6 212.2 475.1 213.0M451.1 187.0Q450.7 186.7 449.1 187.4M436.3 186.5Q435.0 187.8 434.4 189.7M415.0 206.7Q415.5 209.0 417.1 211.0M399.0 141.1Q401.3 141.6 402.0 142.3M405.1 133.7Q405.4 135.5 405.0 136.3M458.6 142.7Q459.7 144.0 459.8 145.8M414.2 193.3Q414.0 195.1 412.8 197.3M471.8 136.1Q471.7 137.0 472.5 138.1M486.0 150.1Q485.0 149.8 482.9 150.6M426.0 158.1Q423.9 158.5 422.1 159.3M464.2 204.3Q463.0 204.1 462.0 204.8M436.1 212.2Q435.8 212.9 436.6 214.7M508.1 157.3Q506.0 158.0 503.2 158.0M463.7 144.7Q464.4 144.5 466.4 144.9M503.3 182.5Q504.0 182.9 505.3 184.7M472.0 163.5Q471.9 164.3 472.8 165.8M502.4 165.3Q501.6 167.1 500.7 168.2M489.7 130.1Q488.2 131.3 486.8 131.5M485.2 193.4Q486.0 194.6 488.2 195.7M471.5 172.6Q471.3 173.2 470.9 175.1M398.5 194.8Q399.4 196.5 399.5 197.3M491.2 171.2Q491.6 172.6 491.9 173.5M423.4 161.8Q421.8 161.4 421.0 162.3M390.5 194.3Q392.3 194.8 392.8 196.4M429.7 173.9Q429.5 175.2 428.3 177.6M395.6 129.0Q396.1 130.9 397.6 131.6M438.5 180.0Q438.1 181.0 437.4 182.3M467.6 195.2Q467.5 197.0 468.4 197.8M480.2 133.3Q480.5 135.9 481.7 138.0M476.9 192.2Q478.2 193.5 480.8 193.8M457.9 190.2Q459.0 191.8 460.6 193.4M389.7 215.9Q391.0 216.4 392.9 218.0M476.8 133.7Q477.3 136.1 478.5 137.8M393.9 183.0Q393.7 185.2 392.8 186.3M467.9 156.0Q466.3 157.0 463.6 157.1M480.9 143.7Q478.6 143.2 477.8 144.2M401.6 130.7Q402.3 131.3 404.1 132.2M401.2 132.6Q401.8 133.7 402.3 135.9M491.7 143.6Q492.2 145.4 491.8 147.2M486.9 184.4Q487.5 186.9 486.9 188.8M411.6 131.4Q409.1 132.6 406.9 132.4M509.4 151.8Q507.6 152.6 507.3 154.6M480.1 176.8Q479.8 177.3 480.8 178.9M470.3 181.3Q471.9 182.4 472.7 183.6M425.1 175.5Q423.4 177.7 422.7 178.6M429.2 199.7Q427.8 201.6 427.2 202.3M472.6 145.6Q472.8 147.2 471.9 147.9M474.7 197.2Q473.0 197.9 471.6 198.0M433.0 178.3Q431.9 180.8 429.7 181.9M494.7 143.9Q493.6 143.9 491.8 144.6M445.4 162.3Q445.1 162.8 443.6 164.8M407.1 173.4Q407.0 175.0 407.6 176.9M506.6 191.2Q508.4 193.0 508.7 195.6M432.8 152.6Q430.3 153.2 429.4 152.9M508.2 174.3Q505.6 175.9 504.3 176.9M491.7 188.2Q492.7 190.0 494.5 192.1M387.1 138.4Q387.1 138.7 388.3 140.1M496.8 215.6Q496.7 217.1 495.9 218.1M472.4 201.1Q473.1 203.1 473.7 205.6M423.2 210.0Q425.4 210.4 427.1 212.5M491.7 141.3Q493.9 142.2 495.1 143.2M493.5 199.7Q495.2 201.5 496.0 203.2M465.6 178.2Q467.7 178.0 468.9 179.2M417.5 167.1Q419.0 168.0 421.1 169.6M482.6 190.6Q484.0 190.6 486.8 191.8M453.7 193.0Q456.1 195.1 457.3 196.2M418.6 153.4Q417.7 155.7 416.3 156.7M491.7 143.8Q494.0 143.2 495.4 143.8M421.8 200.3Q420.8 200.9 418.4 202.2M442.0 138.9Q440.6 139.0 438.3 139.8M476.9 215.6Q474.9 216.4 472.9 215.7M430.5 143.4Q430.9 145.0 432.9 146.2M468.5 215.8Q469.1 216.0 470.2 217.3M411.6 128.4Q412.3 129.8 413.2 130.4M466.8 181.3Q468.5 182.6 469.6 182.8M401.6 183.3Q399.0 184.5 397.1 184.2M501.3 195.4Q499.3 196.8 498.0 198.7M432.2 162.8Q434.1 164.2 435.1 164.1M473.5 171.0Q474.9 172.9 477.2 173.3M486.6 208.4Q486.1 209.1 486.8 210.5M452.1 174.2Q451.1 174.6 449.6 175.1M449.9 214.5Q450.4 216.7 451.2 217.8M426.4 161.9Q427.8 162.6 429.8 162.3M484.7 189.9Q483.0 190.5 481.0 191.7M387.6 129.5Q386.2 131.5 385.9 133.6M424.0 205.6Q423.0 207.0 422.5 207.5M490.3 149.1Q489.7 150.6 488.3 153.0M408.2 193.7Q409.5 196.0 409.8 197.8M466.4 150.6Q464.0 152.2 462.9 152.7M496.5 162.7Q497.8 163.1 500.5 163.0M422.8 128.3Q424.3 129.7 426.4 129.8M408.3 144.7Q410.5 146.5 412.1 147.1M470.3 167.6Q472.4 168.1 473.7 168.5M387.2 133.0Q385.7 133.3 385.7 135.0M390.7 158.2Q392.1 159.9 394.9 160.6M449.4 150.1Q450.9 150.0 453.9 151.5M453.7 180.7Q453.4 181.9 453.8 183.2M492.6 137.7Q493.1 139.5 492.8 142.1M401.8 179.5Q400.1 180.7 399.0 180.6M497.8 178.4Q496.1 180.5 494.5 181.1M492.4 162.3Q494.5 162.1 496.6 163.2M457.3 178.4Q459.1 178.6 459.8 179.9M459.4 202.9Q461.2 203.2 463.0 204.0M463.6 163.7Q464.7 164.5 466.4 165.6M487.6 147.8Q486.1 147.6 483.4 148.5M508.4 160.3Q509.8 161.1 509.9 162.8M408.2 187.2Q406.9 189.2 405.4 191.0M502.3 203.0Q502.5 204.7 502.5 206.0M507.3 173.9Q508.2 175.2 508.5 176.1M494.4 198.7Q493.3 200.0 492.2 202.4M511.6 194.4Q509.2 194.7 507.1 194.5M497.1 199.5Q496.8 200.9 495.1 202.2M453.2 173.4Q455.5 173.8 456.9 174.6M403.3 172.3Q402.3 173.4 402.5 174.9M404.1 170.4Q406.4 171.1 407.8 171.2M480.4 164.7Q481.7 165.4 482.2 166.6M399.4 202.4Q400.6 203.6 401.7 204.3M402.4 209.1Q400.9 210.5 398.4 211.6M414.5 170.2Q416.0 171.3 416.6 171.7M457.4 156.6Q458.5 157.8 458.6 159.9M402.3 210.7Q403.5 211.5 406.1 211.6M437.1 157.8Q437.4 159.4 437.7 159.8M513.4 203.8Q512.5 205.7 512.4 206.2M411.4 185.2Q411.7 187.0 412.6 187.6M467.3 132.1Q468.9 133.7 470.8 135.2M440.9 157.5Q442.5 159.9 442.8 161.3M461.9 210.5Q462.7 211.7 462.9 214.2M429.0 144.6Q430.1 144.4 432.3 145.4M465.9 176.4Q466.1 177.1 465.4 178.6M406.3 129.7Q407.0 129.6 409.2 130.8M455.6 195.0Q456.2 195.9 457.4 195.8M508.5 174.4Q505.6 175.3 504.2 176.4M473.1 165.5Q472.2 165.7 470.6 167.1M493.2 210.6Q491.3 210.7 490.6 210.6M448.9 213.7Q448.4 214.8 448.7 216.8M494.8 179.2Q497.7 178.8 499.4 179.5M421.1 196.0Q421.1 198.0 422.4 199.6M390.2 131.0Q389.1 132.6 389.0 135.4M399.2 176.9Q399.7 177.3 401.7 176.9M412.0 203.2Q410.3 203.9 410.3 205.4M498.1 183.2Q499.3 184.0 499.4 185.9M509.4 157.5Q509.6 158.8 511.2 159.2M467.2 188.1Q465.7 188.8 464.3 191.1M503.6 143.5Q502.9 145.6 503.1 146.3M507.2 214.4Q507.9 214.0 510.0 214.9M446.7 159.0Q446.3 159.9 446.4 161.1M477.4 174.5Q479.0 174.3 480.1 174.9M419.5 184.1Q417.9 185.5 415.8 185.8M503.0 134.5Q503.0 136.4 503.9 137.0M393.2 160.4Q391.2 161.2 388.6 160.5M384.5 212.9Q386.2 212.5 387.9 213.3M481.7 205.1Q480.8 206.8 480.8 209.4M409.9 198.5Q407.7 199.5 407.0 202.0M390.1 189.7Q388.7 190.7 387.9 190.8M477.9 206.3Q477.5 207.5 476.6 207.8M477.6 203.3Q477.3 204.1 476.6 205.1M450.8 149.0Q449.5 150.3 448.6 150.5M452.4 157.3Q452.5 158.6 453.6 161.5" fill="none" stroke="#ababab" stroke-opacity="0.45" stroke-width="0.55" stroke-linecap="round"/>
</g>
<rect x="385.00" y="129.00" width="128.50" height="88.20" fill="url(#g2)" />
<rect x="385.00" y="129.00" width="128.50" height="88.20" fill="url(#g2b)" />
<rect x="385.00" y="129.00" width="128.50" height="88.20" fill="url(#g2c)" />
<rect x="385.00" y="129.00" width="128.00" height="0.80" fill="#5a5a5a" />
<g transform="translate(416.9 175.0) rotate(-19.7)"><path d="M0,-1.5 H6.1 V-3.2 L10.9,0 L6.1,3.2 V1.5 H0 Z" fill="#f8f8f8"/></g>
<g transform="translate(427.9 183.0) rotate(24.0)"><path d="M0,-1.5 H5.8 V-3.2 L10.6,0 L5.8,3.2 V1.5 H0 Z" fill="#f8f8f8"/></g>
<g transform="translate(450.9 196.9) rotate(3.5)"><path d="M0,-1.5 H5.5 V-3.2 L10.3,0 L5.5,3.2 V1.5 H0 Z" fill="#f8f8f8"/></g>
<rect x="500.50" y="212.30" width="10.00" height="1.60" fill="#f4f4f4" />
</g>
<clipPath id="c3"><rect x="385" y="226" width="128.5" height="88.2"/></clipPath>
<linearGradient id="g3" x1="0" y1="1" x2="1" y2="0"><stop offset="0" stop-color="#808080"/><stop offset="0.6" stop-color="#8a8a8a"/><stop offset="1" stop-color="#888"/></linearGradient>
<g clip-path="url(#c3)">
<rect x="385.00" y="226.00" width="128.50" height="88.20" fill="url(#g3)" />
<mask id="m3"><path d="M384,225 L446.5,225 L451.5,235 L459,240 L469,238.7 L481.5,247.5 L486.5,260 L484,272.5 L476.5,282.5 L466.5,290 L456.5,297.5 L446.5,300 L436.5,296 L431.5,285 L427.7,273.7 L424,266 L414,263.7 L404,267.5 L394,273.7 L386.5,277.5 L384,278 Z" fill="#fff" filter="url(#bl4)"/></mask>
<radialGradient id="lt1"><stop offset="0" stop-color="#a0a0a0" stop-opacity="0.9"/><stop offset="1" stop-color="#a0a0a0" stop-opacity="0"/></radialGradient>
<ellipse cx="408" cy="292" rx="22" ry="18" fill="url(#lt1)"/>
<ellipse cx="503" cy="250" rx="22" ry="30" fill="url(#lt1)" opacity="0.6"/>
<path d="M384,225 L446.5,225 L451.5,235 L459,240 L469,238.7 L481.5,247.5 L486.5,260 L484,272.5 L476.5,282.5 L466.5,290 L456.5,297.5 L446.5,300 L436.5,296 L431.5,285 L427.7,273.7 L424,266 L414,263.7 L404,267.5 L394,273.7 L386.5,277.5 L384,278 Z" fill="none" stroke="#6e6e6e" stroke-opacity="0.55" stroke-width="9" filter="url(#bl5)"/>
<g mask="url(#m3)"><g filter="url(#bl2)">
<path d="M384,225 L446.5,225 L451.5,235 L459,240 L469,238.7 L481.5,247.5 L486.5,260 L484,272.5 L476.5,282.5 L466.5,290 L456.5,297.5 L446.5,300 L436.5,296 L431.5,285 L427.7,273.7 L424,266 L414,263.7 L404,267.5 L394,273.7 L386.5,277.5 L384,278 Z" fill="#707070"/>
<path d="M388.6 275.4l1.1 0.2M389.8 294.2l0.5 1.1M468.8 248.4l0.1 0.1M413.0 250.9l-0.3 0.5M440.9 272.6l-0.0 0.0M397.1 239.0l-0.1 0.3M475.4 242.6l0.3 0.7M456.6 268.8l0.3 0.1M481.2 278.2l-0.2 0.2M414.2 260.2l-1.1 0.9M405.4 248.1l1.1 0.2M428.4 228.1l0.2 1.4M468.0 282.1l-0.2 1.1M395.4 297.4l-0.9 0.3M441.3 290.8l1.1 0.5M437.1 250.8l-0.2 0.3M474.4 229.2l0.3 0.3M463.0 289.0l0.2 0.2M430.0 271.6l0.9 0.1M419.9 255.3l0.7 0.3M483.6 300.1l-0.6 0.2M418.2 291.8l-0.9 0.2M419.8 233.9l0.4 0.4M469.2 227.4l-0.4 1.0M454.8 289.8l0.1 1.2M390.5 275.9l-1.4 0.4M387.8 280.3l-0.1 1.1M455.6 260.5l0.1 1.3M400.3 272.8l-1.0 0.2M483.9 280.5l1.2 0.2M408.6 293.9l0.2 1.2M405.5 237.7l1.2 0.4M416.2 260.9l1.4 0.2M456.7 284.6l-0.7 0.7M473.0 246.0l-0.1 0.8M402.0 290.9l-0.0 0.2M444.6 270.2l0.9 1.0M456.9 300.4l0.8 0.8M405.7 250.5l-0.0 0.0M450.4 245.5l0.6 1.2M430.5 272.0l1.2 0.4M436.6 243.5l-0.1 0.5M411.1 258.8l-0.4 0.1M407.6 285.5l0.4 0.2M398.3 232.0l0.2 1.1M453.9 266.2l0.8 0.5M489.9 229.5l-0.1 0.2M414.0 242.5l1.0 0.9M442.6 288.7l0.3 1.4M475.4 248.9l0.2 0.8M394.4 277.6l0.0 0.1M417.2 263.4l0.3 0.3M413.0 291.9l-0.3 0.1M467.0 279.6l0.2 1.3M405.4 263.0l0.3 0.5M434.4 250.9l0.3 0.9M484.5 281.4l0.2 0.1M443.4 283.5l-0.0 0.8M456.6 239.6l-0.6 0.3M396.9 268.3l-0.7 1.1M421.3 262.4l-0.1 0.1M463.0 289.1l-0.4 1.2M483.4 230.8l-0.3 0.3M475.7 259.4l-0.0 0.1M462.0 280.7l0.1 0.5M476.1 231.8l-0.7 0.6M489.8 228.3l0.5 0.9M393.3 252.0l0.3 0.2M445.2 230.1l0.7 0.2M438.4 248.7l-0.5 0.7M449.4 287.4l-0.2 1.0M476.2 280.9l-0.0 0.5M395.7 238.3l0.5 1.3M413.9 259.9l-0.1 0.4M490.0 260.1l0.5 0.3M419.6 299.4l-0.2 0.0M423.6 236.9l0.5 0.2M468.0 259.2l0.3 0.5M469.9 276.5l0.7 0.2M433.8 268.6l-0.5 1.4M444.1 245.6l0.0 0.0M413.6 244.1l0.0 0.0M401.8 242.2l1.2 0.8M486.1 234.0l0.4 0.6M465.8 256.0l-0.1 1.3M471.7 227.9l-0.1 0.0M450.1 266.5l0.1 0.7M482.6 276.3l-0.0 0.9M386.1 268.9l-0.1 0.1M464.1 260.9l0.1 0.2M444.5 243.3l1.1 0.4M452.9 291.1l0.4 0.3M385.3 247.6l0.5 0.3M403.9 271.5l0.4 1.3M474.9 241.7l0.2 1.2M417.8 230.7l0.2 0.5M484.9 254.5l-0.3 0.0M398.2 243.0l-1.3 0.3M481.4 295.0l-0.2 0.4M405.8 267.0l-0.9 0.3M409.9 250.6l0.4 0.0M487.2 258.1l-0.5 0.8M488.3 263.0l-0.4 0.6M400.7 267.5l0.7 0.5M445.4 230.0l0.1 0.4M425.2 279.2l0.1 0.0M486.0 276.7l1.0 0.0M413.0 248.2l0.0 0.3M396.1 293.9l-0.0 0.5M487.8 262.0l0.3 0.9M432.4 256.4l-1.2 0.9M421.1 275.4l0.7 0.3M482.9 232.3l-0.6 0.0M404.8 226.8l-0.5 0.8M409.2 256.7l0.8 1.0M461.4 281.1l-0.7 1.2M389.3 290.5l-0.6 0.3M489.9 240.9l-0.4 0.5M460.7 236.7l-1.0 0.4M417.3 249.8l-0.1 0.0M391.1 286.3l-0.7 1.1M436.6 259.5l-0.8 0.6M489.0 236.2l-0.3 0.8M407.3 256.7l-1.4 0.2M452.1 242.2l-0.8 0.4M427.2 235.2l-0.2 0.1M396.9 263.9l-0.5 0.2M418.8 264.3l-0.8 0.7M446.2 288.4l-0.7 0.4M459.8 258.9l-0.0 0.0M453.2 297.9l-0.5 0.0M459.7 295.7l1.4 0.0M413.0 255.4l0.1 0.5M458.0 234.2l-0.2 0.1M480.8 294.2l-0.3 1.2M412.8 234.3l-0.1 0.2M456.5 229.9l0.1 1.4M416.1 268.6l0.4 0.6M428.2 298.9l-0.5 0.3M410.8 231.8l-0.2 0.8M400.2 256.4l-0.1 0.0M424.2 272.8l-0.0 0.0M403.7 295.0l0.2 0.2M409.0 243.3l-0.0 0.0M423.2 287.2l-1.0 0.5M437.5 267.6l-0.0 0.0M457.6 263.8l-0.5 0.8M459.9 247.2l0.1 0.7M390.1 242.3l-0.3 0.4M421.5 232.9l-0.3 0.6M418.2 229.2l-0.1 0.8M455.9 292.3l-0.5 0.6M455.7 263.3l0.3 0.1M469.0 268.9l-0.8 0.3M480.6 256.6l0.5 1.4M408.6 274.8l-0.6 0.2M446.6 296.5l0.9 0.3M481.2 274.0l-0.0 0.1M424.4 236.7l-0.0 0.0M409.6 244.2l0.2 0.1M481.8 275.6l0.1 0.3M385.0 298.1l1.3 0.4M390.4 277.1l-1.0 0.7M401.7 264.9l-1.0 0.4M401.7 251.0l-0.3 0.3M486.9 235.9l0.2 0.8M436.9 287.4l-0.0 0.2M422.9 267.9l-0.4 0.5M472.7 253.1l1.1 0.5M440.9 280.6l0.7 1.3M394.3 248.2l-0.3 1.3M418.6 269.5l-1.4 0.2M436.9 261.5l-0.1 0.7M440.2 269.9l0.6 0.2M404.6 234.8l0.4 1.3M425.6 293.2l-0.0 0.0M482.1 258.9l-0.0 0.1M405.4 269.2l0.0 0.1M410.7 238.0l-0.0 0.0M390.8 249.1l1.0 0.6M432.9 300.4l0.6 0.0M435.6 227.4l0.2 0.2M413.4 247.2l0.3 0.5M406.3 231.4l-0.2 0.7M432.4 253.3l1.2 0.6M419.5 300.3l-0.8 0.3M432.2 232.7l-0.2 0.9M458.2 230.6l-1.2 0.3M477.3 267.3l0.2 1.4M435.0 246.4l1.3 0.1M466.5 286.5l0.2 0.0M464.5 272.1l1.0 0.7M393.5 288.6l0.1 0.5M454.1 284.7l0.1 0.2M450.5 247.9l0.4 0.2M406.4 236.2l-1.2 0.0M485.2 264.7l0.1 0.4M410.8 281.9l-0.1 0.2M408.5 262.1l-0.4 0.4M424.6 234.6l0.8 0.8M468.4 293.1l-0.1 0.0M408.3 261.0l0.0 0.2M406.3 230.3l-0.5 0.4M409.7 267.3l-1.4 0.4M474.3 286.5l-0.1 0.5M413.5 240.5l0.8 0.4M405.4 264.2l0.7 0.6M387.3 261.7l0.1 0.2M448.8 286.2l-0.6 0.6M467.1 296.6l0.4 0.7M426.1 283.2l-0.3 1.2M430.9 255.8l-0.2 1.3M430.5 286.5l-0.9 0.2M438.1 245.6l-1.1 0.2M392.5 281.4l-0.5 0.0M478.2 238.6l-1.2 0.3M483.7 244.1l-0.0 0.0M448.3 253.7l-0.5 0.2M386.4 266.6l0.7 1.1M461.7 283.2l0.8 0.0M432.0 288.9l0.1 0.4M476.1 288.6l0.1 0.1M449.8 270.0l-0.8 1.3M394.3 270.3l-0.0 0.0M455.7 295.2l0.7 0.2M469.8 270.1l-0.5 0.2M435.9 277.2l-0.2 0.7M390.4 240.3l1.1 0.4M436.0 238.6l0.6 0.3M435.1 286.0l-0.1 0.0M416.8 259.4l-0.4 0.3M403.9 246.1l0.1 0.0M426.8 241.3l0.6 0.1M407.7 290.2l0.0 1.4M419.3 272.3l-0.8 0.0M387.0 237.0l-0.5 1.3M468.1 238.5l-1.3 0.5M401.2 250.7l-0.6 0.5M457.0 276.0l0.2 0.0M385.8 259.7l0.5 0.1M473.4 248.6l-0.5 0.1M484.6 244.7l0.5 0.1M423.1 254.3l0.3 0.6M440.0 239.0l0.5 0.2M396.3 260.4l0.8 0.9M462.2 238.0l1.0 0.9M385.3 265.4l-0.1 0.1M477.3 250.4l0.1 0.3M458.8 288.3l-0.2 0.4M425.7 261.2l-1.1 0.1M406.3 266.9l-1.2 0.1M432.3 256.1l-0.3 0.0M454.1 289.3l0.2 0.8M392.6 289.9l0.0 0.0M401.5 250.0l0.6 0.4M479.5 239.2l0.4 0.2M392.6 273.3l1.0 0.6M471.9 299.1l0.1 0.0M426.5 245.9l1.0 0.1M400.8 256.7l1.2 0.6M438.0 241.3l-0.5 1.0M485.1 246.6l-0.9 0.7M464.6 272.7l-0.0 0.5M417.8 242.0l-0.7 0.7M463.3 227.1l-0.0 0.2M442.7 278.4l0.1 0.2M448.4 279.6l0.1 0.1M424.6 277.2l0.6 0.4M425.9 234.6l1.2 0.2M444.3 247.4l-0.1 0.7M461.1 296.9l-0.7 1.0M489.6 244.0l1.3 0.1M489.4 265.4l-0.4 0.8M460.2 238.8l0.5 0.0M470.8 277.8l0.1 0.2M478.4 290.2l0.5 0.9M395.6 259.5l0.3 0.1M404.3 279.7l-0.5 0.2M401.9 229.3l0.1 0.2M426.9 281.9l-1.1 0.0M479.7 246.7l0.1 0.2M433.3 281.8l-0.6 1.3M422.8 229.1l0.2 0.3M457.7 240.9l0.8 0.0M474.5 241.3l-0.6 0.6M435.3 265.4l-0.1 1.0M466.4 231.2l0.2 0.1M445.4 236.3l0.2 0.5M453.1 241.9l0.6 0.1M424.1 280.6l0.8 0.9M396.8 268.9l0.1 1.1M416.4 296.6l0.6 0.2M395.1 299.8l0.1 1.0M457.9 295.0l1.4 0.2M436.2 290.5l0.1 0.2M455.9 262.7l1.1 0.5M420.5 228.2l1.4 0.2M479.8 268.8l-0.6 0.7M389.6 299.9l-0.5 1.0M406.7 282.4l-1.3 0.3M482.3 249.3l-0.3 1.4M442.8 258.9l0.1 0.0M410.1 294.8l0.2 1.5M402.2 298.8l0.3 1.3M487.8 261.3l-0.2 0.6M406.5 231.7l0.7 0.6M466.9 281.3l-0.6 0.0M478.4 259.2l0.0 0.6M455.5 244.3l-1.1 0.2M435.9 239.3l0.1 0.0M406.5 264.0l0.0 1.0M483.8 270.8l0.3 0.6M393.6 272.3l0.3 0.4M465.1 268.3l0.8 0.5M470.6 294.0l0.4 0.0M411.9 241.3l0.2 0.3M439.3 232.0l-0.3 0.9M404.5 282.2l0.1 0.1M446.0 236.2l-0.2 0.1M424.9 265.8l-0.4 0.2M447.7 227.5l0.6 0.5M407.2 243.5l-1.4 0.0M476.6 280.4l-1.2 0.6M460.2 274.1l0.5 0.0M452.9 261.1l0.1 0.3M463.1 285.8l-0.9 0.6M473.7 276.9l0.3 0.8M478.7 254.6l0.8 0.5M439.4 247.2l-0.8 1.1M452.5 226.8l-1.0 1.0M420.1 227.0l-0.1 0.6M385.2 269.2l-0.3 0.7M451.5 263.1l-1.1 0.9M472.6 267.3l-0.2 1.4M402.3 291.9l0.4 0.6M392.8 264.0l-0.7 0.4M450.0 275.8l-0.2 0.5M487.1 241.1l0.4 0.6M415.8 290.8l-0.9 1.1M426.4 240.0l-0.2 1.2M438.4 256.5l0.7 0.2M422.1 248.0l-0.6 0.4M485.7 232.1l-0.9 0.4M418.7 229.9l0.5 0.3M459.2 249.6l1.4 0.2M468.4 264.8l0.1 0.1M417.8 282.6l-1.4 0.2M438.3 258.0l0.4 0.3M465.0 252.4l-0.4 0.8M409.6 296.5l0.0 0.0M488.9 294.9l1.4 0.0M470.3 269.1l-0.1 0.0M488.1 282.7l-1.1 0.5M420.7 275.7l1.0 0.1M463.6 260.7l0.0 0.3M428.2 241.2l0.4 0.0M393.5 295.9l0.2 0.1M489.6 232.5l0.0 0.1M479.0 287.7l0.6 0.3M461.3 268.4l1.2 0.7M478.4 264.4l-0.2 0.2M456.8 291.9l0.4 0.2M482.8 249.0l-0.8 0.7M455.2 289.2l-0.3 0.3M424.0 268.9l0.6 0.5M461.0 233.1l-0.7 0.2M411.5 230.6l-0.3 1.4M415.1 238.9l0.1 0.0M461.2 246.9l-0.9 0.0M463.0 256.1l-0.5 0.3M467.2 256.8l0.0 0.0M392.3 259.1l0.1 1.2M388.9 251.8l0.9 0.3M403.9 275.7l0.6 0.9M454.0 291.1l0.5 0.4M440.8 278.2l0.0 1.0M416.7 260.9l0.2 0.4M458.7 271.0l-0.6 0.2M411.6 259.7l0.2 1.3M473.6 282.8l0.6 0.3M433.4 293.6l-0.9 0.5M427.3 295.7l-0.6 0.7M468.4 284.8l0.1 0.1M452.7 279.8l0.1 0.2M457.9 292.0l-0.1 1.4M436.0 265.7l-0.1 0.1M403.3 263.8l-0.5 0.3M393.0 250.6l-0.2 0.2M456.9 235.6l-0.0 0.0M438.4 280.0l0.1 1.3M446.8 258.9l1.4 0.0M476.7 256.4l-0.6 0.8M429.8 269.4l0.2 0.8M419.3 240.6l0.6 0.3M418.9 231.2l1.1 0.0M413.0 249.7l0.1 0.1M455.4 258.6l0.7 0.1M425.6 246.8l0.8 0.6M468.7 291.5l-0.0 0.0M469.5 268.7l-0.1 0.2M438.3 260.0l-0.8 0.2M443.1 243.4l0.2 1.0M482.0 265.0l0.2 0.2M486.1 236.4l-0.2 0.4M395.4 245.1l-0.3 0.1M420.3 272.8l0.2 0.1M429.3 241.2l0.6 1.1M434.8 287.0l0.7 1.1M455.5 256.1l-0.5 0.9M475.3 290.4l0.0 0.0M487.4 234.3l0.1 0.7M458.9 232.0l-0.3 0.0M438.6 261.0l0.1 0.0M406.6 253.6l-0.5 0.4M429.2 293.6l-0.4 0.2M419.3 289.6l0.9 0.0M400.7 260.6l1.3 0.4M391.2 266.6l-0.8 0.2M385.8 258.6l0.2 0.4M489.2 260.2l-0.1 0.7M389.4 231.9l0.8 0.5M429.8 249.8l-1.3 0.4M466.7 249.4l0.9 0.2M404.3 256.1l-0.0 0.3M437.7 265.5l0.1 0.9M459.8 247.1l-0.4 0.2M474.3 241.6l0.3 0.9M445.5 257.5l-0.1 0.1M486.8 240.0l0.8 0.2M464.9 256.1l-0.8 1.2M407.6 232.7l-0.0 0.0M483.9 256.6l-0.5 0.6M406.5 298.8l-0.0 0.0M387.7 232.2l-0.1 0.2M389.2 246.7l-0.4 0.4M464.4 293.2l-0.5 0.2M473.2 292.6l-1.1 0.5M420.5 239.3l0.4 0.5M420.3 258.3l1.1 0.7M397.0 282.3l-0.5 0.8M399.3 280.1l1.2 0.8M445.4 236.7l0.7 0.9M454.7 237.5l0.6 0.5M449.6 289.1l1.1 0.9M439.5 298.4l-0.8 0.0M428.9 240.5l-0.4 0.2M439.9 291.2l-0.1 0.6M425.9 245.6l-0.0 0.1M453.4 301.0l1.3 0.6M461.9 260.1l-0.0 0.0M467.3 233.7l-0.0 0.0M470.5 251.9l1.3 0.4M402.7 247.3l0.2 0.0M470.3 266.1l0.0 0.0M482.7 282.1l0.1 0.1M408.4 293.0l0.4 1.0M439.5 262.3l0.0 0.1M486.4 258.7l0.8 0.1M457.8 287.1l0.3 0.1M422.9 286.9l0.1 0.7M397.9 287.9l-0.3 0.4M476.8 239.2l0.8 0.5M487.9 232.5l-0.1 0.1M409.8 239.9l0.5 0.0M406.4 263.5l0.0 0.0M445.1 246.1l-0.7 0.7M394.4 234.5l0.5 0.8M409.2 269.8l-0.1 0.5M394.0 265.2l-1.2 0.3M385.6 290.2l-1.0 0.8M395.3 251.0l-0.1 0.3M474.4 255.9l0.5 0.0M485.6 253.6l0.4 0.5M462.4 269.0l-0.2 0.1M489.0 271.8l-0.4 0.5M409.6 291.1l0.2 0.6M463.7 244.3l0.7 0.3M393.4 261.8l-0.1 1.3M485.4 238.6l-0.8 0.2M398.2 260.2l0.4 0.5M465.1 228.0l-1.2 0.3M410.4 246.0l-0.3 0.3M424.3 255.0l-0.0 0.4M415.3 283.9l0.4 1.1M487.5 275.7l-0.3 0.1M483.1 270.0l1.0 1.0M467.1 285.3l-0.1 0.0M423.1 288.4l-0.0 0.3M489.0 274.4l0.5 0.0M423.8 230.5l-0.9 0.7M439.1 278.9l0.0 0.0M471.0 235.8l1.2 0.7M478.9 281.1l1.0 0.5M442.6 291.0l0.1 1.5M470.4 276.0l0.4 0.1M425.4 230.8l-0.1 0.1M460.6 297.3l-0.4 0.3M463.1 235.5l0.1 0.1M415.0 284.6l-0.7 0.9M390.2 232.2l-0.5 0.0M480.1 292.7l0.5 0.8M403.9 259.0l-0.1 0.2M458.2 292.7l-0.4 0.1M419.0 298.5l-0.1 0.3M483.3 281.7l0.0 0.1M410.4 279.4l0.8 0.7M458.1 227.0l0.6 0.0M455.2 237.1l0.2 0.2M431.9 255.2l0.6 0.7M430.1 229.1l-0.9 0.4M412.6 271.2l-0.8 1.3M481.7 251.9l-0.5 0.3M390.7 271.5l-0.1 0.5M404.1 273.1l0.1 0.9M437.0 273.2l1.0 1.1M390.4 286.5l-0.6 1.1M489.1 296.4l-0.0 0.2M455.1 273.6l1.3 0.5M423.4 264.4l-1.2 0.4M425.2 266.2l0.1 0.4M446.3 227.2l0.3 0.1M457.6 289.2l-0.1 1.2M481.1 300.5l-0.4 0.5M448.4 299.7l-0.1 1.0M423.1 246.5l-0.5 0.1M463.0 245.6l1.1 0.3M434.3 279.3l0.8 0.5M409.2 252.1l-0.1 0.0M393.6 242.4l-1.2 0.7M424.9 241.9l-0.1 0.0M390.3 237.1l-0.4 0.1M428.8 296.7l-0.1 0.2M462.2 261.6l-0.2 0.1M486.8 284.9l0.7 0.1M437.1 241.1l-1.0 0.5M387.0 268.9l0.0 0.4M442.0 232.7l-0.9 0.4M470.0 298.5l-0.7 1.1M445.3 264.0l-0.1 0.3M474.6 247.6l-0.2 1.4M479.3 269.9l-0.0 0.1M453.4 253.8l-0.0 0.1M388.4 235.4l-0.9 0.8M442.4 253.5l-0.4 0.0M453.4 255.0l0.3 0.4M387.2 290.0l-0.0 0.7M443.1 272.8l0.4 0.3M468.9 253.8l0.2 0.0M484.1 278.1l-0.1 0.3M483.6 289.4l-1.0 0.5M461.2 229.3l-0.3 0.1M466.7 261.3l0.7 1.0M411.2 263.9l-0.5 0.7M438.7 260.3l-0.8 0.1M386.6 278.2l-0.7 0.1M477.0 264.2l0.1 0.2M477.9 253.8l0.5 0.1M428.5 267.3l-1.1 0.3M455.9 263.6l-1.0 0.7M422.7 258.5l-0.2 1.0M446.1 270.4l-0.2 0.4M395.0 267.4l-0.0 0.6M395.7 293.3l-1.2 0.3M460.8 278.0l-1.2 0.3M448.4 231.2l-0.1 0.0M414.3 244.9l0.1 0.1M455.9 233.0l-0.4 0.2M385.4 236.8l-0.7 0.0M462.0 264.6l-0.0 0.8M425.0 245.3l-0.0 0.7M413.0 283.6l-0.0 0.5M434.0 281.1l-0.1 0.2M468.7 288.5l-0.1 0.3M410.1 281.6l0.1 0.8M392.9 230.7l-0.0 0.1M405.0 229.2l0.6 0.1M483.6 287.2l-0.7 0.6M402.1 247.3l-0.1 1.3M393.2 288.6l-0.1 0.6M464.6 234.0l0.0 0.0M416.1 249.9l0.2 1.3M480.0 247.9l-0.4 0.2M463.0 264.5l0.5 0.3M387.5 274.8l-0.2 0.8M431.9 232.7l-0.1 0.2M467.1 275.8l-0.1 1.2M473.0 293.4l-0.4 0.3M403.8 273.2l-0.6 0.7M403.3 236.0l-1.1 0.7M462.6 276.9l-0.1 1.3M388.0 277.1l-0.6 1.0M445.4 234.8l-0.2 0.3M402.8 240.0l0.1 0.3M426.5 268.0l0.4 0.7M470.7 264.7l-0.7 0.3M457.9 241.1l0.4 0.5M463.9 261.2l-1.1 0.7M395.0 228.8l0.8 0.0M416.4 246.5l0.1 0.0M462.6 278.1l0.8 0.3M463.8 254.4l1.1 0.4M459.8 253.4l-0.1 0.7M461.8 291.6l-0.3 0.8M414.1 248.4l-0.9 0.5M466.6 269.0l-0.6 0.5M467.6 280.1l1.0 0.8M414.6 259.0l-0.0 0.0M451.4 290.1l0.5 1.1M479.5 235.5l-0.2 0.3M413.5 243.2l0.0 0.2M445.5 288.7l0.2 0.5M482.2 279.6l1.1 1.0M390.0 271.4l-0.6 0.2M471.1 282.1l-0.6 0.6M459.9 296.5l0.8 0.7M393.0 265.3l-1.0 0.2M485.1 227.0l0.2 1.4M486.1 266.4l0.3 0.7M463.3 261.6l0.8 0.0M435.1 258.9l1.0 0.7M482.1 297.9l0.2 0.1M385.6 279.6l0.6 0.2M407.6 228.8l-0.4 1.0M461.3 243.5l-0.2 0.4M444.7 288.3l1.0 0.2M411.1 280.9l0.0 0.1M457.8 265.3l-0.2 0.4M439.7 299.7l0.2 0.7M478.7 280.7l0.7 0.6M401.3 287.7l-0.9 0.8M458.9 254.1l0.0 0.3M482.9 232.8l0.2 0.3M455.6 248.3l0.1 0.1M408.0 300.2l1.3 0.5M470.5 257.0l-1.2 0.3M406.0 299.1l0.6 0.8M406.2 279.4l0.7 0.9M484.6 237.9l-0.7 0.4M389.2 287.2l0.0 0.1M461.7 275.2l-0.1 0.6M421.9 279.0l-0.7 1.1M412.7 284.3l0.1 0.1M478.9 249.9l-0.8 1.1M482.8 250.9l0.0 0.0M472.6 252.3l1.0 0.7M437.8 293.2l-0.1 0.3M483.0 226.4l-0.2 0.4M405.2 249.4l-0.2 0.5M470.6 253.5l0.4 0.3M482.8 255.4l-1.2 0.7M414.2 239.2l0.4 0.3M420.3 258.9l0.8 0.2M445.5 294.3l0.0 0.0M394.2 234.1l1.4 0.2M479.0 235.4l0.2 0.0M395.5 300.6l-0.2 0.8M439.3 282.4l-0.2 0.0M475.6 278.2l1.4 0.0M454.2 251.0l-0.4 0.2M487.3 295.3l0.4 0.0M414.5 274.3l-0.6 0.5M465.7 250.3l0.3 0.6M435.2 244.3l-0.5 1.3M458.7 245.9l0.2 0.3M426.4 300.1l0.3 0.9M387.0 260.3l-0.0 0.2M458.8 242.5l-0.3 0.4M424.9 259.1l-0.1 0.3M407.6 236.1l0.3 0.7M397.5 255.3l-1.4 0.6M443.6 287.2l-0.0 0.0M412.8 279.9l0.0 0.3M390.6 238.9l0.1 0.1M393.8 252.8l-0.7 0.8M466.4 281.3l0.0 0.1M428.4 239.0l-0.5 0.4M421.1 293.2l1.0 0.9M387.1 288.0l-0.0 0.1M437.1 231.4l-0.3 0.3M477.5 287.6l0.2 0.7M452.2 290.0l-0.3 0.8M408.3 242.5l0.0 1.5M386.4 236.2l0.2 1.3M452.5 289.6l0.2 0.4M444.5 249.1l-0.0 1.4M435.1 245.8l0.4 0.5M463.8 269.3l-0.9 0.7M419.5 251.8l1.0 0.2M426.1 296.5l0.9 0.6M405.6 240.9l0.2 0.1M479.1 237.2l0.6 0.9M482.1 267.7l0.1 0.4M396.2 236.0l0.3 0.9M435.0 245.8l0.3 0.6M465.3 252.1l-0.2 0.1M461.5 248.3l-0.0 0.1M445.8 271.8l0.4 0.7M449.5 244.7l-0.2 0.5M479.4 295.0l-0.4 0.1M452.6 248.1l-0.1 0.0M389.4 256.4l-1.1 1.0M424.4 247.5l0.8 0.7M474.4 288.2l-0.0 0.2M459.5 290.3l1.3 0.3M443.3 289.6l0.1 0.2M417.2 245.0l0.5 0.0M392.8 297.7l0.6 0.3M432.7 255.9l0.1 0.6M409.7 226.9l-0.4 0.9M445.0 245.7l-0.5 1.1M420.8 291.0l-0.7 0.7M405.5 300.4l0.3 0.1M387.1 247.8l0.0 0.8M485.7 250.1l0.1 0.2M429.7 252.2l-1.4 0.1M408.2 250.7l0.7 0.0M436.2 229.7l0.7 0.2M390.8 296.0l-0.7 0.5M437.4 284.5l0.2 0.7M488.4 269.8l-0.4 0.9M461.5 226.2l0.0 0.0M401.3 231.6l-0.3 0.0M402.3 296.2l-0.2 0.2M393.2 270.1l-0.3 0.3M409.1 254.9l0.0 0.7M394.2 252.7l0.2 0.8M473.3 271.6l0.6 1.3M395.1 238.8l-0.2 0.1M456.8 294.5l-0.7 0.4M416.3 297.6l0.4 0.1M417.7 233.7l-0.5 1.0M416.0 265.3l0.6 0.1M464.9 264.1l0.5 0.1M418.5 290.1l-1.4 0.5M423.0 259.9l-0.0 0.0M424.7 279.7l0.3 0.5M423.4 253.0l0.4 0.4M477.7 250.7l-0.4 1.0M408.1 248.1l-0.2 0.1M414.8 271.4l-0.1 0.6M472.5 285.9l0.5 0.2M464.0 279.6l0.4 0.7M443.3 279.9l-0.5 0.9M445.7 282.9l0.1 0.3M389.1 229.9l0.1 0.5M413.3 281.4l-0.3 0.5M414.3 252.1l0.5 1.3M439.8 254.1l0.0 0.2M438.4 262.5l-0.6 0.2M411.9 266.0l-0.1 1.2M483.6 240.3l-0.1 0.2M487.5 244.7l-0.4 0.5M402.3 265.1l-0.6 0.9M418.9 287.7l1.2 0.7M462.2 283.6l0.1 0.1M453.6 241.9l-0.1 0.3M390.0 293.6l-0.1 0.1M392.7 281.4l-0.4 0.1M485.0 228.9l-0.0 0.9M420.6 243.9l-0.8 0.3M419.1 254.8l-1.3 0.4M480.6 266.9l0.6 0.6M457.6 246.4l0.2 0.9M424.0 259.2l-0.2 0.6M461.6 242.3l-0.3 0.8M406.2 281.4l0.8 0.3M452.2 238.9l0.1 0.0M435.0 263.8l0.0 0.2M457.2 276.6l-0.6 1.1M452.2 242.8l0.1 0.6M446.2 278.0l0.1 1.3M486.5 241.9l0.0 0.0M406.6 235.5l1.2 0.4M390.5 261.7l0.7 0.5M422.4 252.9l0.4 1.2M439.8 241.8l0.2 0.2M396.6 298.6l-0.3 0.2M446.4 293.1l0.1 0.1M434.4 292.8l0.3 1.1M390.7 293.6l-0.0 0.2M405.1 257.8l-0.6 0.4M387.0 299.1l0.8 0.9M407.5 253.0l0.8 0.2M405.0 236.5l1.4 0.3M462.3 244.0l0.0 0.0M459.4 286.2l0.7 1.0M388.5 233.7l-0.1 0.6M442.7 281.3l-0.9 0.4M449.6 278.5l-0.5 1.4M453.8 290.3l-0.4 0.4M482.9 226.8l-0.1 0.1M404.5 234.5l-0.4 0.1M427.4 263.6l0.9 0.8M457.2 297.9l0.6 0.3M429.8 253.7l-1.3 0.4M404.8 248.1l0.6 0.1M414.1 300.4l0.6 0.9M407.3 251.4l0.2 0.2M404.3 241.1l-0.1 0.2M467.9 227.8l0.2 0.7" fill="none" stroke="#3c3c3c" stroke-opacity="0.55" stroke-width="1.4" stroke-linecap="round"/>
<path d="M428.7 241.6l0.2 0.8M400.6 240.8l-1.1 1.0M401.2 244.4l-0.2 0.3M408.2 252.8l-0.2 0.7M422.6 244.8l-1.5 0.3M429.9 260.5l1.5 0.9M409.0 253.1l-1.0 0.6M436.8 245.3l1.0 0.7M409.2 239.8l-0.2 2.0M398.6 255.3l0.2 1.2M420.4 244.4l0.7 0.3M436.0 238.8l0.1 0.1M428.0 231.7l-0.0 1.6M388.4 267.6l-0.4 0.4M453.0 266.0l-0.0 0.6M445.3 226.2l-0.5 1.2M424.6 228.1l-1.2 1.0M397.5 247.5l-1.3 1.4M391.5 226.8l0.6 0.2M404.6 247.8l-0.3 1.1M405.9 235.1l0.4 2.0M437.9 233.9l-0.6 0.0M396.8 250.8l1.9 0.4M445.7 259.3l0.6 1.3M433.0 228.2l0.3 0.1M401.7 233.3l-0.1 1.0M391.5 246.3l-1.1 0.3M440.8 252.9l-1.8 0.2M424.9 264.9l0.7 0.5M389.5 266.4l1.0 1.3M410.7 264.0l0.5 1.7M426.4 249.6l1.1 0.1M400.0 240.8l-0.2 0.4M413.1 261.8l-0.5 0.4M424.2 255.6l-1.4 0.6M439.2 249.1l-0.0 0.1M434.9 255.9l-1.1 0.3M424.1 247.9l0.0 0.1M421.7 263.4l-0.0 0.1M445.2 266.1l0.3 0.1M444.1 254.1l1.5 0.8M404.0 256.9l-0.1 1.2M441.0 240.3l-0.4 1.7M444.7 253.7l-1.0 1.1M449.7 245.9l0.4 0.1M436.9 241.0l0.6 0.3M437.8 236.4l0.6 1.5M442.2 268.7l-0.0 1.5M404.0 230.8l-0.9 0.7M398.6 267.9l-1.4 0.8M448.7 239.7l-0.2 0.1M410.3 227.9l0.1 0.8M398.5 237.2l0.0 0.1M426.2 241.9l0.4 0.4M432.9 268.1l1.3 1.1M418.0 260.1l-0.3 1.3M436.7 249.7l0.8 0.5M390.5 263.7l-1.4 0.5M406.9 253.0l-0.1 0.0M436.9 228.1l-0.6 0.4M389.1 227.7l-1.3 0.4M395.6 255.9l-0.2 0.9M408.8 237.2l0.0 0.0M441.4 262.6l-0.6 0.6M400.8 238.0l-1.2 0.9M399.2 250.4l0.6 0.2M405.2 246.8l-0.5 0.4M444.3 245.0l-1.6 0.5M444.4 263.5l1.5 0.3M405.0 226.7l-0.0 0.0M447.9 238.3l1.0 1.2M406.4 267.1l-0.0 0.4M425.8 232.3l-1.2 1.2M413.2 270.6l-0.1 1.6M418.4 263.3l-0.0 0.2M386.3 251.7l0.9 0.8M403.9 256.7l1.2 0.4M396.6 264.0l-0.1 0.1M448.0 269.2l-1.3 0.6M409.0 250.2l-0.3 0.1M393.3 257.7l0.0 0.1M419.5 226.8l0.2 1.3M413.5 232.0l0.8 0.2M440.4 232.0l1.4 0.1M434.4 248.2l-1.9 0.2M404.8 238.8l0.3 1.5M441.4 270.9l1.6 0.0M412.5 257.3l0.7 0.0M436.7 245.9l-0.0 1.6M433.0 243.3l-0.0 0.6M403.8 238.8l-1.6 0.7M434.6 252.3l0.9 0.9M387.2 250.1l-0.7 0.2M396.2 268.4l0.2 1.2M414.2 237.8l1.8 0.7M432.8 264.2l-0.5 0.0M433.1 232.4l0.2 0.1M447.5 227.1l0.3 1.9M400.0 258.7l-0.1 0.1M428.6 245.6l-0.1 1.3M445.9 269.8l-0.2 1.2M398.3 235.9l-1.3 1.2M395.7 266.8l1.8 0.2M386.1 269.9l-0.2 0.0M443.0 236.7l1.5 0.7M454.7 236.1l-1.7 0.3M423.5 237.3l-0.2 0.2M387.0 253.2l0.1 0.0M389.7 250.5l0.6 0.5M393.5 246.9l0.2 0.4M413.3 270.5l-0.2 0.3M391.8 247.5l1.2 0.2M433.5 263.0l0.2 0.5M436.6 241.8l-0.7 1.9M441.9 265.6l-0.5 0.5M434.4 267.2l-0.3 0.4M423.8 236.4l-0.0 0.5M418.9 241.2l-1.4 1.1M420.8 255.4l-0.6 1.5M388.4 260.9l0.0 0.2M395.3 262.5l-0.2 0.4M431.0 267.3l1.7 0.5M394.6 261.4l0.1 0.0M415.1 238.6l-0.1 0.9M394.0 255.4l0.4 0.2M387.9 266.5l0.0 0.0M443.9 245.4l-2.0 0.2M423.7 236.9l-0.4 0.0M390.4 251.7l0.4 1.1M413.8 235.3l0.4 0.5M440.5 260.1l-1.2 0.8M412.1 256.2l0.2 0.3M447.9 235.7l0.9 0.3M416.4 235.8l-0.3 0.9M400.7 232.4l-0.1 1.0M406.0 234.5l-0.2 1.3M396.4 254.8l-0.5 1.6M387.1 269.0l-0.1 1.2M446.3 249.8l-1.8 0.6M400.7 262.9l-1.1 0.2M395.4 252.2l-0.6 0.0M411.2 257.6l-0.9 1.5M385.8 251.1l0.6 1.0M450.7 247.0l-0.1 0.1M436.1 236.1l-0.7 1.8M444.0 243.1l0.7 1.4M428.8 236.7l1.1 1.1M417.1 227.0l-0.5 1.9M421.7 254.4l0.1 0.1M453.1 228.2l0.1 1.8M445.5 241.0l0.8 1.0M424.6 254.0l1.5 0.2M406.3 248.9l0.6 0.3M413.9 227.4l-0.0 0.7M402.7 262.0l-0.1 0.1M391.4 234.5l0.0 0.4M423.4 240.1l-0.1 0.7M394.1 249.2l-0.0 0.1M416.5 258.5l0.3 0.5M405.9 237.5l-0.7 0.4M409.3 244.2l0.3 1.4M436.6 237.5l-0.0 1.9M439.8 270.0l0.0 0.0M440.2 262.4l-0.8 1.1M430.0 237.3l-0.8 1.3M452.5 254.9l0.9 0.7M408.0 243.3l-0.1 0.1M399.6 257.4l-0.2 1.0M434.7 229.7l0.3 0.0M449.4 228.8l0.0 0.0M432.4 257.9l0.4 0.5M418.1 241.7l-1.4 0.6M435.0 266.2l-1.1 0.4M421.6 256.5l-0.6 0.8M449.2 259.1l0.3 0.2M435.3 263.7l0.8 0.6M404.3 269.7l-1.5 0.6M407.6 254.4l0.8 1.0M426.9 241.9l1.3 1.3M395.7 255.7l0.1 0.1M399.5 234.4l1.8 0.3M402.1 261.0l-0.4 0.2M451.5 235.4l1.1 0.2M419.9 267.3l0.1 0.6M404.8 251.5l-1.6 0.7M400.5 236.9l-0.4 1.0M423.8 244.8l0.2 1.2M401.1 248.1l-0.9 0.1M431.3 226.1l0.3 0.7M423.2 228.9l-0.3 1.1M433.7 244.5l1.0 0.7M447.9 239.0l-0.1 0.0M410.7 255.6l-0.3 0.1M390.6 249.6l1.5 0.7M414.6 238.3l-1.1 1.6M385.4 257.2l-0.5 0.2M407.1 252.4l1.8 0.1M443.6 247.1l-0.2 0.2M431.5 247.6l0.1 0.2M404.3 258.2l0.2 1.6M410.7 255.4l-0.0 0.0M447.5 253.8l-0.1 0.1M386.0 256.3l-0.7 0.3M399.0 236.4l1.5 0.8M388.7 228.0l-0.2 0.0M450.7 260.1l0.8 1.0M406.6 226.6l1.4 0.4M453.4 265.4l0.1 1.5M448.9 232.3l-1.3 0.5M437.2 266.3l-1.2 1.1M451.3 234.2l-0.6 0.3M416.6 236.1l-0.3 1.6M422.0 235.4l0.3 0.1M394.9 256.0l-1.4 0.5M420.8 269.8l0.9 0.1M419.6 232.5l-0.2 0.6M436.7 253.7l-0.6 0.7M419.2 242.0l1.4 0.8M453.6 244.0l-0.3 0.1M428.8 233.9l0.4 0.2M430.8 266.7l0.9 0.5M398.6 240.5l-1.3 0.3M389.4 245.9l-0.9 1.6M413.9 256.6l-1.1 0.1M408.8 251.6l-1.2 1.4M440.1 241.1l0.9 0.8M421.1 246.4l0.8 0.8M454.7 255.9l0.7 0.3M422.7 246.7l-0.3 1.0M434.6 270.1l0.6 0.7M394.5 230.8l0.1 1.0M400.8 244.6l0.5 0.6M405.3 231.7l0.5 0.5M395.4 267.1l-0.1 0.0M430.7 269.8l-0.0 0.0M429.1 267.4l0.7 0.8M444.3 247.5l0.6 0.8M404.2 259.5l0.2 1.6M453.8 259.6l1.3 0.2M425.9 268.3l-0.5 0.1M441.7 253.3l1.6 1.1M415.6 241.3l1.3 0.0M438.8 232.1l-0.4 1.1M407.1 246.8l0.7 0.4M417.8 254.8l-1.5 0.5M436.3 246.4l-0.0 0.5M433.4 257.5l-1.6 0.0M402.8 251.4l-0.1 1.7M437.8 266.2l0.6 0.3M424.7 238.7l-1.2 0.2M415.2 226.7l-0.0 1.0M396.9 256.6l1.2 1.5M418.5 248.4l-0.1 0.1M393.0 243.5l-0.3 1.1M454.9 238.7l0.6 0.5M394.2 237.2l-0.0 0.0M402.0 256.0l0.9 1.1M412.7 248.9l-0.0 0.4M447.5 231.9l0.2 1.1M418.9 259.1l1.3 0.6" fill="none" stroke="#383838" stroke-opacity="0.5" stroke-width="1.9" stroke-linecap="round"/>
<path d="M401.1 260.0Q402.0 260.9 404.7 262.4M487.0 287.8Q487.4 289.4 488.6 291.7M441.5 239.7Q437.9 241.5 434.9 243.1M417.7 271.1Q418.1 272.9 419.0 274.3M399.9 242.4Q404.5 244.3 407.2 244.2M481.3 232.2Q483.4 233.4 485.8 236.1M416.0 296.0Q414.7 299.7 414.6 302.3M476.5 295.0Q474.4 296.9 472.4 300.6M407.8 287.8Q404.0 289.2 401.6 291.1M480.0 239.1Q481.5 241.2 483.1 242.2M473.4 235.6Q472.5 238.5 473.3 241.3M406.5 281.3Q408.4 282.2 410.7 281.3M435.7 245.8Q437.4 249.2 436.8 251.5M436.8 285.5Q436.6 287.7 435.5 290.5M394.9 259.7Q394.5 262.9 393.5 266.4M492.5 276.7Q490.2 278.2 485.7 278.5M428.7 262.5Q429.9 265.3 430.8 265.7M460.0 230.1Q458.0 230.7 456.2 232.8M467.2 237.2Q465.0 236.7 460.9 237.4M413.7 228.5Q412.3 229.5 409.2 230.0M420.0 260.5Q419.5 261.8 417.5 264.5M449.4 272.8Q449.9 274.7 448.9 277.3M442.3 285.1Q441.6 287.0 442.4 289.4M388.9 280.0Q386.7 284.1 384.0 286.2M443.0 226.5Q445.1 228.2 446.5 231.5M408.5 275.3Q412.3 276.8 414.1 276.6M438.2 262.4Q436.6 265.4 434.6 268.5M401.7 259.8Q403.7 260.5 404.6 262.3M435.5 242.3Q436.6 245.5 437.4 248.2M397.5 270.2Q396.8 273.9 397.4 276.6M385.2 247.2Q388.1 246.7 389.7 247.7M452.6 244.8Q454.0 244.2 456.7 245.2M399.2 256.2Q398.4 258.7 399.2 260.9M480.1 231.7Q477.6 231.6 474.7 231.8M481.7 233.7Q482.3 234.2 484.6 235.3M470.5 258.9Q472.2 261.6 473.9 263.0M454.8 275.4Q452.5 277.7 450.8 281.7M476.8 279.9Q475.3 281.0 473.7 281.0M422.6 234.4Q422.6 234.8 422.4 237.5M401.1 283.0Q400.0 285.4 396.9 288.3M419.7 242.9Q418.9 243.6 417.1 245.3M427.1 229.5Q423.9 232.1 421.5 233.6M387.3 274.7Q386.7 276.0 387.7 279.7M389.0 297.1Q392.8 298.2 396.0 297.7M450.0 278.1Q451.4 280.5 454.4 281.7M399.0 298.2Q400.0 298.4 402.5 300.9M470.7 291.6Q473.6 292.4 475.1 292.0M402.9 286.0Q406.3 287.8 409.1 288.2M393.8 258.3Q396.0 259.8 397.6 259.4M448.5 249.2Q448.9 249.7 451.5 252.3M437.5 295.8Q439.4 296.3 442.3 296.3M411.1 259.6Q414.6 259.1 417.0 260.3M391.1 241.2Q392.4 242.4 392.4 244.7M453.3 291.5Q455.2 292.6 457.1 293.8M449.3 227.7Q451.0 230.2 454.6 230.8M383.5 271.6Q386.3 273.5 388.0 276.0M420.0 261.9Q420.8 265.2 419.7 266.8M419.8 233.3Q417.6 235.9 415.3 239.2M445.1 284.6Q448.0 286.8 448.9 287.8M443.6 285.1Q446.1 286.3 447.5 288.8M435.4 274.2Q437.8 275.6 439.8 275.9M431.1 254.1Q430.5 257.4 429.9 260.5M473.3 230.1Q472.7 232.6 470.8 233.6M474.4 236.9Q473.5 239.4 472.8 243.1M385.2 271.6Q386.9 274.2 390.7 274.7M453.6 278.0Q454.2 281.6 456.1 284.8M482.4 275.1Q481.0 278.5 479.8 280.6M428.9 273.3Q429.0 276.1 429.3 278.2M403.2 278.1Q405.8 278.7 408.1 280.7M475.2 279.0Q472.8 279.6 472.3 280.5M472.7 275.5Q473.4 277.6 472.0 278.8M416.9 235.1Q415.2 238.5 412.3 240.7M465.8 242.1Q466.7 242.1 469.3 244.3M404.1 247.0Q407.9 248.4 410.0 249.7M488.6 260.9Q489.8 263.3 488.9 264.8M403.7 275.8Q401.3 276.2 401.1 278.9M419.8 239.8Q422.1 242.6 423.3 243.8M477.9 287.5Q480.6 288.8 482.9 290.4M418.9 283.3Q417.0 285.2 415.3 287.7M472.5 246.0Q469.8 249.3 468.7 250.7M394.8 243.9Q393.4 243.4 391.4 244.9M422.7 243.6Q420.4 245.3 417.1 249.1M445.6 264.0Q447.1 265.7 448.1 267.7M445.0 225.9Q441.8 227.3 440.1 226.4M389.9 252.0Q388.8 254.1 385.7 257.2M471.6 224.0Q474.0 225.7 474.9 228.0M446.0 235.5Q444.7 235.5 442.2 236.1M443.1 281.3Q441.0 282.9 437.9 286.1M392.2 236.4Q388.3 236.4 385.3 238.6M386.8 291.2Q387.0 295.9 385.8 298.4M420.5 267.7Q421.8 269.3 420.9 272.5M478.5 277.1Q480.9 280.0 482.0 283.2M426.0 242.3Q423.5 241.7 419.2 242.8M421.1 257.4Q421.7 260.5 420.6 265.0M487.0 247.5Q489.1 248.4 492.9 249.0M476.3 282.7Q476.4 283.8 476.7 287.0M482.9 270.7Q481.6 272.4 480.3 275.2M425.9 266.6Q423.8 267.0 423.4 269.6M427.6 247.4Q428.5 248.3 428.8 251.0M422.0 270.8Q424.0 273.1 425.0 275.7M453.7 229.2Q451.2 232.4 450.5 234.9M468.0 291.3Q466.2 290.9 463.9 291.7M440.2 232.8Q437.9 233.8 436.6 233.7M406.6 240.0Q409.5 241.8 410.7 243.5M384.7 271.1Q388.4 272.5 389.8 275.3M419.3 248.7Q417.3 251.1 417.7 255.4M440.8 258.6Q439.6 259.3 440.2 261.9M488.4 273.8Q489.2 274.4 490.0 277.0M483.6 278.6Q481.5 280.5 480.9 280.6M484.7 279.3Q485.1 279.3 487.4 281.0M420.5 239.2Q421.7 241.9 422.0 246.7M481.0 248.7Q482.1 248.5 485.5 249.0M420.7 263.6Q421.4 266.7 422.6 269.1M437.3 280.3Q437.1 281.4 438.0 284.5M446.9 271.5Q448.6 273.3 452.6 273.4M487.9 279.5Q485.5 279.7 482.3 280.3M482.8 225.8Q484.2 226.8 486.1 226.5M464.4 262.4Q464.5 264.7 464.9 266.3M388.5 241.0Q389.6 244.4 389.4 247.8M436.9 296.5Q440.5 298.5 442.1 298.3M429.4 246.9Q429.6 248.4 430.5 250.2M397.3 287.9Q394.5 289.7 393.3 289.3M447.7 274.3Q443.6 275.8 440.2 276.8M410.2 237.6Q412.7 240.2 415.7 241.2M415.7 287.7Q415.7 288.9 413.7 290.5M482.5 295.9Q484.2 298.4 484.1 303.1M430.1 239.4Q428.4 240.5 426.5 243.4M416.6 260.4Q414.6 262.1 410.8 262.7M434.9 273.8Q434.3 275.6 432.8 278.5M389.4 279.5Q387.2 281.6 382.8 283.3M482.0 235.2Q483.3 237.4 485.4 240.7M393.5 268.6Q395.6 270.0 398.2 270.6M389.8 232.5Q391.6 233.6 392.9 234.0M454.7 226.5Q453.6 228.6 450.2 229.5M434.9 267.7Q436.5 270.3 436.1 272.7M410.6 294.7Q411.5 296.0 410.5 298.2M451.3 230.1Q452.7 230.8 451.8 233.4M425.4 274.2Q424.4 277.1 421.2 280.2M408.2 264.7Q405.9 266.7 403.6 269.4M383.1 249.6Q385.5 253.0 387.5 254.5M452.3 247.4Q453.4 248.6 454.7 251.5M395.8 267.2Q394.7 269.2 392.6 269.1M446.7 290.6Q449.4 290.7 452.8 291.6M450.9 271.9Q450.9 273.9 449.8 275.7M407.0 234.3Q408.7 234.7 410.8 235.8M416.8 272.1Q419.2 272.7 420.7 272.4M480.0 287.0Q477.6 286.5 475.4 287.0M454.4 235.7Q452.4 238.3 451.5 241.4M438.1 244.7Q437.2 247.9 435.0 249.9M400.6 234.8Q399.2 237.9 395.9 239.0M486.4 238.2Q488.4 240.3 489.6 243.1M491.0 277.8Q489.5 280.5 486.1 283.1M415.8 279.0Q418.7 280.7 419.4 280.4M426.2 273.5Q428.8 276.1 431.9 277.4M397.3 248.2Q394.9 248.7 391.0 249.3M469.2 232.2Q468.5 233.7 466.5 235.3M402.0 280.6Q403.2 284.2 405.3 285.6M436.2 239.7Q438.0 241.2 438.4 244.5M448.7 297.0Q447.0 300.1 445.6 303.9M468.1 296.3Q472.6 298.7 475.0 299.6M445.2 248.2Q443.5 250.1 439.9 250.3M416.2 292.4Q415.2 294.5 412.8 297.3M399.0 228.6Q401.1 230.4 402.7 231.1M436.4 240.7Q433.9 244.0 431.0 246.5M458.8 290.3Q457.2 292.0 454.5 293.7M399.4 292.7Q400.1 296.1 402.4 299.9M482.1 239.5Q484.3 241.0 484.7 242.1M421.5 225.9Q420.1 230.5 420.8 233.9M413.6 286.2Q416.4 289.8 418.5 291.9M415.1 289.8Q417.8 292.7 422.1 293.4M385.9 291.6Q387.2 294.6 387.8 295.7M475.6 268.7Q475.2 271.7 474.2 274.8M437.3 261.3Q435.1 262.5 435.1 265.0M485.4 272.9Q483.8 276.9 481.1 279.1M407.3 225.7Q409.0 227.1 409.5 229.4M452.6 279.4Q455.9 279.4 458.7 280.8M465.1 269.7Q466.7 271.3 468.0 271.0M477.9 290.5Q478.2 294.7 479.8 297.0M424.8 292.7Q425.3 293.8 426.5 295.8M385.2 231.0Q386.0 231.0 387.5 232.9M430.4 290.6Q431.0 291.3 433.9 290.6M474.7 227.4Q471.4 228.3 467.6 227.8M415.6 227.7Q412.1 230.8 410.5 233.5M421.6 244.3Q423.9 246.7 423.9 249.7M441.0 256.9Q442.4 256.3 444.5 257.4M405.2 292.4Q408.7 293.6 412.6 292.6M455.6 234.6Q452.6 233.5 449.1 234.7M388.9 247.9Q389.0 250.1 386.8 251.1M424.1 231.8Q426.1 233.5 426.5 235.2M488.6 298.5Q489.3 300.7 491.3 301.5M479.8 256.7Q480.9 258.5 479.8 261.3M393.5 285.8Q395.4 287.0 397.7 288.0M424.0 237.0Q425.9 238.1 426.6 241.1M472.6 298.5Q473.0 299.0 475.2 300.1M486.1 244.6Q487.9 245.3 488.9 247.9M429.4 270.8Q430.3 271.0 432.6 271.3M456.0 228.8Q451.6 230.1 449.3 232.4M482.2 282.4Q485.0 283.9 488.0 283.6M431.6 267.0Q433.4 268.4 433.1 270.4M401.7 273.7Q404.8 273.3 405.8 274.9M419.9 231.7Q418.6 235.7 418.9 239.0M472.4 253.2Q475.2 254.8 478.5 257.9M392.4 242.7Q389.7 242.9 385.4 245.2M454.7 243.4Q456.5 244.5 458.4 243.7M402.1 259.6Q403.7 262.8 403.5 264.0M383.5 252.1Q385.9 252.2 387.1 252.4M447.7 225.3Q446.5 225.9 444.8 227.4M404.3 240.2Q406.8 241.7 407.6 244.8M448.2 236.5Q447.0 239.6 445.6 243.5M483.4 229.7Q483.8 230.7 483.8 233.3M413.0 273.1Q415.2 274.7 416.1 276.7M412.2 276.7Q410.1 279.6 409.3 280.9M454.8 228.1Q458.6 228.7 461.5 228.1M420.0 244.6Q421.9 247.3 422.4 249.6M447.7 291.8Q445.6 293.2 441.9 296.4M476.5 282.7Q478.2 283.1 481.6 285.0M413.2 238.0Q413.8 242.5 412.9 244.5M488.6 261.6Q489.4 263.1 490.7 264.0M389.0 262.1Q388.7 265.8 388.1 268.1M482.7 260.7Q481.5 262.8 478.0 265.0M459.8 276.4Q458.7 278.7 459.6 280.9M428.7 240.4Q426.1 241.9 424.1 241.0M410.8 232.0Q414.7 232.7 417.3 235.5M410.3 228.9Q408.3 233.6 408.5 236.5M457.6 269.1Q459.9 272.4 462.0 273.6M405.4 235.9Q405.2 238.0 405.7 239.5M448.4 287.6Q444.9 289.4 443.1 292.2M459.3 281.7Q459.3 283.7 459.1 285.1M438.0 294.6Q441.1 295.6 443.4 295.9M482.8 231.4Q481.4 232.8 482.3 236.4M413.4 277.0Q413.3 279.0 413.0 280.2M486.4 242.8Q485.1 245.9 484.1 249.6M442.0 270.5Q442.7 271.3 444.1 273.2M408.4 232.8Q409.9 235.5 410.7 237.9M425.6 271.5Q422.7 273.0 418.3 273.1M455.4 274.0Q453.4 274.0 449.2 276.2M402.4 224.3Q400.9 227.2 400.2 229.3M472.9 257.7Q474.7 259.5 478.7 262.2M407.1 224.7Q405.5 226.7 404.0 228.5M405.5 226.6Q403.4 226.6 399.8 227.8M418.8 244.1Q421.2 246.2 423.6 250.3M445.0 244.8Q444.4 246.3 444.1 249.0M467.3 278.0Q469.8 278.7 471.1 279.2M483.5 253.9Q480.6 254.7 478.9 254.6M431.8 260.0Q432.0 262.2 431.5 264.3M487.8 293.4Q487.8 296.4 487.1 299.6M428.7 281.7Q430.1 284.2 431.9 284.8M430.8 275.4Q426.7 276.1 423.2 277.6M391.6 278.7Q391.3 280.8 388.8 281.0M456.1 278.7Q457.8 280.7 459.1 283.9M411.9 257.3Q414.3 258.7 414.4 261.2M488.6 276.5Q489.2 277.5 491.4 279.3M391.9 257.0Q392.4 259.6 391.1 263.3M479.3 260.9Q479.9 262.0 480.7 263.7M427.1 238.5Q428.0 241.1 428.1 242.2M463.7 248.3Q461.6 251.7 459.5 253.0M468.4 290.3Q468.3 292.5 469.3 293.3M429.4 247.0Q430.1 249.6 430.4 254.2M406.7 266.3Q411.3 267.5 414.4 266.4M483.3 258.2Q480.8 259.0 480.2 260.0M410.5 274.3Q407.6 277.4 404.9 279.8M477.3 227.2Q479.2 226.7 481.1 227.8M454.2 224.5Q451.9 227.2 450.8 230.6M452.0 277.4Q452.2 280.1 451.9 283.7M392.3 298.1Q389.6 298.1 388.6 298.3M421.3 252.9Q418.3 254.4 417.5 255.1M483.9 282.1Q484.0 285.8 484.6 289.5M444.3 278.1Q443.6 280.5 444.4 281.1M403.7 265.0Q404.5 265.2 406.9 266.6M483.6 293.0Q480.0 294.1 476.6 295.7M460.6 297.6Q457.8 299.8 455.7 299.8M445.8 289.7Q448.3 291.6 449.0 295.4M403.7 269.7Q406.4 271.5 408.7 272.9M452.2 238.4Q453.4 239.6 455.8 240.6M462.6 224.6Q461.3 227.5 459.0 228.1M430.1 267.4Q425.4 267.7 422.4 269.5M410.6 279.2Q411.6 280.7 413.4 284.5M439.6 257.9Q438.9 258.8 437.7 261.8M390.8 253.0Q388.4 254.3 384.7 254.2M463.4 289.6Q465.1 291.3 468.0 293.3M389.6 277.7Q387.6 278.1 384.4 278.8M427.7 250.1Q423.9 250.2 421.0 252.6M463.4 242.7Q462.3 246.0 461.1 247.8M386.9 239.4Q388.9 241.6 392.6 243.5M466.4 247.3Q465.2 247.2 461.7 248.2M476.4 279.4Q475.9 280.4 476.1 283.5M474.4 261.5Q475.7 262.2 477.7 262.7M453.8 228.9Q453.0 230.2 450.4 230.6M392.3 280.7Q396.2 283.2 398.0 284.2M385.0 280.3Q387.2 279.7 390.5 280.8M403.6 296.0Q401.1 296.1 400.9 297.4M419.1 254.1Q419.6 256.8 419.3 258.2M405.1 291.1Q403.6 293.3 400.1 294.8M458.0 248.8Q458.5 250.9 458.7 252.2M462.4 233.2Q460.0 235.1 456.6 237.1M422.5 273.0Q426.1 275.0 427.3 277.3M484.5 296.9Q487.0 296.5 487.1 298.5M463.1 228.1Q461.1 230.6 457.5 231.0M409.3 279.0Q407.9 282.2 407.0 284.4M400.3 225.0Q397.1 227.3 395.7 231.2M400.9 246.6Q400.1 247.8 400.7 250.0M419.8 290.4Q421.8 292.0 422.4 295.0M418.9 246.1Q420.2 248.0 423.7 248.6M403.8 238.3Q401.8 239.7 401.4 241.0M484.8 285.6Q483.2 286.9 480.4 288.5M464.5 234.2Q463.4 236.2 460.7 236.5M405.5 286.6Q408.3 288.1 412.9 288.6M445.9 295.7Q443.9 297.5 443.0 297.6M386.4 250.1Q388.4 252.5 391.4 253.6M409.9 289.5Q410.3 291.4 411.3 292.2M489.6 271.1Q485.9 271.6 484.3 274.3M422.5 257.5Q423.4 260.4 422.2 263.2M478.6 258.1Q475.5 259.5 471.9 261.3M455.9 257.0Q456.0 258.3 458.2 259.3M444.1 295.9Q440.8 298.2 439.4 299.3M435.4 244.8Q434.4 247.4 433.9 250.1M389.7 272.9Q392.6 273.0 395.9 275.2M419.5 291.6Q419.8 292.9 418.8 294.7M384.0 262.7Q386.7 264.0 389.8 263.2M399.5 271.6Q396.4 272.1 394.4 272.0M393.9 296.7Q392.4 299.8 389.9 302.8M409.1 299.4Q407.3 300.1 403.6 299.9M459.0 287.7Q461.3 287.7 465.3 288.8M411.1 279.1Q410.8 281.9 410.6 284.3M492.0 237.1Q487.5 239.3 485.4 240.8M411.9 291.7Q413.2 293.3 414.6 296.4M452.3 276.0Q451.0 275.9 449.3 277.9M481.3 225.9Q484.4 226.9 487.8 227.6M392.0 288.8Q394.1 289.9 397.2 289.6M419.3 275.1Q422.0 276.8 423.2 276.6M403.1 266.7Q406.6 268.7 408.9 269.0M417.2 226.7Q418.9 226.5 421.3 227.2M476.2 243.2Q476.8 244.8 475.9 246.2M385.2 246.4Q384.3 249.8 385.8 251.0M405.0 282.7Q407.9 285.8 409.5 286.8M491.8 281.5Q488.6 284.0 485.8 286.4M400.8 255.5Q402.7 256.6 402.4 258.2M471.0 262.2Q471.2 263.4 470.4 265.6M392.0 288.6Q389.5 291.3 386.0 291.8M456.0 230.0Q457.7 232.1 459.9 232.8M442.6 284.6Q440.1 287.2 438.1 289.5M383.6 248.4Q387.5 250.9 389.5 252.6M454.0 236.0Q452.7 238.5 450.4 240.0M441.0 256.1Q442.9 260.0 442.8 262.4M424.1 275.1Q422.6 275.4 422.6 277.7M400.2 266.6Q401.6 266.9 404.1 267.4M445.8 279.7Q447.9 279.7 451.2 280.6M403.9 296.9Q402.3 298.9 402.1 301.5M458.7 253.4Q459.9 255.5 460.0 256.5M433.6 273.8Q435.7 277.7 435.8 280.6M435.2 238.6Q433.3 240.7 430.9 241.9M393.5 235.5Q391.8 236.0 392.3 238.4M473.0 241.6Q470.6 242.0 467.0 242.8M405.8 292.5Q404.2 291.9 401.2 293.7M454.0 231.4Q454.8 231.9 457.9 234.0M395.1 260.9Q395.2 261.4 397.6 264.0M396.1 285.7Q393.6 287.1 389.1 289.4M413.8 270.1Q410.0 271.5 406.8 270.8M402.1 283.0Q402.9 284.3 403.4 286.9M471.2 263.5Q466.4 265.5 463.8 266.0M409.0 232.3Q408.9 234.0 408.2 236.5M422.3 239.0Q423.5 242.1 422.8 243.2M387.9 249.7Q385.7 250.3 384.9 252.4M388.5 253.7Q385.5 254.2 382.4 256.9M446.3 240.3Q447.2 241.7 446.8 245.2M406.3 277.5Q408.1 280.9 411.0 282.2M468.1 256.9Q465.7 258.3 465.6 258.7M404.8 251.1Q405.1 253.0 406.8 256.1M417.3 287.9Q414.5 288.4 413.4 289.4M440.6 252.4Q437.3 255.6 436.3 257.9M394.5 234.8Q392.1 234.3 387.6 236.0M431.2 286.2Q428.6 287.4 427.4 290.7M460.6 231.1Q461.9 235.6 462.9 238.4M408.1 285.9Q409.7 288.4 409.8 289.6M434.7 237.0Q432.5 239.0 430.1 240.1M457.3 244.1Q457.9 248.9 459.2 251.7M408.4 230.9Q410.4 232.9 412.8 234.1M409.1 265.9Q404.7 267.0 402.3 269.6M431.9 271.8Q431.4 273.5 431.1 274.7M418.1 275.7Q418.0 277.8 419.4 278.6M413.2 269.7Q415.1 269.5 416.7 269.8M471.3 258.3Q474.6 258.6 479.1 259.7M388.4 285.6Q386.9 285.7 385.3 287.7M399.8 290.6Q401.0 292.8 400.6 296.1M472.3 243.7Q467.9 245.3 465.7 247.2M407.3 240.9Q410.8 240.2 412.3 241.6M393.8 269.4Q393.3 270.9 394.5 273.2M474.4 293.9Q473.3 294.7 470.6 297.5M397.1 283.3Q396.0 286.8 393.9 288.5M387.5 292.8Q387.0 295.3 386.5 298.0M435.3 229.8Q435.8 230.2 437.3 232.8M414.8 230.7Q412.1 233.5 411.7 234.5M486.6 228.4Q485.6 231.6 484.5 233.1M433.1 296.1Q430.8 297.4 428.4 300.5M449.3 253.1Q446.1 253.7 444.5 253.3M463.6 245.6Q464.1 247.2 462.2 250.5M485.9 255.2Q485.6 259.7 486.9 261.9M457.0 238.5Q459.1 242.9 461.1 245.2M450.7 253.1Q450.7 255.4 452.8 258.2M445.3 298.8Q443.8 300.3 440.3 301.8M489.2 267.4Q486.2 268.3 485.5 267.7M419.4 236.9Q420.8 238.0 422.6 237.9M417.0 283.0Q414.9 284.1 414.0 284.8M456.7 255.3Q456.3 257.1 456.5 260.7M463.4 252.8Q464.6 254.3 468.2 254.2M465.3 284.2Q466.8 285.1 467.9 286.5M451.3 273.4Q451.6 275.2 453.4 276.2M475.3 276.1Q472.7 277.0 471.9 276.3M410.6 300.0Q409.0 301.4 406.7 300.9M426.1 275.2Q429.1 276.3 431.6 276.2M474.2 236.6Q473.9 239.3 474.7 243.5M427.5 260.3Q423.4 261.1 420.9 260.5M384.0 245.4Q385.7 246.0 386.9 246.3M418.3 297.1Q421.9 296.8 423.9 297.3M449.9 233.3Q445.5 234.3 443.1 234.7M416.8 246.8Q414.6 246.7 412.7 248.4M430.7 255.9Q431.4 255.4 434.3 256.1M476.2 281.3Q476.8 282.1 476.9 284.2M466.2 261.5Q464.7 263.2 463.1 263.4M467.1 241.7Q464.3 242.1 461.2 242.9M431.0 271.3Q430.2 274.3 427.5 277.6M395.7 281.5Q397.4 282.3 399.1 283.8M434.0 295.2Q432.0 296.8 430.7 299.0M452.2 244.3Q453.6 245.3 456.1 245.5M432.9 254.3Q432.7 258.0 431.3 262.0M398.6 289.8Q396.2 291.4 393.4 293.2M455.5 287.8Q457.2 289.2 459.1 290.2M397.2 265.7Q394.6 267.8 391.4 268.8M476.7 240.2Q475.6 243.8 474.5 245.5M404.0 251.5Q404.5 255.7 406.2 257.9M471.7 294.3Q473.0 299.3 472.9 302.2M417.1 293.0Q419.9 295.5 424.4 296.1M434.8 243.0Q435.8 246.8 437.9 248.7M490.1 297.4Q488.7 300.4 489.4 304.2M432.6 287.1Q431.2 286.7 429.7 288.3M408.9 275.9Q408.8 278.0 410.4 279.6M386.5 231.8Q386.5 234.6 385.7 236.1M462.8 246.4Q461.6 245.8 459.3 246.4M432.5 246.0Q429.5 246.2 426.9 246.4M486.2 238.7Q488.1 242.0 489.7 243.3M403.8 245.3Q406.7 247.0 409.2 249.8M451.3 290.9Q449.3 294.7 447.6 298.0M484.0 288.8Q480.0 287.9 478.1 289.4M475.2 255.5Q477.5 258.0 480.4 259.1M398.2 253.7Q397.7 254.7 397.8 258.1M446.7 279.6Q443.6 280.4 442.7 280.3M457.6 258.9Q458.1 260.6 457.7 262.2M433.6 256.1Q430.9 257.9 429.6 258.4M429.8 238.1Q427.5 240.7 427.5 243.6M443.0 259.4Q442.0 260.6 438.7 261.0M446.9 247.7Q447.4 249.7 446.7 251.4M429.6 226.9Q429.8 229.8 431.0 233.4M461.9 241.9Q462.0 244.5 461.8 248.2M405.4 294.7Q403.0 295.5 400.9 295.4M408.6 244.1Q408.4 245.9 408.5 247.2M483.0 268.2Q484.3 272.1 483.5 274.6M483.1 267.2Q485.5 269.5 487.6 270.8M390.7 237.3Q391.0 239.4 392.8 242.4M482.6 251.2Q480.8 251.3 478.8 252.6M420.1 245.7Q420.4 248.4 422.1 250.5M424.7 297.6Q422.6 298.7 418.2 299.6M457.5 243.0Q457.4 244.6 457.0 246.6M449.1 279.7Q447.1 281.6 445.1 281.1M389.9 298.5Q392.4 299.8 395.4 301.3M481.3 251.6Q477.8 252.7 475.9 254.1M480.2 299.5Q477.8 300.4 473.3 301.1M396.3 291.9Q394.6 294.9 393.9 297.7M427.9 247.2Q427.4 250.0 426.1 250.8M472.7 249.6Q471.5 249.8 469.7 250.2M487.5 260.5Q486.6 262.3 483.8 263.1M406.5 247.1Q407.6 250.4 409.0 252.5M394.6 293.5Q393.5 296.2 391.3 298.6M455.5 269.3Q452.0 268.7 448.2 270.5M437.2 260.0Q436.9 262.4 438.8 264.7M436.2 237.6Q433.6 237.7 428.7 239.5M431.2 245.3Q432.4 245.5 433.7 247.8M430.7 281.3Q433.4 281.7 438.2 282.7M386.4 255.4Q389.5 256.6 391.7 258.8M419.0 259.9Q416.8 262.4 416.2 265.2M472.5 241.1Q476.2 243.8 477.5 246.6M475.5 277.3Q472.3 278.1 469.5 281.1M386.2 269.8Q386.5 272.0 388.4 274.7M386.7 231.9Q389.7 234.3 391.1 236.1M490.7 233.5Q489.2 234.8 486.9 238.0M473.1 250.7Q475.0 251.1 479.3 251.0M480.1 260.6Q483.3 261.1 484.1 261.7M394.2 251.4Q394.1 253.2 395.2 254.6M388.0 240.6Q384.6 241.7 383.5 240.9M398.1 229.4Q398.9 232.2 398.6 234.9M466.2 271.2Q463.9 270.9 462.7 272.4M486.6 243.0Q483.3 243.9 481.5 247.1M484.0 258.7Q484.5 260.6 483.5 261.7M408.2 228.7Q406.3 231.8 404.9 233.4M439.9 250.0Q438.8 250.3 437.6 252.4M387.7 277.2Q385.9 276.8 384.9 278.5M488.1 248.4Q487.3 252.4 486.1 254.9M449.4 274.6Q445.6 276.2 444.0 276.5M461.3 296.2Q459.7 298.0 455.8 297.6M445.7 248.6Q444.7 250.5 444.1 251.4M391.2 225.5Q393.4 225.4 396.1 227.2M439.2 271.4Q439.2 273.0 439.7 275.7M456.9 295.7Q457.5 296.6 459.6 298.3M391.1 278.3Q390.7 282.9 390.5 286.1M437.9 270.1Q441.8 269.6 445.4 271.3M435.1 233.3Q434.6 234.8 435.1 237.1M470.4 252.2Q470.9 254.2 473.6 256.1M456.2 292.2Q455.9 294.2 453.5 296.1M402.4 278.8Q402.1 282.8 400.0 284.7M388.3 234.6Q386.3 234.8 385.0 236.2M394.5 246.4Q392.9 247.3 392.6 249.7M440.8 282.8Q441.6 284.9 444.8 286.9M419.7 255.7Q421.2 257.3 423.6 257.1M470.7 296.9Q474.4 296.8 477.6 297.3M399.0 271.2Q400.1 273.1 401.0 274.0M397.4 231.5Q395.8 235.2 395.4 238.9M405.4 278.9Q406.6 281.5 409.3 282.1M454.0 241.4Q453.0 244.2 450.0 246.4M444.0 255.2Q444.9 258.4 446.8 259.8M429.4 287.0Q431.9 287.6 434.1 288.3M440.5 286.6Q443.0 288.5 443.8 290.4M388.4 250.1Q390.5 251.1 390.4 252.6M421.7 276.6Q425.9 276.9 428.4 278.1M482.8 242.6Q482.1 245.2 483.7 248.8M430.2 259.7Q426.9 259.9 422.7 260.8M481.4 269.6Q481.8 271.6 484.3 271.8M391.5 295.3Q387.2 296.6 385.2 296.0M430.7 270.9Q427.0 271.4 423.9 271.5M431.9 282.6Q435.3 283.5 437.1 286.2M423.0 250.1Q423.6 252.3 423.7 254.7M423.7 273.7Q422.9 276.3 424.3 278.1M466.1 280.6Q467.5 280.3 469.9 281.0M439.5 247.8Q440.6 249.4 444.1 250.8M450.3 295.3Q448.4 295.9 446.9 297.1M393.0 242.9Q396.3 244.9 400.0 246.4M391.1 235.8Q394.1 238.4 395.6 239.0M461.4 255.4Q458.9 257.0 458.4 257.9M441.7 272.2Q438.4 272.5 436.6 274.2M425.2 299.1Q429.4 301.4 431.3 302.1M473.3 231.6Q472.2 235.5 471.4 238.0M487.0 295.2Q485.3 296.0 485.7 299.1M398.0 233.8Q394.7 235.0 391.6 238.5M455.0 254.1Q454.2 257.2 451.1 258.5M421.1 264.9Q422.0 267.7 420.9 268.6M391.9 260.4Q392.1 262.0 392.6 265.3M448.5 249.3Q451.2 250.5 453.2 253.1M461.3 247.1Q463.0 249.0 464.8 248.9M450.6 268.6Q447.6 270.0 446.3 269.0M415.5 231.1Q414.1 233.6 410.6 236.8M386.3 266.7Q388.9 265.6 390.6 266.7M429.9 277.1Q433.5 280.4 436.1 281.4M421.1 275.7Q421.2 277.6 423.7 278.6M464.0 274.8Q463.7 279.1 464.9 282.1M403.9 226.2Q400.8 226.8 396.7 226.4M427.1 295.3Q430.7 297.1 433.2 297.8M441.3 255.6Q440.4 257.0 439.5 258.5M455.8 292.1Q459.1 292.7 463.0 293.9M411.4 259.5Q413.6 258.7 416.7 260.0M403.8 272.3Q404.0 275.6 405.6 277.3M417.2 290.6Q415.4 292.3 414.4 295.2M388.0 293.4Q390.6 296.8 390.7 298.0M425.7 273.6Q426.5 276.9 426.5 280.6M403.5 232.2Q406.4 233.3 407.6 236.3M412.4 291.7Q410.9 292.9 407.4 293.5M386.6 275.4Q389.6 275.8 393.0 277.6M411.5 270.6Q412.1 272.8 410.9 277.3M394.5 288.3Q393.9 290.9 392.0 292.7M451.2 224.9Q448.1 225.5 445.6 227.3M423.2 289.0Q419.4 289.4 415.9 289.3M449.3 294.6Q447.7 297.1 443.7 297.5M394.3 258.8Q393.2 261.1 390.5 264.3M458.2 257.2Q457.7 260.1 459.3 264.0M482.2 248.9Q481.3 251.0 480.5 251.4M478.0 251.0Q479.9 253.8 482.6 256.4M395.5 228.6Q398.9 230.3 400.8 231.1M400.1 259.7Q395.5 259.7 393.2 260.9M489.7 277.2Q488.3 280.2 488.4 280.9M461.6 289.1Q463.5 291.1 467.3 294.0M436.8 276.1Q434.3 279.3 431.0 280.5M431.7 296.5Q432.6 299.5 431.5 301.4M405.1 251.3Q404.2 253.3 401.9 257.3M456.9 272.0Q460.3 274.4 463.1 276.7M461.7 291.4Q461.7 292.4 462.5 294.8M443.4 284.2Q443.0 286.7 441.2 290.6M411.8 251.1Q409.4 252.5 406.7 253.5M390.0 279.0Q391.9 279.1 393.3 279.5M393.7 238.6Q394.2 241.5 396.2 245.7M434.0 265.9Q432.0 268.4 430.2 269.5M431.0 244.5Q428.0 246.4 424.9 249.2M414.8 229.2Q411.5 231.8 408.8 233.3M392.0 244.0Q393.6 246.5 394.4 247.5M478.8 270.4Q480.1 271.7 479.1 275.1M485.1 291.4Q482.0 293.4 480.0 293.9M457.7 247.6Q455.4 249.5 454.9 252.2M445.5 276.6Q448.8 278.0 453.1 278.8M458.4 256.7Q458.1 257.8 458.6 260.1M452.3 231.3Q450.4 231.9 447.2 234.3M385.6 236.5Q388.3 237.6 391.5 240.8M444.0 258.7Q441.3 260.0 437.4 262.4M473.8 290.5Q471.4 291.5 466.6 290.8M422.8 235.9Q419.4 239.3 418.3 242.2M447.0 284.3Q444.7 285.8 443.0 288.5M423.0 274.6Q423.8 276.9 423.9 277.6M482.0 247.8Q480.8 248.1 478.8 248.7M428.5 281.0Q425.7 281.8 423.3 282.3M400.9 265.5Q404.1 265.1 405.2 266.9M464.8 276.1Q466.8 277.2 468.8 278.1M389.1 284.0Q391.7 285.2 392.9 284.4M437.8 285.9Q439.6 289.0 443.3 290.2M471.4 288.2Q469.4 289.2 466.2 289.0M398.8 269.5Q401.6 271.3 403.2 274.8M451.3 249.2Q450.6 252.0 451.1 256.2M388.4 232.2Q389.4 235.0 392.7 236.7M419.4 243.5Q415.4 244.0 413.8 245.5M478.1 284.6Q476.6 287.5 474.3 288.6M434.6 268.6Q437.3 269.0 441.5 270.4M404.0 271.4Q402.6 272.8 401.0 273.7M466.6 230.8Q467.6 231.2 469.0 233.6M471.9 285.0Q470.3 284.8 466.4 286.4M446.2 267.4Q446.9 269.9 448.9 270.8M403.6 288.7Q406.0 290.9 406.3 294.6M406.0 272.2Q405.7 274.6 403.9 278.3M400.5 273.9Q396.0 275.4 393.0 275.7M416.8 244.3Q414.1 245.5 413.7 246.0M479.4 298.3Q478.1 300.2 476.1 299.8M461.2 281.0Q461.4 283.6 459.6 287.9M447.4 250.3Q450.9 253.2 452.6 255.6M419.3 247.6Q415.5 250.3 413.0 251.9M455.6 249.2Q457.1 252.1 459.0 253.7M440.0 250.1Q436.6 250.4 432.5 250.4M473.7 245.4Q471.1 247.8 467.4 249.2M485.4 281.0Q486.2 280.9 488.5 281.6M424.6 248.7Q423.2 250.0 420.6 248.9M443.5 280.9Q443.2 284.1 441.6 287.2M479.4 279.3Q480.9 281.0 480.2 284.9M439.5 262.2Q437.1 264.3 434.8 265.6M487.5 290.5Q486.3 290.3 483.9 291.2M469.5 283.7Q470.2 284.6 468.7 287.0M413.4 251.3Q410.0 253.0 408.7 252.8M472.4 228.5Q474.6 231.1 476.0 232.8M448.4 250.3Q449.6 252.2 452.4 252.1M432.2 241.3Q431.4 243.0 429.6 247.0M446.7 238.1Q447.7 239.7 448.9 242.2M397.9 270.5Q394.9 271.8 391.8 273.3M423.5 245.7Q424.4 248.0 426.2 248.2M475.4 242.0Q475.1 245.5 475.0 248.0M478.7 229.8Q476.6 232.0 474.3 232.5M445.9 298.2Q445.4 301.2 443.6 302.6M389.4 233.7Q387.1 235.6 386.3 238.9M408.4 285.6Q406.9 286.1 403.9 286.2M404.2 285.6Q405.5 287.3 407.2 289.0M484.8 258.8Q481.1 259.4 478.0 259.5M405.7 257.1Q407.3 259.9 408.5 260.8M481.8 287.0Q485.9 287.7 488.2 287.2M461.9 267.9Q460.5 269.7 459.0 271.7M438.6 252.9Q435.7 254.7 434.0 254.2M421.4 277.5Q417.8 279.0 414.7 281.3M445.6 256.7Q447.3 258.1 451.3 260.2M421.6 259.9Q423.9 260.7 426.7 262.3M456.3 277.8Q455.2 279.3 453.2 281.1M418.7 250.3Q421.1 252.1 425.8 253.6M446.5 246.4Q444.3 248.5 443.0 249.2M447.3 258.0Q445.8 260.9 445.9 262.8M435.1 292.4Q436.4 294.5 437.2 295.4M395.2 266.0Q394.1 267.3 391.0 270.2M423.5 226.8Q424.4 228.9 426.1 232.5M461.3 230.3Q460.6 233.1 460.4 235.5M386.4 266.3Q389.9 266.4 392.7 267.6M478.9 280.7Q477.7 282.1 476.1 283.4M455.4 277.2Q455.0 278.8 453.1 280.7M450.7 287.0Q449.3 288.5 449.0 291.1M402.2 284.5Q404.7 287.8 405.6 289.5M385.6 231.1Q388.6 233.5 390.0 235.7M387.0 261.2Q388.2 261.3 390.1 263.4M384.4 248.8Q386.7 252.7 387.0 254.9M428.1 225.5Q427.5 228.3 425.2 231.0M405.4 296.7Q408.7 297.6 410.5 298.5M472.0 290.3Q471.7 292.1 471.8 293.8M428.7 228.1Q430.4 228.4 431.9 230.5M391.1 288.8Q390.2 290.2 388.1 293.7M392.2 274.3Q393.0 275.9 395.4 277.2M454.6 231.0Q452.4 233.9 451.5 237.4M421.0 252.9Q419.4 253.7 415.6 255.0M391.0 286.3Q393.7 287.4 396.9 286.8M453.7 233.9Q450.3 236.8 448.6 238.9M417.3 235.7Q414.6 237.9 412.0 240.0M452.2 247.9Q454.8 249.3 457.0 252.5M446.0 245.6Q442.6 245.3 440.5 246.3M395.4 295.3Q396.5 298.4 395.5 302.2M450.6 231.4Q452.4 232.9 453.0 235.8M436.7 247.4Q437.1 249.8 438.3 250.0M442.1 244.2Q442.6 246.6 444.6 249.0M426.9 288.6Q424.8 288.8 423.8 290.2M467.0 246.0Q465.6 247.1 462.0 248.2M476.5 270.1Q475.0 271.8 473.6 274.8M421.7 266.0Q423.1 269.7 424.4 273.4M411.9 266.3Q413.8 268.3 414.5 271.7M482.1 264.6Q482.9 267.4 485.9 270.6M387.1 276.1Q385.8 279.3 384.9 280.9M441.9 229.2Q444.1 230.1 448.5 232.1M410.7 232.4Q410.1 236.2 408.2 238.5M393.9 245.8Q396.2 246.7 399.8 248.7M391.9 259.0Q389.5 261.0 388.6 260.9M397.4 240.1Q395.0 244.5 394.0 246.8M421.1 252.5Q418.4 252.8 417.1 254.1M455.5 278.7Q454.5 280.3 452.1 281.8M437.3 282.2Q436.9 282.8 434.2 282.4M460.5 244.9Q462.6 248.0 462.9 249.9M425.7 294.1Q429.8 295.1 431.7 294.4M428.6 287.8Q426.0 289.3 425.7 289.1M449.3 241.9Q448.1 243.0 445.6 243.3M393.0 231.0Q394.2 233.8 397.0 235.0M427.2 270.7Q426.9 273.0 427.5 276.6M408.3 260.6Q408.2 263.5 406.2 265.7M466.0 229.0Q463.6 229.3 462.9 229.7M430.8 260.1Q431.5 262.1 431.8 265.2M388.1 298.2Q386.9 299.9 385.1 299.7M425.8 283.7Q427.2 287.4 427.1 288.8M408.5 224.0Q411.5 227.0 412.1 230.6M394.8 288.4Q390.9 289.3 389.0 292.7M449.0 264.8Q450.3 267.8 450.0 270.6M451.3 255.2Q453.4 257.1 456.5 260.5M478.2 243.4Q478.5 246.5 478.0 251.3M434.8 260.6Q432.4 262.2 430.5 265.9M479.3 273.6Q482.4 275.8 484.5 279.6M469.0 270.2Q471.4 272.1 475.4 272.2M425.1 228.7Q421.8 230.0 418.1 229.2M443.8 255.6Q443.2 256.7 444.7 258.6M445.4 279.6Q442.7 280.8 441.0 280.2M456.2 229.3Q456.4 231.9 455.8 235.6M424.1 264.9Q424.3 265.3 425.0 268.0M460.8 240.5Q460.9 243.5 459.0 245.3M445.5 262.4Q448.1 263.8 448.5 266.0M413.5 276.1Q410.1 277.2 407.1 276.1M410.1 288.6Q409.9 293.2 411.2 296.0M476.8 274.7Q475.5 275.3 474.7 277.7M446.0 224.2Q446.9 225.8 448.8 228.5M488.2 248.6Q487.5 250.3 484.9 251.1M430.2 275.9Q430.3 279.1 431.8 283.3M441.5 250.7Q441.0 252.7 438.6 252.3M431.9 243.4Q430.6 244.8 427.7 245.5M408.3 257.4Q409.1 259.4 408.8 262.4M441.3 228.5Q442.5 230.1 444.4 232.5M426.4 249.6Q422.9 249.8 419.6 251.1M442.9 257.7Q440.0 258.2 439.0 259.3M409.7 249.5Q407.8 252.4 405.2 253.1M489.1 227.8Q487.5 227.9 485.7 227.9M416.0 267.7Q415.6 269.5 413.8 271.0M436.0 229.0Q433.7 231.2 431.9 235.0M383.5 281.4Q384.9 281.0 386.7 281.7M404.7 235.2Q402.9 236.6 402.7 238.4M426.0 228.8Q426.9 231.3 428.7 233.3M396.0 251.8Q398.8 253.1 403.7 253.3M429.4 292.1Q430.5 296.5 429.7 299.9M426.1 245.5Q425.5 248.8 426.7 249.7M461.3 295.1Q464.2 296.6 465.6 296.5M442.3 227.6Q443.0 228.7 445.6 228.6M436.1 280.5Q438.0 283.2 438.9 285.1M431.0 280.1Q426.7 280.9 423.5 282.6M465.1 248.6Q463.3 250.1 459.8 249.3M406.5 245.7Q406.4 247.3 405.7 248.9M400.1 277.2Q401.8 280.6 404.1 283.8M385.9 255.2Q386.6 255.9 389.7 258.1M399.5 296.0Q395.3 297.6 393.1 297.4M471.3 243.4Q469.6 244.3 466.4 246.4M400.1 237.8Q403.4 238.3 405.9 238.1M431.8 273.6Q434.2 276.8 435.6 277.9M461.2 253.4Q462.1 255.9 461.0 259.1M431.6 251.7Q430.2 252.4 427.3 255.5M434.5 268.0Q432.9 269.9 433.2 271.8M430.2 270.3Q432.3 271.2 436.6 273.9M414.8 230.1Q416.8 233.4 419.7 235.7M407.7 275.9Q409.8 278.3 411.8 280.4M433.4 258.9Q432.1 260.9 429.8 262.2M484.4 248.2Q487.1 249.1 490.4 251.7M458.4 233.5Q459.9 234.7 460.7 237.8M420.0 265.6Q421.1 267.4 422.7 269.1M487.1 235.5Q486.5 239.9 484.1 241.8M474.3 246.9Q475.8 250.6 477.6 253.0M452.2 233.3Q454.2 236.5 454.8 240.5M480.5 245.3Q478.6 245.7 474.7 247.5M425.5 229.6Q426.6 233.5 429.1 235.8M386.2 248.5Q389.0 249.9 391.3 251.9M449.4 296.3Q448.8 297.2 446.6 300.1M431.8 272.6Q433.5 275.6 433.1 277.1M420.3 281.7Q420.1 285.3 419.3 287.6M455.7 225.3Q457.7 228.3 459.5 229.8M404.5 290.3Q400.0 293.1 397.8 293.9M412.7 239.6Q413.1 243.1 411.7 245.7M483.5 226.5Q483.8 229.1 484.0 232.2M390.0 265.6Q390.9 265.3 393.4 266.9M445.6 294.4Q443.6 295.7 441.5 296.7M391.1 228.5Q388.2 229.9 384.0 230.8M384.4 227.7Q386.7 231.6 387.6 234.4M450.2 295.4Q448.9 296.1 446.9 298.4M450.6 242.1Q450.2 242.3 447.5 242.4M450.3 299.7Q451.7 300.2 453.1 301.3M431.3 274.3Q426.3 275.0 423.5 275.4M418.8 240.9Q418.1 244.0 416.3 246.2M470.3 277.2Q470.1 279.2 470.3 281.5M455.4 231.0Q454.9 235.5 453.7 237.8M401.2 273.5Q397.8 276.2 396.2 278.2M440.1 271.0Q441.5 273.8 444.5 277.4M471.9 268.2Q472.6 270.3 475.3 271.2M451.1 296.0Q453.6 297.6 455.9 298.1M450.8 285.9Q453.9 287.6 457.9 289.0M460.5 276.0Q463.7 278.4 466.5 280.7M458.6 275.8Q459.3 277.4 459.9 280.1M400.5 268.4Q401.1 270.8 399.8 272.3M416.5 289.4Q416.2 291.3 415.4 292.5M449.3 256.2Q450.6 258.5 450.2 262.6M428.7 283.1Q430.9 283.9 433.6 283.8M448.4 253.5Q449.8 255.3 453.5 257.3M398.8 270.4Q403.9 269.8 406.8 270.8M391.8 244.1Q395.1 245.1 397.5 244.3M464.7 269.4Q463.1 272.6 461.6 274.0M415.4 257.1Q417.1 259.0 421.1 261.5M474.9 237.0Q476.2 240.7 477.5 242.8M491.5 247.2Q489.3 248.0 487.8 248.6M472.2 289.6Q472.8 291.9 472.3 293.8M411.4 246.0Q408.6 246.0 403.8 248.2M417.3 241.6Q418.8 243.6 420.9 245.0M436.1 276.3Q438.4 278.4 440.4 282.6M408.4 292.7Q410.6 293.8 414.1 293.3M471.4 244.4Q466.8 244.5 463.6 244.8M459.0 284.3Q456.6 285.4 455.8 286.6M403.9 273.8Q402.3 275.2 400.1 276.4M474.7 280.9Q477.5 283.6 479.3 285.9M453.6 279.2Q452.0 283.0 449.8 284.7M391.7 248.9Q390.8 251.1 389.7 253.1M486.8 276.0Q483.6 278.5 480.0 280.1M453.7 288.9Q452.6 292.0 453.0 296.8M410.8 293.4Q413.8 295.4 414.3 296.4M468.5 294.8Q469.7 295.8 472.8 295.8M426.1 238.7Q423.7 240.4 421.8 243.3M456.3 291.4Q460.1 291.6 462.1 291.5M405.2 231.9Q405.8 236.4 404.7 239.9M432.4 286.8Q429.5 289.1 425.2 290.0M468.6 237.6Q468.0 237.0 465.0 238.2M406.3 270.1Q406.0 273.1 407.2 277.4M477.9 285.5Q474.9 287.2 473.1 289.5M445.1 278.3Q444.1 280.4 442.0 281.3M451.9 229.0Q451.8 231.1 451.9 233.2M394.5 236.6Q396.1 239.1 398.6 241.3M465.8 265.8Q463.4 268.4 458.8 269.0M451.8 298.2Q455.5 299.6 457.7 298.8M426.3 280.0Q425.0 282.2 421.8 282.3M419.8 247.6Q417.7 249.7 415.0 250.5M414.3 251.6Q411.9 253.0 409.3 254.1M468.1 247.2Q466.3 248.6 463.2 248.1M442.0 246.4Q440.9 246.7 438.9 247.6M473.2 241.1Q471.4 243.3 470.5 244.7M439.8 270.4Q439.5 271.3 438.6 274.1M440.3 293.0Q441.8 295.6 441.8 295.8M431.2 284.1Q431.2 287.6 432.9 289.0M456.9 277.3Q452.7 278.9 449.4 279.0M401.3 244.7Q397.8 245.3 396.2 246.4M400.1 241.7Q400.3 244.3 398.9 245.1M442.6 231.4Q440.4 232.1 437.0 232.5M402.1 295.5Q399.7 296.7 397.3 297.7M488.1 230.0Q488.8 233.4 487.7 235.7M395.6 275.9Q396.7 277.0 398.3 277.5M399.2 285.5Q400.1 287.7 400.2 292.1M424.7 293.6Q427.0 295.7 430.5 297.0M395.0 255.3Q395.6 257.8 397.9 258.5M390.3 231.4Q389.4 234.9 390.5 236.5M449.4 247.6Q452.1 246.9 457.0 248.0M476.7 292.2Q478.9 291.4 481.0 292.7M478.8 225.4Q479.7 226.5 479.0 228.8M441.9 234.3Q442.1 234.8 444.4 237.2M404.1 291.1Q402.4 292.1 399.6 295.2M468.5 253.5Q464.8 255.7 462.4 256.6M453.7 229.7Q456.1 230.3 457.5 230.7M390.1 264.4Q390.0 266.4 389.8 268.0M392.9 253.6Q391.1 256.6 391.6 258.1M403.7 267.3Q404.5 269.4 407.1 269.2M386.0 273.6Q386.2 276.7 388.8 280.8M444.0 285.5Q445.0 287.0 448.1 289.5M479.7 248.1Q482.5 250.6 482.9 251.8M472.1 269.5Q474.3 269.7 478.0 271.7M382.9 280.6Q386.3 282.7 388.8 284.3M441.4 235.2Q441.3 239.8 442.3 242.8M476.5 265.1Q476.9 267.6 476.7 269.6M431.6 234.8Q431.4 236.9 431.9 240.8M388.0 279.9Q388.4 283.0 389.2 286.1M467.9 298.9Q463.9 300.1 461.8 299.2M445.4 252.5Q448.7 253.0 453.2 252.7M473.1 280.3Q473.5 282.1 474.5 283.1M394.1 285.2Q393.7 288.6 392.0 290.9M414.8 269.7Q412.8 271.2 410.0 273.8M457.3 274.1Q455.8 274.9 454.2 274.2M392.6 248.1Q391.6 250.3 390.4 253.1M428.0 235.7Q427.1 238.4 426.0 243.3M426.1 240.2Q426.6 243.5 425.2 244.5M449.8 293.9Q448.7 295.1 446.6 295.6M428.3 297.8Q425.2 297.6 423.1 298.5M400.2 259.8Q399.2 259.5 397.2 260.9M426.9 264.3Q427.1 266.1 428.3 270.1M385.9 282.9Q386.4 286.4 387.7 290.6M395.0 228.1Q399.3 227.0 402.6 228.2M454.6 239.3Q454.1 243.1 454.5 245.9M471.4 241.4Q473.9 242.8 474.7 243.5M442.9 229.5Q440.0 228.5 436.5 229.9M458.1 254.0Q457.3 255.7 455.8 258.2M460.1 269.7Q456.2 271.1 453.1 272.9M462.6 267.2Q461.9 268.4 459.9 271.4M436.7 258.3Q438.7 261.0 438.8 263.1M427.9 276.1Q424.9 277.9 421.0 278.1M423.9 254.1Q425.0 256.3 427.6 256.1M425.1 276.0Q426.5 278.1 427.1 278.9M479.9 254.5Q481.7 256.6 485.6 258.3M400.5 228.3Q402.7 231.4 405.5 232.3M443.6 270.0Q442.3 273.5 442.3 274.7M466.5 284.7Q466.0 286.6 466.3 290.3M416.4 234.8Q417.2 237.3 419.5 238.0M484.2 289.9Q483.3 290.7 480.4 293.8M433.9 297.8Q437.0 297.8 439.4 299.0M441.9 273.6Q443.1 275.0 442.4 277.8M431.3 288.6Q435.5 289.6 437.4 289.4M450.0 294.9Q449.6 296.1 447.9 298.9M486.2 264.4Q485.4 266.0 485.0 267.4M477.4 267.9Q479.2 270.0 480.1 274.5M452.2 273.3Q454.0 275.0 455.7 275.5M472.6 284.0Q469.8 285.1 466.9 288.1M434.0 246.3Q435.6 248.6 438.4 250.9M478.1 281.0Q480.8 282.6 483.2 284.4M449.8 274.6Q451.8 276.9 452.9 278.3M482.2 274.4Q482.6 274.9 481.8 277.6M475.1 245.5Q476.2 245.5 478.4 246.9M472.2 255.4Q471.4 257.0 468.3 258.1M450.3 242.4Q454.1 241.7 456.9 243.3M435.0 228.2Q433.0 229.1 432.7 232.0M413.4 261.4Q416.0 263.1 419.5 262.9M449.8 260.5Q452.6 260.6 455.0 262.1M402.8 233.7Q406.0 237.0 408.1 238.2M397.7 265.5Q396.1 266.4 393.3 267.4M475.5 231.8Q478.6 231.9 480.9 232.1M397.9 292.6Q400.2 294.8 402.9 296.1M418.9 252.1Q420.0 253.1 422.0 255.4M486.0 270.7Q488.1 273.2 489.2 277.6M434.9 279.4Q433.9 281.3 432.2 282.7M467.2 287.5Q467.3 288.9 469.7 291.2M486.6 241.6Q484.8 242.7 483.5 243.0M399.3 286.9Q397.8 285.9 395.8 287.1M481.4 284.5Q482.4 285.2 483.9 286.8M482.2 285.1Q482.5 285.8 483.5 288.6M471.6 270.0Q470.7 271.6 470.2 273.0M393.4 274.6Q391.9 277.5 392.5 278.3M471.6 269.1Q473.3 269.0 475.4 269.3M470.1 299.0Q473.8 301.4 475.2 302.4M478.6 231.1Q479.4 230.8 481.7 232.3M421.8 288.8Q422.9 292.1 424.6 296.2M451.5 288.9Q451.4 291.8 451.0 292.5M410.1 233.6Q409.8 234.1 409.8 237.0M465.2 285.4Q465.9 288.1 467.4 290.9M429.3 247.8Q427.3 248.8 425.6 249.0M444.6 282.5Q445.6 283.3 448.4 285.3M432.0 263.0Q433.8 266.7 435.7 269.0M491.8 239.7Q489.5 240.7 488.1 241.0M483.8 244.0Q482.0 244.7 480.0 244.7M391.6 243.1Q393.1 244.1 393.0 246.4M468.9 277.4Q472.0 278.6 475.5 280.6M414.9 228.5Q417.8 230.8 420.7 233.9M453.0 285.1Q455.1 286.1 459.4 285.8M448.8 270.8Q447.6 273.0 448.8 274.3M468.5 263.3Q471.6 264.4 475.6 263.4M423.9 230.3Q425.7 233.7 427.6 235.7M427.3 272.5Q430.4 272.7 434.9 274.7M478.4 298.3Q476.8 299.0 476.0 301.9M482.2 265.1Q479.9 265.4 479.0 265.9M390.1 274.5Q391.7 276.6 392.4 279.0M466.5 242.9Q468.6 244.4 472.6 243.8M454.1 231.2Q455.2 232.0 458.5 233.3M468.8 251.6Q473.5 253.7 476.3 254.4M422.8 249.8Q421.6 249.3 419.7 251.1M438.1 247.6Q436.9 248.2 435.9 250.6M392.8 278.4Q392.5 282.4 392.8 285.3M439.3 285.6Q438.1 286.0 435.4 285.9M469.6 226.7Q473.5 227.5 476.8 229.2M430.3 253.4Q429.1 254.5 425.7 255.8M423.2 253.1Q427.1 253.7 428.7 255.9M433.2 298.1Q430.4 301.2 428.4 302.6M472.6 272.5Q473.3 275.8 473.3 277.3M395.6 290.8Q393.4 292.7 392.1 292.7M452.4 236.1Q449.8 236.4 446.0 238.8M458.8 254.2Q461.5 255.6 466.5 256.1M477.5 268.5Q480.2 269.1 481.1 271.0M456.7 277.1Q459.1 278.4 463.1 279.3M402.4 236.1Q403.9 237.1 404.2 240.2M485.5 238.4Q482.4 241.9 481.5 244.8M399.7 230.7Q400.4 232.4 402.8 234.4M471.6 258.6Q475.4 260.0 477.1 263.2M416.5 233.2Q419.3 234.6 422.6 237.3M403.9 292.9Q405.8 294.4 406.2 296.5M397.5 259.2Q398.9 261.1 402.6 262.5M398.9 243.6Q395.7 243.4 391.8 245.3M470.9 294.3Q474.1 295.1 476.5 296.5M488.6 230.1Q487.6 233.2 488.9 234.8M454.0 293.4Q455.3 296.1 455.4 297.4M400.1 251.1Q403.4 252.8 405.1 256.5M483.6 229.8Q482.3 231.5 478.8 234.0" fill="none" stroke="#a6a6a6" stroke-opacity="0.5" stroke-width="0.65" stroke-linecap="round"/>
<ellipse cx="430" cy="238" rx="2.6" ry="2" fill="#333" fill-opacity="0.75"/>
<ellipse cx="439" cy="254" rx="2.6" ry="1.6" fill="#333" fill-opacity="0.75"/>
<ellipse cx="388" cy="252" rx="2" ry="2" fill="#333" fill-opacity="0.75"/>
<ellipse cx="401.5" cy="232.5" rx="2" ry="1.6" fill="#333" fill-opacity="0.75"/>
<ellipse cx="418" cy="246" rx="1.6" ry="1.3" fill="#333" fill-opacity="0.75"/>
<ellipse cx="395" cy="240" rx="1.5" ry="1.2" fill="#333" fill-opacity="0.75"/>
<ellipse cx="452" cy="262" rx="1.6" ry="1.2" fill="#333" fill-opacity="0.75"/>
<ellipse cx="410" cy="257" rx="1.5" ry="1.2" fill="#333" fill-opacity="0.75"/>
<ellipse cx="437" cy="228" rx="1.5" ry="1.1" fill="#333" fill-opacity="0.75"/>
</g></g>
<path d="M453,236 L469,238.7 L481.5,247.5 L487,260 L484,272.5 L476.5,282.5 L466,288 L462,270 L456,250 Z" fill="#8a8a8a" fill-opacity="0.4" filter="url(#bl3)"/>
<path d="M386.5,271 Q387.5,278 392,284 Q399,292 406,298.5 Q415,306.5 421.5,314.5" stroke="#454545" stroke-width="0.95" fill="none"/>
<rect x="385.00" y="226.00" width="128.00" height="0.80" fill="#6a6a6a" />
<rect x="500.50" y="309.30" width="10.00" height="1.60" fill="#f4f4f4" />
</g>
<rect x="0" y="0" width="520" height="1" fill="#585858"/>
<rect x="0" y="0" width="1" height="431" fill="#555"/>
<rect x="519" y="0" width="1" height="431" fill="#2c2c2c"/>
<rect x="0" y="430" width="520" height="1" fill="#3e3e3e"/>
</svg>
</body></html>
